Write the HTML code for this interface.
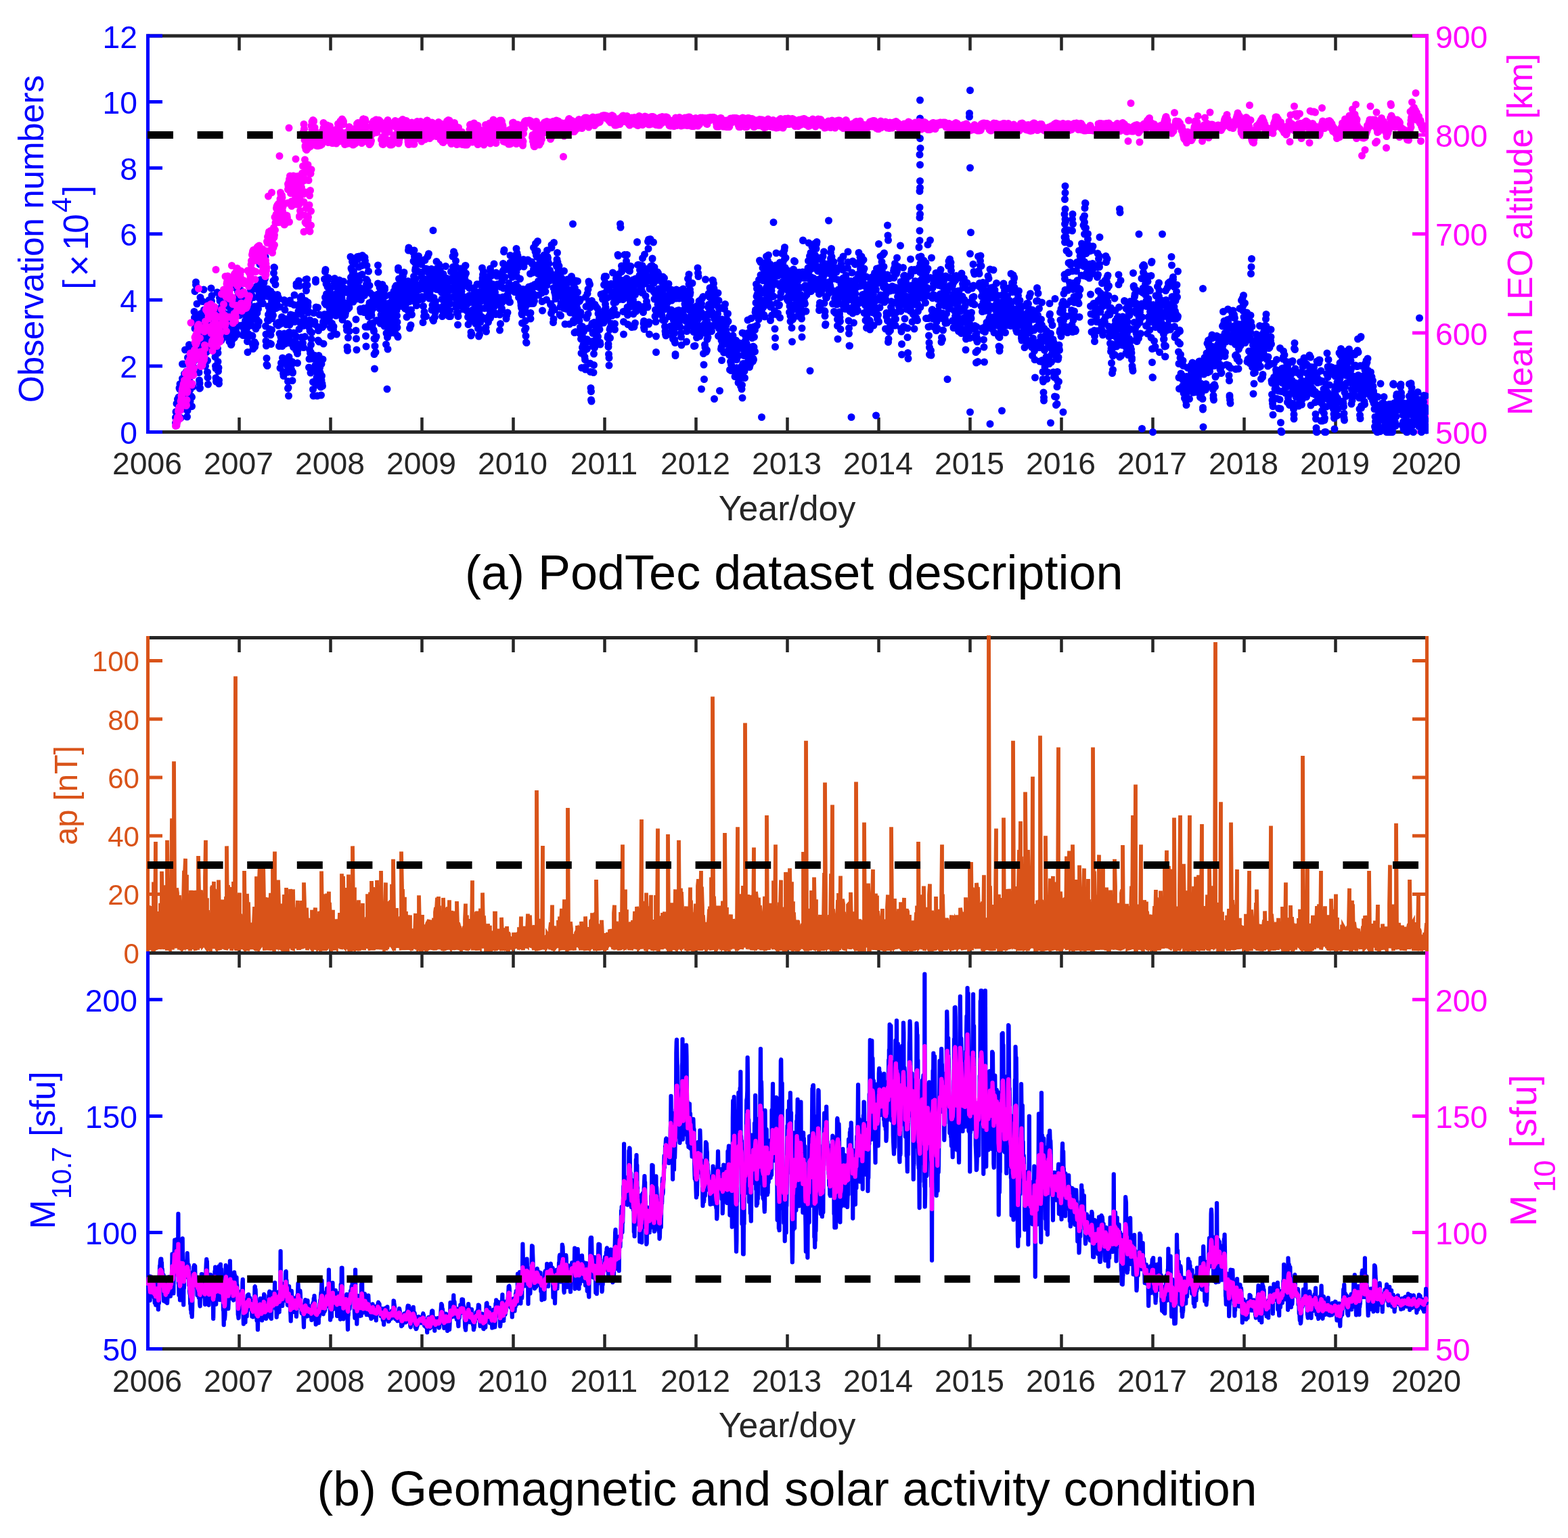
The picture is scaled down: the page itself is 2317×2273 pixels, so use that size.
<!DOCTYPE html><html><head><meta charset="utf-8"><title>PodTec dataset figure</title>
<style>html,body{margin:0;padding:0;background:#fff;overflow:hidden}svg{display:block}text{font-family:'Liberation Sans', Arial, Helvetica, sans-serif}</style></head><body>
<svg xmlns="http://www.w3.org/2000/svg" width="2317" height="2273" viewBox="0 0 2317 2273">
<rect width="2317" height="2273" fill="#fff"/>
<defs><clipPath id="ca"><rect x="216" y="30" width="1895" height="630"/></clipPath><clipPath id="cb"><rect x="216" y="939" width="1895" height="469"/></clipPath><clipPath id="cc"><rect x="216" y="1406" width="1895" height="590"/></clipPath></defs>
<path d="M216 53L2111 53" stroke="#262626" stroke-width="5"/><path d="M216 638.5L2111 638.5" stroke="#262626" stroke-width="5"/><path d="M218.5 638.5v-21.5M218.5 53v21.5M353.5 638.5v-21.5M353.5 53v21.5M488.5 638.5v-21.5M488.5 53v21.5M623.5 638.5v-21.5M623.5 53v21.5M758.5 638.5v-21.5M758.5 53v21.5M893.5 638.5v-21.5M893.5 53v21.5M1028.5 638.5v-21.5M1028.5 53v21.5M1163.5 638.5v-21.5M1163.5 53v21.5M1298.5 638.5v-21.5M1298.5 53v21.5M1433.5 638.5v-21.5M1433.5 53v21.5M1568.5 638.5v-21.5M1568.5 53v21.5M1703.5 638.5v-21.5M1703.5 53v21.5M1838.5 638.5v-21.5M1838.5 53v21.5M1973.5 638.5v-21.5M1973.5 53v21.5M2108.5 638.5v-21.5M2108.5 53v21.5" stroke="#262626" stroke-width="4.5"/><path d="M218.5 50.5L218.5 641" stroke="#0000ff" stroke-width="5"/><path d="M2108.5 50.5L2108.5 641" stroke="#ff00ff" stroke-width="5"/><path d="M218.5 638.5h21.5M218.5 540.9h21.5M218.5 443.3h21.5M218.5 345.8h21.5M218.5 248.2h21.5M218.5 150.6h21.5M218.5 53h21.5" stroke="#0000ff" stroke-width="5"/><path d="M2108.5 638.5h-21.5M2108.5 492.1h-21.5M2108.5 345.8h-21.5M2108.5 199.4h-21.5M2108.5 53h-21.5" stroke="#ff00ff" stroke-width="5"/>
<g clip-path="url(#ca)" fill="none" stroke-width="11" stroke-linecap="round">
<path d="M259.5 625h0m0 -8h0m.5 -8.5h0m.5 19.5h0m.5 -8.5h0m0 -23h0m.5 27.5h0m.5 -2h0m.5 -32h0m0 6h0m.5 1h0m.5 -4h0m.5 -6h0m0 6.5h0m.5 7h0m.5 -27h0m.5 1.5h0m0 15h0m.5 -22.5h0m.5 26.5h0m0 -19.5h0m.5 43h0m.5 -24h0m.5 1.5h0m0 8h0m.5 -19.5h0m.5 21h0m.5 -45h0m0 -21.5h0m.5 55h0m.5 -19.5h0m.5 10h0m0 14h0m.5 -59.5h0m.5 35.5h0m.5 5.5h0m0 -26.5h0m.5 27.5h0m.5 -63h0m.5 59.5h0m0 6.5h0m.5 1h0m.5 -13.5h0m0 -14h0m.5 -7.5h0m.5 8.5h0m.5 41.5h0m0 17h0m.5 -9h0m.5 -78.5h0m.5 48.5h0m0 -17h0m.5 28.5h0m.5 2h0m.5 -81h0m0 29h0m.5 24.5h0m.5 6.5h0m.5 24h0m0 -17.5h0m.5 24.5h0m.5 -87h0m.5 34h0m0 38h0m.5 -55.5h0m.5 57h0m0 13.5h0m.5 -71.5h0m.5 -10.5h0m.5 53h0m0 -60h0m.5 30.5h0m.5 -7.5h0m.5 13.5h0m0 -35.5h0m.5 -52h0m.5 9h0m.5 -39h0m0 55h0m.5 -11h0m.5 6h0m.5 -59.5h0m0 -4h0m.5 56.5h0m.5 -1h0m.5 13h0m0 -36.5h0m.5 65.5h0m.5 -15.5h0m0 -30h0m.5 24.5h0m.5 24.5h0m.5 12.5h0m0 19h0m.5 1h0m.5 11.5h0m.5 4.5h0m0 7.5h0m.5 -.5h0m.5 -134h0m.5 60.5h0m0 -13.5h0m.5 -23h0m.5 8.5h0m.5 8.5h0m0 46h0m.5 -22.5h0m.5 5h0m.5 -63.5h0m0 60h0m.5 -9.5h0m.5 -16.5h0m0 21.5h0m.5 -73h0m.5 30h0m.5 37h0m0 -21h0m.5 32.5h0m.5 -41h0m.5 39h0m0 36.5h0m.5 -10h0m.5 -32.5h0m.5 -5.5h0m0 27.5h0m.5 -29h0m.5 24h0m.5 17.5h0m0 17h0m.5 8h0m.5 10h0m.5 -53h0m0 -15.5h0m.5 -35h0m.5 -21h0m0 5.5h0m.5 12h0m.5 43.5h0m.5 -59.5h0m0 24.5h0m.5 29.5h0m.5 -20h0m.5 16h0m0 -69h0m.5 19h0m.5 -8h0m.5 28h0m0 19h0m.5 -19.5h0m.5 40h0m.5 3.5h0m0 2.5h0m.5 -34h0m.5 37.5h0m.5 -36h0m0 6h0m.5 14h0m.5 -25h0m0 40h0m.5 14.5h0m.5 13.5h0m.5 3.5h0m0 14h0m.5 5.5h0m.5 -100h0m.5 9.5h0m0 12.5h0m.5 -54h0m.5 83h0m.5 6.5h0m0 13h0m.5 14h0m.5 -5h0m.5 18.5h0m0 5h0m.5 -109.5h0m.5 -17.5h0m.5 4.5h0m0 46h0m.5 -30h0m.5 31h0m0 -33h0m.5 -3.5h0m.5 48h0m.5 -70h0m0 21h0m.5 -2h0m.5 14h0m.5 -29h0m0 31.5h0m.5 -7.5h0m.5 27.5h0m.5 -10.5h0m0 -9h0m.5 -4.5h0m.5 -13h0m.5 28h0m0 -35.5h0m.5 50.5h0m.5 -49.5h0m.5 37.5h0m0 11h0m.5 -41.5h0m.5 15.5h0m0 7h0m.5 -27.5h0m.5 51.5h0m.5 -34h0m0 21h0m.5 -18h0m.5 8.5h0m.5 23.5h0m0 -14h0m.5 -21.5h0m.5 30.5h0m.5 10.5h0m0 -18h0m.5 -9h0m.5 -30h0m.5 49h0m0 -41h0m.5 18h0m.5 35.5h0m.5 -9h0m0 8h0m.5 -41h0m.5 10.5h0m0 17.5h0m.5 6.5h0m.5 -44.5h0m.5 5h0m0 21.5h0m.5 -8.5h0m.5 -51h0m.5 -2h0m0 -1.5h0m.5 78h0m.5 -21h0m.5 -16h0m0 23.5h0m.5 8.5h0m.5 -6.5h0m.5 -8.5h0m0 -20h0m.5 -12.5h0m.5 48h0m.5 -1h0m0 -41h0m.5 -14h0m.5 -7.5h0m0 30h0m.5 -22.5h0m.5 -8.5h0m.5 3.5h0m0 -7.5h0m.5 36.5h0m.5 3.5h0m.5 -31h0m0 27h0m.5 -32h0m.5 -1h0m.5 -11.5h0m0 27h0m.5 36.5h0m.5 -43h0m.5 6.5h0m0 5.5h0m.5 6.5h0m.5 3h0m.5 24h0m0 12h0m.5 -13h0m.5 -18.5h0m0 31.5h0m.5 -39h0m.5 33h0m.5 -8.5h0m0 -44h0m.5 49.5h0m.5 -12.5h0m.5 20.5h0m0 -52h0m.5 30h0m.5 10h0m.5 3h0m0 -19.5h0m.5 9.5h0m.5 29h0m.5 16h0m0 -21.5h0m.5 -26.5h0m.5 21h0m.5 -38h0m0 7.5h0m.5 -17h0m.5 8.5h0m0 15.5h0m.5 -6.5h0m.5 3.5h0m.5 -9h0m0 15.5h0m.5 -45h0m.5 45.5h0m.5 7h0m0 -11h0m.5 -33.5h0m.5 59.5h0m.5 .5h0m0 11h0m.5 2h0m.5 6h0m.5 -76h0m0 19.5h0m.5 -32h0m.5 36h0m.5 -10h0m0 52.5h0m.5 7h0m.5 -44h0m0 14h0m.5 25.5h0m.5 -22h0m.5 -14.5h0m0 -.5h0m.5 -13h0m.5 -35h0m.5 39.5h0m0 10.5h0m.5 -20h0m.5 28.5h0m.5 -25h0m0 -4h0m.5 -1h0m.5 24h0m.5 -35h0m0 -7.5h0m.5 -12.5h0m.5 -30h0m.5 52h0m0 -27h0m.5 -2h0m.5 4.5h0m0 -32h0m.5 .5h0m.5 -1.5h0m.5 -.5h0m0 -.5h0m.5 56.5h0m.5 7.5h0m.5 .5h0m0 -20.5h0m.5 -12h0m.5 13h0m.5 -11h0m0 -5h0m.5 18.5h0m.5 -46.5h0m.5 42.5h0m0 -15.5h0m.5 -32.5h0m.5 102.5h0m.5 12h0m0 10h0m.5 7h0m.5 18.5h0m0 9.5h0m.5 .5h0m.5 1h0m.5 -113.5h0m0 46h0m.5 -35h0m.5 27h0m.5 8.5h0m0 -20h0m.5 16h0m.5 -17.5h0m.5 34.5h0m0 -26h0m.5 47h0m.5 -17h0m.5 -60h0m0 64.5h0m.5 13.5h0m.5 -44.5h0m.5 -18.5h0m0 42h0m.5 -17h0m.5 -30.5h0m.5 -4.5h0m0 -1h0m.5 31.5h0m.5 -8.5h0m0 -42.5h0m.5 -11.5h0m.5 -8.5h0m.5 .5h0m0 46.5h0m.5 7.5h0m.5 -37.5h0m.5 8.5h0m0 26h0m.5 -6h0m.5 15h0m.5 23.5h0m0 -34.5h0m.5 1h0m.5 -5h0m.5 1.5h0m0 -6.5h0m.5 44.5h0m.5 1h0m.5 -41h0m0 36.5h0m.5 -35h0m.5 70h0m0 -33h0m.5 14.5h0m.5 -39.5h0m.5 25.5h0m0 65h0m.5 -38.5h0m.5 -7.5h0m.5 38.5h0m0 -37h0m.5 7h0m.5 -38h0m.5 43h0m0 -9.5h0m.5 27h0m.5 5.5h0m.5 1.5h0m0 16h0m.5 3.5h0m.5 -5.5h0m.5 -57h0m0 -49.5h0m.5 34h0m.5 -19.5h0m0 39.5h0m.5 10.5h0m.5 -60.5h0m.5 53h0m0 -29h0m.5 8h0m.5 -31.5h0m.5 84h0m0 6.5h0m.5 2h0m.5 9.5h0m.5 13.5h0m0 10.5h0m.5 -1h0m.5 12h0m.5 -86.5h0m0 29h0m.5 -36.5h0m.5 -11h0m.5 -36h0m0 63h0m.5 -38h0m.5 -20.5h0m0 16.5h0m.5 7.5h0m.5 73.5h0m.5 1.5h0m0 -9h0m.5 -4h0m.5 28h0m.5 -11.5h0m0 -1h0m.5 -84h0m.5 47h0m.5 -39.5h0m0 18.5h0m.5 -41.5h0m.5 -14.5h0m.5 39.5h0m0 -6h0m.5 34.5h0m.5 10h0m.5 -17.5h0m0 16.5h0m.5 4.5h0m.5 -98h0m0 3h0m.5 93h0m.5 -41h0m.5 62h0m0 -14h0m.5 -5h0m.5 -66h0m.5 8.5h0m0 -9.5h0m.5 -35.5h0m.5 71.5h0m.5 -64h0m0 41.5h0m.5 -4h0m.5 -12h0m.5 -7h0m0 67.5h0m.5 -29.5h0m.5 32.5h0m.5 -13h0m0 -60.5h0m.5 18h0m.5 19.5h0m0 -14.5h0m.5 -12.5h0m.5 58.5h0m.5 -60.5h0m0 35h0m.5 32h0m.5 -43h0m.5 -16h0m0 -2h0m.5 -.5h0m.5 45.5h0m.5 -43h0m0 -32h0m.5 22h0m.5 -31.5h0m.5 16.5h0m0 -7.5h0m.5 51.5h0m.5 -61h0m.5 43.5h0m0 -34.5h0m.5 54h0m.5 -23h0m0 -5.5h0m.5 15h0m.5 21h0m.5 -22h0m0 82h0m.5 -12.5h0m.5 -14h0m.5 -43.5h0m0 16h0m.5 33h0m.5 29h0m.5 -30h0m0 -11.5h0m.5 -8.5h0m.5 -9.5h0m.5 37.5h0m0 -51h0m.5 52h0m.5 18h0m.5 16.5h0m0 11h0m.5 9.5h0m.5 0h0m0 -122.5h0m.5 67h0m.5 -50.5h0m.5 63.5h0m0 -67h0m.5 50h0m.5 14.5h0m.5 -123.5h0m0 -3h0m.5 40.5h0m.5 95.5h0m.5 8.5h0m0 11h0m.5 16h0m.5 0h0m.5 -130.5h0m0 28.5h0m.5 20h0m.5 -14.5h0m.5 46h0m0 -9h0m.5 -20.5h0m.5 -40h0m0 71.5h0m.5 7h0m.5 7h0m.5 2h0m0 13.5h0m.5 6h0m.5 12h0m.5 -22h0m0 -24h0m.5 17.5h0m.5 11.5h0m.5 3.5h0m0 -87h0m.5 47.5h0m.5 -55h0m.5 -8.5h0m0 40.5h0m.5 -27h0m.5 -10h0m.5 -6.5h0m0 -52h0m.5 35.5h0m.5 -8.5h0m0 -38h0m.5 -3h0m.5 51.5h0m.5 -8h0m0 -22.5h0m.5 15h0m.5 2.5h0m.5 9.5h0m0 -32h0m.5 9.5h0m.5 -2h0m.5 -11.5h0m0 24h0m.5 29h0m.5 3h0m.5 .5h0m0 3h0m.5 -14.5h0m.5 -27h0m.5 17h0m0 31h0m.5 8h0m.5 12h0m0 -40.5h0m.5 .5h0m.5 -19h0m.5 47h0m0 -6.5h0m.5 -22.5h0m.5 8.5h0m.5 1h0m0 -22.5h0m.5 44.5h0m.5 -4.5h0m.5 -29h0m0 -12h0m.5 -24.5h0m.5 -5.5h0m.5 36.5h0m0 -25h0m.5 12h0m.5 23.5h0m.5 -9.5h0m0 17.5h0m.5 -9.5h0m.5 7.5h0m0 29.5h0m.5 -59h0m.5 10h0m.5 -17.5h0m0 23h0m.5 -1.5h0m.5 8.5h0m.5 -20h0m0 -13h0m.5 -6h0m.5 -4.5h0m.5 34.5h0m0 -20h0m.5 27h0m.5 -15.5h0m.5 26h0m0 -29.5h0m.5 5h0m.5 6.5h0m.5 11.5h0m0 -19.5h0m.5 4h0m.5 6h0m0 22.5h0m.5 -8.5h0m.5 -36.5h0m.5 -11.5h0m0 35.5h0m.5 -24.5h0m.5 -1h0m.5 32.5h0m0 -5h0m.5 -25.5h0m.5 38h0m.5 -34h0m0 30.5h0m.5 -13.5h0m.5 -.5h0m.5 34h0m0 -30.5h0m.5 36h0m.5 25h0m.5 5h0m0 -39.5h0m.5 -22h0m.5 42.5h0m0 -44.5h0m.5 26h0m.5 -54h0m.5 63h0m0 -35h0m.5 -9h0m.5 -4h0m.5 -5.5h0m0 -18.5h0m.5 -38h0m.5 30.5h0m.5 -13.5h0m0 16h0m.5 -14.5h0m.5 15.5h0m.5 -13.5h0m0 -13.5h0m.5 19.5h0m.5 22h0m.5 18h0m0 -55.5h0m.5 10.5h0m.5 -10.5h0m0 37.5h0m.5 -6h0m.5 -32h0m.5 49h0m0 -52h0m.5 27.5h0m.5 22.5h0m.5 35h0m0 16.5h0m.5 12h0m.5 16.5h0m.5 -75.5h0m0 -30h0m.5 -32h0m.5 45h0m.5 -11.5h0m0 -30h0m.5 25h0m.5 24h0m.5 -53h0m0 15.5h0m.5 20.5h0m.5 10h0m0 6h0m.5 -3h0m.5 28.5h0m.5 2.5h0m0 1.5h0m.5 -17.5h0m.5 -12h0m.5 -38.5h0m0 13.5h0m.5 -.5h0m.5 -28h0m.5 57.5h0m0 -3.5h0m.5 26h0m.5 -28.5h0m.5 32h0m0 -5.5h0m.5 6h0m.5 -25h0m.5 -56h0m0 45.5h0m.5 -40.5h0m.5 44h0m0 53.5h0m.5 13.5h0m.5 15.5h0m.5 -92h0m0 -7h0m.5 -20.5h0m.5 65h0m.5 -42h0m0 5.5h0m.5 2h0m.5 60h0m.5 -82h0m0 67h0m.5 -16h0m.5 1h0m.5 -31h0m0 25.5h0m.5 -15h0m.5 46h0m.5 -31.5h0m0 15h0m.5 16.5h0m.5 -17h0m0 1h0m.5 3.5h0m.5 -16.5h0m.5 32h0m0 -46h0m.5 21h0m.5 21h0m.5 -30h0m0 -5h0m.5 45h0m.5 2h0m.5 11h0m0 23h0m.5 21.5h0m.5 -33.5h0m.5 -10.5h0m0 0h0m.5 19.5h0m.5 -70h0m.5 47h0m0 -50h0m.5 26h0m.5 -20h0m0 -5.5h0m.5 1h0m.5 -14h0m.5 -16h0m0 -27h0m.5 10h0m.5 35.5h0m.5 10.5h0m0 -14h0m.5 4h0m.5 -13h0m.5 23h0m0 8.5h0m.5 21.5h0m.5 -44h0m.5 31.5h0m0 -29.5h0m.5 -9h0m.5 -4.5h0m.5 40h0m0 -13.5h0m.5 -28.5h0m.5 57h0m0 -40h0m.5 7h0m.5 -6h0m.5 14.5h0m0 18h0m.5 -43h0m.5 54h0m.5 -56.5h0m0 2.5h0m.5 37.5h0m.5 -15h0m.5 8h0m0 -21.5h0m.5 72h0m.5 -16.5h0m.5 -14.5h0m0 -20h0m.5 2h0m0 115h0m.5 -76.5h0m.5 17.5h0m0 -53.5h0m.5 7h0m.5 14.5h0m0 -35.5h0m.5 20.5h0m.5 -5h0m.5 8h0m0 -7h0m.5 13.5h0m.5 -8h0m.5 -34.5h0m0 33h0m.5 23h0m.5 -13.5h0m.5 -21h0m0 -.5h0m.5 16h0m.5 -29.5h0m.5 9h0m0 -5.5h0m.5 15.5h0m.5 21.5h0m.5 -39.5h0m0 6.5h0m.5 -20.5h0m.5 57.5h0m.5 -43h0m0 25.5h0m.5 -34.5h0m.5 -11.5h0m0 68h0m.5 -14.5h0m.5 -53h0m.5 -3h0m0 14.5h0m.5 22.5h0m.5 7.5h0m.5 9.5h0m0 8h0m.5 12.5h0m.5 1.5h0m.5 -99h0m0 -3h0m.5 39.5h0m.5 -23.5h0m.5 25.5h0m0 4h0m.5 3h0m.5 8h0m.5 -22h0m0 19.5h0m.5 -23.5h0m.5 7h0m0 -22h0m.5 29h0m.5 5.5h0m.5 -6h0m0 -22.5h0m.5 -8h0m.5 -4h0m.5 10.5h0m0 -8h0m.5 12.5h0m.5 28.5h0m.5 -11.5h0m0 -35h0m.5 36.5h0m.5 -23h0m.5 40h0m0 -23h0m.5 18.5h0m.5 -18.5h0m.5 -9.5h0m0 17.5h0m.5 -17.5h0m.5 45h0m0 -22.5h0m.5 1h0m.5 -15h0m.5 26.5h0m0 -35.5h0m.5 -7.5h0m.5 -45.5h0m.5 -3h0m0 -1h0m.5 95h0m.5 -15.5h0m.5 39.5h0m0 -43h0m.5 16h0m.5 -39.5h0m.5 62h0m0 -17h0m.5 -5.5h0m.5 -18h0m.5 -5h0m0 30h0m.5 -20.5h0m.5 -28.5h0m0 10.5h0m.5 6.5h0m.5 -60h0m.5 13h0m0 45.5h0m.5 -23h0m.5 -38.5h0m.5 67.5h0m0 -58h0m.5 8.5h0m.5 11.5h0m.5 12.5h0m0 -15.5h0m.5 28.5h0m.5 -4.5h0m.5 31h0m0 -20.5h0m.5 -2h0m.5 10h0m.5 -15h0m0 4h0m.5 -27h0m.5 -12.5h0m0 54.5h0m.5 -64.5h0m.5 45h0m.5 19.5h0m0 -15h0m.5 -26h0m.5 -15h0m.5 15.5h0m0 24.5h0m.5 -40h0m.5 33h0m.5 -29.5h0m0 49h0m.5 -31h0m.5 30h0m.5 -22h0m0 1.5h0m.5 24h0m.5 34.5h0m.5 -50h0m0 26h0m.5 -30.5h0m.5 -21h0m0 66.5h0m.5 -6.5h0m.5 -48.5h0m.5 -28h0m0 -1h0m.5 30h0m.5 -16.5h0m.5 70.5h0m0 -30h0m.5 -20h0m.5 1.5h0m.5 -21.5h0m0 36.5h0m.5 -11h0m.5 -44h0m.5 53h0m0 -2.5h0m.5 -11.5h0m.5 -43h0m.5 64.5h0m0 -35.5h0m.5 37h0m.5 -7.5h0m0 4.5h0m.5 -8.5h0m.5 -17h0m.5 3.5h0m0 11.5h0m.5 -11h0m.5 -19h0m.5 17h0m0 43.5h0m.5 -55.5h0m.5 48.5h0m.5 21h0m0 -53.5h0m.5 -78h0m.5 133.5h0m.5 -34h0m0 2.5h0m.5 8.5h0m.5 -32h0m.5 31h0m0 18.5h0m.5 -6.5h0m.5 -53.5h0m0 37h0m.5 6.5h0m.5 -47.5h0m.5 -18h0m0 41h0m.5 -25h0m.5 22h0m.5 -14h0m0 -14.5h0m.5 19.5h0m.5 -.5h0m.5 13h0m0 -1.5h0m.5 -36h0m.5 1.5h0m.5 64.5h0m0 -35.5h0m.5 -5h0m.5 -15.5h0m.5 24.5h0m0 -6.5h0m.5 36h0m.5 -34.5h0m0 -7h0m.5 19h0m.5 10h0m.5 25.5h0m0 -52.5h0m.5 10.5h0m.5 34h0m.5 -36h0m0 -18.5h0m.5 47.5h0m.5 13h0m.5 -10h0m0 -6.5h0m.5 -11.5h0m.5 -17.5h0m.5 44.5h0m0 -7h0m.5 -64h0m.5 67h0m.5 -22.5h0m0 -14h0m.5 34.5h0m.5 -22h0m0 -25h0m.5 9h0m.5 -4.5h0m.5 14.5h0m0 -17h0m.5 48.5h0m.5 -21.5h0m.5 3.5h0m0 23.5h0m.5 -18.5h0m.5 10h0m.5 -45.5h0m0 35.5h0m.5 18.5h0m.5 -53.5h0m.5 1h0m0 -13.5h0m.5 13.5h0m.5 24.5h0m.5 -13.5h0m0 -25.5h0m.5 10.5h0m.5 -32h0m0 49.5h0m.5 -34h0m.5 44.5h0m.5 -11.5h0m0 -55.5h0m.5 52h0m.5 -7.5h0m.5 -40.5h0m0 21h0m.5 19.5h0m.5 -11.5h0m.5 -19.5h0m0 8.5h0m.5 60.5h0m.5 -7h0m.5 -12.5h0m0 27.5h0m.5 -29.5h0m.5 -14.5h0m.5 43.5h0m0 18h0m.5 -12.5h0m.5 -25h0m0 -12h0m.5 20.5h0m.5 -18h0m.5 -20.5h0m0 6.5h0m.5 32.5h0m.5 -46h0m.5 13h0m0 -21.5h0m.5 29h0m.5 16.5h0m.5 -25h0m0 13h0m.5 -10.5h0m.5 -16h0m.5 16.5h0m0 -7h0m.5 6h0m.5 25h0m.5 12.5h0m0 -18.5h0m.5 -42h0m.5 19.5h0m0 -11.5h0m.5 2.5h0m.5 .5h0m.5 -15h0m0 22h0m.5 -22h0m.5 11.5h0m.5 18.5h0m0 -1.5h0m.5 29.5h0m.5 8.5h0m.5 -41h0m0 42h0m.5 -19h0m.5 27.5h0m.5 -30.5h0m0 41.5h0m.5 -61h0m.5 48.5h0m.5 -22h0m0 -19.5h0m.5 11h0m.5 27h0m0 8.5h0m.5 2.5h0m.5 -3h0m.5 19.5h0m0 5h0m.5 -2h0m.5 -.5h0m.5 -25h0m0 -21.5h0m.5 -6h0m.5 17h0m.5 -21.5h0m0 25.5h0m.5 12h0m.5 -6h0m.5 -20h0m0 -22.5h0m.5 7.5h0m.5 41h0m.5 -27h0m0 21h0m.5 -29h0m.5 -4.5h0m0 44h0m.5 -28.5h0m.5 19h0m.5 -1h0m0 -36h0m.5 -12h0m.5 38.5h0m.5 -12.5h0m0 28h0m.5 11.5h0m.5 -22h0m.5 33.5h0m0 -36h0m.5 1h0m.5 32.5h0m.5 -22.5h0m0 14.5h0m.5 -31.5h0m.5 21h0m.5 -33h0m0 -7.5h0m.5 9.5h0m.5 23h0m0 -45.5h0m.5 6h0m.5 -32.5h0m.5 18.5h0m0 -3.5h0m.5 -5h0m.5 26h0m.5 -30.5h0m0 26.5h0m.5 -11.5h0m.5 6.5h0m.5 -9h0m0 41.5h0m.5 -12.5h0m.5 -34.5h0m.5 32h0m0 30h0m.5 13.5h0m.5 6h0m.5 -74h0m0 5h0m.5 6h0m.5 23h0m0 -28h0m.5 -1h0m.5 12h0m.5 3.5h0m0 39.5h0m.5 -37.5h0m.5 -22.5h0m.5 33.5h0m0 17h0m.5 -34.5h0m.5 27h0m.5 11h0m0 -73h0m.5 4.5h0m.5 26.5h0m.5 -20.5h0m0 -5h0m.5 24h0m.5 16h0m.5 -11h0m0 -9.5h0m.5 -2h0m.5 33.5h0m0 4h0m.5 -17h0m.5 7.5h0m.5 -58h0m0 42h0m.5 -5h0m.5 -2.5h0m.5 27.5h0m0 -20h0m.5 -10.5h0m.5 43h0m.5 -61.5h0m0 21h0m.5 39.5h0m.5 -59.5h0m.5 38.5h0m0 -34.5h0m.5 12h0m.5 19.5h0m.5 .5h0m0 -19.5h0m.5 22.5h0m.5 7h0m0 -8h0m.5 2.5h0m.5 -4.5h0m.5 25h0m0 23h0m.5 -67h0m.5 57.5h0m.5 -54.5h0m0 17.5h0m.5 -36h0m.5 53h0m.5 -42h0m0 39.5h0m.5 -9h0m.5 -34.5h0m.5 26.5h0m0 -38h0m.5 -11.5h0m.5 36.5h0m.5 -54h0m0 26.5h0m.5 -29h0m.5 70h0m0 1.5h0m.5 -31.5h0m.5 32h0m.5 -2h0m0 -41h0m.5 39.5h0m.5 33h0m.5 -4.5h0m0 -26.5h0m.5 -13.5h0m.5 -1.5h0m.5 10.5h0m0 26.5h0m.5 -17.5h0m.5 -4.5h0m.5 3.5h0m0 -49h0m.5 24h0m.5 28h0m.5 -53h0m0 26.5h0m.5 26.5h0m.5 -58.5h0m0 -10.5h0m.5 51.5h0m.5 -41.5h0m.5 16.5h0m0 -1h0m.5 4.5h0m.5 -7.5h0m.5 9.5h0m0 16h0m.5 -46.5h0m.5 20.5h0m.5 -2.5h0m0 -7.5h0m.5 -4.5h0m.5 -6.5h0m.5 45.5h0m0 -28h0m.5 35.5h0m.5 -3.5h0m.5 -2h0m0 -20h0m.5 -7h0m.5 21h0m.5 -52.5h0m0 34.5h0m.5 6.5h0m.5 -29.5h0m0 -5h0m.5 17h0m.5 -13h0m.5 16.5h0m0 30h0m.5 -29.5h0m.5 44.5h0m.5 -52.5h0m0 46h0m.5 1h0m.5 0h0m.5 3h0m0 -25h0m.5 15h0m.5 18.5h0m.5 3.5h0m0 2.5h0m.5 3.5h0m.5 8.5h0m.5 1.5h0m0 12.5h0m.5 -17h0m.5 -76.5h0m0 3h0m.5 40.5h0m.5 -44h0m.5 58.5h0m0 -48h0m.5 47h0m.5 -11h0m.5 31.5h0m0 26.5h0m.5 -32.5h0m.5 18.5h0m.5 11h0m0 11.5h0m.5 9.5h0m.5 .5h0m.5 -57h0m0 -16.5h0m.5 17h0m.5 -23.5h0m.5 -42.5h0m0 61h0m.5 -59h0m.5 53.5h0m0 4h0m.5 -19.5h0m.5 9.5h0m.5 10.5h0m0 20h0m.5 -27.5h0m.5 -32h0m.5 66.5h0m0 -8.5h0m.5 -36h0m.5 22h0m.5 -16.5h0m0 -45h0m.5 35.5h0m.5 -32.5h0m.5 13h0m0 33h0m.5 -2.5h0m.5 15h0m.5 -50.5h0m0 -32h0m.5 69h0m.5 4h0m0 6h0m.5 -24.5h0m.5 3h0m.5 -51.5h0m0 20h0m.5 -32h0m.5 37h0m.5 -19.5h0m0 -1h0m.5 16h0m.5 -13h0m.5 15h0m0 -23.5h0m.5 -14.5h0m.5 48h0m.5 11h0m0 -35.5h0m.5 14h0m.5 42h0m.5 -13h0m0 2h0m.5 -29h0m.5 27.5h0m0 -37.5h0m.5 35.5h0m.5 -39h0m.5 2h0m0 21.5h0m.5 3.5h0m.5 23.5h0m.5 12.5h0m0 -32.5h0m.5 46h0m.5 -40h0m.5 -22h0m0 -11h0m.5 -1.5h0m.5 41h0m.5 -48.5h0m0 17.5h0m.5 0h0m.5 12h0m.5 -20h0m0 27.5h0m.5 17h0m.5 -45.5h0m0 11.5h0m.5 -5.5h0m.5 51.5h0m.5 -21.5h0m0 -41h0m.5 -10.5h0m.5 9.5h0m.5 6h0m0 -4.5h0m.5 27h0m.5 -5h0m.5 10h0m0 -23.5h0m.5 25.5h0m.5 -5.5h0m.5 -4h0m0 -6h0m.5 2h0m.5 48.5h0m.5 -42.5h0m0 41.5h0m.5 14h0m.5 -97h0m0 -4h0m.5 44.5h0m.5 52h0m.5 -5h0m0 -40h0m.5 .5h0m.5 62.5h0m.5 -5h0m0 -46h0m.5 -67h0m.5 48h0m.5 51h0m0 -26h0m.5 -19h0m.5 22.5h0m.5 3.5h0m0 3h0m.5 -51h0m.5 30.5h0m.5 1h0m0 -28.5h0m.5 -10h0m.5 -10h0m0 45h0m.5 -31h0m.5 29h0m.5 -17h0m0 6.5h0m.5 10h0m.5 -23h0m.5 38.5h0m0 -11h0m.5 44.5h0m.5 -51h0m.5 39.5h0m0 -23.5h0m.5 36.5h0m.5 -18h0m.5 -38h0m0 22h0m.5 .5h0m.5 6.5h0m.5 -25.5h0m0 17.5h0m.5 -17h0m.5 7h0m0 26.5h0m.5 -34h0m.5 41.5h0m.5 -55h0m0 28h0m.5 15h0m.5 5.5h0m.5 30h0m0 -62.5h0m.5 -2.5h0m.5 13.5h0m.5 12h0m0 -17.5h0m.5 34.5h0m.5 -11.5h0m.5 5.5h0m0 -10h0m.5 -27.5h0m.5 16.5h0m.5 -1.5h0m0 7.5h0m.5 2h0m.5 3h0m0 6.5h0m.5 4.5h0m.5 27.5h0m.5 -20h0m0 -6h0m.5 9h0m.5 -2h0m.5 -44.5h0m0 27h0m.5 14.5h0m.5 -48.5h0m.5 51.5h0m0 -9.5h0m.5 -38.5h0m.5 32.5h0m.5 -26h0m0 -3.5h0m0 -84h0m.5 145.5h0m.5 -3h0m.5 -51.5h0m0 54.5h0m.5 -13h0m.5 -31h0m0 59h0m.5 -65.5h0m.5 13.5h0m.5 -.5h0m0 51.5h0m.5 -48h0m.5 -27.5h0m.5 26h0m0 26h0m.5 -18h0m.5 7h0m.5 -24h0m0 -16.5h0m.5 47h0m.5 -2h0m.5 4.5h0m0 -1.5h0m.5 -3h0m.5 13.5h0m.5 18.5h0m0 -47.5h0m.5 21.5h0m.5 17h0m0 -41h0m.5 19h0m.5 39.5h0m.5 -8.5h0m0 29.5h0m.5 21.5h0m.5 -53.5h0m.5 23.5h0m0 -31h0m.5 4h0m.5 12.5h0m.5 10.5h0m0 9h0m.5 -28.5h0m.5 11.5h0m.5 12h0m0 5h0m.5 9h0m.5 4h0m.5 11h0m0 3.5h0m.5 -107h0m.5 14h0m0 54h0m.5 -38.5h0m.5 1.5h0m.5 31.5h0m0 14h0m.5 -81.5h0m.5 69h0m.5 -75.5h0m0 36.5h0m.5 21h0m.5 -69h0m.5 2h0m0 28.5h0m.5 -27.5h0m.5 1.5h0m.5 34h0m0 82.5h0m.5 12.5h0m.5 24h0m.5 5h0m0 12.5h0m.5 2h0m.5 -113h0m0 -35.5h0m.5 33.5h0m.5 26.5h0m.5 7h0m0 -19h0m.5 17.5h0m.5 40.5h0m.5 -11h0m0 -16.5h0m.5 -46.5h0m.5 37.5h0m.5 -24h0m0 -40h0m.5 40.5h0m.5 1h0m.5 3h0m0 10h0m.5 -51h0m.5 46h0m.5 -17h0m0 12.5h0m.5 13.5h0m.5 -52.5h0m0 50.5h0m.5 -9h0m.5 -34h0m.5 14.5h0m0 5.5h0m.5 -.5h0m.5 -12.5h0m.5 16.5h0m0 -9.5h0m.5 28.5h0m.5 3h0m.5 -37.5h0m0 -10h0m.5 -26.5h0m.5 35h0m.5 -4h0m0 2.5h0m.5 1.5h0m.5 -7h0m.5 -21h0m0 34h0m.5 -8.5h0m.5 -33.5h0m0 39.5h0m.5 3.5h0m.5 -56h0m.5 47h0m0 -57h0m.5 -2.5h0m.5 49h0m.5 -39.5h0m0 31.5h0m.5 5h0m.5 -46h0m.5 12.5h0m0 20h0m.5 23h0m.5 -34.5h0m.5 42h0m0 -31.5h0m.5 59h0m.5 -3h0m.5 16.5h0m0 -4h0m.5 15h0m.5 5.5h0m0 11h0m.5 -77h0m.5 24h0m.5 12.5h0m0 -14h0m.5 -1.5h0m.5 -62.5h0m.5 56.5h0m0 -58.5h0m.5 60h0m.5 -48h0m.5 35h0m0 -28h0m.5 21h0m.5 -56.5h0m.5 60h0m0 -25.5h0m.5 -5.5h0m.5 15.5h0m.5 13.5h0m0 -4h0m.5 -38h0m.5 59.5h0m0 8.5h0m.5 -50h0m.5 -14.5h0m.5 24h0m0 -12.5h0m.5 -22.5h0m.5 31h0m.5 22.5h0m0 -22.5h0m.5 -34.5h0m.5 8.5h0m.5 -40h0m0 57h0m.5 -55.5h0m.5 52h0m.5 -25h0m0 21.5h0m.5 16h0m.5 -10.5h0m.5 -6.5h0m0 -11.5h0m.5 0h0m0 -83h0m.5 5h0m0 100h0m.5 -20h0m.5 1.5h0m.5 -16h0m0 -8.5h0m.5 5h0m.5 -1.5h0m.5 18h0m0 -19.5h0m.5 47.5h0m.5 18h0m.5 15h0m0 18.5h0m.5 -62h0m.5 2h0m.5 -8.5h0m0 -49h0m.5 38.5h0m.5 5.5h0m.5 -4h0m0 15.5h0m.5 -35h0m.5 33.5h0m0 -44.5h0m.5 25.5h0m.5 -35h0m.5 77.5h0m0 4h0m.5 7.5h0m.5 14h0m.5 -49h0m0 -38h0m.5 48.5h0m.5 -41h0m.5 21.5h0m0 -4h0m.5 -17h0m.5 31h0m.5 16.5h0m0 -15h0m.5 -39.5h0m.5 36h0m.5 17h0m0 36.5h0m.5 .5h0m.5 -30.5h0m0 -4h0m.5 -1h0m.5 -22.5h0m.5 -12h0m0 30h0m.5 20.5h0m.5 -31h0m.5 50h0m0 -62h0m.5 -5.5h0m.5 5h0m.5 57h0m0 -42h0m.5 -23.5h0m.5 38.5h0m.5 -34.5h0m0 44h0m.5 -45h0m.5 -.5h0m.5 -56.5h0m0 -.5h0m.5 73h0m.5 -39h0m.5 58.5h0m0 -34.5h0m.5 -1h0m.5 -23h0m0 28.5h0m.5 9.5h0m.5 -22.5h0m.5 7h0m0 -15h0m.5 29h0m.5 -19h0m.5 45.5h0m0 -29h0m.5 -.5h0m.5 4h0m.5 -17.5h0m0 21h0m.5 -40h0m.5 -11h0m.5 51.5h0m0 20.5h0m.5 8h0m.5 16.5h0m.5 -3.5h0m0 9.5h0m.5 2.5h0m.5 -110.5h0m0 39.5h0m.5 -18.5h0m.5 22h0m.5 18.5h0m0 -34h0m.5 13h0m.5 -9.5h0m.5 38.5h0m0 8h0m.5 -43h0m.5 41.5h0m.5 1.5h0m0 .5h0m.5 -97h0m.5 10.5h0m.5 -13.5h0m0 125h0m.5 -3h0m.5 18h0m.5 -96.5h0m0 29.5h0m.5 -31h0m.5 19h0m0 -61.5h0m.5 40h0m.5 14.5h0m.5 16.5h0m0 -10.5h0m.5 -.5h0m.5 -21h0m.5 -10h0m0 -.5h0m.5 18h0m.5 -1.5h0m.5 -40.5h0m0 59.5h0m.5 13.5h0m.5 -13h0m.5 -23h0m0 47h0m.5 -9h0m.5 34.5h0m.5 -9.5h0m0 -43h0m.5 60.5h0m.5 21.5h0m0 23.5h0m.5 -56h0m.5 -57.5h0m.5 30h0m0 -23.5h0m.5 -11.5h0m.5 48h0m.5 -46.5h0m0 57.5h0m.5 -34h0m.5 22h0m.5 6h0m0 -23.5h0m.5 16.5h0m.5 -33.5h0m.5 12h0m0 10.5h0m.5 20h0m.5 -44.5h0m.5 13.5h0m0 -10h0m.5 25.5h0m.5 -28.5h0m0 53h0m.5 -49.5h0m.5 17h0m.5 39.5h0m0 -64h0m.5 41h0m.5 -30.5h0m.5 38h0m0 -41h0m.5 -5.5h0m.5 46h0m.5 16h0m0 9.5h0m.5 7h0m.5 4.5h0m.5 2h0m0 -46h0m.5 2.5h0m.5 -15h0m.5 -12h0m0 15.5h0m.5 15h0m.5 -11h0m0 2h0m.5 -6h0m.5 -16h0m.5 17h0m0 -22.5h0m.5 24.5h0m.5 23.5h0m.5 -37.5h0m0 5.5h0m.5 8.5h0m.5 19.5h0m.5 -23.5h0m0 42h0m.5 -41h0m.5 17h0m.5 -14h0m0 46h0m.5 -61.5h0m.5 53h0m.5 2.5h0m0 14h0m.5 3h0m.5 -28.5h0m0 -.5h0m.5 9h0m.5 7.5h0m.5 4h0m0 9.5h0m.5 3h0m.5 1.5h0m.5 17h0m0 2h0m.5 -61h0m.5 -23.5h0m.5 -13h0m0 7.5h0m.5 36.5h0m.5 2.5h0m.5 .5h0m0 -16h0m.5 23.5h0m.5 -42.5h0m.5 34.5h0m0 3.5h0m.5 -19.5h0m.5 -17.5h0m0 38.5h0m.5 -20h0m.5 11.5h0m.5 12.5h0m0 -54h0m.5 43h0m.5 -37h0m.5 56.5h0m0 6h0m.5 12h0m.5 -46h0m.5 -36h0m0 12.5h0m.5 26.5h0m.5 1.5h0m.5 -41.5h0m0 38.5h0m.5 -33h0m.5 34h0m.5 -9h0m0 -26h0m.5 26h0m.5 -8.5h0m0 .5h0m.5 -7.5h0m.5 27h0m.5 -27h0m0 32.5h0m.5 -29.5h0m.5 60h0m.5 -19.5h0m0 4h0m.5 -5.5h0m.5 -47.5h0m.5 9.5h0m0 -34h0m.5 -.5h0m.5 35.5h0m.5 -27h0m0 -14.5h0m.5 47.5h0m.5 5.5h0m.5 -23h0m0 -7.5h0m.5 4.5h0m.5 13h0m0 -1h0m.5 22.5h0m.5 10h0m.5 -16.5h0m0 14.5h0m.5 -15.5h0m.5 -41h0m.5 53h0m0 11.5h0m.5 -28.5h0m.5 25h0m.5 -6.5h0m0 17.5h0m.5 21h0m.5 -43h0m.5 9h0m0 -15.5h0m.5 49h0m.5 -29h0m.5 -.5h0m0 6.5h0m.5 -23h0m.5 13.5h0m0 -11h0m.5 31.5h0m.5 -47h0m.5 22h0m0 13.5h0m.5 -91.5h0m.5 7.5h0m.5 5h0m0 81.5h0m.5 -36h0m.5 -9h0m.5 24.5h0m0 24.5h0m.5 3h0m.5 -53h0m.5 8h0m0 33h0m.5 7.5h0m.5 -39.5h0m.5 9h0m0 -13h0m0 126h0m.5 -86.5h0m.5 -47.5h0m0 41h0m.5 -15h0m.5 17.5h0m.5 -46h0m0 27.5h0m.5 56.5h0m.5 16.5h0m.5 21.5h0m0 -80h0m.5 -1.5h0m.5 30.5h0m.5 -41.5h0m0 45.5h0m.5 -100.5h0m.5 62h0m.5 18h0m0 27h0m.5 -1h0m.5 -1.5h0m.5 -43.5h0m0 27.5h0m.5 -37.5h0m.5 34.5h0m0 -11h0m.5 -33.5h0m.5 -20h0m.5 16h0m0 15h0m.5 16h0m.5 -48h0m.5 6.5h0m0 -14h0m.5 33.5h0m.5 -20.5h0m.5 10h0m0 4h0m.5 -22h0m.5 59h0m.5 -8h0m0 -20.5h0m.5 -9.5h0m.5 -37.5h0m.5 13.5h0m0 -13h0m.5 9.5h0m.5 23.5h0m0 -28.5h0m.5 7.5h0m.5 44h0m0 119h0m.5 -118h0m0 -3.5h0m.5 13h0m.5 -42h0m.5 29h0m0 -35h0m.5 14h0m.5 32.5h0m.5 -9h0m0 -26.5h0m.5 30.5h0m.5 6.5h0m.5 -7.5h0m0 -9.5h0m.5 -31h0m.5 63.5h0m.5 -52.5h0m0 11h0m.5 30.5h0m.5 -30.5h0m0 1.5h0m.5 -2h0m0 123h0m.5 -83.5h0m.5 3.5h0m0 -17h0m.5 -3h0m.5 38.5h0m.5 -3h0m0 -10h0m.5 29.5h0m.5 -60.5h0m.5 35h0m0 -8.5h0m.5 -14h0m.5 -5h0m.5 -5h0m0 17h0m.5 29.5h0m.5 -19.5h0m.5 -19h0m0 -26h0m.5 63.5h0m.5 -47.5h0m0 -23h0m.5 26h0m.5 18h0m.5 -5.5h0m0 -7.5h0m.5 -9h0m.5 37h0m.5 -45h0m0 31h0m.5 12h0m.5 -43h0m.5 35h0m0 -23.5h0m.5 43h0m.5 -21h0m.5 22.5h0m0 5h0m.5 -1.5h0m.5 23.5h0m.5 -34.5h0m0 13.5h0m.5 9h0m.5 -19h0m0 32h0m.5 -9h0m.5 -8.5h0m.5 -11h0m0 26h0m.5 -41.5h0m.5 2h0m.5 -9.5h0m0 27h0m.5 -37.5h0m.5 19.5h0m.5 6.5h0m0 36h0m.5 -36h0m.5 10.5h0m.5 2h0m0 32.5h0m.5 -41h0m.5 31.5h0m.5 -44h0m0 49h0m.5 -7.5h0m.5 -13h0m0 12h0m.5 4h0m.5 -1.5h0m.5 3.5h0m0 6h0m.5 3h0m.5 7h0m.5 -12h0m0 -28h0m.5 -10.5h0m.5 41.5h0m.5 -49.5h0m0 37h0m.5 -.5h0m.5 15.5h0m.5 -2h0m0 13.5h0m.5 -60.5h0m.5 32h0m.5 16.5h0m0 16.5h0m.5 -6h0m.5 19h0m0 -96h0m.5 46.5h0m.5 -1h0m.5 5.5h0m0 -29h0m.5 -21.5h0m.5 33h0m.5 -6.5h0m0 29.5h0m.5 10h0m.5 -21.5h0m.5 -33.5h0m0 -7.5h0m.5 23.5h0m.5 20.5h0m.5 -32.5h0m0 13h0m.5 0h0m.5 -27.5h0m.5 43h0m0 -38.5h0m.5 -24.5h0m.5 62h0m0 -43h0m.5 45.5h0m.5 -6.5h0m.5 -1h0m0 -38h0m.5 50.5h0m.5 -20.5h0m.5 -6h0m0 23h0m.5 -55h0m.5 46.5h0m.5 -60h0m0 42.5h0m.5 -17.5h0m.5 -2.5h0m.5 6.5h0m0 -2.5h0m.5 -4h0m.5 41h0m.5 -4h0m0 -18h0m.5 19.5h0m.5 -18.5h0m0 -30h0m.5 15h0m.5 21h0m.5 .5h0m0 -32h0m.5 -26h0m.5 -3.5h0m.5 -10.5h0m0 19h0m.5 -46.5h0m.5 18h0m.5 -11.5h0m0 54.5h0m.5 -46h0m.5 20h0m.5 7.5h0m0 -12.5h0m.5 -7h0m.5 29h0m.5 -58.5h0m0 11.5h0m.5 8.5h0m.5 -48.5h0m.5 1h0m0 56h0m.5 7.5h0m.5 -43h0m0 -19h0m.5 19.5h0m.5 36.5h0m.5 21h0m0 -6h0m0 158h0m.5 -202.5h0m.5 36.5h0m.5 -54.5h0m0 18.5h0m.5 17h0m.5 22.5h0m.5 -21.5h0m0 -43.5h0m.5 76.5h0m.5 -15h0m.5 17.5h0m0 -59h0m.5 -5.5h0m.5 25h0m.5 5h0m0 -31.5h0m.5 -2h0m.5 -21h0m0 46h0m.5 15.5h0m.5 -2.5h0m.5 -15.5h0m0 -4h0m.5 -33h0m.5 27.5h0m.5 12h0m0 -48h0m.5 24.5h0m.5 4.5h0m.5 -12.5h0m0 18.5h0m.5 36.5h0m.5 -58h0m.5 63h0m0 20h0m.5 -24h0m.5 -15.5h0m.5 17h0m0 -21.5h0m.5 36.5h0m.5 -27.5h0m0 -38.5h0m.5 7h0m.5 15h0m.5 -14.5h0m0 6.5h0m.5 24h0m0 -109.5h0m.5 72h0m.5 -4h0m0 3.5h0m.5 59.5h0m.5 26.5h0m.5 13.5h0m0 13h0m.5 -114.5h0m.5 -6h0m.5 -18h0m0 33.5h0m.5 11h0m.5 29.5h0m.5 -45.5h0m0 -3.5h0m.5 66.5h0m.5 -58h0m0 55.5h0m.5 -58.5h0m.5 -6h0m.5 2.5h0m0 50.5h0m.5 -1h0m.5 -28h0m.5 47h0m0 -81.5h0m.5 50h0m.5 1.5h0m.5 -7h0m0 -44h0m.5 35h0m.5 -18h0m.5 19h0m0 -50h0m.5 53.5h0m.5 -11.5h0m.5 -29h0m0 10.5h0m.5 28.5h0m.5 -51.5h0m0 32.5h0m.5 -2h0m.5 -36h0m.5 13h0m0 -17h0m.5 30h0m.5 14h0m.5 -12h0m0 -16.5h0m.5 33h0m.5 -13h0m.5 17h0m0 3h0m.5 19h0m.5 3h0m.5 -26.5h0m0 -12.5h0m.5 25.5h0m.5 15.5h0m.5 -44.5h0m0 26.5h0m.5 8h0m.5 26.5h0m0 -43h0m.5 34h0m.5 -45h0m.5 59.5h0m0 8h0m.5 -24.5h0m.5 -21.5h0m.5 -11.5h0m0 48.5h0m.5 18.5h0m.5 20.5h0m.5 -47.5h0m0 -17.5h0m.5 32h0m.5 -56h0m.5 -18h0m0 11.5h0m.5 -9h0m.5 -15h0m.5 40.5h0m0 -15.5h0m.5 -24h0m.5 64.5h0m0 -49.5h0m.5 55.5h0m.5 -24.5h0m.5 5h0m0 -18.5h0m.5 25.5h0m.5 4h0m.5 -18.5h0m0 7.5h0m.5 -24.5h0m.5 54h0m.5 -52.5h0m0 44h0m.5 -22.5h0m.5 31h0m.5 -64.5h0m0 22h0m.5 0h0m.5 26.5h0m.5 -42.5h0m0 26.5h0m.5 -10h0m.5 23h0m0 9h0m.5 8.5h0m.5 5.5h0m.5 14h0m0 13h0m.5 -58.5h0m.5 -37.5h0m.5 -47h0m0 .5h0m.5 89h0m.5 -41.5h0m.5 8h0m0 35.5h0m.5 -.5h0m.5 -43h0m.5 46h0m0 -10.5h0m.5 -16.5h0m.5 -15.5h0m.5 20.5h0m0 33h0m.5 -55h0m.5 4.5h0m0 26h0m.5 -35h0m.5 1h0m.5 9.5h0m0 -7.5h0m.5 -7.5h0m.5 -10.5h0m.5 -26.5h0m0 52.5h0m.5 17h0m.5 -28.5h0m.5 -21.5h0m0 43h0m.5 -9h0m0 135.5h0m.5 -139h0m.5 -35.5h0m0 20.5h0m.5 36.5h0m.5 -20.5h0m.5 17.5h0m0 -10.5h0m.5 -52h0m.5 52h0m0 -20.5h0m.5 -1.5h0m.5 25.5h0m.5 -9.5h0m0 -38h0m.5 1.5h0m.5 4h0m.5 13.5h0m0 -10h0m.5 -5.5h0m.5 12h0m.5 -20.5h0m0 -9h0m.5 58h0m.5 -49.5h0m.5 26h0m0 -33h0m.5 -3h0m.5 70.5h0m.5 -47.5h0m0 47h0m.5 -27h0m.5 -6h0m0 33.5h0m.5 -15h0m.5 14h0m.5 31.5h0m0 -24h0m.5 17.5h0m.5 -4.5h0m.5 -23.5h0m0 31.5h0m.5 -36h0m.5 -2h0m.5 15h0m0 -38h0m.5 29.5h0m.5 -39.5h0m.5 43.5h0m0 -21h0m.5 17h0m.5 -45h0m.5 10h0m0 20.5h0m.5 -8h0m.5 23.5h0m0 -53h0m.5 76h0m.5 11.5h0m.5 1h0m0 6.5h0m.5 13.5h0m.5 -1.5h0m.5 -61.5h0m0 22h0m.5 -41.5h0m.5 42h0m.5 -2h0m0 -36.5h0m.5 .5h0m.5 -12h0m.5 13.5h0m0 -5h0m.5 23.5h0m.5 -25h0m0 -71h0m.5 104h0m0 3h0m.5 -15h0m.5 -1.5h0m0 -24h0m.5 29h0m.5 2.5h0m.5 -42h0m0 -8.5h0m.5 18h0m.5 -24h0m.5 21h0m0 -9h0m.5 28.5h0m.5 -9h0m.5 -5.5h0m0 55.5h0m.5 -18.5h0m.5 -29.5h0m.5 29h0m0 -43h0m.5 73.5h0m.5 -13.5h0m.5 -6h0m0 -8h0m.5 -21h0m.5 50.5h0m0 -62h0m.5 -4.5h0m.5 66h0m.5 -60h0m0 34h0m.5 14h0m.5 14.5h0m.5 7.5h0m0 9.5h0m.5 19.5h0m.5 -87.5h0m.5 18.5h0m0 -4h0m.5 12h0m.5 8.5h0m.5 12.5h0m0 3h0m.5 5h0m.5 6h0m.5 11.5h0m0 -90.5h0m.5 -12h0m.5 36.5h0m0 -29.5h0m.5 32h0m.5 -3h0m.5 -1h0m0 17.5h0m.5 -38h0m.5 21.5h0m.5 -41h0m0 32h0m.5 41.5h0m.5 -13.5h0m.5 -4.5h0m0 -10.5h0m.5 -8h0m.5 14h0m.5 26.5h0m0 -12h0m.5 -17h0m.5 -20.5h0m.5 5.5h0m0 12h0m.5 21h0m.5 -24.5h0m0 14h0m.5 21.5h0m.5 -60.5h0m.5 -8.5h0m0 -15.5h0m.5 83h0m.5 19h0m.5 11h0m0 8h0m.5 18h0m.5 0h0m.5 -74h0m0 23h0m.5 -2h0m.5 -33.5h0m.5 -9h0m0 27h0m.5 -8h0m0 182h0m.5 -183h0m.5 -16.5h0m0 -14h0m.5 28.5h0m.5 31.5h0m0 -77h0m.5 1h0m.5 49.5h0m.5 40.5h0m0 -49h0m.5 22.5h0m.5 -14h0m.5 -16h0m0 15h0m.5 -45h0m.5 43.5h0m.5 16h0m0 -24.5h0m.5 -12.5h0m.5 42h0m.5 -12.5h0m0 18h0m.5 -17.5h0m.5 16.5h0m.5 -.5h0m0 -70.5h0m.5 21h0m.5 3h0m0 -7.5h0m.5 -31.5h0m.5 74.5h0m.5 -36.5h0m0 -23.5h0m.5 35h0m.5 -43h0m.5 31.5h0m0 -14h0m.5 -13.5h0m.5 19h0m.5 -24h0m0 43h0m.5 -35h0m.5 21h0m.5 -11h0m0 38.5h0m.5 -18h0m.5 -16.5h0m.5 7.5h0m0 -24.5h0m.5 57h0m.5 -44h0m0 65.5h0m.5 -15h0m.5 1h0m.5 2.5h0m0 -17h0m.5 39.5h0m.5 -49.5h0m.5 -15h0m0 12h0m.5 63.5h0m.5 -18h0m.5 -10.5h0m0 20h0m.5 -47h0m.5 17.5h0m.5 13h0m0 22h0m.5 3.5h0m.5 -59.5h0m.5 16h0m0 16h0m.5 16h0m.5 1.5h0m0 12h0m.5 -5.5h0m.5 -47.5h0m.5 -18h0m0 38h0m.5 -37.5h0m.5 1.5h0m.5 42.5h0m0 -51h0m.5 49.5h0m.5 -27.5h0m.5 16h0m0 14.5h0m.5 -27h0m.5 46h0m.5 -41h0m0 7.5h0m.5 -22.5h0m.5 -21.5h0m.5 9h0m0 -3h0m.5 -5h0m.5 37h0m0 18h0m.5 -31.5h0m0 186h0m.5 -148.5h0m.5 -68.5h0m0 46.5h0m.5 13h0m.5 15h0m.5 -66h0m0 13h0m.5 47h0m.5 -48h0m.5 58h0m0 -79h0m0 -36h0m.5 56h0m.5 -10h0m.5 48h0m0 -59h0m.5 6.5h0m.5 -23h0m.5 57h0m0 7.5h0m.5 -32.5h0m.5 -7h0m.5 -17h0m0 28.5h0m.5 -14.5h0m.5 -7h0m0 19h0m.5 -36.5h0m.5 38.5h0m.5 9.5h0m0 0h0m.5 -30.5h0m.5 -20h0m.5 72.5h0m0 -26h0m.5 19h0m.5 -26.5h0m.5 73h0m0 -44h0m.5 -7h0m.5 -6.5h0m.5 34h0m0 5.5h0m.5 -44h0m.5 -18h0m.5 68h0m0 -141h0m.5 15h0m.5 7h0m0 150.5h0m.5 -4.5h0m.5 -10.5h0m.5 -15h0m0 -12.5h0m.5 -51.5h0m.5 18.5h0m.5 50.5h0m0 8h0m.5 -78h0m.5 43.5h0m.5 .5h0m0 -9h0m.5 -21.5h0m.5 35.5h0m.5 -36.5h0m0 53h0m.5 5.5h0m.5 -1.5h0m.5 -51h0m0 19h0m.5 -47.5h0m.5 -3h0m0 13h0m.5 54.5h0m.5 5.5h0m.5 -77h0m0 -4h0m.5 91.5h0m.5 -9.5h0m.5 -9.5h0m0 -37h0m.5 -20.5h0m.5 25h0m.5 -28.5h0m0 -20h0m.5 64h0m.5 -6.5h0m.5 -44.5h0m0 37h0m.5 14h0m.5 1h0m.5 7h0m0 -14h0m.5 -7.5h0m.5 -4.5h0m0 21h0m.5 -18h0m.5 -67h0m.5 53.5h0m0 43.5h0m.5 25.5h0m.5 4.5h0m.5 18.5h0m0 15.5h0m.5 -82h0m.5 -16h0m.5 24h0m0 -2h0m.5 -52.5h0m.5 39h0m.5 48h0m0 -74.5h0m.5 41h0m.5 -42h0m.5 64h0m0 -62.5h0m.5 18h0m.5 -1.5h0m0 15.5h0m.5 -24.5h0m.5 -4.5h0m.5 29h0m0 10h0m.5 6.5h0m.5 -18.5h0m.5 46.5h0m0 13.5h0m.5 23h0m.5 8.5h0m.5 -121.5h0m0 43h0m.5 -7.5h0m.5 -2h0m.5 -14h0m0 16.5h0m.5 -6.5h0m.5 21.5h0m.5 -52.5h0m0 -24h0m.5 76h0m.5 -37h0m0 -19.5h0m.5 -4h0m.5 49.5h0m.5 27.5h0m0 -53.5h0m.5 4h0m.5 38h0m.5 -40.5h0m0 11h0m.5 15.5h0m.5 -6.5h0m.5 42.5h0m0 -87.5h0m.5 1.5h0m.5 68.5h0m.5 -53h0m0 10h0m.5 20.5h0m.5 -21h0m.5 45h0m0 -33h0m.5 13.5h0m.5 -6h0m0 -18.5h0m.5 47.5h0m.5 -24h0m.5 -16h0m0 26.5h0m.5 -44h0m.5 -17.5h0m.5 -3h0m0 -15.5h0m0 -14.5h0m.5 51h0m.5 .5h0m0 -232.5h0m0 44h0m0 54h0m0 24h0m0 15h0m0 19.5h0m0 14.5h0m.5 47h0m0 28h0m0 -282.5h0m0 27h0m0 29.5h0m0 39h0m0 24h0m0 10h0m0 39h0m0 63.5h0m.5 74h0m0 -235h0m0 170.5h0m.5 50h0m.5 -60.5h0m0 10h0m.5 29.5h0m.5 18.5h0m.5 -25h0m0 -25.5h0m.5 48.5h0m.5 -48.5h0m0 46h0m.5 -7h0m.5 -19h0m.5 35h0m0 -56.5h0m.5 48.5h0m.5 -23h0m.5 -14h0m0 -.5h0m.5 20h0m.5 31.5h0m.5 -44.5h0m0 -14.5h0m.5 82h0m.5 -69.5h0m.5 13h0m0 11h0m.5 3h0m.5 9h0m.5 -40h0m0 -35.5h0m.5 75.5h0m.5 33.5h0m0 12.5h0m.5 13h0m.5 10.5h0m.5 7h0m0 10.5h0m.5 .5h0m.5 -169.5h0m.5 55.5h0m0 71.5h0m.5 36h0m.5 7h0m.5 -144h0m0 86.5h0m.5 -9h0m.5 -1h0m.5 -17h0m0 -15h0m.5 45.5h0m.5 -35.5h0m.5 26h0m0 -42.5h0m.5 20.5h0m.5 44h0m0 -63h0m.5 16h0m.5 -19h0m.5 21.5h0m0 -26h0m.5 49h0m.5 -58.5h0m.5 85h0m0 -20.5h0m.5 7.5h0m.5 -64h0m.5 73.5h0m0 -25h0m.5 -18h0m.5 27.5h0m.5 -66.5h0m0 18.5h0m.5 17.5h0m.5 -2.5h0m.5 25h0m0 -9.5h0m.5 -14h0m.5 -18.5h0m0 -17h0m.5 32h0m.5 -36h0m.5 24h0m0 44.5h0m.5 38.5h0m.5 -6.5h0m.5 -89.5h0m0 61h0m.5 31h0m.5 -38.5h0m.5 25h0m0 -69.5h0m.5 27h0m.5 -29.5h0m.5 27h0m0 -13h0m.5 17h0m.5 5h0m.5 -29h0m0 48.5h0m.5 6h0m.5 -69.5h0m0 38.5h0m.5 -4.5h0m.5 21.5h0m.5 -22h0m0 -3.5h0m.5 39h0m.5 -47.5h0m0 131h0m.5 -107h0m0 -14.5h0m.5 3h0m.5 -49h0m.5 32h0m0 -39h0m.5 5.5h0m.5 19h0m.5 -22h0m0 -5.5h0m.5 73h0m.5 -34.5h0m.5 -33.5h0m0 6h0m.5 6h0m.5 21h0m0 23.5h0m.5 -22h0m.5 25.5h0m.5 -26h0m0 52h0m.5 -33h0m.5 -5.5h0m.5 49h0m0 -.5h0m.5 -67h0m.5 -7.5h0m.5 63.5h0m0 -13.5h0m.5 -29h0m.5 37h0m.5 4.5h0m0 -58h0m.5 56.5h0m.5 -63h0m.5 35.5h0m0 7h0m.5 -3h0m.5 16.5h0m0 18.5h0m.5 -31.5h0m.5 19.5h0m.5 -40h0m0 54h0m.5 5.5h0m.5 -59h0m.5 45h0m0 8h0m.5 -47h0m.5 48h0m.5 -44h0m0 19.5h0m.5 24h0m.5 -27h0m.5 -13.5h0m0 49h0m.5 -88.5h0m.5 67h0m.5 -33h0m0 -25.5h0m.5 7h0m.5 52h0m0 -46.5h0m.5 32.5h0m.5 -37h0m.5 -6h0m0 -3h0m.5 31.5h0m.5 32.5h0m.5 -23h0m0 16.5h0m.5 -.5h0m.5 48.5h0m.5 -22h0m0 6h0m.5 -13h0m.5 -25.5h0m.5 24.5h0m0 -69h0m.5 45h0m.5 18h0m.5 -52.5h0m0 58h0m.5 -16h0m.5 -1.5h0m0 -6h0m.5 26.5h0m.5 -17.5h0m0 -304.5h0m0 5h0m.5 327h0m0 -20.5h0m.5 -32.5h0m0 -313h0m0 114.5h0m0 127h0m0 234h0m.5 -126h0m.5 -14h0m0 16.5h0m0 -142h0m.5 127h0m.5 -8.5h0m.5 23.5h0m0 -37h0m.5 -22.5h0m.5 13.5h0m.5 8h0m0 -23.5h0m.5 -33.5h0m.5 31.5h0m.5 16.5h0m0 -37h0m.5 48.5h0m.5 -45h0m0 45h0m.5 31.5h0m.5 3h0m.5 11h0m0 4.5h0m.5 20.5h0m.5 15.5h0m.5 -53h0m0 9.5h0m.5 6.5h0m.5 6h0m.5 13h0m0 0h0m.5 16.5h0m.5 -155.5h0m.5 21.5h0m0 1h0m.5 21.5h0m.5 -18.5h0m.5 17h0m0 -3h0m.5 3.5h0m.5 -36.5h0m0 7h0m.5 -14.5h0m.5 47.5h0m.5 -32.5h0m0 59.5h0m.5 -14.5h0m.5 -10h0m.5 32.5h0m0 24.5h0m.5 -54.5h0m.5 -13h0m.5 29h0m0 42.5h0m.5 13h0m.5 11h0m.5 22h0m0 -75.5h0m.5 -31h0m.5 62h0m.5 -71.5h0m0 13.5h0m.5 49.5h0m.5 4h0m0 -52.5h0m.5 2.5h0m.5 40.5h0m.5 -30.5h0m0 31h0m.5 -24.5h0m.5 -11h0m.5 -33.5h0m0 42h0m.5 9.5h0m.5 -48h0m.5 26.5h0m0 34.5h0m.5 -2h0m.5 -18.5h0m.5 -54h0m0 70.5h0m0 158h0m.5 -153h0m.5 -48h0m.5 3.5h0m0 11h0m.5 45.5h0m.5 -46.5h0m0 31.5h0m.5 -40.5h0m.5 43.5h0m.5 1.5h0m0 2.5h0m.5 -53h0m.5 -25.5h0m.5 35.5h0m0 34h0m.5 23h0m.5 -58.5h0m.5 38h0m0 -42.5h0m.5 28.5h0m.5 1h0m.5 -7.5h0m0 30.5h0m.5 -9.5h0m.5 -53h0m.5 45.5h0m0 -19h0m.5 26h0m.5 7.5h0m0 -42h0m.5 24h0m.5 15.5h0m.5 21h0m0 -41.5h0m.5 56.5h0m.5 -14h0m.5 .5h0m0 20h0m.5 -5.5h0m.5 -47h0m.5 26h0m0 -17.5h0m.5 12.5h0m.5 -2h0m.5 -11h0m0 -37.5h0m.5 46h0m0 124.5h0m.5 -130.5h0m.5 -3.5h0m0 -25h0m.5 7.5h0m.5 -10.5h0m.5 -26h0m0 4.5h0m.5 50.5h0m.5 -16h0m0 -7.5h0m.5 -21h0m.5 33h0m.5 11h0m0 18h0m.5 -10h0m.5 -33h0m.5 32.5h0m0 -15.5h0m.5 13h0m.5 -51.5h0m.5 29.5h0m0 -19h0m.5 23h0m.5 -6.5h0m.5 -28h0m0 34.5h0m.5 -5.5h0m.5 21h0m.5 -3.5h0m0 -15.5h0m.5 -12.5h0m.5 3.5h0m0 -22h0m.5 47.5h0m.5 8h0m.5 -77h0m0 48h0m.5 14h0m.5 -38.5h0m.5 -9.5h0m0 7.5h0m.5 5.5h0m.5 -1.5h0m.5 -23.5h0m0 52h0m.5 -41h0m.5 9.5h0m.5 -17h0m0 1.5h0m.5 13.5h0m.5 5.5h0m.5 40.5h0m0 -13.5h0m.5 19h0m.5 -11h0m0 -21h0m.5 43h0m.5 -30.5h0m.5 33.5h0m0 -28h0m.5 20h0m.5 -40h0m.5 4.5h0m0 -12h0m.5 2h0m.5 33.5h0m.5 -40.5h0m0 24h0m.5 -4.5h0m.5 15.5h0m.5 -5.5h0m0 -15.5h0m.5 36h0m.5 -22.5h0m.5 -5.5h0m0 26.5h0m.5 13h0m.5 8.5h0m0 -2.5h0m.5 5.5h0m.5 -22h0m.5 -13.5h0m0 8.5h0m.5 -2.5h0m.5 5.5h0m.5 2.5h0m0 18h0m.5 -14.5h0m.5 -2.5h0m.5 31h0m0 -44h0m.5 29h0m.5 -34h0m.5 15.5h0m0 18.5h0m.5 -7h0m.5 -10h0m.5 25h0m0 -54h0m.5 -4h0m.5 54.5h0m0 -37.5h0m.5 12.5h0m.5 -16.5h0m.5 -12.5h0m0 20.5h0m.5 8.5h0m.5 13.5h0m.5 -35h0m0 -18h0m.5 47h0m.5 20.5h0m.5 -72h0m0 71h0m.5 -36h0m.5 16.5h0m.5 3.5h0m0 -25h0m.5 49h0m.5 -3.5h0m.5 -51.5h0m0 67.5h0m.5 -21.5h0m.5 -4h0m0 5.5h0m.5 -33.5h0m.5 -9h0m.5 25h0m0 22.5h0m.5 8h0m.5 13h0m.5 26.5h0m0 -89.5h0m.5 2.5h0m.5 -5.5h0m.5 -5h0m0 9.5h0m.5 -25h0m.5 38.5h0m.5 -57.5h0m0 -.5h0m.5 19h0m.5 21.5h0m.5 -32.5h0m0 49.5h0m.5 -1.5h0m.5 -7h0m0 38.5h0m.5 -57h0m.5 57.5h0m.5 -9h0m0 29.5h0m.5 -26.5h0m.5 -20.5h0m.5 -2.5h0m0 13.5h0m.5 -26h0m.5 41.5h0m.5 -33h0m0 -33.5h0m.5 85.5h0m.5 2.5h0m.5 14.5h0m0 11h0m.5 3.5h0m.5 16h0m.5 7.5h0m0 4.5h0m.5 -106.5h0m.5 18.5h0m0 13.5h0m.5 25h0m.5 -6h0m.5 3h0m0 -44h0m.5 37h0m.5 -5h0m.5 -24.5h0m0 -14h0m.5 71h0m.5 -29h0m.5 -.5h0m0 19.5h0m.5 -21h0m.5 -27.5h0m.5 27.5h0m0 -18h0m.5 -7h0m.5 33.5h0m.5 -72h0m0 -17h0m.5 15.5h0m.5 40h0m0 1.5h0m.5 -12.5h0m0 132h0m.5 -151h0m.5 41h0m0 20h0m.5 -11h0m.5 -12.5h0m.5 -2.5h0m0 -28.5h0m.5 38.5h0m.5 -17.5h0m.5 15h0m0 33.5h0m.5 -44h0m.5 50.5h0m.5 1h0m0 -6h0m.5 34.5h0m.5 -144.5h0m.5 116.5h0m0 .5h0m.5 -46.5h0m.5 74.5h0m0 12h0m.5 -68h0m.5 -5h0m.5 71.5h0m0 -25.5h0m.5 -22h0m.5 13.5h0m.5 -34.5h0m0 2.5h0m.5 -3h0m.5 36h0m.5 -54h0m0 5.5h0m.5 2h0m.5 -26.5h0m.5 -29.5h0m0 26.5h0m.5 -15h0m.5 19h0m.5 -35.5h0m0 40.5h0m.5 -21.5h0m.5 4h0m0 4.5h0m.5 -34.5h0m.5 0h0m.5 9h0m0 5h0m.5 -18h0m0 163.5h0m.5 -135.5h0m.5 7.5h0m0 -47h0m.5 52h0m.5 -80h0m0 -89.5h0m0 34h0m.5 61.5h0m0 -6.5h0m0 -111h0m0 36.5h0m0 10h0m0 17h0m.5 70.5h0m0 -153.5h0m0 10h0m0 24h0m0 15h0m.5 4h0m.5 22h0m0 -7.5h0m.5 12h0m.5 16h0m.5 79.5h0m0 17.5h0m.5 16h0m.5 8h0m0 0h0m.5 -62.5h0m.5 -26.5h0m.5 -14h0m0 -48.5h0m.5 34.5h0m.5 14.5h0m.5 -29h0m0 57.5h0m.5 5h0m.5 -34.5h0m.5 3.5h0m0 53h0m.5 -21.5h0m.5 22.5h0m.5 13h0m0 5.5h0m.5 16h0m.5 9.5h0m0 -165.5h0m0 17h0m.5 149.5h0m0 -90h0m0 -84h0m.5 111h0m0 -96.5h0m.5 142h0m0 -54.5h0m.5 25.5h0m.5 -5.5h0m.5 8.5h0m0 13h0m.5 6.5h0m.5 20h0m.5 3h0m0 -.5h0m.5 -.5h0m.5 -61h0m.5 -27h0m0 0h0m.5 17h0m.5 -30h0m.5 27h0m0 -23h0m.5 54h0m.5 -20h0m.5 -33h0m0 41.5h0m.5 14.5h0m.5 -78h0m0 66.5h0m.5 31.5h0m.5 -41.5h0m.5 1h0m0 -49.5h0m.5 -2h0m.5 -6h0m.5 9h0m0 6h0m.5 21.5h0m.5 -47h0m.5 24.5h0m0 -4.5h0m.5 -15.5h0m.5 8.5h0m.5 -50.5h0m0 45h0m.5 -34.5h0m.5 60.5h0m0 -72h0m.5 86h0m0 -15.5h0m.5 -5h0m0 -68h0m0 9.5h0m0 7.5h0m0 10h0m.5 16h0m0 -54.5h0m.5 -7.5h0m.5 .5h0m.5 63.5h0m0 -27h0m.5 37.5h0m.5 34h0m.5 -5.5h0m0 2.5h0m.5 -10h0m.5 10.5h0m.5 -60.5h0m0 8h0m.5 48h0m.5 -39h0m.5 7.5h0m0 -7h0m.5 48h0m.5 -20.5h0m.5 -19.5h0m0 19.5h0m.5 16h0m.5 28.5h0m0 17.5h0m.5 11.5h0m.5 12h0m.5 14.5h0m0 -86h0m.5 -34.5h0m.5 31h0m.5 -11.5h0m0 6.5h0m.5 -32h0m.5 30.5h0m.5 54h0m0 14.5h0m.5 2.5h0m.5 23h0m.5 8h0m0 8h0m.5 -110.5h0m.5 54.5h0m.5 -.5h0m0 7.5h0m.5 10.5h0m.5 3h0m0 5h0m.5 1.5h0m.5 13.5h0m.5 -94h0m0 14.5h0m.5 -35h0m.5 31.5h0m.5 24h0m0 14h0m.5 -61.5h0m.5 -4.5h0m.5 12.5h0m0 4h0m.5 -44h0m.5 94h0m.5 -11.5h0m0 28h0m.5 -20.5h0m.5 -2h0m.5 37.5h0m0 10h0m.5 -5h0m.5 -27.5h0m0 -35h0m.5 -.5h0m.5 77h0m.5 -56.5h0m0 52h0m.5 -54.5h0m.5 2.5h0m.5 13h0m0 21.5h0m.5 -24h0m.5 27h0m.5 -61.5h0m0 0h0m.5 54h0m.5 -90h0m.5 57h0m0 -48h0m.5 -6.5h0m.5 36h0m.5 -34.5h0m0 27h0m.5 16h0m.5 -18.5h0m0 39.5h0m.5 17h0m.5 -26.5h0m.5 45.5h0m0 -60h0m.5 75h0m.5 -7.5h0m.5 -25h0m0 -8h0m.5 50.5h0m.5 -22h0m.5 -30.5h0m0 64.5h0m.5 -4.5h0m.5 21.5h0m.5 -42.5h0m0 14.5h0m.5 43h0m.5 -37h0m.5 32h0m0 -20.5h0m.5 -15.5h0m.5 -15h0m0 17h0m.5 -16.5h0m.5 -2.5h0m.5 30.5h0m0 -83h0m.5 39.5h0m.5 -21.5h0m.5 15h0m0 17h0m.5 19h0m.5 -21.5h0m.5 20h0m0 3.5h0m.5 -12h0m.5 -30h0m.5 40.5h0m0 -37h0m.5 36h0m.5 -41.5h0m.5 -62h0m0 14.5h0m.5 33.5h0m.5 25h0m0 28h0m.5 20.5h0m0 -218.5h0m.5 175h0m0 -170h0m.5 183h0m0 8h0m.5 -90.5h0m.5 111.5h0m.5 -51.5h0m0 29.5h0m.5 -4h0m.5 10h0m.5 -9h0m0 -28.5h0m.5 -4.5h0m.5 24.5h0m.5 .5h0m0 11.5h0m.5 -24h0m.5 -9.5h0m.5 -26h0m0 -.5h0m.5 62h0m.5 4.5h0m.5 -15h0m0 -8h0m.5 24.5h0m.5 9h0m0 -65.5h0m.5 -.5h0m.5 43h0m.5 -17h0m0 11h0m.5 -17h0m.5 27h0m.5 -52h0m0 74h0m.5 -16h0m.5 -47h0m.5 39h0m0 -43h0m.5 8.5h0m.5 -5h0m.5 -15.5h0m0 16.5h0m.5 51h0m.5 -26.5h0m.5 30h0m0 -13h0m.5 18h0m.5 7.5h0m0 2.5h0m.5 9.5h0m.5 4h0m.5 3h0m0 -99h0m.5 -45.5h0m.5 19.5h0m.5 -.5h0m0 2.5h0m.5 51.5h0m.5 -38h0m.5 -2.5h0m0 -1h0m.5 51h0m.5 -27h0m.5 -11h0m0 -19.5h0m.5 64h0m.5 -29.5h0m.5 41.5h0m0 -7h0m.5 -17h0m.5 21h0m0 -25h0m.5 -22.5h0m.5 40.5h0m.5 5.5h0m0 -3h0m.5 -28h0m0 -123h0m.5 131h0m.5 -19h0m0 18.5h0m.5 -15h0m.5 -4.5h0m.5 13.5h0m0 22.5h0m.5 -24.5h0m.5 -37.5h0m.5 18h0m0 -37.5h0m.5 57h0m0 165h0m.5 -222.5h0m.5 -17.5h0m0 39h0m.5 -6.5h0m.5 2h0m0 -25.5h0m.5 -11h0m.5 .5h0m.5 57.5h0m0 -55.5h0m.5 19h0m.5 -2.5h0m.5 25h0m0 -15.5h0m.5 16h0m.5 45.5h0m.5 -37h0m0 8h0m.5 -2.5h0m.5 -42h0m.5 85h0m0 -43h0m.5 -34h0m.5 29h0m.5 -3.5h0m0 27h0m.5 0h0m.5 8h0m0 -49h0m.5 25.5h0m.5 34.5h0m.5 -58h0m0 31h0m.5 14.5h0m.5 -20.5h0m.5 44.5h0m0 -91.5h0m.5 -19.5h0m.5 -1.5h0m.5 129h0m0 20h0m.5 22h0m.5 .5h0m0 80.5h0m.5 -176.5h0m0 -11.5h0m.5 20h0m.5 6h0m.5 -5.5h0m0 33h0m.5 10.5h0m.5 -62.5h0m0 24.5h0m.5 36h0m.5 -29h0m.5 -46.5h0m0 15h0m.5 5.5h0m.5 1.5h0m.5 -4.5h0m0 28.5h0m.5 -18.5h0m.5 -41h0m.5 38h0m0 20.5h0m.5 -30.5h0m.5 -7h0m.5 -6.5h0m0 -20h0m.5 11.5h0m.5 91h0m.5 -36.5h0m0 -10h0m.5 -21.5h0m.5 35h0m0 -11h0m.5 -2h0m.5 -28.5h0m.5 15h0m0 20.5h0m.5 -3h0m.5 -27.5h0m0 -105h0m.5 122.5h0m0 21.5h0m.5 -45.5h0m.5 41.5h0m.5 8h0m0 7.5h0m.5 -.5h0m.5 9h0m.5 0h0m0 2h0m.5 15h0m.5 0h0m.5 -15.5h0m0 -82h0m.5 14h0m.5 22h0m0 23h0m.5 -37.5h0m.5 -.5h0m.5 7h0m0 -32h0m.5 54.5h0m.5 -56.5h0m.5 26.5h0m0 -31.5h0m.5 2.5h0m.5 51h0m.5 -12.5h0m0 -42.5h0m.5 3h0m.5 63.5h0m.5 -21h0m0 24.5h0m.5 -71h0m.5 53.5h0m.5 -20h0m0 -70h0m.5 12.5h0m.5 46.5h0m0 23h0m.5 -48.5h0m.5 43.5h0m.5 -43.5h0m0 -3.5h0m.5 34h0m.5 27.5h0m.5 -47h0m0 29.5h0m.5 29h0m.5 16h0m.5 -38.5h0m0 36h0m.5 -51.5h0m.5 23h0m.5 -3h0m0 6.5h0m.5 -40h0m.5 -10h0m.5 72h0m0 -54h0m.5 30.5h0m.5 -2h0m0 -66.5h0m.5 104.5h0m.5 14.5h0m.5 17.5h0m0 20.5h0m.5 16.5h0m.5 -86.5h0m.5 1.5h0m0 18.5h0m.5 21h0m.5 -5h0m.5 30h0m0 -2h0m.5 6.5h0m.5 -27h0m.5 44h0m0 -3h0m.5 -17.5h0m.5 15.5h0m.5 -9h0m0 -28.5h0m.5 7.5h0m.5 36h0m0 4.5h0m.5 -4.5h0m.5 -19.5h0m.5 31.5h0m0 -8.5h0m.5 2.5h0m.5 1h0m.5 1.5h0m0 .5h0m.5 7h0m.5 6h0m.5 -42h0m0 4h0m.5 19.5h0m.5 -6.5h0m.5 4h0m0 -34h0m.5 25.5h0m.5 -12h0m.5 18h0m0 -17h0m.5 2.5h0m.5 -.5h0m0 29.5h0m.5 -26h0m.5 7.5h0m.5 6.5h0m0 -22h0m.5 -15h0m.5 24h0m.5 -15h0m0 27h0m.5 -5h0m.5 -4.5h0m.5 -10h0m0 -21h0m.5 16h0m.5 28h0m.5 -30h0m0 3h0m.5 13h0m.5 3.5h0m.5 .5h0m0 8.5h0m.5 1h0m.5 -23h0m0 3h0m.5 2h0m.5 3.5h0m.5 -22h0m0 35.5h0m.5 -2h0m.5 -39h0m.5 23.5h0m0 5.5h0m.5 -2h0m.5 1.5h0m.5 2.5h0m0 -9h0m.5 -9.5h0m.5 30.5h0m.5 -46.5h0m0 37.5h0m.5 -22h0m.5 -15.5h0m.5 53h0m0 -40.5h0m.5 20h0m.5 2h0m0 -27h0m.5 40.5h0m.5 -2.5h0m.5 -27h0m0 -10.5h0m.5 35h0m.5 12.5h0m.5 13h0m0 2.5h0m0 -178.5h0m.5 204.5h0m.5 -92.5h0m.5 14.5h0m0 -18.5h0m.5 9h0m.5 -15h0m.5 14.5h0m0 -4.5h0m.5 -1h0m.5 38.5h0m.5 -8.5h0m0 -26.5h0m.5 6h0m.5 -25h0m0 50.5h0m.5 -32.5h0m.5 -32.5h0m.5 30.5h0m0 12.5h0m.5 -18.5h0m.5 -29h0m.5 8.5h0m0 -5h0m.5 37.5h0m.5 -26h0m.5 31h0m0 -1h0m.5 -31.5h0m.5 5.5h0m.5 2h0m0 -23.5h0m.5 36.5h0m.5 -6h0m.5 7.5h0m0 -26.5h0m.5 -17h0m.5 4.5h0m0 30h0m.5 41.5h0m.5 4.5h0m.5 9h0m0 4h0m.5 2.5h0m.5 -61.5h0m.5 39h0m0 -28h0m.5 -28h0m.5 59h0m.5 -15h0m0 .5h0m.5 -1h0m.5 -21.5h0m.5 -11h0m0 -5.5h0m.5 -21.5h0m.5 17h0m.5 5h0m0 -20.5h0m.5 -.5h0m.5 11h0m0 -8h0m.5 24.5h0m.5 -5.5h0m.5 9h0m0 -2h0m.5 11.5h0m.5 -26h0m.5 31.5h0m0 2.5h0m.5 1h0m.5 -37h0m.5 41.5h0m0 -53h0m.5 52.5h0m.5 -36.5h0m.5 26h0m0 -36.5h0m.5 -22h0m.5 28.5h0m.5 7.5h0m0 -57.5h0m.5 19h0m.5 41h0m0 2h0m.5 -48h0m.5 6h0m.5 46h0m0 -34h0m.5 28.5h0m.5 -38h0m.5 -2h0m0 24h0m.5 -11.5h0m.5 45.5h0m.5 -60.5h0m0 25h0m.5 -17.5h0m.5 -13.5h0m.5 -15.5h0m0 28.5h0m.5 -8h0m.5 62.5h0m.5 2h0m0 13h0m.5 7.5h0m.5 24h0m0 -2h0m.5 6.5h0m.5 5h0m.5 -52h0m0 -42.5h0m.5 -5.5h0m.5 9h0m.5 -36h0m0 26h0m.5 -33h0m.5 21.5h0m.5 2h0m0 14h0m.5 -40.5h0m.5 39.5h0m.5 -15.5h0m0 -17h0m.5 -1h0m.5 3.5h0m.5 1.5h0m0 11.5h0m.5 .5h0m.5 43.5h0m0 -16.5h0m.5 36.5h0m.5 -21h0m.5 -33.5h0m0 7.5h0m.5 -20h0m.5 52h0m.5 -37h0m0 34h0m.5 -36h0m.5 -12.5h0m.5 23h0m0 43h0m.5 -29h0m.5 18h0m.5 -41h0m0 -4h0m.5 -33h0m.5 44.5h0m.5 4h0m0 6.5h0m.5 -27h0m.5 10h0m0 5.5h0m.5 -55.5h0m.5 42.5h0m.5 8h0m0 -2.5h0m.5 -51h0m.5 18h0m.5 19h0m0 -26.5h0m.5 -15h0m.5 32h0m.5 1.5h0m0 12h0m.5 -11.5h0m.5 -22.5h0m.5 58.5h0m0 -29h0m.5 6.5h0m.5 .5h0m.5 7.5h0m0 -25h0m.5 -4.5h0m.5 -.5h0m.5 5.5h0m0 67h0m.5 -35h0m.5 -28.5h0m0 60h0m.5 -43.5h0m.5 44.5h0m.5 -50.5h0m0 37.5h0m.5 -17h0m.5 27h0m.5 8h0m0 -38h0m.5 -8.5h0m.5 -24.5h0m.5 57h0m0 -47h0m0 -71.5h0m.5 121.5h0m0 -131.5h0m.5 137.5h0m0 -149.5h0m.5 100h0m0 36.5h0m.5 23.5h0m.5 -6h0m.5 -26.5h0m0 -6.5h0m.5 78.5h0m.5 -44.5h0m0 14h0m.5 15.5h0m.5 -31h0m.5 5h0m0 -33h0m.5 42.5h0m.5 -34h0m.5 12.5h0m0 7h0m.5 -1.5h0m.5 -40.5h0m.5 11.5h0m0 30h0m.5 3.5h0m.5 -15h0m.5 -23h0m0 7.5h0m.5 -6h0m.5 33.5h0m.5 -30h0m0 -5.5h0m.5 -2.5h0m.5 44.5h0m0 -32h0m.5 -29h0m.5 21h0m.5 39h0m0 -23.5h0m.5 0h0m.5 42h0m.5 -31h0m0 -16h0m.5 -18h0m.5 32h0m.5 -1h0m0 31.5h0m.5 -4h0m.5 -46h0m.5 -10.5h0m0 22.5h0m.5 -29h0m.5 34h0m.5 -17h0m0 -21h0m.5 3.5h0m.5 2h0m0 -11h0m.5 31h0m.5 -40.5h0m.5 -7h0m0 17.5h0m.5 21h0m.5 -14.5h0m.5 43h0m0 -32h0m.5 4h0m.5 37.5h0m.5 -13.5h0m0 -17h0m.5 -2h0m.5 6h0m.5 -.5h0m0 -16h0m.5 15.5h0m.5 23.5h0m.5 -39h0m0 40.5h0m.5 -35h0m.5 -5.5h0m0 -11h0m.5 21.5h0m.5 54h0m.5 3.5h0m0 17h0m.5 8.5h0m.5 5h0m.5 4h0m0 12.5h0m.5 -52h0m.5 .5h0m.5 -4h0m0 -20.5h0m.5 22.5h0m.5 1.5h0m.5 14h0m0 -7.5h0m.5 6.5h0m.5 -5.5h0m.5 -22h0m0 26.5h0m.5 -22h0m.5 -19.5h0m0 57.5h0m.5 -36h0m.5 -3h0m.5 5h0m0 -3h0m.5 25.5h0m.5 -14h0m.5 14h0m0 26h0m.5 -48.5h0m.5 23h0m.5 -19.5h0m0 32h0m.5 -76h0m.5 89.5h0m.5 20.5h0m0 0h0m.5 12.5h0m.5 1.5h0m.5 0h0m0 -60h0m.5 -34h0m.5 1.5h0m0 20h0m.5 -17.5h0m.5 -18h0m.5 -3h0m0 -8.5h0m.5 34h0m.5 -7.5h0m.5 -2h0m0 -19h0m.5 36.5h0m.5 -12.5h0m.5 22.5h0m0 10h0m.5 -37.5h0m.5 17.5h0m.5 -26.5h0m0 22h0m.5 -9.5h0m.5 24.5h0m.5 23h0m0 -52.5h0m.5 52.5h0m.5 -48h0m0 41.5h0m.5 -23h0m.5 19h0m.5 -17.5h0m0 27.5h0m.5 4.5h0m.5 -31h0m.5 -19h0m0 18.5h0m.5 29h0m.5 -61.5h0m.5 46.5h0m0 -13h0m.5 -15.5h0m.5 9.5h0m.5 -27h0m0 29h0m.5 -30.5h0m.5 39.5h0m.5 25.5h0m0 -2h0m.5 8h0m.5 8h0m0 6.5h0m.5 -104h0m.5 -8h0m.5 9.5h0m0 50h0m.5 -21.5h0m.5 21h0m.5 .5h0m0 20h0m.5 -13h0m.5 -24h0m.5 1h0m0 25.5h0m.5 -6h0m.5 15.5h0m.5 -10h0m0 12h0m.5 -4.5h0m.5 17h0m.5 -11.5h0m0 -5.5h0m.5 -11h0m.5 -19.5h0m0 42h0m.5 -40.5h0m.5 -19h0m.5 47h0m0 .5h0m.5 -.5h0m.5 -32h0m.5 12.5h0m0 35.5h0m.5 -7.5h0m.5 -9.5h0m.5 8h0m0 -47h0m.5 33.5h0m.5 -34.5h0m.5 35h0m0 -9.5h0m.5 -37.5h0m.5 45.5h0m.5 11h0m0 -56h0m.5 7.5h0m.5 26.5h0m0 14.5h0m.5 -7.5h0m.5 -3.5h0m.5 -29h0m0 48.5h0m.5 -35h0m.5 0h0m.5 -11.5h0m0 12h0m.5 18.5h0m.5 -.5h0m.5 -11h0m0 -8h0m.5 12.5h0m.5 14.5h0m.5 -53h0m0 29h0m.5 -10.5h0m.5 22h0m.5 -11h0m0 -26.5h0m.5 71h0m.5 -37h0m0 10h0m.5 -29.5h0m.5 9h0m.5 .5h0m0 0h0m.5 29.5h0m.5 -6.5h0m.5 -23.5h0m0 26h0m.5 -31.5h0m.5 -3.5h0m.5 18h0m0 2h0m.5 -7h0m.5 27.5h0m.5 -4h0m0 15.5h0m.5 17.5h0m.5 7h0m.5 13.5h0m0 5.5h0m.5 .5h0m.5 0h0m0 -104.5h0m.5 18h0m.5 13.5h0m.5 -5.5h0m0 28.5h0m.5 -28h0m.5 22h0m.5 -46.5h0m0 -4h0m.5 31h0m.5 -31h0m.5 61.5h0m0 .5h0m.5 -29.5h0m.5 26h0m.5 31.5h0m0 -74h0m.5 47.5h0m.5 -32.5h0m.5 44h0m0 -18.5h0m.5 33.5h0m.5 -35.5h0m0 4h0m.5 -7.5h0m.5 17h0m.5 -25h0m0 25.5h0m.5 10.5h0m.5 10h0m.5 -3h0m0 20.5h0m.5 0h0m.5 0h0m.5 0h0m0 -66h0m.5 -5h0m.5 33.5h0m.5 -18.5h0m0 -30h0m.5 -30.5h0m.5 57.5h0m.5 -22h0m0 -15.5h0m.5 1.5h0m.5 -12h0m0 59h0m.5 -39.5h0m.5 31.5h0m.5 17h0m0 -30.5h0m.5 -27h0m.5 48h0m.5 -5.5h0m0 -42.5h0m.5 6h0m.5 42h0m.5 3.5h0m0 2h0m.5 -9h0m.5 -43.5h0m.5 9.5h0m0 31.5h0m.5 -.5h0m.5 6h0m.5 8.5h0m0 6.5h0m.5 7.5h0m.5 2h0m0 4h0m.5 16h0m.5 -57.5h0m.5 -24h0m0 3.5h0m.5 28h0m.5 -10h0m.5 -4h0m0 28h0m.5 -54h0m.5 47h0m.5 -26h0m0 49h0m.5 -25.5h0m.5 -13.5h0m.5 -4h0m0 33h0m.5 -11.5h0m.5 -19h0m.5 -29h0m0 -23h0m.5 33h0m.5 5.5h0m0 -23.5h0m.5 30.5h0m.5 -42.5h0m.5 47h0m0 -56h0m.5 8h0m.5 30h0m.5 -20h0m0 13.5h0m.5 -14.5h0m.5 -1h0m.5 19h0m0 42.5h0m.5 3.5h0m.5 4.5h0m.5 10h0m0 6.5h0m.5 3.5h0m.5 -41h0m.5 -12h0m0 4h0m.5 -3h0m.5 -29h0m0 14.5h0m.5 31h0m.5 -58.5h0m.5 -8h0m0 13h0m.5 33.5h0m.5 -33h0m.5 11.5h0m0 7h0m.5 1.5h0m.5 -17.5h0m.5 10h0m0 -18.5h0m.5 -10.5h0m.5 13h0m.5 -1h0m0 23.5h0m.5 11h0m.5 -39.5h0m.5 24h0m0 -14h0m.5 51.5h0m.5 12.5h0m0 -33.5h0m.5 12h0m.5 16.5h0m.5 -5h0m0 -31.5h0m.5 15.5h0m.5 12.5h0m.5 2h0m0 -4.5h0m.5 -14.5h0m.5 5.5h0m.5 -31h0m0 -19h0m.5 2h0m.5 34.5h0m.5 4h0m0 -22.5h0m.5 .5h0m.5 30.5h0m.5 -14h0m0 .5h0m.5 -37h0m.5 21h0m0 22h0m.5 -45.5h0m.5 -17h0m.5 19.5h0m0 34h0m.5 20.5h0m.5 10h0m.5 1h0m0 2h0m.5 16.5h0m.5 9h0m.5 5h0m0 -78h0m.5 -42h0m.5 -1h0m.5 105.5h0m0 -3h0m.5 -38h0m.5 -4h0m.5 -2h0m0 23.5h0m.5 -11.5h0m.5 6h0m0 -3.5h0m.5 6.5h0m.5 7h0m.5 -3h0m0 1h0m.5 11.5h0m.5 4h0m.5 -50.5h0m0 -9h0m.5 27h0m.5 -11h0m.5 -14h0m0 11h0m.5 -18h0m.5 32h0m.5 -16h0m0 -13.5h0m.5 22.5h0m.5 -28h0m.5 22.5h0m0 -5h0m.5 11h0m.5 6h0m.5 6.5h0m0 -22h0m.5 28.5h0m.5 -19.5h0m0 -8h0m.5 31h0m.5 -8.5h0m.5 -22.5h0m0 36.5h0m.5 -15.5h0m.5 -1h0m.5 -13h0m0 11h0m.5 0h0m.5 14h0m.5 -19.5h0m0 29.5h0m.5 -21h0m.5 7h0m.5 18h0m0 -14h0m.5 14h0m.5 8.5h0m.5 -9h0m0 35h0m.5 -14.5h0m.5 19h0m0 -12h0m.5 6.5h0m.5 -31.5h0m.5 5h0m0 13h0m.5 -12.5h0m.5 35h0m.5 0h0m0 0h0m.5 -52h0m.5 27h0m.5 -11.5h0m0 20h0m.5 8.5h0m.5 -24.5h0m.5 .5h0m0 30h0m.5 -16.5h0m.5 17.5h0m.5 -27.5h0m0 -43h0m.5 52.5h0m.5 -14.5h0m0 27h0m.5 -30.5h0m.5 15.5h0m.5 -21h0m0 1.5h0m.5 12h0m.5 3h0m.5 -17h0m0 8h0m.5 16h0m.5 -33h0m.5 26h0m0 7h0m.5 3.5h0m.5 6h0m.5 -6h0m0 7.5h0m.5 -1h0m.5 -15.5h0m.5 1h0m0 18.5h0m.5 5h0m.5 -6h0m0 3.5h0m.5 -1.5h0m.5 2.5h0m.5 -5.5h0m0 7h0m.5 -24.5h0m.5 5h0m.5 -18.5h0m0 -3h0m.5 8.5h0m.5 9h0m.5 23.5h0m0 -29h0m.5 -7.5h0m.5 -4.5h0m.5 0h0m0 8.5h0m.5 19h0m.5 7h0m.5 -3.5h0m0 -4.5h0m.5 14.5h0m.5 -5.5h0m0 -32h0m.5 -33h0m.5 -1h0m.5 1.5h0m0 48h0m.5 6h0m.5 -27h0m.5 16h0m0 12h0m.5 .5h0m.5 5.5h0m.5 -22h0m0 -2.5h0m.5 10.5h0m.5 -30h0m.5 -3h0m0 11h0m.5 13h0m.5 -13h0m.5 -8.5h0m0 1h0m.5 16h0m.5 -16h0m0 6.5h0m.5 4h0m.5 -11h0m.5 18.5h0m0 -8.5h0m.5 -3.5h0m.5 0h0m.5 -20h0m0 -3h0m.5 -1h0m.5 12.5h0m.5 18h0m0 -12.5h0m.5 42h0m.5 0h0m.5 1h0m0 -23h0m.5 7.5h0m.5 10h0m.5 8h0m0 3h0m.5 -33h0m.5 -5.5h0m0 36.5h0m.5 -20.5h0m.5 14h0m.5 -23h0m0 15.5h0m.5 1.5h0m.5 -15.5h0m.5 29.5h0m0 -29h0m.5 33.5h0m.5 -23.5h0m.5 23.5h0m0 -2h0m.5 -12.5h0m.5 9h0m.5 -32.5h0m0 37h0m.5 -14h0m.5 -18.5h0m.5 -19.5h0m0 -18h0m.5 26h0m.5 1h0m0 7h0m.5 -16.5h0m.5 17h0m.5 -35.5h0m0 1.5h0m.5 12h0m.5 -7h0m.5 34h0m0 -24h0m.5 41h0m.5 4.5h0m.5 -17.5h0m0 -7h0m.5 34.5h0m.5 -41h0m.5 20h0m0 -29.5h0m.5 -2h0m.5 -3h0m.5 23.5h0m0 5h0m.5 4.5h0m.5 -10h0m0 -9h0m.5 17h0m.5 -5h0m.5 5h0m0 -6.5h0m.5 16.5h0m.5 -25.5h0m.5 -19h0m0 35.5h0m.5 -11h0m.5 -13.5h0m.5 5h0m0 8h0m.5 27h0m.5 -31.5h0m0 -129h0m.5 137h0m0 -9h0m.5 4.5h0m.5 -.5h0m.5 -3h0m0 22h0m.5 3h0m.5 -20h0m0 34.5h0m.5 -10h0m.5 -28.5h0m.5 -2.5h0m0 5h0m.5 7.5h0m.5 19h0m.5 -5h0m0 -30h0m.5 -9.5h0m.5 38.5h0m.5 -12.5h0m0 6.5h0m.5 -11h0m.5 -4h0m.5 19h0m0 -36h0m.5 44.5h0m.5 -21h0m.5 27.5h0" stroke="#0000ff"/>
<path d="M259.5 629.5h0m0 0h0m.5 -2h0m.5 -5h0m.5 6.5h0m0 -3h0m.5 -.5h0m.5 -2h0m.5 -6.5h0m0 -.5h0m.5 2.5h0m.5 -11h0m.5 -3h0m0 3.5h0m.5 8.5h0m.5 -15.5h0m.5 17.5h0m0 -16.5h0m.5 4h0m.5 0h0m0 -2h0m.5 -11.5h0m.5 5.5h0m.5 -13.5h0m0 4.5h0m.5 -5h0m.5 -6h0m.5 -1.5h0m0 -2h0m.5 -2h0m.5 -1.5h0m.5 -2h0m0 -1.5h0m.5 -1.5h0m.5 -.5h0m.5 2h0m0 -6h0m.5 14h0m.5 15.5h0m.5 2.5h0m0 -42h0m.5 46h0m.5 1.5h0m0 -3h0m.5 2.5h0m.5 -8h0m.5 -11h0m0 -31.5h0m.5 29.5h0m.5 -19h0m.5 7.5h0m0 1.5h0m.5 -33h0m.5 -.5h0m.5 -1h0m0 2h0m.5 3h0m.5 -7.5h0m.5 -7.5h0m0 12h0m.5 -13.5h0m.5 -45h0m.5 60h0m0 8h0m.5 9.5h0m.5 -22h0m0 36.5h0m.5 -2h0m.5 -25h0m.5 13h0m0 -5h0m.5 -15h0m.5 19h0m.5 -31h0m0 21.5h0m.5 -23h0m.5 -4.5h0m.5 -11h0m0 -7.5h0m.5 .5h0m.5 9.5h0m.5 .5h0m0 -13.5h0m.5 34.5h0m.5 -24.5h0m.5 -14.5h0m0 14.5h0m.5 -9.5h0m.5 -8h0m0 -5.5h0m.5 -1h0m.5 -.5h0m.5 -1.5h0m0 -53h0m.5 55h0m.5 7h0m.5 -.5h0m0 -2.5h0m.5 14h0m.5 20.5h0m.5 4h0m0 16.5h0m.5 1h0m.5 -4.5h0m.5 2h0m0 0h0m.5 1.5h0m.5 -.5h0m.5 -13.5h0m0 8.5h0m.5 0h0m.5 -13h0m0 11h0m.5 -6.5h0m.5 5.5h0m.5 -4h0m0 -38h0m.5 20h0m.5 5h0m.5 -40h0m0 9.5h0m.5 -2.5h0m.5 -24h0m.5 -1h0m0 1.5h0m.5 -3h0m.5 2.5h0m.5 -6h0m0 .5h0m.5 9.5h0m.5 -10h0m.5 19h0m0 -2.5h0m.5 -7h0m.5 23h0m0 -23.5h0m.5 -4h0m.5 8.5h0m.5 -1.5h0m0 1.5h0m.5 24.5h0m.5 -40.5h0m.5 33h0m0 10h0m.5 16.5h0m.5 -2.5h0m.5 3h0m0 -5.5h0m.5 14.5h0m.5 -36h0m.5 19h0m0 -22h0m.5 -14.5h0m.5 -8.5h0m.5 -1.5h0m0 -.5h0m.5 -1h0m.5 15h0m0 -3h0m.5 9.5h0m.5 35h0m.5 -15.5h0m0 -96h0m.5 113h0m.5 -19.5h0m.5 19.5h0m0 -1.5h0m.5 -18h0m.5 -6.5h0m.5 15h0m0 -32.5h0m.5 12h0m.5 6h0m.5 6.5h0m0 11h0m.5 -10h0m.5 3.5h0m.5 8h0m0 -11h0m.5 7.5h0m.5 -20.5h0m0 10h0m.5 0h0m.5 -12h0m.5 -21.5h0m0 -23h0m.5 45.5h0m.5 -23h0m.5 18.5h0m0 -2h0m.5 -9.5h0m.5 5h0m.5 -41h0m0 21.5h0m.5 23h0m.5 3.5h0m.5 -10h0m0 5h0m.5 10.5h0m.5 -3.5h0m0 -69.5h0m.5 24h0m0 45.5h0m.5 -39h0m.5 50.5h0m0 -59.5h0m.5 -10.5h0m.5 -3h0m.5 10h0m0 -4h0m.5 -14.5h0m.5 24.5h0m.5 .5h0m0 -13.5h0m.5 -6h0m.5 55h0m.5 -27h0m0 -8.5h0m.5 -22.5h0m.5 17.5h0m.5 11h0m0 3h0m.5 -30.5h0m.5 2h0m.5 0h0m0 1.5h0m.5 27h0m0 -49.5h0m.5 26h0m0 25h0m.5 -4h0m.5 10h0m.5 19h0m0 9h0m.5 -2h0m.5 -2h0m.5 -10h0m0 10.5h0m.5 -69h0m.5 68h0m.5 1.5h0m0 -10.5h0m.5 -.5h0m0 -60.5h0m.5 65.5h0m.5 -61.5h0m0 54h0m.5 -9.5h0m.5 -53.5h0m.5 56.5h0m0 -58h0m.5 26h0m.5 0h0m0 30h0m.5 -39.5h0m.5 19.5h0m.5 19.5h0m0 -35.5h0m.5 -15h0m.5 .5h0m.5 6h0m0 3.5h0m.5 -5.5h0m.5 30h0m.5 -35.5h0m0 51h0m0 -40h0m.5 36.5h0m.5 3h0m.5 8.5h0m0 -11h0m.5 0h0m.5 5h0m.5 -3h0m0 -35.5h0m.5 40h0m.5 -23.5h0m0 -17h0m0 4.5h0m.5 -2.5h0m.5 17.5h0m.5 19h0m0 -4.5h0m.5 6h0m.5 1h0m.5 -3h0m0 3h0m.5 -2.5h0m.5 2h0m.5 -1h0m0 -1h0m.5 0h0m.5 -3.5h0m.5 -49.5h0m0 49.5h0m.5 -6h0m.5 -6h0m.5 3.5h0m0 -18h0m.5 -2.5h0m.5 -17h0m0 34h0m.5 -33.5h0m.5 16h0m.5 -8h0m0 -2.5h0m.5 -4.5h0m.5 -14h0m.5 -5.5h0m0 0h0m.5 -.5h0m.5 -8.5h0m.5 22.5h0m0 -24.5h0m.5 -3h0m.5 -1h0m.5 -1h0m0 0h0m.5 0h0m.5 .5h0m.5 -.5h0m0 5.5h0m.5 -3.5h0m.5 9h0m0 32.5h0m.5 -28h0m.5 16.5h0m.5 -25h0m0 -2h0m.5 -4h0m.5 8h0m.5 -12.5h0m0 -.5h0m.5 1.5h0m.5 -1.5h0m.5 -1.5h0m0 1h0m.5 -1h0m.5 2h0m.5 -3h0m0 2.5h0m.5 1h0m.5 5h0m.5 -5h0m0 3h0m.5 18h0m.5 -18h0m0 -1.5h0m.5 11h0m.5 -8.5h0m.5 5.5h0m0 26h0m.5 -18.5h0m.5 -15.5h0m.5 27h0m0 6h0m.5 1.5h0m.5 -23h0m.5 23h0m0 -1.5h0m.5 -3h0m.5 -8.5h0m.5 16h0m0 0h0m.5 3h0m.5 -23.5h0m.5 21h0m0 -16h0m.5 10h0m.5 -4.5h0m0 -24.5h0m.5 -14h0m.5 2h0m.5 -1h0m0 -8h0m.5 0h0m.5 -.5h0m0 -59.5h0m.5 57h0m0 -2h0m.5 -2.5h0m.5 6.5h0m.5 -4h0m0 -2h0m.5 2.5h0m.5 10h0m.5 -14.5h0m0 9h0m.5 -8h0m.5 4.5h0m.5 20.5h0m0 -82.5h0m.5 56h0m.5 33h0m.5 -6h0m0 -8h0m.5 -7h0m.5 -3h0m0 16.5h0m.5 -29.5h0m.5 14.5h0m.5 11h0m0 -14.5h0m.5 -26.5h0m.5 19h0m.5 -11h0m0 .5h0m.5 -7.5h0m.5 -5h0m.5 -9h0m0 -.5h0m.5 -2.5h0m.5 1h0m.5 -3h0m0 3h0m.5 -1.5h0m.5 -1.5h0m.5 -2h0m0 18.5h0m.5 -13.5h0m.5 22.5h0m0 -8h0m.5 -90h0m.5 86.5h0m.5 -16h0m0 -7h0m.5 5.5h0m0 -15h0m.5 3h0m.5 4h0m0 6.5h0m.5 10h0m.5 -19.5h0m.5 3.5h0m0 6.5h0m.5 13.5h0m.5 -6.5h0m.5 22h0m0 -12h0m.5 7.5h0m.5 8h0m.5 1h0m0 0h0m.5 0h0m.5 -1h0m0 -.5h0m.5 0h0m.5 -1h0m.5 -1h0m0 1h0m.5 -5.5h0m.5 0h0m.5 -5.5h0m0 7h0m.5 -4h0m.5 -21.5h0m.5 -20h0m0 -8h0m.5 3h0m.5 -5h0m.5 -81h0m0 80h0m.5 -4h0m0 63h0m.5 -60h0m.5 -3h0m0 -5h0m.5 12h0m.5 13.5h0m0 -1.5h0m.5 -5h0m.5 4.5h0m.5 21h0m0 -7h0m.5 -20.5h0m.5 7.5h0m.5 14.5h0m0 -33.5h0m.5 -5.5h0m.5 16.5h0m.5 6.5h0m0 -23h0m.5 1h0m.5 7h0m.5 -4h0m0 13h0m.5 11.5h0m.5 -1.5h0m.5 -52h0m0 54.5h0m.5 -4h0m.5 16.5h0m0 -13.5h0m.5 6.5h0m.5 -20h0m.5 -9h0m0 -5.5h0m.5 21.5h0m.5 -5.5h0m.5 -9.5h0m0 33h0m.5 -10.5h0m.5 12.5h0m.5 18.5h0m0 -1h0m.5 -24.5h0m.5 16.5h0m.5 -29.5h0m0 -9h0m.5 -8.5h0m.5 6.5h0m.5 6h0m0 -19h0m.5 5.5h0m.5 -7.5h0m0 3.5h0m.5 -2h0m.5 -12h0m.5 -50h0m0 1.5h0m0 90h0m.5 -87h0m0 58.5h0m.5 -75h0m0 115h0m0 44h0m.5 -152h0m0 9h0m0 66h0m.5 -58.5h0m0 59.5h0m.5 -61h0m0 30.5h0m0 82h0m.5 -101h0m0 -1.5h0m0 113h0m0 -78.5h0m.5 -32h0m0 66h0m.5 -63.5h0m0 109.5h0m.5 -111h0m0 2h0m0 86.5h0m.5 -86h0m0 22.5h0m.5 -23.5h0m0 85h0m0 25.5h0m.5 -113.5h0m0 1.5h0m0 65.5h0m.5 -68.5h0m0 34h0m.5 -31h0m0 -7.5h0m0 32h0m0 82.5h0m.5 -112.5h0m0 107.5h0m0 -55.5h0m.5 -47.5h0m0 120.5h0m0 -72h0m.5 -49h0m0 -3.5h0m0 125h0m.5 -124h0m0 88h0m.5 -87h0m0 39.5h0m0 33.5h0m.5 -77h0m0 -1h0m0 131h0m.5 -125.5h0m0 65h0m.5 -70h0m0 45h0m.5 -51h0m0 1h0m0 105.5h0m0 21h0m.5 -147h0m0 64.5h0m.5 -49.5h0m.5 -9.5h0m0 -11.5h0m.5 2.5h0m.5 -4h0m.5 -1h0m0 .5h0m.5 0h0m.5 .5h0m0 1h0m.5 10.5h0m.5 9.5h0m.5 -11h0m0 13.5h0m.5 -9h0m.5 15h0m.5 -2.5h0m0 -.5h0m.5 10h0m.5 -8h0m.5 5.5h0m0 -3.5h0m.5 6.5h0m.5 -9h0m.5 7h0m0 -5h0m.5 7h0m.5 -2.5h0m.5 1.5h0m0 -.5h0m.5 .5h0m.5 -3.5h0m0 2.5h0m.5 1.5h0m.5 -1h0m.5 .5h0m0 -.5h0m.5 .5h0m.5 -5h0m.5 3h0m0 -1h0m.5 2h0m.5 -8.5h0m.5 -2.5h0m0 -9h0m.5 0h0m.5 14h0m.5 -18.5h0m0 -7.5h0m.5 11.5h0m.5 11h0m.5 -1h0m0 4h0m.5 -11h0m.5 3h0m0 6h0m.5 -7h0m.5 .5h0m.5 8h0m0 -1h0m.5 -6h0m.5 5.5h0m.5 -20h0m0 24h0m.5 -2.5h0m.5 -6.5h0m.5 10.5h0m0 -2.5h0m.5 -7h0m.5 -1.5h0m.5 5.5h0m0 -4h0m.5 -10.5h0m.5 -4h0m.5 9.5h0m0 3.5h0m.5 -9h0m.5 14h0m0 -9.5h0m.5 -.5h0m.5 14.5h0m.5 -6h0m0 3h0m.5 5.5h0m.5 -5h0m.5 5h0m0 -14.5h0m.5 12.5h0m.5 -14h0m.5 6h0m0 9.5h0m.5 -12.5h0m.5 8.5h0m.5 -9.5h0m0 9.5h0m.5 2h0m.5 1.5h0m.5 -1.5h0m0 2.5h0m.5 .5h0m.5 -2h0m0 -19h0m.5 11h0m.5 -5.5h0m.5 4.5h0m0 -12h0m.5 -6h0m.5 16.5h0m.5 1h0m0 -12h0m.5 20.5h0m.5 -5.5h0m.5 -10.5h0m0 4h0m.5 4.5h0m.5 -22.5h0m.5 1.5h0m0 4h0m.5 -5h0m.5 2.5h0m.5 -2.5h0m0 -2h0m.5 -1.5h0m.5 2.5h0m0 .5h0m.5 -1.5h0m.5 6.5h0m.5 -4.5h0m0 3h0m.5 14.5h0m.5 -.5h0m.5 15h0m0 -9h0m.5 11h0m.5 -6h0m.5 4h0m0 1h0m.5 -16h0m.5 12.5h0m.5 -7.5h0m0 10h0m.5 1h0m.5 -7.5h0m.5 4h0m0 -8.5h0m.5 6h0m.5 .5h0m0 -13h0m.5 10.5h0m.5 .5h0m.5 -17.5h0m0 7h0m.5 -3.5h0m.5 13.5h0m.5 -8h0m0 15.5h0m.5 -14.5h0m.5 9.5h0m.5 5.5h0m0 -1h0m.5 .5h0m.5 .5h0m.5 0h0m0 .5h0m.5 .5h0m.5 .5h0m.5 0h0m0 -.5h0m.5 -1h0m.5 -1.5h0m0 2.5h0m.5 -1.5h0m.5 .5h0m.5 -22.5h0m0 22h0m.5 0h0m.5 -8.5h0m.5 3.5h0m0 -10.5h0m.5 -5h0m.5 2h0m.5 -10.5h0m0 0h0m.5 5.5h0m.5 7.5h0m.5 -14.5h0m0 16h0m.5 -.5h0m.5 -5.5h0m.5 4h0m0 9h0m.5 -18.5h0m.5 12.5h0m0 -6h0m.5 4.5h0m.5 -.5h0m.5 6.5h0m0 7.5h0m.5 -7h0m.5 2.5h0m.5 1h0m0 4.5h0m.5 -18h0m.5 -8h0m.5 0h0m0 -7.5h0m.5 -2h0m.5 2h0m.5 0h0m0 -2h0m.5 .5h0m.5 1.5h0m.5 2.5h0m0 -3h0m.5 -1h0m.5 9.5h0m0 -7.5h0m.5 18h0m.5 -9h0m.5 0h0m0 18h0m.5 3.5h0m.5 -5h0m.5 -7.5h0m0 10h0m.5 2h0m.5 2h0m.5 -2h0m0 2h0m.5 -8.5h0m.5 5h0m.5 4.5h0m0 2h0m.5 -4h0m.5 -1.5h0m.5 3.5h0m0 -2.5h0m.5 1h0m.5 -2h0m0 -8h0m.5 -3.5h0m.5 2h0m.5 -10.5h0m0 -6h0m.5 4h0m.5 4h0m.5 -5.5h0m0 -3h0m.5 -2.5h0m.5 16h0m.5 -7.5h0m0 -7.5h0m.5 7h0m.5 -1.5h0m.5 10.5h0m0 -4.5h0m.5 .5h0m.5 -15h0m.5 0h0m0 3h0m.5 6h0m.5 -5.5h0m0 15h0m.5 -16h0m.5 -1.5h0m.5 0h0m0 1.5h0m.5 -.5h0m.5 10.5h0m.5 -12h0m0 1h0m.5 .5h0m.5 11h0m.5 -11h0m0 4.5h0m.5 0h0m.5 0h0m.5 6h0m0 -1.5h0m.5 18.5h0m.5 -1h0m.5 -1.5h0m0 3.5h0m.5 5.5h0m.5 -10.5h0m0 9.5h0m.5 1.5h0m.5 -1h0m.5 -5.5h0m0 5.5h0m.5 -6.5h0m.5 5.5h0m.5 -21.5h0m0 4.5h0m.5 8.5h0m.5 -17.5h0m.5 -3.5h0m0 10.5h0m.5 -7.5h0m.5 6.5h0m.5 -8h0m0 -3.5h0m.5 1.5h0m.5 0h0m.5 -4h0m0 10h0m.5 -8.5h0m.5 8.5h0m0 -1h0m.5 8.5h0m.5 -2h0m.5 14.5h0m0 2.5h0m.5 3.5h0m.5 .5h0m.5 -.5h0m0 -.5h0m.5 1h0m.5 -.5h0m.5 .5h0m0 -2.5h0m.5 0h0m.5 2h0m.5 -6.5h0m0 0h0m.5 3h0m.5 1h0m.5 -8h0m0 -18.5h0m.5 .5h0m.5 20h0m.5 -2h0m0 -3.5h0m.5 6.5h0m.5 -27.5h0m0 8.5h0m.5 -4.5h0m.5 -2h0m.5 7.5h0m0 -2h0m.5 3h0m.5 -4.5h0m.5 -1.5h0m0 22.5h0m.5 -16.5h0m.5 4h0m.5 1h0m0 15.5h0m.5 2.5h0m.5 -2h0m.5 -4h0m0 -21.5h0m.5 12h0m.5 4.5h0m.5 -10.5h0m0 12h0m.5 -5h0m.5 -9h0m0 -10h0m.5 4.5h0m.5 12.5h0m.5 -18h0m0 1.5h0m.5 6h0m.5 -8.5h0m.5 3h0m0 1h0m.5 0h0m.5 -3h0m.5 4h0m0 -2h0m.5 5.5h0m.5 9.5h0m.5 4h0m0 -13h0m.5 -4.5h0m.5 -1h0m.5 4.5h0m0 -3.5h0m.5 -2.5h0m.5 2h0m0 .5h0m.5 16.5h0m.5 .5h0m.5 7h0m0 -10h0m.5 14.5h0m.5 3.5h0m.5 .5h0m0 -.5h0m.5 -2.5h0m.5 .5h0m.5 2h0m0 -1h0m.5 -11h0m.5 2.5h0m.5 -12h0m0 -9h0m.5 15.5h0m.5 -13h0m.5 -4h0m0 3h0m.5 7.5h0m.5 11.5h0m0 3.5h0m.5 -4.5h0m.5 5.5h0m.5 5.5h0m0 -10h0m.5 5.5h0m.5 4.5h0m.5 -11h0m0 1h0m.5 -19.5h0m.5 -1h0m.5 16.5h0m0 -14h0m.5 10h0m.5 1h0m.5 -6h0m0 -6.5h0m.5 3.5h0m.5 -7.5h0m.5 11.5h0m0 8.5h0m.5 -16.5h0m.5 11.5h0m0 -5h0m.5 15h0m.5 -21.5h0m.5 10.5h0m0 -3.5h0m.5 1h0m.5 -8.5h0m.5 6h0m0 -4h0m.5 -5h0m.5 22h0m.5 .5h0m0 1h0m.5 6h0m.5 -8.5h0m.5 -7.5h0m0 9.5h0m.5 -21h0m.5 9h0m.5 -7h0m0 1h0m.5 13.5h0m.5 -2h0m0 -3.5h0m.5 4h0m.5 -.5h0m.5 10h0m0 -17h0m.5 13h0m.5 -19h0m.5 4h0m0 2.5h0m.5 -7h0m.5 -1h0m.5 3h0m0 -6.5h0m.5 0h0m.5 1h0m.5 18h0m0 -13.5h0m.5 -1.5h0m.5 15h0m.5 3h0m0 4h0m.5 -19h0m.5 19.5h0m0 -23h0m.5 5h0m.5 -4.5h0m.5 0h0m0 6h0m.5 -3h0m.5 16h0m.5 -5.5h0m0 6.5h0m.5 -21h0m.5 13.5h0m.5 -7h0m0 9h0m.5 -13.5h0m.5 9.5h0m.5 3.5h0m0 -5.5h0m.5 1.5h0m.5 3h0m.5 -11h0m0 8.5h0m.5 -4h0m.5 7h0m0 .5h0m.5 -11h0m.5 13h0m.5 -11.5h0m0 15h0m.5 -18.5h0m.5 4.5h0m.5 -4h0m0 1h0m.5 6h0m.5 -6h0m.5 -4h0m0 7h0m.5 5.5h0m.5 1h0m.5 1h0m0 -4.5h0m.5 10.5h0m.5 4h0m.5 1.5h0m0 -6.5h0m.5 -.5h0m.5 -4h0m0 -12.5h0m.5 17.5h0m.5 -7.5h0m.5 12.5h0m0 2h0m.5 2.5h0m.5 -6h0m.5 6.5h0m0 -15.5h0m.5 12h0m.5 -7.5h0m.5 8h0m0 -13h0m.5 14h0m.5 -6h0m.5 -6h0m0 6h0m.5 -3.5h0m.5 -5.5h0m.5 -5h0m0 7.5h0m.5 -5h0m.5 -8.5h0m0 -3.5h0m.5 6h0m.5 10h0m.5 -6h0m0 -5.5h0m.5 -6h0m.5 5.5h0m.5 4.5h0m0 -2.5h0m.5 -7h0m.5 8h0m.5 10h0m0 9.5h0m.5 1h0m.5 -2h0m.5 7.5h0m0 -2h0m.5 2.5h0m.5 -3.5h0m.5 2h0m0 0h0m.5 -1.5h0m.5 -10.5h0m0 -.5h0m.5 -4.5h0m.5 -8h0m.5 6.5h0m0 .5h0m.5 -10.5h0m.5 -1h0m.5 2.5h0m0 5h0m.5 0h0m.5 19h0m.5 1.5h0m0 -1.5h0m.5 -2h0m.5 2.5h0m.5 5h0m0 -4h0m.5 3h0m.5 -10h0m.5 3.5h0m0 -5.5h0m.5 10.5h0m.5 -6h0m0 -16.5h0m.5 17h0m.5 7h0m.5 -6.5h0m0 5.5h0m.5 -16.5h0m.5 10.5h0m.5 3.5h0m0 -11h0m.5 4.5h0m.5 1h0m.5 8h0m0 -.5h0m.5 -16h0m.5 16.5h0m.5 -7h0m0 9h0m.5 -11h0m.5 -1.5h0m.5 .5h0m0 3h0m.5 6h0m.5 0h0m0 -3h0m.5 1h0m.5 5.5h0m.5 -3h0m0 2h0m.5 .5h0m.5 0h0m.5 .5h0m0 0h0m.5 0h0m.5 0h0m.5 -.5h0m0 0h0m.5 -5h0m.5 -4h0m.5 -4.5h0m0 10.5h0m.5 -11h0m.5 9h0m.5 -2h0m0 0h0m.5 -15h0m.5 13.5h0m0 -20.5h0m.5 -.5h0m.5 23h0m.5 0h0m0 -19h0m.5 12h0m.5 -10.5h0m.5 -5h0m0 8.5h0m.5 17h0m.5 -15h0m.5 -1.5h0m0 13h0m.5 -4h0m.5 -7.5h0m.5 -13h0m0 23.5h0m.5 -3h0m.5 -1h0m.5 6.5h0m0 -4.5h0m.5 1.5h0m.5 -3.5h0m0 -3h0m.5 0h0m.5 2h0m.5 -3h0m0 1h0m.5 -5h0m.5 8h0m.5 -16h0m0 28h0m.5 -3h0m.5 -3.5h0m.5 -6h0m0 9.5h0m.5 -4.5h0m.5 4h0m.5 -11h0m0 -6h0m.5 -1h0m.5 18h0m.5 -2.5h0m0 -12h0m.5 8h0m.5 1.5h0m0 -9.5h0m.5 14.5h0m.5 .5h0m.5 -9.5h0m0 11.5h0m.5 -4h0m.5 4h0m.5 -3h0m0 -1.5h0m.5 6h0m.5 -5h0m.5 -5.5h0m0 8h0m.5 -11.5h0m.5 -1.5h0m.5 -14h0m0 15.5h0m.5 -10.5h0m.5 -3h0m.5 1h0m0 2.5h0m.5 11.5h0m.5 -8h0m0 -1.5h0m.5 7.5h0m.5 -8.5h0m.5 -1h0m0 18.5h0m.5 -15h0m.5 0h0m.5 13h0m0 .5h0m.5 -25h0m.5 22h0m.5 6h0m0 2h0m.5 -9.5h0m.5 7h0m.5 -4.5h0m0 -9.5h0m.5 4.5h0m.5 -8h0m.5 -1h0m0 -6h0m.5 -1h0m.5 -5.5h0m0 5.5h0m.5 -7h0m.5 1.5h0m.5 3h0m0 -1.5h0m.5 3.5h0m.5 -.5h0m.5 8h0m0 6h0m.5 -1h0m.5 -8.5h0m.5 24h0m0 -16h0m.5 5h0m.5 -2.5h0m.5 6h0m0 -17h0m.5 12.5h0m.5 -14.5h0m.5 17h0m0 -20.5h0m.5 1.5h0m.5 2h0m0 8h0m.5 -9.5h0m.5 -4h0m.5 -1.5h0m0 4h0m.5 9.5h0m.5 -10.5h0m.5 3h0m0 8.5h0m.5 -14.5h0m.5 1h0m.5 .5h0m0 11.5h0m.5 2.5h0m.5 -9h0m.5 1.5h0m0 14h0m.5 -10.5h0m.5 19.5h0m.5 -16h0m0 1h0m.5 1h0m.5 -.5h0m0 .5h0m.5 0h0m.5 -1.5h0m.5 6.5h0m0 10h0m.5 -7.5h0m.5 -4h0m.5 11h0m0 -7.5h0m.5 -3h0m.5 6.5h0m.5 -10h0m0 11h0m.5 2.5h0m.5 2.5h0m.5 1.5h0m0 -3h0m.5 -1.5h0m.5 -.5h0m.5 5h0m0 -2h0m.5 -19.5h0m.5 18.5h0m0 -10.5h0m.5 13h0m.5 -5h0m.5 0h0m0 -7.5h0m.5 -5.5h0m.5 1h0m.5 -5.5h0m0 4.5h0m.5 -13h0m.5 3.5h0m.5 -4h0m0 7.5h0m.5 -6h0m.5 4.5h0m.5 3h0m0 -3h0m.5 -.5h0m.5 20h0m.5 -7.5h0m0 7h0m.5 -19h0m.5 3.5h0m.5 20.5h0m0 1.5h0m.5 -19.5h0m.5 12h0m0 4.5h0m.5 -23h0m.5 -2.5h0m.5 23h0m0 -16h0m.5 4.5h0m.5 -6.5h0m.5 -2h0m0 -1h0m.5 11.5h0m.5 -11h0m.5 3.5h0m0 14h0m.5 -10.5h0m.5 12.5h0m.5 6h0m0 -2h0m.5 1.5h0m.5 0h0m.5 -4h0m0 6h0m.5 -6.5h0m.5 8h0m0 -2h0m.5 -4h0m.5 -11.5h0m.5 -8.5h0m0 -6.5h0m.5 7.5h0m.5 -5.5h0m.5 -3h0m0 -2h0m.5 -.5h0m.5 0h0m.5 -.5h0m0 2h0m.5 0h0m.5 -.5h0m.5 0h0m0 0h0m.5 -1.5h0m.5 1.5h0m.5 -1h0m0 2.5h0m.5 -2h0m.5 0h0m0 -1h0m.5 -.5h0m.5 .5h0m.5 -.5h0m0 1.5h0m.5 -.5h0m.5 -.5h0m.5 .5h0m0 1.5h0m.5 0h0m.5 -1h0m.5 4h0m0 .5h0m.5 1.5h0m.5 17.5h0m.5 -16h0m0 12.5h0m.5 9.5h0m.5 0h0m.5 4h0m0 .5h0m.5 2.5h0m.5 .5h0m0 0h0m.5 0h0m.5 -1.5h0m.5 -.5h0m0 -8.5h0m.5 -10h0m.5 -7.5h0m.5 3h0m0 -12h0m.5 6.5h0m.5 .5h0m.5 -2.5h0m0 6.5h0m.5 .5h0m.5 3.5h0m.5 3.5h0m0 .5h0m.5 4.5h0m.5 -8h0m.5 19h0m0 -13h0m.5 0h0m.5 -8.5h0m0 -1h0m.5 5h0m.5 14h0m.5 -17h0m0 11.5h0m.5 -3h0m.5 4h0m.5 -8.5h0m0 -13h0m.5 5h0m.5 -3.5h0m.5 9h0m0 -1.5h0m.5 -3.5h0m.5 -4.5h0m.5 6.5h0m0 -3h0m.5 -8h0m.5 8.5h0m.5 -5.5h0m0 -3.5h0m.5 14.5h0m.5 -4.5h0m0 5h0m.5 -8h0m.5 0h0m.5 -3h0m0 -5h0m.5 6.5h0m.5 -1.5h0m.5 1.5h0m0 -4.5h0m.5 2h0m.5 7.5h0m.5 -10.5h0m0 2.5h0m.5 -2h0m.5 2h0m.5 6h0m0 .5h0m.5 2.5h0m.5 13.5h0m.5 -3.5h0m0 2h0m.5 -10h0m.5 8.5h0m0 -14.5h0m.5 2.5h0m.5 -7h0m.5 -1h0m0 -2.5h0m.5 -.5h0m.5 9.5h0m.5 -5.5h0m0 5.5h0m.5 -5.5h0m.5 -1h0m.5 1h0m0 -4.5h0m.5 2h0m.5 5.5h0m.5 2.5h0m0 -5.5h0m.5 -1.5h0m.5 -4h0m.5 4h0m0 -3.5h0m.5 4.5h0m.5 4.5h0m0 -8h0m.5 1h0m.5 6.5h0m.5 -8h0m0 1.5h0m.5 3.5h0m.5 -3.5h0m.5 0h0m0 0h0m.5 6.5h0m.5 6h0m.5 -10h0m0 3.5h0m.5 -3h0m.5 3h0m.5 2.5h0m0 2.5h0m.5 -7h0m.5 12h0m.5 -14.5h0m0 12h0m.5 3.5h0m.5 0h0m0 1h0m.5 0h0m0 33h0m.5 -39h0m.5 8.5h0m0 -7h0m.5 .5h0m.5 2h0m.5 -.5h0m0 -8.5h0m.5 2.5h0m.5 -3.5h0m.5 .5h0m0 -5.5h0m.5 7h0m.5 4h0m.5 -6h0m0 7.5h0m.5 -3h0m.5 1.5h0m.5 -3h0m0 -11h0m.5 5h0m.5 -7.5h0m0 4h0m.5 -4.5h0m.5 7.5h0m.5 -1.5h0m0 1.5h0m.5 -2h0m.5 5.5h0m.5 -7h0m0 3.5h0m.5 4h0m.5 -9h0m.5 12.5h0m0 3h0m.5 -10.5h0m.5 11h0m.5 -.5h0m0 -.5h0m.5 -1.5h0m.5 3h0m.5 -.5h0m0 -5h0m.5 5.5h0m.5 -2h0m0 -.5h0m.5 -.5h0m.5 1h0m.5 -9.5h0m0 7.5h0m.5 -2.5h0m.5 -8.5h0m.5 9.5h0m0 -6.5h0m.5 7.5h0m.5 -1.5h0m.5 .5h0m0 -9h0m.5 3h0m.5 4.5h0m.5 0h0m0 -3.5h0m.5 -7.5h0m.5 11h0m.5 -1h0m0 2.5h0m.5 -4.5h0m.5 3.5h0m0 0h0m.5 -3h0m.5 -4h0m.5 6h0m0 -.5h0m.5 2h0m.5 1h0m.5 -5h0m0 2h0m.5 -5.5h0m.5 5.5h0m.5 -4h0m0 -5.5h0m.5 1h0m.5 -2.5h0m.5 4.5h0m0 -5h0m.5 -.5h0m.5 -.5h0m.5 3h0m0 -2.5h0m.5 0h0m.5 0h0m0 0h0m.5 1h0m.5 -1.5h0m.5 1.5h0m0 3.5h0m.5 2.5h0m.5 -2h0m.5 7h0m0 .5h0m.5 -1.5h0m.5 2.5h0m.5 -4h0m0 -3h0m.5 -2.5h0m.5 .5h0m.5 -4h0m0 4.5h0m.5 -2.5h0m.5 -1h0m.5 2h0m0 1h0m.5 0h0m.5 0h0m0 .5h0m.5 -4h0m.5 -.5h0m.5 -2h0m0 5h0m.5 1.5h0m.5 -1.5h0m.5 -4h0m0 4h0m.5 0h0m.5 7.5h0m.5 -6h0m0 -5h0m.5 0h0m.5 6.5h0m.5 -6.5h0m0 4.5h0m.5 -4h0m.5 7h0m.5 -6.5h0m0 -2h0m.5 8.5h0m.5 -7.5h0m0 -1h0m.5 1.5h0m.5 -1.5h0m.5 .5h0m0 -1h0m.5 1h0m.5 0h0m.5 5.5h0m0 1h0m.5 -.5h0m.5 -3h0m.5 -1.5h0m0 -1.5h0m.5 -1.5h0m.5 2.5h0m.5 -2h0m0 -1h0m.5 -.5h0m.5 -.5h0m.5 .5h0m0 .5h0m.5 .5h0m.5 -1.5h0m0 2h0m.5 -2h0m.5 -.5h0m.5 .5h0m0 .5h0m.5 0h0m.5 2h0m.5 -2h0m0 -.5h0m.5 0h0m.5 0h0m.5 1h0m0 3h0m.5 -3h0m.5 -.5h0m.5 2h0m0 -1.5h0m.5 .5h0m.5 2h0m.5 2h0m0 -3h0m.5 4h0m.5 0h0m0 1h0m.5 -1.5h0m.5 1h0m.5 1.5h0m0 -.5h0m.5 2h0m.5 -1h0m.5 -3.5h0m0 -2.5h0m.5 -3h0m.5 2.5h0m.5 -1.5h0m0 -1.5h0m.5 2.5h0m.5 -1.5h0m.5 0h0m0 5.5h0m.5 -3.5h0m.5 8h0m.5 -3h0m0 4h0m.5 0h0m.5 2.5h0m0 -.5h0m.5 .5h0m.5 -.5h0m.5 0h0m0 .5h0m.5 -.5h0m.5 -.5h0m.5 .5h0m0 -.5h0m.5 -4h0m.5 2h0m.5 -1h0m0 -2h0m.5 -1h0m.5 -2.5h0m.5 8h0m0 -1h0m.5 1h0m.5 -.5h0m.5 .5h0m0 0h0m.5 -4.5h0m.5 1h0m0 1.5h0m.5 -2.5h0m.5 -1.5h0m.5 -4h0m0 -.5h0m.5 1.5h0m.5 1h0m.5 -1h0m0 -3h0m.5 -.5h0m.5 1.5h0m.5 -1.5h0m0 3h0m.5 -2h0m.5 4.5h0m.5 -3h0m0 6h0m.5 -5.5h0m.5 4h0m.5 -2.5h0m0 3h0m.5 -1h0m.5 1.5h0m0 -4.5h0m.5 3h0m.5 -6h0m.5 3h0m0 1h0m.5 -2h0m.5 5.5h0m.5 1.5h0m0 2h0m.5 -6.5h0m.5 4.5h0m.5 -2h0m0 6h0m.5 .5h0m.5 -1.5h0m.5 -4h0m0 2h0m.5 -1.5h0m.5 -2h0m.5 0h0m0 -3h0m.5 -1h0m.5 1.5h0m0 .5h0m.5 4.5h0m.5 -1.5h0m.5 -3h0m0 5h0m.5 -3h0m.5 4h0m.5 -2.5h0m0 3.5h0m.5 -9.5h0m.5 8.5h0m.5 -2h0m0 -1.5h0m.5 5h0m.5 -2h0m.5 -3h0m0 3.5h0m.5 1.5h0m.5 1h0m.5 .5h0m0 -2h0m.5 .5h0m.5 2h0m.5 -2.5h0m0 -1h0m.5 -1.5h0m.5 -7.5h0m0 9.5h0m.5 -11h0m.5 2h0m.5 -1.5h0m0 4.5h0m.5 -3h0m.5 1h0m.5 7h0m0 1h0m.5 .5h0m.5 1h0m.5 -2h0m0 0h0m.5 -3.5h0m.5 6h0m.5 -6.5h0m0 2h0m.5 -3h0m.5 -2h0m.5 2.5h0m0 -2h0m.5 -2h0m.5 0h0m0 -.5h0m.5 -1h0m.5 3h0m.5 .5h0m0 -2h0m.5 -1h0m.5 4h0m.5 4.5h0m0 -1h0m.5 -4.5h0m.5 -1h0m.5 7h0m0 .5h0m.5 -2h0m.5 3h0m.5 -1h0m0 2h0m.5 -2h0m.5 -2.5h0m.5 4.5h0m0 -5h0m.5 .5h0m.5 3h0m0 -6.5h0m.5 -1.5h0m.5 -.5h0m.5 -1.5h0m0 7.5h0m.5 3h0m.5 -6h0m.5 -2.5h0m0 -2h0m.5 0h0m.5 0h0m.5 10.5h0m0 -8.5h0m.5 -1.5h0m.5 4.5h0m.5 5h0m0 -1.5h0m.5 -3h0m.5 -3.5h0m.5 8h0m0 -5h0m.5 1.5h0m.5 5.5h0m0 -7h0m.5 6h0m.5 .5h0m.5 0h0m0 -5.5h0m.5 6h0m.5 -1h0m.5 .5h0m0 -.5h0m.5 1.5h0m.5 -8.5h0m.5 .5h0m0 1.5h0m.5 -3h0m.5 9.5h0m.5 -11.5h0m0 3h0m.5 0h0m.5 -2.5h0m.5 3h0m0 -1.5h0m.5 -2h0m.5 8.5h0m0 -9h0m.5 -.5h0m.5 3h0m.5 -2.5h0m0 3h0m.5 -2h0m.5 -.5h0m.5 6h0m0 -5.5h0m.5 3.5h0m.5 0h0m.5 -2.5h0m0 -2h0m.5 .5h0m.5 -.5h0m.5 1.5h0m0 -1h0m.5 -.5h0m.5 0h0m.5 1h0m0 1h0m.5 -1.5h0m.5 6h0m0 -3h0m.5 5.5h0m.5 -3.5h0m.5 4h0m0 -3.5h0m.5 3.5h0m.5 3h0m.5 -8h0m0 6h0m.5 2h0m.5 .5h0m.5 -2.5h0m0 1.5h0m.5 -1.5h0m.5 2h0m.5 .5h0m0 -1.5h0m.5 .5h0m.5 1h0m.5 0h0m0 0h0m.5 -4h0m.5 2.5h0m0 1.5h0m.5 0h0m.5 .5h0m.5 -1.5h0m0 -7.5h0m.5 3.5h0m.5 1h0m.5 0h0m0 -5h0m.5 -3h0m.5 .5h0m.5 3.5h0m0 2h0m.5 5.5h0m.5 -1.5h0m.5 -4h0m0 3h0m.5 1h0m.5 -8.5h0m.5 -.5h0m0 1h0m.5 3.5h0m.5 -4.5h0m0 0h0m.5 -1.5h0m.5 2.5h0m.5 2.5h0m0 -.5h0m.5 4h0m.5 .5h0m.5 2.5h0m0 1h0m.5 -4.5h0m.5 2h0m.5 .5h0m0 1.5h0m.5 -6.5h0m.5 .5h0m.5 1.5h0m0 3h0m.5 -5.5h0m.5 -1h0m.5 4.5h0m0 -.5h0m.5 3.5h0m.5 -7.5h0m0 -3.5h0m.5 1.5h0m.5 -1h0m.5 0h0m0 5h0m.5 -5.5h0m.5 2h0m.5 5.5h0m0 -5.5h0m.5 9.5h0m.5 -9h0m.5 -2h0m0 -1h0m.5 .5h0m.5 -1h0m.5 1.5h0m0 0h0m.5 -1h0m.5 -.5h0m.5 1h0m0 1h0m.5 5.5h0m.5 -1.5h0m0 6.5h0m.5 .5h0m.5 -1h0m.5 0h0m0 1h0m.5 .5h0m.5 -.5h0m.5 0h0m0 -1.5h0m.5 -4h0m.5 5h0m.5 1h0m0 -2.5h0m.5 -1.5h0m.5 -5.5h0m.5 -2h0m0 0h0m.5 1h0m.5 2h0m.5 -3.5h0m0 2.5h0m.5 3.5h0m.5 1.5h0m0 -3h0m.5 -.5h0m.5 4h0m.5 1.5h0m0 -.5h0m.5 2.5h0m.5 0h0m.5 -3.5h0m0 -1h0m.5 -5.5h0m.5 4.5h0m.5 3.5h0m0 -8h0m.5 -.5h0m.5 -1h0m.5 -.5h0m0 0h0m.5 2h0m.5 -1.5h0m.5 3h0m0 -3h0m.5 3h0m.5 -3h0m0 3.5h0m.5 -4h0m.5 2.5h0m.5 3h0m0 -5h0m.5 1h0m.5 3h0m.5 -.5h0m0 -.5h0m.5 -1.5h0m.5 .5h0m.5 2h0m0 -4h0m.5 1.5h0m.5 2h0m.5 3.5h0m0 -5.5h0m.5 7h0m.5 -5.5h0m.5 2h0m0 4h0m.5 -5h0m.5 -.5h0m0 0h0m.5 -4h0m.5 3.5h0m.5 -2.5h0m0 -.5h0m.5 2.5h0m.5 0h0m.5 -3h0m0 4h0m.5 -4.5h0m.5 .5h0m.5 0h0m0 0h0m.5 0h0m.5 1.5h0m.5 -1h0m0 0h0m.5 -1h0m.5 .5h0m.5 0h0m0 -.5h0m.5 0h0m.5 0h0m0 1.5h0m.5 -1.5h0m.5 1.5h0m.5 -.5h0m0 -.5h0m.5 3.5h0m.5 .5h0m.5 0h0m0 0h0m.5 0h0m.5 4.5h0m.5 1.5h0m0 3h0m.5 -5h0m.5 -1h0m.5 5.5h0m0 -2.5h0m.5 0h0m.5 3h0m.5 0h0m0 -1h0m.5 .5h0m.5 -3.5h0m0 3h0m.5 -7h0m.5 -.5h0m.5 -1h0m0 -3h0m.5 2.5h0m.5 -2.5h0m.5 3.5h0m0 .5h0m.5 3h0m.5 1h0m.5 1.5h0m0 -1h0m.5 -2.5h0m.5 6.5h0m.5 -4h0m0 2h0m.5 -.5h0m.5 1h0m.5 -.5h0m0 -3h0m.5 -2h0m.5 2h0m0 5h0m.5 -4h0m.5 -1.5h0m.5 -3.5h0m0 5.5h0m.5 4h0m.5 -2h0m.5 -.5h0m0 .5h0m.5 1h0m.5 -1h0m.5 1.5h0m0 0h0m.5 .5h0m.5 0h0m.5 0h0m0 -4h0m.5 3h0m.5 -5h0m.5 0h0m0 -2.5h0m.5 -4h0m.5 6h0m0 -1h0m.5 1.5h0m.5 -1.5h0m.5 1h0m0 -4h0m.5 1h0m.5 -1h0m.5 -2.5h0m0 3h0m.5 -2.5h0m.5 2h0m.5 -1.5h0m0 -.5h0m.5 0h0m.5 -.5h0m.5 1.5h0m0 -1.5h0m.5 .5h0m.5 2.5h0m.5 -2.5h0m0 0h0m.5 -.5h0m.5 .5h0m0 3.5h0m.5 1h0m.5 -4.5h0m.5 2.5h0m0 .5h0m.5 .5h0m.5 6.5h0m.5 -5h0m0 0h0m.5 7.5h0m.5 -2h0m.5 2h0m0 -2h0m.5 1.5h0m.5 .5h0m.5 -3.5h0m0 -2h0m.5 0h0m.5 -2h0m.5 -3.5h0m0 -1.5h0m.5 -.5h0m.5 0h0m0 0h0m.5 -.5h0m.5 .5h0m.5 .5h0m0 .5h0m.5 -1h0m.5 3h0m.5 5h0m0 -1.5h0m.5 4.5h0m.5 2h0m.5 -.5h0m0 -1.5h0m.5 1h0m.5 -.5h0m.5 -.5h0m0 .5h0m.5 1.5h0m.5 -2.5h0m.5 -8h0m0 5h0m.5 -7.5h0m.5 .5h0m0 1.5h0m.5 -1h0m.5 -1h0m.5 4.5h0m0 -3.5h0m.5 5.5h0m.5 -5.5h0m.5 8h0m0 -7.5h0m.5 6.5h0m.5 -4.5h0m.5 -2.5h0m0 2h0m.5 -.5h0m.5 1.5h0m.5 -3h0m0 0h0m.5 1h0m.5 4.5h0m.5 -.5h0m0 6h0m.5 -6h0m.5 2h0m0 5h0m.5 0h0m.5 -6h0m.5 -2.5h0m0 -1.5h0m.5 5.5h0m.5 -4h0m.5 5h0m0 -5.5h0m.5 4h0m.5 2.5h0m.5 -6h0m0 -1h0m.5 3h0m.5 2.5h0m.5 1.5h0m0 .5h0m.5 -1h0m.5 -5h0m.5 1h0m0 4.5h0m.5 -8h0m.5 -.5h0m.5 5h0m0 -4.5h0m.5 1.5h0m.5 7h0m0 -6.5h0m.5 5.5h0m.5 1.5h0m.5 -4h0m0 -5h0m.5 0h0m.5 5h0m.5 1.5h0m0 -2h0m.5 -4h0m.5 6.5h0m.5 -.5h0m0 4.5h0m.5 .5h0m.5 -1h0m.5 -4h0m0 5h0m.5 -1h0m.5 -3h0m.5 3.5h0m0 -1.5h0m.5 .5h0m.5 -.5h0m0 -3.5h0m.5 1h0m.5 -4h0m.5 4.5h0m0 -1.5h0m.5 1h0m.5 -8h0m.5 6h0m0 3.5h0m.5 -7.5h0m.5 7.5h0m.5 -6h0m0 0h0m.5 3.5h0m.5 2.5h0m.5 -4h0m0 5.5h0m.5 -9h0m.5 2.5h0m.5 3h0m0 -3h0m.5 -2h0m.5 2.5h0m0 -1.5h0m.5 -.5h0m.5 7h0m.5 -8.5h0m0 10.5h0m.5 -4h0m.5 0h0m.5 -3h0m0 4.5h0m.5 -2h0m.5 3.5h0m.5 .5h0m0 -1h0m.5 2h0m.5 -1h0m.5 .5h0m0 1h0m.5 -.5h0m.5 -.5h0m.5 .5h0m0 0h0m.5 0h0m.5 0h0m0 -.5h0m.5 -4h0m.5 1h0m.5 .5h0m0 -2h0m.5 -6.5h0m.5 .5h0m.5 0h0m0 -1h0m.5 0h0m.5 -1h0m.5 4h0m0 2h0m.5 2.5h0m.5 3h0m.5 1.5h0m0 -1.5h0m.5 1h0m.5 .5h0m.5 -2h0m0 2.5h0m.5 -1h0m.5 -5.5h0m0 1.5h0m.5 -3.5h0m.5 -1.5h0m.5 4.5h0m0 -5.5h0m.5 -2.5h0m.5 0h0m.5 3.5h0m0 -1.5h0m.5 0h0m.5 0h0m.5 2.5h0m0 2.5h0m.5 -3h0m.5 4h0m.5 -5.5h0m0 1h0m.5 -4h0m.5 7.5h0m.5 -6.5h0m0 -.5h0m.5 2h0m.5 6h0m0 -2h0m.5 -.5h0m.5 -5h0m.5 3.5h0m0 -3.5h0m.5 .5h0m.5 0h0m.5 1h0m0 -1.5h0m.5 .5h0m.5 -1h0m.5 .5h0m0 -.5h0m.5 1h0m.5 -.5h0m.5 4.5h0m0 3.5h0m.5 -.5h0m.5 -3h0m.5 0h0m0 3h0m.5 1h0m.5 2h0m0 -8h0m.5 3.5h0m.5 3h0m.5 -6h0m0 -1h0m.5 7h0m.5 1h0m.5 -8h0m0 6h0m.5 -2.5h0m.5 -.5h0m.5 0h0m0 5.5h0m.5 -2h0m.5 -3.5h0m.5 -4h0m0 4h0m.5 0h0m.5 -3h0m.5 6.5h0m0 -7h0m.5 7h0m.5 -3.5h0m0 2.5h0m.5 -5.5h0m.5 5h0m.5 -4h0m0 2h0m.5 -5h0m.5 0h0m.5 4.5h0m0 -4h0m.5 0h0m.5 -1h0m.5 1.5h0m0 -1h0m.5 -.5h0m.5 2h0m.5 -.5h0m0 1.5h0m.5 1h0m.5 4.5h0m.5 -3.5h0m0 -2h0m.5 0h0m.5 -1h0m0 2h0m.5 0h0m.5 -1.5h0m.5 0h0m0 0h0m.5 3.5h0m.5 5h0m.5 -2.5h0m0 0h0m.5 1h0m.5 1h0m.5 -2.5h0m0 -1h0m.5 -1h0m.5 1h0m.5 0h0m0 .5h0m.5 -.5h0m.5 1h0m.5 -3h0m0 -.5h0m.5 -2.5h0m.5 .5h0m0 .5h0m.5 -2.5h0m.5 1h0m.5 0h0m0 1.5h0m.5 -.5h0m.5 -1h0m.5 8.5h0m0 -4h0m.5 -3.5h0m.5 6.5h0m.5 2.5h0m0 -5h0m.5 3.5h0m.5 -4h0m.5 4h0m0 -8h0m.5 1.5h0m.5 -.5h0m.5 3.5h0m0 -.5h0m.5 -2h0m.5 -2.5h0m0 -1h0m.5 2.5h0m.5 1.5h0m.5 -3h0m0 -.5h0m.5 1h0m.5 2h0m.5 .5h0m0 0h0m.5 -3.5h0m.5 .5h0m.5 3h0m0 -1.5h0m.5 7h0m.5 -3.5h0m.5 0h0m0 -.5h0m.5 -1.5h0m.5 1.5h0m.5 4.5h0m0 -5h0m.5 1.5h0m.5 4h0m0 -.5h0m.5 -1h0m.5 4h0m.5 -1h0m0 0h0m.5 .5h0m.5 0h0m.5 -5.5h0m0 4.5h0m.5 -3h0m.5 -3h0m.5 6.5h0m0 -4.5h0m.5 -2h0m.5 1.5h0m.5 3.5h0m0 -4.5h0m.5 -3h0m.5 2h0m.5 5.5h0m0 -6h0m.5 -1h0m.5 1h0m0 6h0m.5 -3h0m.5 -2.5h0m.5 7.5h0m0 -5.5h0m.5 4.5h0m.5 -.5h0m.5 -1.5h0m0 -7h0m.5 -.5h0m.5 1.5h0m.5 0h0m0 1.5h0m.5 1h0m.5 .5h0m.5 4.5h0m0 -6.5h0m.5 4h0m.5 -1.5h0m.5 1.5h0m0 3.5h0m.5 1h0m.5 -3.5h0m0 2h0m.5 -4h0m.5 -4h0m.5 -.5h0m0 .5h0m.5 -1h0m.5 2h0m.5 0h0m0 .5h0m.5 -2.5h0m.5 -.5h0m.5 8h0m0 -2.5h0m.5 -5.5h0m.5 1h0m.5 -1h0m0 3.5h0m.5 2h0m.5 -1h0m.5 -.5h0m0 1.5h0m.5 1h0m.5 -2h0m0 0h0m.5 -2.5h0m.5 8h0m.5 -4.5h0m0 3.5h0m.5 0h0m.5 1h0m.5 -6.5h0m0 8h0m.5 -4.5h0m.5 0h0m.5 -4h0m0 0h0m.5 2h0m.5 -3.5h0m.5 4h0m0 -1h0m.5 -3.5h0m.5 -1.5h0m.5 .5h0m0 6h0m.5 -2h0m.5 0h0m0 3.5h0m.5 1h0m.5 3h0m.5 .5h0m0 -.5h0m.5 0h0m.5 .5h0m.5 -.5h0m0 .5h0m.5 0h0m.5 -.5h0m.5 0h0m0 0h0m.5 -.5h0m.5 -4h0m.5 1h0m0 .5h0m.5 -3h0m.5 5.5h0m.5 .5h0m0 -.5h0m.5 -6h0m.5 4h0m0 -3.5h0m.5 5.5h0m.5 .5h0m.5 .5h0m0 0h0m.5 -.5h0m.5 -1h0m.5 1h0m0 -5.5h0m.5 2h0m.5 2h0m.5 -3h0m0 -5h0m.5 4h0m.5 -4.5h0m.5 5.5h0m0 -1h0m.5 3.5h0m.5 -.5h0m.5 1.5h0m0 -5h0m.5 1.5h0m.5 -1.5h0m0 1h0m.5 -3h0m.5 5.5h0m.5 -4h0m0 -1h0m.5 -1.5h0m.5 -1.5h0m.5 2h0m0 1h0m.5 7h0m.5 -2h0m.5 0h0m0 0h0m.5 -1h0m.5 2.5h0m.5 -3h0m0 3.5h0m.5 -3h0m.5 4h0m.5 -.5h0m0 1h0m.5 -1h0m.5 -1.5h0m0 -3.5h0m.5 3.5h0m.5 .5h0m.5 .5h0m0 .5h0m.5 -2h0m.5 0h0m.5 2h0m0 -1.5h0m.5 .5h0m.5 1h0m.5 0h0m0 -3.5h0m.5 1.5h0m.5 -2h0m.5 -1h0m0 0h0m.5 -1.5h0m.5 1h0m.5 -.5h0m0 0h0m.5 -1.5h0m.5 2h0m0 -4h0m.5 1.5h0m.5 -1.5h0m.5 -.5h0m0 3h0m.5 -1h0m.5 1.5h0m.5 -2h0m0 -1.5h0m.5 7.5h0m.5 -5.5h0m.5 -3h0m0 4h0m.5 -3h0m.5 .5h0m.5 .5h0m0 0h0m.5 -2h0m.5 3.5h0m.5 -.5h0m0 1.5h0m.5 3.5h0m.5 -4.5h0m0 3h0m.5 -4h0m.5 8.5h0m.5 -2.5h0m0 2h0m.5 -1h0m.5 2h0m.5 .5h0m0 0h0m.5 -.5h0m.5 0h0m.5 .5h0m0 -6h0m.5 2.5h0m.5 -2h0m.5 -4h0m0 -.5h0m.5 0h0m.5 1.5h0m.5 1h0m0 -4h0m.5 2h0m.5 7.5h0m.5 -7.5h0m0 1.5h0m.5 1.5h0m.5 -1h0m0 1h0m.5 3h0m.5 -6h0m.5 2h0m0 .5h0m.5 2.5h0m.5 -5h0m.5 0h0m0 3h0m.5 -3h0m.5 0h0m.5 3h0m0 -4h0m.5 1.5h0m.5 3h0m.5 -.5h0m0 .5h0m.5 3.5h0m.5 1h0m.5 -1h0m0 0h0m.5 -3h0m.5 2h0m0 2h0m.5 -3.5h0m.5 -2h0m.5 6h0m0 -3.5h0m.5 -4h0m.5 -1h0m.5 2h0m0 .5h0m.5 -1.5h0m.5 1.5h0m.5 -2h0m0 1h0m.5 2.5h0m.5 3h0m.5 1h0m0 -4h0m.5 -2h0m.5 .5h0m.5 -1.5h0m0 -1h0m.5 2.5h0m.5 -1.5h0m0 4.5h0m.5 -5h0m.5 3h0m.5 0h0m0 -3.5h0m.5 .5h0m.5 -1.5h0m.5 -.5h0m0 .5h0m.5 1h0m.5 .5h0m.5 0h0m0 1h0m.5 -.5h0m.5 -.5h0m.5 .5h0m0 4.5h0m.5 -3h0m.5 5.5h0m.5 0h0m0 -4h0m.5 3h0m.5 -2.5h0m0 3.5h0m.5 -2h0m.5 3h0m.5 0h0m0 0h0m.5 0h0m.5 1h0m.5 -.5h0m0 -.5h0m.5 .5h0m.5 -.5h0m.5 -.5h0m0 -1h0m.5 .5h0m.5 -5.5h0m.5 1.5h0m0 4.5h0m.5 -6.5h0m.5 2h0m.5 2h0m0 1.5h0m.5 2h0m.5 1h0m0 -2h0m.5 1.5h0m.5 -2.5h0m.5 3h0m0 -2.5h0m.5 -1.5h0m.5 1h0m.5 -4h0m0 0h0m.5 -3h0m.5 3h0m.5 -1.5h0m0 -3h0m.5 1.5h0m.5 -1h0m.5 3h0m0 -2h0m.5 1h0m.5 4h0m.5 -3h0m0 7.5h0m.5 -4.5h0m.5 0h0m0 2h0m.5 1h0m.5 -.5h0m.5 2h0m0 -2h0m.5 2h0m.5 .5h0m.5 -1.5h0m0 0h0m.5 -4h0m.5 3.5h0m.5 -1.5h0m0 -2.5h0m.5 2h0m.5 -3h0m.5 4h0m0 -7.5h0m.5 5h0m.5 -2h0m.5 5.5h0m0 -.5h0m.5 .5h0m.5 1h0m0 .5h0m.5 -4.5h0m.5 .5h0m.5 -4h0m0 -1h0m.5 2.5h0m.5 -4.5h0m.5 0h0m0 .5h0m.5 0h0m.5 .5h0m.5 -.5h0m0 2h0m.5 5.5h0m.5 2.5h0m.5 0h0m0 0h0m.5 .5h0m.5 -3h0m.5 1.5h0m0 -4h0m.5 -3h0m.5 5h0m0 -4.5h0m.5 4.5h0m.5 -6.5h0m.5 -.5h0m0 1h0m.5 1h0m.5 -2h0m.5 .5h0m0 0h0m.5 0h0m.5 2.5h0m.5 1h0m0 -2.5h0m.5 .5h0m.5 7h0m.5 1h0m0 -.5h0m.5 -3.5h0m.5 1h0m.5 2h0m0 2h0m.5 -2.5h0m.5 1h0m0 1.5h0m.5 0h0m.5 -.5h0m.5 -3.5h0m0 2h0m.5 2h0m.5 -2.5h0m.5 2h0m0 -.5h0m.5 -2.5h0m.5 .5h0m.5 1h0m0 -5.5h0m.5 -1.5h0m.5 .5h0m.5 4h0m0 -3.5h0m.5 -2h0m.5 2h0m.5 -2h0m0 1h0m.5 -.5h0m.5 .5h0m0 .5h0m.5 -1h0m.5 4h0m.5 1h0m0 3.5h0m.5 -5h0m.5 1h0m.5 -.5h0m0 -1.5h0m.5 0h0m.5 2h0m.5 -2h0m0 -2.5h0m.5 3h0m.5 -1.5h0m.5 1.5h0m0 -2.5h0m.5 1.5h0m.5 -1h0m.5 -1h0m0 2.5h0m.5 -2.5h0m.5 1.5h0m0 -2.5h0m.5 2h0m.5 -2h0m.5 1.5h0m0 0h0m.5 -1h0m.5 2.5h0m.5 -2h0m0 0h0m.5 0h0m.5 0h0m.5 -.5h0m0 -.5h0m.5 .5h0m.5 0h0m.5 -.5h0m0 .5h0m.5 1h0m.5 -1h0m.5 0h0m0 -.5h0m.5 .5h0m.5 2h0m0 0h0m.5 4.5h0m.5 -1.5h0m.5 1.5h0m0 -4.5h0m.5 3.5h0m.5 1.5h0m.5 -.5h0m0 -2h0m.5 .5h0m.5 -1.5h0m.5 -2h0m0 5.5h0m.5 -6h0m.5 2h0m.5 1.5h0m0 3h0m.5 -2.5h0m.5 2.5h0m.5 2h0m0 0h0m.5 1h0m.5 .5h0m0 -3h0m.5 1.5h0m.5 1.5h0m.5 -2.5h0m0 1h0m.5 1.5h0m.5 -1h0m.5 .5h0m0 -.5h0m.5 .5h0m.5 -1h0m.5 .5h0m0 -6h0m.5 -3h0m.5 2h0m.5 -2h0m0 0h0m.5 -1h0m.5 .5h0m.5 .5h0m0 0h0m.5 0h0m.5 0h0m0 1h0m.5 3.5h0m.5 -3h0m.5 2h0m0 1.5h0m.5 3h0m.5 -1h0m.5 2h0m0 -.5h0m.5 .5h0m.5 0h0m.5 1h0m0 -2h0m.5 2h0m.5 -3.5h0m.5 2h0m0 -2.5h0m.5 3.5h0m.5 -3h0m.5 1.5h0m0 -2h0m.5 .5h0m.5 .5h0m0 -1h0m.5 -4h0m.5 5.5h0m.5 -3.5h0m0 3h0m.5 -4.5h0m.5 3h0m.5 -1h0m0 -2.5h0m.5 -1h0m.5 0h0m.5 1h0m0 -1h0m.5 -.5h0m.5 5.5h0m.5 -2.5h0m0 -1.5h0m.5 1.5h0m.5 5.5h0m.5 -1h0m0 .5h0m.5 0h0m.5 1.5h0m0 -.5h0m.5 1h0m.5 0h0m.5 0h0m0 -5h0m.5 4.5h0m.5 0h0m.5 0h0m0 -1.5h0m.5 -1.5h0m.5 2h0m.5 -2h0m0 -1h0m.5 2.5h0m.5 .5h0m.5 -.5h0m0 -1.5h0m.5 0h0m.5 -3.5h0m.5 4.5h0m0 -2h0m.5 2.5h0m.5 -.5h0m0 -6h0m.5 7h0m.5 -2h0m.5 -1.5h0m0 3.5h0m.5 0h0m.5 -1h0m.5 -1h0m0 .5h0m.5 2.5h0m.5 -.5h0m.5 1h0m0 0h0m.5 0h0m.5 -1h0m.5 1h0m0 0h0m.5 -2h0m.5 2h0m.5 -.5h0m0 -3.5h0m.5 1.5h0m.5 2h0m0 -2.5h0m.5 2.5h0m.5 -1h0m.5 -6.5h0m0 -1.5h0m.5 2h0m.5 -2.5h0m.5 -.5h0m0 0h0m.5 0h0m.5 0h0m.5 -.5h0m0 0h0m.5 .5h0m.5 1.5h0m.5 -2h0m0 0h0m.5 1h0m.5 -.5h0m.5 0h0m0 2h0m.5 1.5h0m.5 -.5h0m0 -2.5h0m.5 1h0m.5 0h0m.5 -1.5h0m0 2.5h0m.5 2h0m.5 -3.5h0m.5 .5h0m0 -.5h0m.5 4h0m.5 -1h0m.5 0h0m0 2.5h0m.5 2.5h0m.5 -.5h0m.5 .5h0m0 1h0m.5 0h0m.5 .5h0m.5 -.5h0m0 .5h0m.5 -.5h0m.5 -1.5h0m0 -.5h0m.5 1h0m.5 .5h0m.5 -6.5h0m0 3h0m.5 -4h0m.5 4h0m.5 -4.5h0m0 -2h0m.5 3h0m.5 -2h0m.5 2h0m0 -2h0m.5 .5h0m.5 0h0m.5 2h0m0 -3h0m.5 0h0m.5 1h0m.5 4.5h0m0 -2.5h0m.5 -1.5h0m.5 2.5h0m0 -3h0m.5 4.5h0m.5 -1.5h0m.5 1.5h0m0 2h0m.5 -2.5h0m.5 -2h0m.5 -.5h0m0 -1h0m.5 2h0m.5 -1h0m.5 4h0m0 -5h0m.5 0h0m.5 3.5h0m.5 -3h0m0 .5h0m.5 2.5h0m.5 -3h0m.5 1h0m0 1h0m.5 -3.5h0m.5 -.5h0m.5 0h0m0 0h0m.5 .5h0m.5 0h0m0 1h0m.5 -1.5h0m.5 .5h0m.5 2.5h0m0 1.5h0m.5 1h0m.5 4.5h0m.5 -5h0m0 4.5h0m.5 -1.5h0m.5 1.5h0m.5 -5.5h0m0 3h0m.5 -5.5h0m.5 -1h0m.5 0h0m0 -.5h0m.5 1h0m.5 .5h0m.5 4h0m0 -.5h0m.5 -.5h0m.5 4h0m0 .5h0m.5 -2h0m.5 -.5h0m.5 3.5h0m0 -3.5h0m.5 -.5h0m.5 2h0m.5 .5h0m0 1.5h0m.5 0h0m.5 -5h0m.5 2.5h0m0 .5h0m.5 -1.5h0m.5 -5h0m.5 3h0m0 1.5h0m.5 -.5h0m.5 2h0m.5 0h0m0 -4h0m.5 3h0m.5 2.5h0m0 1h0m.5 .5h0m.5 0h0m.5 0h0m0 .5h0m.5 0h0m.5 -.5h0m.5 .5h0m0 0h0m.5 -.5h0m.5 0h0m.5 0h0m0 -.5h0m.5 -6h0m.5 6.5h0m.5 -2.5h0m0 -4h0m.5 -1h0m.5 3.5h0m.5 -5.5h0m0 -1h0m.5 0h0m.5 0h0m0 1h0m.5 -.5h0m.5 -1h0m.5 .5h0m0 .5h0m.5 3h0m.5 -2.5h0m.5 2.5h0m0 -.5h0m.5 3h0m.5 -3h0m.5 -1h0m0 2.5h0m.5 -1h0m.5 4.5h0m.5 -.5h0m0 -.5h0m.5 2h0m.5 -3h0m.5 1h0m0 -4.5h0m.5 7h0m.5 -1h0m0 -.5h0m.5 -3.5h0m.5 4h0m.5 -1.5h0m0 -5h0m.5 8h0m.5 0h0m.5 -2h0m0 2.5h0m.5 0h0m.5 0h0m.5 0h0m0 0h0m.5 .5h0m.5 -.5h0m.5 0h0m0 0h0m.5 -.5h0m.5 .5h0m.5 -2h0m0 .5h0m.5 -8.5h0m.5 2.5h0m0 -1.5h0m.5 3.5h0m.5 -5.5h0m.5 .5h0m0 0h0m.5 -.5h0m.5 2h0m.5 -1h0m0 1h0m.5 2.5h0m.5 -.5h0m.5 -1h0m0 4h0m.5 1h0m.5 0h0m.5 -2h0m0 -.5h0m.5 5h0m.5 -3.5h0m.5 -2.5h0m0 1.5h0m.5 -3h0m.5 4h0m0 -3.5h0m.5 -.5h0m.5 .5h0m.5 -.5h0m0 -1h0m.5 -.5h0m.5 1.5h0m.5 4h0m0 -1h0m.5 -1.5h0m.5 -3h0m.5 7.5h0m0 -5.5h0m.5 5h0m.5 -1h0m.5 -1h0m0 -1.5h0m.5 1h0m.5 3h0m.5 1.5h0m0 -1h0m.5 .5h0m.5 0h0m0 1h0m.5 0h0m.5 -.5h0m.5 0h0m0 .5h0m.5 -.5h0m.5 .5h0m.5 0h0m0 -.5h0m.5 -.5h0m.5 .5h0m.5 -1h0m0 -1.5h0m.5 0h0m.5 2h0m.5 -4h0m0 2.5h0m.5 0h0m.5 -2h0m.5 1h0m0 .5h0m.5 -2h0m.5 0h0m0 -.5h0m.5 3.5h0m.5 1h0m.5 -5.5h0m0 2.5h0m.5 -3h0m.5 2h0m.5 1.5h0m0 -3h0m.5 -1h0m.5 4h0m.5 -3h0m0 -1h0m.5 3.5h0m.5 -2.5h0m.5 -3h0m0 .5h0m.5 0h0m.5 -.5h0m.5 1h0m0 -2h0m.5 1.5h0m.5 3h0m0 -5h0m.5 1h0m.5 0h0m.5 0h0m0 1h0m.5 1h0m.5 -1.5h0m.5 3h0m0 3h0m.5 -6.5h0m.5 4h0m.5 1.5h0m0 0h0m.5 2.5h0m.5 -1.5h0m.5 -5h0m0 5.5h0m.5 0h0m.5 1h0m.5 -3h0m0 3.5h0m.5 -2h0m.5 .5h0m0 -1.5h0m.5 -3h0m.5 -1.5h0m.5 -1.5h0m0 1.5h0m.5 -1.5h0m.5 1h0m.5 2h0m0 -.5h0m.5 3h0m.5 .5h0m.5 2h0m0 1h0m.5 0h0m.5 0h0m.5 1.5h0m0 -1h0m.5 -1h0m.5 -2h0m.5 -1.5h0m0 0h0m.5 -1.5h0m.5 -1h0m0 -2h0m.5 4.5h0m.5 0h0m.5 -4.5h0m0 4.5h0m.5 -.5h0m.5 -1h0m.5 3.5h0m0 3h0m.5 -.5h0m.5 -3.5h0m.5 0h0m0 2.5h0m.5 -2.5h0m.5 1.5h0m.5 1.5h0m0 -4.5h0m.5 1.5h0m.5 1.5h0m.5 -4.5h0m0 3.5h0m.5 -1.5h0m.5 -4h0m0 1h0m.5 -.5h0m.5 -1.5h0m.5 0h0m0 2.5h0m.5 -2.5h0m.5 1.5h0m.5 -1.5h0m0 .5h0m.5 -.5h0m.5 0h0m.5 0h0m0 -.5h0m.5 0h0m.5 .5h0m.5 .5h0m0 1h0m.5 4h0m.5 -2h0m.5 5.5h0m0 -6h0m.5 3.5h0m.5 1.5h0m0 -1h0m.5 -3h0m.5 3.5h0m.5 -4h0m0 -1.5h0m.5 -2h0m.5 .5h0m.5 -.5h0m0 1h0m.5 .5h0m.5 0h0m.5 3h0m0 5h0m.5 0h0m.5 -5.5h0m.5 2.5h0m0 2h0m.5 -1h0m.5 2.5h0m.5 .5h0m0 0h0m.5 0h0m.5 0h0m0 -.5h0m.5 .5h0m.5 0h0m.5 -1h0m0 0h0m.5 -2.5h0m.5 2h0m.5 .5h0m0 -3h0m.5 2h0m.5 -.5h0m.5 -1.5h0m0 3.5h0m.5 -1h0m.5 .5h0m.5 -.5h0m0 -1h0m.5 -.5h0m.5 2.5h0m.5 -2.5h0m0 -1.5h0m.5 -3h0m.5 3.5h0m0 3.5h0m.5 -4.5h0m.5 2.5h0m.5 -.5h0m0 2h0m.5 .5h0m.5 0h0m.5 -1.5h0m0 1h0m.5 0h0m.5 1h0m.5 -.5h0m0 .5h0m.5 -.5h0m.5 .5h0m.5 -.5h0m0 .5h0m.5 -.5h0m.5 .5h0m.5 0h0m0 0h0m.5 0h0m.5 0h0m0 0h0m.5 .5h0m.5 -.5h0m.5 0h0m0 -1h0m.5 -.5h0m.5 -.5h0m.5 -2.5h0m0 -5.5h0m.5 2h0m.5 -.5h0m.5 1h0m0 -3h0m.5 1h0m.5 -1h0m.5 2h0m0 -1.5h0m.5 3h0m.5 -3.5h0m.5 2h0m0 5h0m.5 .5h0m.5 1.5h0m0 0h0m.5 -1h0m.5 -2h0m.5 2.5h0m0 -1h0m.5 1.5h0m.5 -8.5h0m.5 8h0m0 -6h0m.5 .5h0m.5 0h0m.5 0h0m0 3.5h0m.5 -3.5h0m.5 -1h0m.5 -2h0m0 1h0m.5 .5h0m.5 0h0m.5 -1.5h0m0 0h0m.5 0h0m.5 0h0m0 0h0m.5 2h0m.5 -1.5h0m.5 -1h0m0 .5h0m.5 .5h0m.5 1h0m.5 0h0m0 5.5h0m.5 1h0m.5 1h0m.5 .5h0m0 -2.5h0m.5 3h0m.5 -4h0m.5 1h0m0 -.5h0m.5 -2.5h0m.5 -1h0m.5 5.5h0m0 0h0m.5 -4.5h0m.5 4h0m0 2h0m.5 -.5h0m.5 0h0m.5 -2.5h0m0 3.5h0m.5 -5h0m.5 3.5h0m.5 -1h0m0 -4.5h0m.5 3.5h0m.5 .5h0m.5 -4.5h0m0 -1h0m.5 0h0m.5 -2h0m.5 2.5h0m0 2.5h0m.5 -2h0m.5 1.5h0m.5 1h0m0 2.5h0m.5 2h0m.5 -1.5h0m0 -1h0m.5 3h0m.5 -3.5h0m.5 3h0m0 1h0m.5 -4.5h0m.5 -.5h0m.5 -5.5h0m0 1h0m.5 -1.5h0m.5 0h0m.5 1h0m0 -.5h0m.5 -1.5h0m.5 1h0m.5 1h0m0 5.5h0m.5 -.5h0m.5 -5h0m.5 0h0m0 3h0m.5 5.5h0m.5 0h0m.5 -1.5h0m0 -2h0m.5 .5h0m.5 4h0m0 1h0m.5 -5.5h0m.5 6h0m.5 -4h0m0 3h0m.5 -.5h0m.5 -1h0m.5 16.5h0m0 -21h0m.5 4.5h0m.5 -3h0m.5 2.5h0m0 -2.5h0m.5 -.5h0m.5 .5h0m.5 4.5h0m0 -3h0m.5 2h0m.5 0h0m0 -40h0m.5 41h0m0 -.5h0m.5 .5h0m.5 -2h0m0 2.5h0m.5 -2.5h0m.5 1h0m.5 -2h0m0 1.5h0m.5 2h0m.5 -6h0m.5 -1.5h0m0 2.5h0m.5 2.5h0m.5 -3h0m.5 -2.5h0m0 -.5h0m.5 .5h0m.5 -1h0m.5 4h0m0 -.5h0m.5 -1h0m.5 -1h0m.5 -2h0m0 1.5h0m.5 1.5h0m.5 -.5h0m0 3h0m.5 .5h0m.5 2h0m.5 -3.5h0m0 7h0m.5 -3.5h0m.5 -1h0m.5 2.5h0m0 16h0m.5 -17.5h0m.5 -3.5h0m.5 0h0m0 3h0m.5 -.5h0m.5 -1.5h0m.5 -2.5h0m0 0h0m.5 0h0m.5 -2.5h0m.5 3.5h0m0 -2h0m.5 0h0m.5 -1.5h0m0 0h0m.5 5h0m.5 -7h0m.5 2h0m0 -2h0m.5 1h0m.5 1.5h0m.5 2.5h0m0 -1.5h0m.5 .5h0m.5 3h0m.5 -5h0m0 -3h0m.5 4h0m.5 -7h0m.5 -1h0m0 3.5h0m.5 -1h0m.5 -3.5h0m.5 1h0m0 .5h0m.5 -1.5h0m.5 -2h0m0 .5h0m.5 -1h0m.5 4.5h0m.5 2.5h0m0 0h0m.5 -.5h0m.5 0h0m.5 2.5h0m0 2h0m.5 .5h0m.5 2h0m.5 1.5h0m0 -5h0m.5 2h0m.5 -1.5h0m.5 0h0m0 1h0m.5 .5h0m.5 0h0m.5 -1.5h0m0 -1.5h0m.5 2.5h0m.5 .5h0m0 6h0m.5 -1h0m.5 -3h0m.5 -.5h0m0 .5h0m.5 4h0m.5 -2.5h0m.5 -.5h0m0 2h0m.5 -1h0m.5 1.5h0m.5 1h0m0 0h0m.5 .5h0m.5 -3h0m.5 -1h0m0 4h0m.5 1h0m.5 -2.5h0m.5 .5h0m0 -4.5h0m.5 6h0m.5 -4.5h0m0 -4h0m.5 4.5h0m.5 -4h0m.5 3h0m0 .5h0m.5 3h0m.5 -2.5h0m.5 2.5h0m0 -5h0m.5 3.5h0m.5 0h0m.5 -1.5h0m0 -2.5h0m.5 2.5h0m.5 -9h0m.5 -1h0m0 1h0m.5 -3.5h0m.5 0h0m.5 -3h0m0 -.5h0m.5 -1h0m.5 2h0m0 4h0m.5 -1h0m.5 0h0m.5 .5h0m0 5h0m.5 1h0m.5 1.5h0m.5 1h0m0 1.5h0m.5 1.5h0m.5 -2.5h0m.5 6h0m0 -2h0m.5 2h0m.5 -2h0m.5 3h0m0 -3.5h0m.5 2h0m.5 -3.5h0m.5 4.5h0m0 0h0m.5 3.5h0m.5 -2h0m0 -1h0m.5 1h0m.5 -1.5h0m.5 .5h0m0 -5h0m.5 5h0m.5 -4h0m.5 -1h0m0 0h0m.5 -22.5h0m.5 19.5h0m.5 1.5h0m0 -1.5h0m.5 -4h0m.5 -3h0m.5 6h0m0 -.5h0m.5 1.5h0m.5 -5.5h0m.5 4.5h0m0 -1.5h0m.5 -3h0m.5 2h0m0 2h0m.5 -4.5h0m.5 -.5h0m.5 2h0m0 4.5h0m.5 -1h0m.5 -.5h0m.5 1.5h0m0 -4h0m.5 5h0m.5 1h0m.5 -.5h0m0 0h0m.5 1h0m.5 4.5h0m.5 -5.5h0m0 2.5h0m.5 1.5h0m.5 .5h0m.5 6.5h0m0 -.5h0m.5 -1.5h0m.5 1h0m0 4.5h0m.5 2.5h0m.5 -3.5h0m.5 1h0m0 4h0m.5 -3.5h0m.5 0h0m.5 1.5h0m0 1h0m.5 0h0m.5 -5.5h0m.5 3.5h0m0 2h0m0 6h0m.5 -10h0m.5 -.5h0m.5 -2.5h0m0 -3h0m.5 2.5h0m.5 -.5h0m.5 -19h0m0 19h0m.5 1h0m.5 -1.5h0m0 4.5h0m.5 -3.5h0m.5 .5h0m.5 3h0m0 2h0m.5 -4h0m.5 5h0m.5 1h0m0 2.5h0m.5 -2.5h0m.5 -2h0m.5 2h0m0 -.5h0m.5 -.5h0m.5 -3h0m.5 -7h0m0 2.5h0m.5 .5h0m.5 -6.5h0m.5 -2.5h0m0 -.5h0m.5 1.5h0m.5 -10h0m0 3h0m.5 5h0m.5 -4.5h0m.5 -4h0m0 9h0m.5 -4h0m.5 4h0m.5 -6.5h0m0 8.5h0m.5 0h0m.5 -18h0m.5 22h0m0 -1h0m.5 0h0m.5 5h0m.5 0h0m0 .5h0m.5 -1h0m.5 -3h0m.5 1.5h0m0 -5.5h0m.5 4h0m.5 0h0m0 -4h0m.5 2.5h0m.5 0h0m.5 -4.5h0m0 3.5h0m.5 17h0m.5 -17.5h0m.5 .5h0m0 -3h0m.5 0h0m.5 3h0m.5 -5h0m0 1h0m.5 -3h0m.5 .5h0m.5 3h0m0 -14h0m.5 14h0m.5 -1h0m.5 .5h0m0 -.5h0m.5 2.5h0m.5 -7.5h0m0 5h0m.5 -1h0m.5 -1h0m.5 2h0m0 -1.5h0m.5 -.5h0m.5 -.5h0m.5 19h0m0 -15.5h0m.5 -3h0m.5 5h0m.5 -2.5h0m0 -.5h0m.5 -21h0m.5 19.5h0m.5 -1.5h0m0 3.5h0m.5 1h0m.5 -1h0m.5 -3.5h0m0 2.5h0m.5 1h0m.5 3.5h0m0 -7h0m.5 9.5h0m.5 -6.5h0m.5 .5h0m0 1h0m.5 1.5h0m.5 0h0m.5 0h0m0 4h0m.5 -3h0m.5 -1h0m.5 0h0m0 -.5h0m.5 .5h0m.5 .5h0m.5 -2h0m0 4h0m.5 0h0m.5 -5h0m.5 1h0m0 -.5h0m.5 -3h0m.5 1.5h0m0 2.5h0m.5 -4h0m.5 2.5h0m.5 1h0m0 -.5h0m.5 2h0m.5 -1.5h0m.5 1h0m0 1h0m.5 -4.5h0m.5 6h0m.5 .5h0m0 -4h0m.5 -3.5h0m.5 4.5h0m.5 -.5h0m0 1h0m.5 -4h0m.5 1.5h0m.5 -2h0m0 2h0m.5 -4.5h0m.5 0h0m0 0h0m.5 -3.5h0m.5 -2.5h0m.5 -1h0m0 4.5h0m.5 -6h0m.5 6h0m.5 -7h0m0 4h0m.5 2h0m.5 -7.5h0m.5 4.5h0m0 -7h0m.5 8.5h0m.5 -2.5h0m.5 1.5h0m0 5.5h0m.5 -1.5h0m.5 2.5h0m.5 2.5h0m0 -1h0m.5 2h0m.5 .5h0m0 -5h0m.5 3.5h0m.5 2.5h0m.5 0h0m0 -3h0m.5 -2.5h0m.5 1h0m.5 2h0m0 -5h0m.5 7h0m.5 -1.5h0m.5 -.5h0m0 -3.5h0m.5 7h0m.5 -5h0m.5 2.5h0m0 -3.5h0m.5 1.5h0m.5 -3.5h0m.5 0h0m0 1h0m.5 0h0m.5 .5h0m0 -5h0m.5 .5h0m.5 1.5h0m.5 -2.5h0m0 -3h0m.5 -1.5h0m.5 -2h0m.5 3h0m0 -.5h0m.5 -6.5h0m.5 1.5h0m.5 3.5h0m0 -1h0m.5 1.5h0m.5 0h0m.5 -1h0m0 6h0m.5 4h0m.5 0h0m.5 -1h0m0 5h0m.5 1.5h0m.5 3.5h0m0 3.5h0m.5 2.5h0m.5 -4h0m.5 5h0m0 -.5h0m.5 .5h0m.5 2.5h0m.5 -4.5h0m0 -19.5h0m.5 22.5h0m.5 -3.5h0m.5 -5h0m0 -5h0m.5 -1h0m.5 -3.5h0m.5 -1.5h0m0 2h0m.5 -5h0m.5 0h0m.5 0h0m0 -2.5h0m.5 .5h0m.5 .5h0m.5 1h0m0 2h0m.5 1h0m.5 0h0m0 .5h0m.5 1.5h0m.5 4h0m.5 2h0m0 1h0m.5 1.5h0m.5 4.5h0m0 -38h0m.5 36h0m0 2.5h0m.5 2h0m.5 -18.5h0m.5 22.5h0m0 -2.5h0m.5 3h0m.5 4.5h0m.5 2.5h0m0 -1h0m.5 -1h0m.5 4.5h0m.5 -3.5h0m0 -1h0m.5 .5h0m.5 1h0m0 4h0m.5 -5h0m.5 -3.5h0m.5 -1h0m0 0h0m.5 -2h0m.5 -4.5h0m.5 4h0m0 -4.5h0m.5 -1h0m.5 -3.5h0m.5 -.5h0m0 -3.5h0m.5 1h0m.5 .5h0m.5 -.5h0m0 0h0m.5 1.5h0m.5 -2h0m.5 -1h0m0 -2h0m.5 4.5h0m.5 -.5h0m0 1h0m.5 -3h0m.5 -5h0m.5 1h0m0 3h0m.5 -5h0m.5 -2h0m.5 1h0m0 5h0m.5 -3h0m.5 -1.5h0m.5 -4.5h0m0 3h0m.5 .5h0m.5 -.5h0m.5 2h0m0 2h0m.5 -2h0m.5 2.5h0m.5 3.5h0m0 -2.5h0m.5 .5h0m.5 7h0m0 -3h0m.5 5h0m.5 -4.5h0m.5 0h0m0 7h0m.5 -3.5h0m.5 1.5h0m.5 -3h0m0 1.5h0m.5 5h0m.5 -1.5h0m.5 -3h0m0 1h0m.5 1h0m.5 -1.5h0m.5 2h0m0 0h0m.5 -1.5h0m.5 1h0m.5 -.5h0m0 -.5h0m.5 2.5h0m.5 -2h0m0 2h0m.5 -.5h0m.5 -5h0m.5 1h0m0 -2h0m.5 6.5h0m.5 -2.5h0m.5 4h0m0 -5.5h0m.5 -4.5h0m.5 3h0m.5 -2.5h0m0 -5h0m.5 1.5h0m.5 -4h0m.5 .5h0m0 -.5h0m.5 -2.5h0m.5 -4.5h0m.5 2h0m0 -2h0m.5 3.5h0m.5 2h0m0 -5.5h0m.5 5.5h0m.5 -1.5h0m.5 -1h0m0 6.5h0m.5 -6.5h0m.5 6.5h0m.5 -2h0m0 0h0m.5 6.5h0m.5 -3h0m.5 -3h0m0 3.5h0m.5 3.5h0m.5 -4.5h0m.5 .5h0m0 -3.5h0m.5 6h0m.5 -2h0m.5 1h0m0 2.5h0m.5 -1h0m.5 3.5h0m0 1h0m.5 -2.5h0m.5 1.5h0m.5 1h0m0 .5h0m.5 2.5h0m.5 1.5h0m.5 0h0m0 -3h0m.5 -5h0m.5 7.5h0m.5 -5.5h0m0 4.5h0m.5 0h0m.5 4.5h0m.5 -.5h0m0 -2.5h0m.5 -1h0m.5 .5h0m.5 -4.5h0m0 1h0m.5 -6h0m.5 1h0m0 -.5h0m.5 1.5h0m.5 -3.5h0m.5 -2.5h0m0 -2.5h0m.5 4h0m.5 26h0m.5 -23.5h0m0 .5h0m.5 -16.5h0m.5 15h0m.5 0h0m0 -.5h0m.5 3h0m.5 -4.5h0m.5 5h0m0 1h0m.5 -3h0m.5 2h0m.5 0h0m0 0h0m.5 -1h0m.5 5.5h0m0 -5h0m.5 -1h0m0 -29.5h0m.5 33h0m.5 -21.5h0m0 21.5h0m.5 -1h0m.5 -1.5h0m.5 2.5h0m0 2.5h0m.5 -1h0m.5 -2.5h0m.5 -21h0m0 4h0m.5 23.5h0m.5 -4h0m.5 -3h0m0 -1h0m.5 -.5h0m.5 -4h0m.5 3.5h0m0 -.5h0m.5 -2.5h0m.5 -.5h0m0 -15h0m.5 14.5h0m.5 .5h0m.5 .5h0m0 -1h0m.5 .5h0m.5 21.5h0m.5 -22h0m0 4.5h0m.5 3h0m.5 -3h0m.5 0h0m0 -2.5h0m.5 4.5h0m.5 -1h0m.5 -2.5h0m0 -3h0m.5 5h0m.5 -2h0m.5 -1.5h0m0 -3.5h0m.5 2h0m.5 1h0m0 1.5h0m.5 -1.5h0m.5 -4.5h0m.5 3.5h0m0 2h0m.5 3h0m.5 -2h0m.5 -2.5h0m0 -2.5h0m.5 7.5h0m.5 1h0m.5 -1.5h0m0 -.5h0m.5 -1.5h0m.5 .5h0m.5 25h0m0 -22.5h0m.5 -5h0m.5 -19.5h0m.5 23.5h0m0 1h0m.5 .5h0m.5 -1h0m0 -.5h0m.5 -4h0m.5 -18.5h0m.5 21h0m0 1.5h0m.5 -5h0m.5 .5h0m.5 3.5h0m0 1h0m.5 2h0m.5 -24.5h0m.5 21h0m0 4h0m.5 -1h0m.5 -1.5h0m.5 -21.5h0m0 26h0m.5 -2.5h0m.5 4.5h0m.5 -6h0m0 7.5h0m.5 -4h0m.5 -4h0m0 5h0m.5 2h0m.5 0h0m.5 -.5h0m0 0h0m.5 3h0m.5 0h0m.5 1h0m0 2h0m.5 -2h0m.5 .5h0m.5 -6h0m0 3.5h0m.5 -4.5h0m.5 -1h0m.5 -2h0m0 -.5h0m.5 -1h0m.5 -1h0m.5 -26.5h0m0 23h0m.5 4.5h0m.5 -8h0m0 1.5h0m.5 .5h0m.5 7h0m.5 -4.5h0m0 0h0m.5 1.5h0m.5 -1h0m.5 4h0m0 1.5h0m.5 -2.5h0m.5 -2h0m.5 0h0m0 2h0m.5 -.5h0m.5 -.5h0m.5 -1.5h0m0 3h0m.5 -3.5h0m.5 -4h0m.5 6h0m0 -.5h0m.5 -6.5h0m.5 1.5h0m0 .5h0m.5 3.5h0m.5 -4.5h0m.5 1.5h0m0 -3h0m.5 3.5h0m.5 2.5h0m.5 -4.5h0m0 1.5h0m.5 1h0m.5 5h0m.5 2.5h0m0 -4h0m.5 -3h0m.5 6.5h0m.5 0h0m0 -2.5h0m.5 7h0m.5 -6.5h0m.5 2h0m0 2h0m.5 -1h0m.5 4.5h0m0 -4h0m.5 3h0m.5 -3.5h0m.5 5h0m0 -3.5h0m.5 1h0m.5 5h0m.5 -2.5h0m0 -1.5h0m.5 2h0m.5 8.5h0m.5 -3h0m0 -.5h0m.5 -2h0m.5 0h0m.5 2.5h0m0 -2h0m.5 -2.5h0m.5 5.5h0m.5 -4h0m0 .5h0m.5 3.5h0m.5 -6.5h0m0 4h0m.5 -2h0m.5 -3h0m.5 -3h0m0 2h0m.5 -4.5h0m.5 -2h0m.5 2.5h0m0 -1h0m.5 -7h0m.5 7.5h0m.5 -6.5h0m0 -.5h0m.5 6.5h0m.5 -4.5h0m.5 -2.5h0m0 -.5h0m.5 -1h0m.5 -1.5h0m.5 5h0m0 -8h0m.5 4.5h0m.5 2.5h0m0 -1.5h0m.5 -1h0m.5 3.5h0m.5 -4.5h0m0 8h0m.5 -3h0m.5 -2h0m.5 5h0m0 2.5h0m.5 .5h0m.5 -4h0m.5 7h0m0 -4.5h0m.5 5.5h0m.5 -23.5h0m.5 23h0m0 3.5h0m.5 -8h0m.5 7h0m.5 -1.5h0m0 2h0m.5 2.5h0m.5 -2h0m0 -3h0m.5 -3h0m.5 0h0m.5 -8h0m0 -22h0m.5 24.5h0m.5 -1h0m.5 -7.5h0m0 2h0m.5 -2.5h0m.5 .5h0m.5 1.5h0m0 -9.5h0m.5 -.5h0m.5 7.5h0m.5 -3h0m0 1.5h0m.5 -20.5h0m.5 24h0m.5 1h0m0 25h0m.5 -28h0m.5 9h0m0 2.5h0m.5 2.5h0m.5 0h0m.5 1.5h0m0 .5h0m.5 -1.5h0m.5 5.5h0m.5 -3.5h0m0 5h0m.5 -8h0m.5 4.5h0m.5 -.5h0m0 1.5h0m.5 3h0m.5 1.5h0m.5 -2.5h0m0 .5h0m.5 4.5h0m.5 -5h0m0 32.5h0m.5 -26.5h0m0 -6h0m.5 0h0m.5 3.5h0m0 1h0m.5 -1.5h0m.5 3.5h0m.5 -2.5h0m0 1h0m.5 -3h0m.5 -3h0m.5 6.5h0m0 18.5h0m.5 -21h0m.5 -3.5h0m.5 1h0m0 -4h0m.5 -1.5h0m.5 2.5h0m.5 -6h0m0 5h0m.5 -8.5h0m.5 5h0m.5 -2h0m0 -1.5h0m.5 2h0m.5 -5h0m.5 -3.5h0m0 .5h0m.5 .5h0m.5 1h0m0 -5.5h0m.5 6h0m.5 -1h0m0 -25h0m.5 24h0m0 -4h0m.5 4.5h0m.5 -1.5h0m.5 -.5h0m0 -.5h0m.5 -1.5h0m.5 8h0m.5 -4.5h0m0 -4h0m.5 7.5h0m.5 -5h0m.5 -1.5h0m0 1.5h0m.5 -1.5h0m.5 7.5h0m.5 -3.5h0m0 -5h0m.5 9h0m.5 -4.5h0m0 29.5h0m.5 -28.5h0m.5 6h0m.5 -1.5h0m0 -21h0m.5 43h0m.5 -17h0m.5 -4h0m0 7.5h0m.5 -3h0m.5 -1.5h0m.5 3.5h0m0 0h0m.5 -6.5h0m.5 4.5h0m.5 -2h0m0 -.5h0m.5 -1h0m.5 -2.5h0m.5 .5h0m0 -2h0m.5 .5h0m.5 -4h0m0 8h0m.5 -15h0m.5 12h0m.5 0h0m0 -1h0m.5 -3.5h0m.5 4.5h0m.5 -3.5h0m0 5h0m.5 -8.5h0m.5 6.5h0m.5 2h0m0 2.5h0m.5 .5h0m.5 0h0m.5 1h0m0 2h0m.5 1h0m.5 -3.5h0m.5 5.5h0m0 21.5h0m.5 -17h0m.5 -7h0m0 5.5h0m.5 -3h0m.5 -6h0m.5 5.5h0m0 -10h0m.5 5.5h0m.5 -1.5h0m.5 1h0m0 -5.5h0m.5 .5h0m.5 -.5h0m.5 -3.5h0m0 0h0m.5 -8h0m.5 -21h0m.5 2h0m0 18.5h0m.5 -3h0m.5 6.5h0m.5 -1h0m0 -1h0m.5 -1.5h0m.5 5.5h0m0 3.5h0m.5 -3h0m.5 0h0m.5 5.5h0m0 -5h0m.5 6.5h0m.5 -6h0m.5 3h0m0 -4h0m.5 8h0m.5 -9.5h0m.5 6.5h0m0 -.5h0m.5 -4.5h0m.5 1.5h0m.5 -3h0m0 3h0m.5 -4.5h0m.5 4.5h0m.5 3.5h0m0 -5h0m.5 2.5h0m.5 -2h0m0 .5h0m.5 -2h0m.5 4h0m.5 19.5h0m0 -22h0m.5 1h0m.5 7.5h0m.5 -1h0m0 1h0m.5 1h0m.5 5h0m.5 -6h0m0 5h0m.5 .5h0m.5 -3h0m.5 3h0m0 -4h0m.5 1.5h0m.5 2h0m.5 5h0m0 -1.5h0m.5 -6h0m.5 .5h0m0 8h0m.5 1h0m.5 -2.5h0m.5 0h0m0 -3.5h0m.5 2.5h0m.5 1h0m.5 1.5h0m0 3h0m.5 -5h0m.5 4h0m.5 -.5h0m0 5h0m.5 -1.5h0m.5 -4.5h0m.5 6h0m0 -4h0m.5 4.5h0m.5 -9h0m.5 3.5h0m0 -2.5h0m.5 -2.5h0m.5 0h0m0 -4.5h0m.5 -27h0m.5 18.5h0m.5 4.5h0m0 -10h0m.5 -4h0m.5 -1.5h0m.5 -1h0m0 -20.5h0m.5 17h0m.5 -6.5h0m.5 5.5h0m0 -1.5h0m.5 1h0m.5 -5h0m.5 7.5h0m0 -10h0m.5 3.5h0m.5 1.5h0m.5 1h0m0 -1h0m.5 -1h0m.5 -25.5h0m0 30h0m.5 4.5h0m.5 5h0m.5 -10.5h0m0 9h0m.5 2h0m.5 -4h0m.5 2.5h0m0 0h0m.5 .5h0m.5 1h0m.5 -5.5h0m0 1.5h0m.5 2h0m.5 1h0m.5 1h0m0 4.5h0m.5 -4h0m.5 0h0m.5 2.5h0m0 28h0m.5 -24h0m.5 2.5h0m0 -1.5h0m.5 .5h0m.5 3.5h0m.5 -4h0m0 .5h0m.5 2.5h0m.5 3h0m.5 -1h0m0 1h0m.5 -3h0m.5 2h0m.5 -1.5h0m0 -.5h0m.5 -.5h0m.5 3h0m.5 -1h0m0 1h0m.5 -2h0m.5 -3h0m.5 3.5h0" stroke="#ff00ff"/>
</g>
<path d="M218 199.4H2108" stroke="#000" stroke-width="11" stroke-dasharray="38 35.6"/>
<path d="M216 942.5L2111 942.5" stroke="#262626" stroke-width="5"/><path d="M216 1408.5L2111 1408.5" stroke="#262626" stroke-width="5"/><path d="M218.5 1408.5v-21.5M218.5 942.5v21.5M353.5 1408.5v-21.5M353.5 942.5v21.5M488.5 1408.5v-21.5M488.5 942.5v21.5M623.5 1408.5v-21.5M623.5 942.5v21.5M758.5 1408.5v-21.5M758.5 942.5v21.5M893.5 1408.5v-21.5M893.5 942.5v21.5M1028.5 1408.5v-21.5M1028.5 942.5v21.5M1163.5 1408.5v-21.5M1163.5 942.5v21.5M1298.5 1408.5v-21.5M1298.5 942.5v21.5M1433.5 1408.5v-21.5M1433.5 942.5v21.5M1568.5 1408.5v-21.5M1568.5 942.5v21.5M1703.5 1408.5v-21.5M1703.5 942.5v21.5M1838.5 1408.5v-21.5M1838.5 942.5v21.5M1973.5 1408.5v-21.5M1973.5 942.5v21.5M2108.5 1408.5v-21.5M2108.5 942.5v21.5" stroke="#262626" stroke-width="4.5"/><path d="M218.5 940L218.5 1411" stroke="#d95319" stroke-width="5"/><path d="M2108.5 940L2108.5 1411" stroke="#d95319" stroke-width="5"/><path d="M218.5 1321.5h21.5M218.5 1235.3h21.5M218.5 1149h21.5M218.5 1062.8h21.5M218.5 976.5h21.5" stroke="#d95319" stroke-width="5"/><path d="M2108.5 1321.5h-21.5M2108.5 1235.3h-21.5M2108.5 1149h-21.5M2108.5 1062.8h-21.5M2108.5 976.5h-21.5" stroke="#d95319" stroke-width="5"/>
<g clip-path="url(#cb)">
<path d="M219 1397.2l0-45.3l1-13.7l0 63.8l1-3.4l0-28.2l1-12.7l0 46.3l1-3.5l0-52.9l1 36l0 15.6l1 3.3l0-63.5l1 18.4l0 45.9l1 .2l0-100.1l1 44.6l0 48.3l1 7.4l0-32.9l1-126.9l0 157.8l1-.4l0-39.5l1-12.9l0 53.8l1-7l0-23.2l1-25.6l0 51.8l1-4.6l0-40.8l1-2.5l0 51.9l1-5.5l0-62.5l1 4l0 63.6l1-6.5l0-108l1 44.2l0 62.1l1 3.3l0-76l1 28.6l0 44.4l1 8.4l0-50.4l1-44.2l0 88.4l1-2.2l0-38.6l1 10.7l0 34.3l1 3.3l0-162.4l1 122.8l0 38.8l1-8.8l0-27.3l1-4.9l0 39.3l1 1.2l0-79.2l1 26.5l0 47.8l1 5.4l0-70l1-123.9l0 186.4l1 7.6l0-107.2l1 53.5l0 45.4l1-.3l0-269.5l1 188.3l0 83l1-1.9l0-61.6l1 34.8l0 28.1l1 5.1l0-88.6l1 7.1l0 78.2l1-.3l0-20.5l1-16.8l0 36.3l1 6.8l0-80.3l1 35.8l0 38.6l1 5.5l0-54.9l1-15.5l0 71.9l1-5l0-59.8l1 15.2l0 46.3l1-1.4l0-67.4l1-45.4l0 108.7l1 2.1l0-106.4l1-22.3l0 130.9l1 2.8l0-72.7l1-37.2l0 103.3l1-1.6l0-33.2l1-4.1l0 42.8l1-3l0-42l1-34.5l0 77.1l1 7.6l0-46.5l1-42.9l0 82.4l1-3.4l0-68l1 31.2l0 44.7l1-5.7l0-46.4l1-34.7l0 82l1-3.7l0-76.8l1 56.9l0 27.5l1 2.8l0-51l1-17.6l0 66.1l1-5.9l0-80.4l1 10.6l0 76.9l1-4.6l0-133.7l1 49.4l0 82.6l1 4.2l0-67.6l1-18.4l0 79.2l1 .8l0-79.6l1 23.8l0 57.5l1 2.3l0-73.2l1 2.3l0 68.4l1-1.3l0-60.5l1 2.2l0 58.6l1 2.6l0-101.2l1-55.4l0 157.3l1 1.5l0-46.1l1-27.2l0 67.8l1 3.8l0-53.7l1 21.7l0 37.2l1-4.3l0-44.5l1 3l0 44.6l1 1l0-33l1-11.4l0 38.6l1-1.3l0-84.7l1-2.9l0 89.5l1 3.4l0-59.6l1-39.5l0 94.3l1-2.4l0-80.7l1 9l0 74.6l1 1.7l0-54.1l1-7.7l0 56.6l1 10.2l0-50.9l1 2.5l0 48.1l1-4.1l0-99.4l1 47.7l0 49l1 6.8l0-70.7l1 8.3l0 55.8l1 2.6l0-60.2l1 37.1l0 20.7l1 4.8l0-72.9l1 36.5l0 32l1-2.1l0-17.5l1 8.1l0 12.2l1 3.9l0-43.1l1-34.4l0 78.5l1-2.4l0-150.9l1 101l0 47.6l1-4.4l0-86.2l1 7.6l0 85.7l1-3.1l0-51.8l1 13l0 38.6l1-3.6l0-52.3l1-23.8l0 86.1l1-5.2l0-88.7l1 25.8l0 58.3l1 1.9l0-94l1 48.1l0 46.3l1-1.2l0-55.8l1-340.9l0 397.9l1 7.1l0-69.9l1-9.3l0 79.7l1-9.1l0-41.2l1 24.1l0 15.3l1 10.4l0-67.9l1-17l0 81.3l1 2.1l0-52.1l1 10.7l0 35.1l1-1l0-31.5l1-8.6l0 42l1 2.4l0-26.8l1-20.2l0 47.9l1 1.1l0-114.9l1 85.8l0 24.5l1 2.8l0-48.3l1-5.7l0 54.8l1 .4l0-80.4l1 36.4l0 47.7l1-4.4l0-67.2l1 37.1l0 27.1l1-1.2l0-24.8l1-6.6l0 32l1 6.1l0-25.9l1-9.9l0 33.2l1-3.2l0-33.7l1 8.5l0 27.6l1 .7l0-36.4l1-24l0 61.7l1-3.5l0-51.2l1 3.2l0 54.9l1-4.3l0-105.5l1 37.2l0 66.5l1 1.5l0-93.2l1 7.6l0 81.3l1 5.1l0-101.6l1-26.7l0 126.4l1-1.5l0-58.3l1-66l0 121.7l1-.4l0-72.3l1-2.7l0 78.3l1-2.2l0-121.9l1 55l0 65.6l1 10.1l0-74.7l1-4.1l0 74.6l1 3.6l0-72l1 23.3l0 40.8l1 3.3l0-47.8l1 2l0 46.2l1 2.5l0-76l1 42.5l0 35.6l1-10.3l0-48l1-26.5l0 81.3l1-.1l0-44.9l1-19.2l0 63.6l1-2.5l0-120l1 72.7l0 52.4l1 1l0-73.2l1-72.3l0 137.9l1 6.6l0-63.9l1 12.3l0 46.4l1-2.9l0-59.1l1 26.4l0 37.7l1-2.4l0-97.1l1 34l0 69l1-8.8l0-58l1 14.8l0 46l1-1.3l0-54.9l1 7.9l0 52.8l1 1.1l0-67.6l1 16.5l0 47.3l1-4.9l0-41.4l1-30.9l0 76.4l1-1l0-65.2l1-9.5l0 82.1l1-.5l0-92.3l1 64.1l0 27.3l1 1.2l0-55.6l1-9.2l0 57.4l1 4l0-56.8l1-22.9l0 79.4l1-2.4l0-84.6l1 13.4l0 67.9l1-1.3l0-71.4l1 15.5l0 63.6l1 .3l0-87.6l1 53l0 27.5l1 6l0-29.4l1-30.4l0 53.7l1 2.6l0-21.7l1-26.1l0 49.3l1-.1l0-45.2l1-22.6l0 67.5l1 5.3l0-38.4l1 0l0 38l1-5.6l0-44.3l1-.3l0 48.9l1-4l0-36.8l1-30.2l0 71l1-8.1l0-45.3l1-13.8l0 62.4l1-.8l0-92.2l1 31.3l0 63.2l1 2l0-54.5l1 16.4l0 35.6l1-3.9l0-52.9l1 26.7l0 36.1l1-9.2l0-29.8l1-4.2l0 36.8l1 3.5l0-39.3l1 .4l0 32.3l1 5.1l0-43.2l1 17l0 27.2l1 1.4l0-57.6l1 13.9l0 35.7l1 7l0-48l1-4.5l0 54.7l1-6l0-48.7l1-7.2l0 53.7l1 .1l0-42.6l1 1.6l0 41l1 8.1l0-35.6l1-5l0 37.6l1-1.4l0-27.1l1-25.1l0 52.5l1 1.3l0-48.6l1-4.9l0 55.4l1-1.4l0-113.7l1 65l0 52.1l1-4.7l0-78.5l1 44.4l0 35.5l1 3.4l0-81.9l1 6.3l0 75.7l1-4.2l0-47.8l1-15.9l0 66.6l1-6.2l0-76.8l1 27.3l0 53.8l1-4.7l0-65.3l1-13.8l0 78.2l1-1.5l0-60.6l1 20.8l0 45.4l1 1.8l0-28.9l1-21.3l0 51.2l1-5.3l0-42.5l1-10.3l0 54.8l1-2.6l0-38.4l1 21.6l0 20.2l1 3.8l0-25.8l1 2.6l0 19.2l1 1l0-42.8l1 7.6l0 31.9l1 3.6l0-43l1 5.6l0 30.6l1 3.2l0-24.2l1-24.7l0 51.7l1-3.3l0-24.5l1 3.2l0 26.3l1-2.4l0-108.7l1 55.9l0 53.6l1-4.6l0-101.2l1 50.9l0 53.1l1 1l0-53.6l1-9.4l0 63.8l1-5.5l0-70.9l1-12.3l0 87l1-2.7l0-43.9l1-2.9l0 46.3l1 7l0-110.4l1 71.6l0 39.5l1 .3l0-27.9l1-15.1l0 44.3l1-1.2l0-79.1l1 42.1l0 33.2l1-4.8l0-145l1 90.5l0 60.3l1 .9l0-32.8l1-57.9l0 83.8l1 6.9l0-37.7l1-8l0 48.2l1-4l0-32.1l1 .6l0 33.6l1-6.7l0-45.9l1-19.8l0 70.3l1 4.4l0-57.5l1 10.1l0 40.6l1 5.1l0-40.4l1-22.7l0 60l1-4.5l0-18.4l1-42.4l0 65l1 3.2l0-31.4l1-8.8l0 41.3l1-9.3l0-31.8l1 5.3l0 28.4l1-2.6l0-21.3l1-17.5l0 41.5l1-.2l0-75.4l1 32.8l0 47.6l1-2.2l0-40.4l1 6.2l0 36.1l1 2.8l0-85.8l1 23.4l0 55.3l1 1l0-96.1l1 48.8l0 51.1l1-3.9l0-86.7l1 9.5l0 83.5l1-9.5l0-57.6l1-5.8l0 62.8l1 2.6l0-42.2l1 16.4l0 23.9l1 8.1l0-102.1l1 45.2l0 56.3l1-2.8l0-66.4l1 7.1l0 62.7l1-5.2l0-66.2l1 42.5l0 22.5l1 4.1l0-113.7l1 74.5l0 41.7l1-3.8l0-42.7l1 26.9l0 13.1l1 1.8l0-41.2l1 1.6l0 42.2l1-1.7l0-45.9l1-49.1l0 99.7l1-3.2l0-44.5l1-7l0 52.9l1-3.9l0-61.8l1-1l0 62.6l1-3.6l0-33.8l1 2.7l0 35.6l1-3l0-46.6l1 17.9l0 28.8l1 1.5l0-91l1 54.2l0 35l1 5.6l0-131.7l1 73.3l0 61.7l1-8.4l0-51l1-3l0 55.4l1 2l0-49.8l1-7.9l0 53.3l1 5.3l0-43.6l1 16.7l0 26.7l1-4.1l0-36.9l1 .5l0 39.7l1-5.2l0-31.1l1-8.7l0 44.9l1 4.5l0-145.5l1 52.1l0 88.6l1 2.9l0-88.2l1 34.8l0 48.2l1-.3l0-60.8l1-10.2l0 78.2l1-8.1l0-35.2l1-13.7l0 48.2l1 8.8l0-49l1 3.8l0 45l1-9.3l0-42.1l1 23l0 21l1 1.5l0-30.6l1-14.6l0 44.2l1 7l0-25.5l1 12.9l0 13.3l1-7.6l0-20.2l1 .5l0 22.4l1-2.6l0-24.8l1 8.9l0 17.5l1 3.7l0-20.8l1-31.6l0 48l1 3.7l0-30.7l1-9.2l0 41.9l1-6.5l0-19.7l1 4.2l0 20.3l1-1l0-77.6l1 43.1l0 31.2l1 .4l0-29.6l1-1.1l0 36.9l1-.3l0-33.7l1-18.2l0 42.7l1 .4l0-14.8l1-9.8l0 28.5l1 5.6l0-31.4l1 2.3l0 25.2l1 2.9l0-37.4l1 9.9l0 27.9l1-.9l0-37.5l1-2.8l0 41l1-6l0-36.1l1-2.1l0 43.8l1-6.5l0-19.8l1-16l0 39.6l1-3.2l0-22.8l1 6.7l0 22.1l1-2.1l0-41.9l1 21.8l0 19.7l1-5.8l0-35.4l1 .1l0 37.7l1 6.8l0-56.5l1-6.7l0 62l1-6.6l0-52.7l1-17.2l0 70.8l1-2.9l0-23.1l1-46.5l0 78l1-5.8l0-58.7l1 39.2l0 18.9l1 3.9l0-21.2l1-6.3l0 23.7l1 5.5l0-24.5l1-23.2l0 50.2l1-1.9l0-75.9l1 45.8l0 22.6l1 9.8l0-34.1l1-29.8l0 59.3l1-4.9l0-22.7l1 3l0 22.1l1 5.8l0-58.4l1-4.7l0 62.1l1-6.1l0-17.7l1-48.8l0 67.9l1 1.6l0-10.1l1-18l0 28.8l1 2.5l0-57l1 36.5l0 19l1 0l0-30.5l1-5.5l0 33.7l1-3l0-16.1l1-33.6l0 49.7l1-1.9l0-21.2l1 6.8l0 21.2l1-.2l0-68.7l1 33.2l0 33.1l1 .9l0-35.5l1 3.4l0 27.1l1 9.7l0-34.8l1 3.3l0 28.7l1 .8l0-24.7l1 7.6l0 15.8l1-1.2l0-26.1l1 2.8l0 17.9l1 9.8l0-21.6l1-13.5l0 29.5l1-2.7l0-36.6l1-23.4l0 59.1l1 2.8l0-21.7l1-23.3l0 52.2l1-4l0-23.8l1-7.3l0 34l1-3.6l0-42l1 15.9l0 21.6l1 3.1l0-20.5l1 6.1l0 15l1-1.9l0-29l1-67l0 96.7l1 6.3l0-24.1l1 2.4l0 21.7l1-9.2l0-17l1-11.7l0 28.6l1 9l0-31.5l1-24.8l0 48l1 9l0-58.1l1 21.2l0 30.7l1 5.8l0-28l1-11.3l0 34.1l1 1.2l0-34.7l1-22.9l0 52l1 3.4l0-55.1l1 17.9l0 38.5l1-4.1l0-75.9l1 46.4l0 30.9l1 4.6l0-48l1 19.7l0 24.5l1-2.3l0-13.2l1-3.5l0 26.6l1-1.7l0-25.8l1 3l0 23.9l1-10.3l0-29l1 17.1l0 13.3l1 1.8l0-7.8l1-21.8l0 34.9l1-.6l0-15.4l1-11.2l0 28l1-1.4l0-9l1-10.2l0 19.3l1-.5l0-20.8l1 9.9l0 6.6l1 4.1l0-51.9l1 0l0 51l1 4.5l0-21.5l1-5.3l0 18.7l1-2.1l0-13.8l1-7.9l0 22.6l1 2.5l0-25.8l1 21.2l0 9.7l1-9l0-11.2l1-6.1l0 18.4l1 9.7l0-49.3l1 23.3l0 17.9l1-1.3l0-11.9l1-7.6l0 19.8l1 8.6l0-13l1-20.4l0 33.2l1-4.4l0-16.9l1 1.1l0 13.9l1-1.3l0-27.8l1 17.9l0 17.2l1 .1l0-26.1l1 2l0 18.3l1-4l0-9l1 8.5l0 8.8l1-5.9l0-8.1l1 1.7l0 13l1-3.2l0-12.1l1 .6l0 7l1 6.9l0-24.5l1 14.9l0 6.2l1-1.3l0-15.3l1-.7l0 15l1 4.5l0-14l1 3.6l0 3.7l1 1.4l0-14.8l1 8.8l0 6.5l1 6.6l0-33l1 6.3l0 17.6l1 3.3l0-3l1-40l0 40l1 2.5l0-11.4l1 2.1l0 6.4l1 10.1l0-16.3l1-19.1l0 27.5l1-.7l0-7.6l1-.7l0 11.5l1 .1l0-24.9l1 9l0 13.5l1 1.1l0-21.6l1-25.5l0 47.2l1-.4l0-18.9l1-13l0 28.8l1 5.8l0-47.4l1 26.7l0 17l1 .2l0-14.8l1 4.8l0 14.4l1-5.6l0-16.4l1-11.5l0 32.6l1 3.9l0-24.1l1-12.6l0 29.2l1-.6l0-18.4l1 3.8l0 18l1 6l0-237.2l1 195.5l0 31.9l1-1.2l0-25.3l1-11.1l0 37.2l1 .8l0-29.1l1 8.3l0 26.7l1 1.9l0-36.1l1 25.3l0 2.5l1-.7l0-4.6l1-140.1l0 146.1l1 4.3l0-11.5l1-2.9l0 17.3l1-2.4l0-17l1 12.2l0 3l1-1.9l0-8.6l1-6.2l0 16.6l1-1.7l0-16.3l1 1.5l0 14.4l1 .8l0-11.8l1-4.2l0 13.3l1 8.3l0-31.3l1-8.6l0 40.1l1-4.5l0-14.6l1-46.7l0 63.7l1 2.1l0-29.7l1 2.3l0 29l1-10l0-26.7l1 20.5l0 11.9l1-1.3l0-20.4l1-7.3l0 26.4l1-3.7l0-19.9l1 3.8l0 22.6l1-4.1l0-36.7l1 6.1l0 29.9l1 4.6l0-46.3l1 8.3l0 38.8l1-.7l0-37.6l1-20.4l0 56.3l1 4.8l0-50.9l1 1.3l0 46.6l1-.3l0-24.4l1-46.9l0 74.7l1-5.1l0-38.2l1 13.6l0 26.9l1 .5l0-30.1l1 10.6l0 21.4l1-.6l0-209.1l1 176.5l0 33.8l1-4.3l0-33.8l1 24.6l0 8.2l1-2.7l0-34l1 10.8l0 26.4l1 4.8l0-15.9l1-8l0 19.9l1-3.6l0-11.1l1 1l0 13l1 5l0-19.4l1-.8l0 11.1l1 4.5l0-21.2l1-1.8l0 22.5l1-4.7l0-26.7l1 9.7l0 20.9l1-3.6l0-13.8l1-8.9l0 24.7l1 4l0-32.4l1 4.5l0 28.5l1-.1l0-39.5l1 17.2l0 15.6l1-.6l0-7.1l1-12.7l0 25.6l1-.2l0-25.2l1 5.8l0 20.6l1 3.8l0-50.4l1 32.4l0 10l1-2.3l0-14.3l1-4.2l0 20.8l1 5.4l0-24.9l1 6.9l0 20.3l1-2.8l0-31.7l1 6.5l0 19l1 7.1l0-41.4l1-1.3l0 38.6l1-1.4l0-47.8l1 18l0 26.7l1 8.4l0-49.3l1-1.1l0 43.4l1 9.6l0-46.8l1-8.4l0 54.2l1-2.9l0-101.1l1 64.6l0 37.5l1 0l0-36.6l1 11.6l0 19.5l1-1.8l0-9.3l1-5.1l0 17.9l1 4l0-21.5l1 .6l0 19.1l1 3.6l0-44.3l1 20.9l0 22.2l1-6.9l0-3l1-13.9l0 21.7l1 1.5l0-8.1l1-11.5l0 17.8l1 2.3l0-9l1-10.9l0 20.7l1-7.3l0-8l1-10.2l0 19.9l1-1.3l0-7.1l1-5.1l0 9.9l1 2.1l0-23.1l1 12.5l0 8.7l1 .4l0-22l1 5.6l0 19.2l1 .9l0-20.3l1 8.3l0 16.4l1-3.3l0-50.2l1-11.8l0 60.1l1 5.5l0-27.6l1-4.3l0 23.4l1 2.6l0-35.8l1 19.8l0 18.3l1 2.8l0-27l1-1.3l0 20.1l1 10.2l0-26.3l1-14.4l0 34.1l1 4.4l0-54.3l1 4.8l0 48.8l1-5.4l0-40.7l1-107.4l0 151.9l1-.5l0-29.6l1-28.7l0 55.2l1 1.1l0-33.6l1-49.5l0 86.2l1-.6l0-33.9l1-21.9l0 55.2l1-5l0-26.3l1 1.7l0 24.9l1 7.2l0-20.4l1-15.5l0 38.1l1-9.5l0-25.7l1-6.4l0 38.6l1 .2l0-20.8l1 4.5l0 11.8l1-2l0-34.8l1 27.2l0 7.2l1 8l0-28.6l1-27.1l0 52.8l1-2.5l0-36.3l1 13.9l0 27.2l1-6.8l0-55.2l1 7.8l0 55.6l1-3.9l0-29.6l1 3.2l0 28.2l1-1.1l0-44.3l1 18.8l0 27.7l1-7.5l0-29.1l1-154.6l0 191l1-4.8l0-40.5l1 14.3l0 23.1l1 .7l0-43.5l1 10.6l0 35.3l1 2.2l0-67.8l1 30.7l0 40.3l1 .2l0-83.3l1 56.9l0 18.9l1 .7l0-22.3l1-34.6l0 59.6l1-2.5l0-41.9l1 4.4l0 44.1l1-7.2l0-30.1l1-42.8l0 72.6l1 1.5l0-17.1l1-20.7l0 45.7l1-4.7l0-32.4l1 10.8l0 25.5l1-5l0-26.4l1-10.2l0 32.7l1 7.8l0-79.9l1 27l0 54.7l1-7.5l0-38.6l1-134.1l0 178.8l1 .4l0-25l1-.1l0 20.1l1 3.9l0-43l1 21.2l0 13.3l1 8.9l0-49.5l1 8.4l0 41l1-8.9l0-45l1 14l0 38.6l1-3.7l0-23.2l1-27.3l0 50.8l1-2l0-22.1l1-11.2l0 31.6l1 7.4l0-35.8l1 7.7l0 26.2l1 2.7l0-169.6l1 135.5l0 33.1l1-1.7l0-21.4l1-25l0 49.7l1 1.1l0-28.3l1-2.1l0 20.9l1 8.7l0-69.3l1 33.5l0 29.4l1 5.9l0-41.9l1-7.5l0 50.1l1-4.2l0-26.1l1-59.1l0 87.1l1 .9l0-37l1 8.4l0 30l1-9.5l0-43.9l1 1.4l0 47.4l1-2.2l0-155.3l1 127.6l0 29.9l1 1l0-58l1-29.4l0 84l1 6.7l0-85.5l1 23.4l0 56.9l1-3.4l0-36.9l1-8.1l0 48.9l1-.6l0-38.6l1 18.9l0 21.3l1 .4l0-28.8l1-32l0 65.3l1-2.7l0-43l1-15.5l0 59.4l1 2.2l0-43.7l1-.6l0 37.6l1 6.4l0-39.3l1-53.9l0 85.4l1-.4l0-66l1 36.6l0 33.4l1-2.2l0-48.1l1 12.3l0 41.5l1-.9l0-55l1 19.8l0 32.8l1 4.3l0-39.2l1-30.4l0 61.2l1-2.3l0-53.6l1 4.2l0 51.5l1 4l0-91l1-10.2l0 105.3l1-10.1l0-56l1-37.3l0 99.9l1-4.3l0-67l1-42.8l0 117.7l1-7l0-87l1 31.4l0 61.3l1-6.5l0-44.5l1 16.8l0 30.8l1-2.8l0-21.2l1 3.7l0 23.7l1-6.8l0-20.6l1-5.7l0 32.2l1-1.7l0-38l1 16.8l0 18.6l1 4.9l0-40.6l1-18.9l0 52.2l1 3.1l0-59.5l1 25.7l0 34.7l1 4.5l0-107.9l1 39.9l0 60.9l1-.8l0-366.9l1 276l0 98.2l1-9.1l0-70.1l1 26.7l0 46l1 2.9l0-54.4l1-3.2l0 61.4l1-1.5l0-36.7l1-27.1l0 55.7l1 1.1l0-31.4l1-9.7l0 46.8l1-3.3l0-46.8l1 17.9l0 27.3l1 6l0-63.6l1 30.3l0 29.2l1-1.1l0-18.5l1-47l0 69.1l1-.9l0-50.6l1 18.3l0 34.1l1 .9l0-171.4l1 108.5l0 61.3l1-4.4l0-45.3l1-10.1l0 53.8l1 3.4l0-31.2l1-9.3l0 45l1 1.2l0-38.2l1 .9l0 28.6l1 8.2l0-43.3l1-8.5l0 49.8l1-4.6l0-27.3l1 2.2l0 24.6l1 6l0-43.9l1 4.8l0 32.8l1 4.8l0-25.3l1-11.4l0 32.5l1 1.4l0-31.5l1 3.8l0 30.7l1 4l0-39.6l1-143.1l0 181.4l1-8.1l0-74l1 25.7l0 52.3l1-1l0-36.2l1 15l0 21.3l1 3.9l0-81.3l1 18.9l0 62.2l1-2.6l0-39.4l1-51.3l0 90.8l1-4l0-50.3l1 5l0 44.4l1-.3l0-326.3l1 262.6l0 63.3l1 1.3l0-54.1l1 21.5l0 36.6l1 2.4l0-79.9l1 28.2l0 44.8l1 1.4l0-48.6l1-25.2l0 74.3l1 5l0-50.4l1-25.3l0 77.1l1-2.1l0-30.2l1-34.4l0 59.8l1 1.4l0-33.5l1-111.9l0 151.8l1-9.2l0-53.1l1-13l0 75.5l1-7.6l0-79l1 9.3l0 67.2l1 5.8l0-58.2l1 23.7l0 31.5l1 .5l0-71l1 31.1l0 42.6l1 .1l0-62.2l1 12.4l0 46.1l1 7.4l0-38l1-4.8l0 34l1 1.5l0-26.7l1-20.3l0 50.2l1 3.5l0-30.1l1-48.8l0 76.5l1 3.7l0-45.4l1 18.9l0 23.8l1-2.8l0-194.3l1 170.5l0 21.8l1-2.8l0-51.5l1 12.9l0 47.8l1-9.4l0-22.6l1-37.1l0 61.5l1 5.3l0-63.1l1 6.2l0 55.2l1-5.6l0-27.3l1-23.9l0 54.1l1 5.8l0-101.4l1 73.6l0 21.1l1 3.1l0-45.6l1-105.5l0 153.2l1-2.8l0-22.9l1 1.9l0 25.3l1 1l0-25.7l1-36.9l0 53l1 9.4l0-37.2l1-32.9l0 69.1l1-4.1l0-62.2l1-35.7l0 98.3l1 5.5l0-53.2l1 2.3l0 47l1 1.6l0-61.6l1 12.2l0 45.8l1 .3l0-37.3l1-17.3l0 58.7l1 1.5l0-115.4l1 7.5l0 106.7l1-3.1l0-60.5l1 16.9l0 45.8l1-3.9l0-48.9l1-4.5l0 50.7l1-.4l0-112.1l1 52.1l0 68.8l1-2.8l0-85.7l1-12.5l0 95.9l1-.3l0-49.4l1-17.1l0 70.8l1-.6l0-54.1l1 19.6l0 37.2l1-11.1l0-26.9l1 6.9l0 22.2l1 4.5l0-16.9l1-24.5l0 40.3l1-1.2l0-37.8l1 7.8l0 34.6l1-1l0-23.7l1-3.1l0 23l1-4.1l0-21.6l1-.3l0 25.9l1 4l0-28.4l1-8.7l0 32.8l1 1.3l0-140.2l1 77.4l0 62.8l1-.2l0-70.2l1 36l0 40.2l1-10.3l0-300l1 252.1l0 56l1 0l0-35.7l1 9.7l0 19l1 5.5l0-46.3l1-12.2l0 52.7l1 9.3l0-37.9l1-8.2l0 39.4l1-.9l0-81.3l1 13.7l0 65.6l1 2.5l0-64.9l1 .6l0 67.8l1 .4l0-105.1l1 55.8l0 50.7l1-8.4l0-55.2l1-10.2l0 65.6l1 9.2l0-37.8l1 7.3l0 21.2l1 2.2l0-30.7l1 3.5l0 35.1l1-1.8l0-34.8l1-16.2l0 42.9l1 5.2l0-35l1 3l0 30.8l1 .7l0-38.2l1 1.1l0 42.6l1-9.7l0-37.6l1-67.8l0 105.3l1 1.8l0-240.7l1 164.9l0 82.8l1-9.6l0-30.2l1 7l0 25.4l1-2.2l0-32.6l1-.6l0 34.4l1 7l0-37.2l1-13.4l0 51.1l1-9.2l0-36l1-66.7l0 110.6l1 3.1l0-44l1-171.4l0 207l1-.5l0-52.7l1 12.8l0 48.8l1-.6l0-42.7l1 3.2l0 36.6l1 2.4l0-35.5l1-5.4l0 39.4l1-.9l0-39l1-32.5l0 73.3l1-1.8l0-81.5l1 40.8l0 42.6l1-2.8l0-29.3l1-76.7l0 104.6l1 2.1l0-51.9l1 21.4l0 24.1l1 .4l0-66.7l1 6.8l0 60.1l1 7.9l0-55.7l1 17.3l0 37.1l1 .3l0-46.2l1 4.5l0 37l1-1.1l0-30.7l1-6.4l0 37.1l1 5.5l0-64.6l1-1.1l0 65.8l1-2.7l0-30.9l1 .1l0 33.7l1-2.9l0-80.7l1 44.6l0 38.2l1-7.6l0-18.6l1 .5l0 20.8l1 5.1l0-32.9l1-12.8l0 43.1l1 2.4l0-54.3l1 6.8l0 48.3l1 2.7l0-249.6l1 209.8l0 29.9l1 2.4l0-38.4l1 18.3l0 23.7l1 3.2l0-10.2l1-35.9l0 46.1l1 .8l0-41l1 6.5l0 34l1-.7l0-44l1 4l0 34.2l1 6.6l0-28.6l1 2.9l0 24.8l1 1l0-189.5l1 157.7l0 23.5l1-1.9l0-29.7l1-21.8l0 54.1l1 2.4l0-43.3l1-7.1l0 47l1 1.4l0-92.2l1 34.9l0 64.1l1-.6l0-42l1-23.7l0 60.6l1-4.3l0-43.8l1-18.9l0 67.4l1-3.9l0-65.6l1-44.8l0 118.5l1-7.5l0-56.5l1-17.4l0 81.9l1-6.3l0-50.7l1-26.3l0 76.2l1 3.8l0-26.4l1-50.7l0 74.1l1 6.4l0-57.8l1 9.1l0 45.6l1-3.5l0-31.5l1-6.6l0 35.3l1 9.7l0-40.4l1 .6l0 34.8l1-1.9l0-11.7l1-42.6l0 53.8l1 7.7l0-37.7l1 7.5l0 28.9l1 1.2l0-28.2l1-17.9l0 42.2l1 .2l0-36.5l1-2.6l0 33.1l1 .8l0-54.7l1-18.5l0 82.3l1-10.2l0-41.4l1 7.5l0 38.6l1 1.3l0-46.3l1 8.8l0 31.3l1 10l0-182l1 128.5l0 48.2l1 4.9l0-46.3l1 16l0 22.3l1 6.7l0-35l1-39.7l0 70.4l1-1.6l0-49l1 2.4l0 48.9l1 3.4l0-42.4l1 17.1l0 18.2l1 3.4l0-15.8l1-39.7l0 53.6l1 5l0-13.7l1-25.1l0 31.4l1 4.7l0-65.9l1 31.9l0 36.4l1 1l0-23.4l1-11l0 34.9l1-5.2l0-32.7l1-38.2l0 78.2l1-10.9l0-43.8l1 21.5l0 32.4l1 .7l0-57.1l1-4.8l0 56.1l1 5.6l0-59.3l1 22.2l0 35.1l1-4.7l0-32.7l1-13.4l0 45.3l1 1l0-27.5l1-6.4l0 40.7l1-1.5l0-40.9l1 20.5l0 11.3l1 7.2l0-35.3l1-5.7l0 40.4l1 3.9l0-44.2l1 25.7l0 15.5l1-6.6l0-27.9l1-19l0 52.8l1 2l0-64.7l1 25.4l0 32.7l1-.2l0-152.6l1 132.4l0 23.6l1-1.1l0-32l1-5.1l0 40.2l1-4l0-75.7l1 59.1l0 17.9l1 3.5l0-67l1 1.2l0 64l1-3.4l0-87.9l1 57.8l0 37.6l1-6.3l0-48l1 2.6l0 44.1l1 2.2l0-58.9l1 12.7l0 41.7l1 7.3l0-44.9l1 1.3l0 37.2l1 8.9l0-82.2l1-16.3l0 98.7l1-1.8l0-34.7l1 0l0 31l1 1.4l0-55.4l1 18.9l0 40.1l1-10.6l0-30.1l1-16.1l0 47.4l1 9.9l0-43.4l1-8l0 50.3l1-7.4l0-71.5l1 56.6l0 13.1l1 8.1l0-34.1l1-13.4l0 43.8l1-5.1l0-28.8l1-21.6l0 56.7l1 3.9l0-37.7l1-2.6l0 39.5l1-.1l0-68.2l1-87l0 155.7l1-5.6l0-76.7l1 44.2l0 33.9l1-2.9l0-20.7l1-9.6l0 27.7l1 9.2l0-27.9l1-19l0 48l1-10l0-37.3l1 7.1l0 30l1 2.4l0-26.5l1 .6l0 27l1 1.6l0-13.1l1-13.6l0 26.6l1-2l0-32.6l1-12.3l0 45.8l1 6.4l0-31.6l1-4.2l0 25.5l1 6.2l0-23.1l1-8.2l0 33.5l1-2.4l0-47.5l1 22.5l0 28.3l1-9.1l0-33.5l1 1.8l0 35.8l1 4.5l0-50.9l1 15.9l0 30.2l1-1.8l0-31.1l1 3.6l0 26.7l1 6.8l0-60.8l1 6.3l0 47.8l1 4.9l0-38.8l1-14.1l0 53.9l1 2l0-37.3l1-13.6l0 44.3l1 6.3l0-52.4l1-2.2l0 46.4l1 2.2l0-71.1l1 33.4l0 40.6l1 2.5l0-39.3l1-12.9l0 46.4l1-.8l0-42.9l1-21.7l0 72l1-1.3l0-119.3l1 53.9l0 60.5l1 6.9l0-130.2l1 76.3l0 53.6l1-4.7l0-87.8l1 45l0 43.8l1-4.1l0-50.3l1-12.8l0 67.6l1-5.7l0-61.3l1-20.8l0 82.1l1 7.2l0-97.3l1 10.1l0 80.7l1 3.5l0-88l1 37.5l0 50.6l1 2l0-44.5l1-22.8l0 67.9l1-6l0-47.2l1 2.5l0 48.9l1-2.9l0-43.1l1-21.8l0 70.8l1 .3l0-38.9l1-71.3l0 106.2l1 5l0-21.9l1-14.7l0 35.4l1-7.9l0-29.6l1 4l0 33.8l1-3.2l0-39.2l1 .8l0 35.5l1-.6l0-463.4l1 414.5l0 56.7l1-5l0-90.2l1 59.1l0 31l1 5.6l0-43.9l1 4.1l0 34.8l1 .3l0-52.7l1-10.7l0 65.2l1-.1l0-57.6l1-4.3l0 57.9l1 4l0-70.6l1-107l0 173.3l1-2.8l0-41.5l1 3.2l0 39.6l1 3.7l0-69.3l1-8.9l0 81.7l1-.9l0-53.8l1 21l0 32.5l1 .6l0-75.3l1 2.4l0 71.3l1 2l0-27.5l1-36.9l0 58.2l1-.1l0-188.5l1 165.8l0 30.3l1-5.7l0-65.8l1 14.2l0 57.4l1-10.1l0-80.7l1 37.9l0 49.7l1-.6l0-42.8l1-19.5l0 58.8l1 5.5l0-89.2l1 21.1l0 64.2l1-2.4l0-46.2l1-9.4l0 55.6l1 5.5l0-57.7l1-15.7l0 73.1l1-3.3l0-303.8l1 231.3l0 70.2l1-1.2l0-56.2l1-28.7l0 84l1 7.5l0-59l1-20.5l0 80.9l1-5.6l0-44.1l1 7.8l0 40.9l1-.4l0-91.6l1-54l0 141.8l1 7.1l0-62.7l1-128.5l0 184.4l1 5.1l0-137.5l1 64.4l0 67.6l1 3l0-88.7l1 33.2l0 59.3l1-9l0-62.9l1 .5l0 68.9l1-.4l0-231l1 123.6l0 108.7l1-5.9l0-57.3l1-30.8l0 92.7l1 3.5l0-149.1l1 46l0 100.7l1-7.8l0-73.3l1 17.1l0 56.7l1 6l0-92.9l1 44.8l0 47.3l1-3l0-46.5l1-203.4l0 247.7l1 1.3l0-43.8l1 7.4l0 37.8l1 2.9l0-65.2l1 13.1l0 55.4l1 0l0-30.7l1-14.1l0 37.2l1 4l0-70.3l1 18.7l0 49.1l1 5.7l0-50.4l1-23.7l0 75.1l1-7.7l0-309.9l1 270.5l0 37.9l1 5.8l0-71.5l1 10.8l0 62.7l1 .1l0-43.3l1-8l0 42.1l1 10.8l0-65.3l1 19.1l0 45.7l1-9.7l0-159.7l1 107.3l0 52.9l1 8.9l0-47.6l1 8.1l0 31.9l1-.8l0-32.8l1-6.9l0 45.8l1 .8l0-36.8l1-67.7l0 102.3l1-3.2l0-56.1l1-14l0 69.6l1 .9l0-72.9l1-30.1l0 106.9l1 2.3l0-43.7l1-36.4l0 73.8l1-1l0-48.2l1-45l0 90.7l1 3.7l0-36.4l1-17.7l0 53.3l1 8l0-60.5l1-240.1l0 289.8l1 3.3l0-37.9l1 10.8l0 24.7l1-1.2l0-76.5l1 19.5l0 66.5l1-1.5l0-52.5l1-18l0 63.3l1 3.3l0-49.4l1-13l0 64.9l1-6.3l0-65.3l1-.9l0 66.4l1 7.3l0-38.1l1-98.3l0 135.3l1 2.8l0-65.8l1-49.3l0 108.4l1 2.5l0-71.7l1-70.2l0 141.1l1-3.9l0-44.4l1-15.9l0 65.7l1-1.4l0-44l1 4.2l0 43.5l1 1.1l0-155.3l1 94.8l0 53.3l1 5l0-71.2l1 34.5l0 33.6l1-2.8l0-34.8l1-60.5l0 100.4l1-.9l0-48l1-7.5l0 57.3l1 2.8l0-74l1-8.5l0 79.8l1 .5l0-123.3l1 75.3l0 41l1-.1l0-76.1l1 9.3l0 66.7l1 6.6l0-58.5l1-8.8l0 71.1l1-5.1l0-80l1-36.7l0 120.3l1-3.4l0-59l1-26.5l0 87.8l1-1.8l0-88.7l1 26.6l0 59.9l1 3.3l0-33.8l1-69.1l0 105.7l1-5l0-70.5l1 23l0 43l1 6.7l0-51.7l1-3l0 57.3l1-3.3l0-55.4l1 23l0 36.3l1-.7l0-299.8l1 230.1l0 67.3l1-2l0-112.5l1 75.5l0 35.4l1 3.9l0-60l1-19.7l0 81.1l1-7l0-36.5l1 6.5l0 36.6l1-3.3l0-35.9l1-100.7l0 137.7l1-3.7l0-61.9l1 6.4l0 61.5l1-7l0-43.1l1-44.1l0 88.4l1 5.2l0-62.8l1-61.6l0 125.2l1-8.5l0-47.8l1 21.6l0 32.6l1-2.7l0-76.2l1 8.8l0 73.1l1-5.4l0-87.5l1 36.3l0 48.6l1 1.6l0-35.7l1-31.2l0 72.7l1-.2l0-67.8l1 5.2l0 56.8l1 3.9l0-86.3l1 37.4l0 45.6l1-2.6l0-61.8l1 19.5l0 49.7l1-5.8l0-43.6l1-14.1l0 60.9l1 2.3l0-133.2l1 40l0 93.4l1-5.9l0-27.3l1-24.8l0 51.8l1-1l0-20.4l1-12l0 40.3l1-6.7l0-62.7l1 14.9l0 55.1l1-2.7l0-65.9l1 19.6l0 48.3l1-4.9l0-78.8l1-5.4l0 79.9l1 8.7l0-154.2l1 120.6l0 27.7l1 4.3l0-26.7l1-16.8l0 39.8l1-2.2l0-20.5l1-11.3l0 33.8l1 .3l0-62.3l1 29.5l0 36.1l1-1l0-30.7l1-30.6l0 62.7l1 2l0-40.5l1-17.1l0 51.7l1 3.7l0-51.2l1-40.8l0 90.5l1 2l0-47.7l1-149.3l0 193.2l1 4.4l0-52.1l1-6.4l0 50.7l1 4.1l0-51.2l1-188.4l0 245.2l1 .5l0-47.4l1 19.9l0 19.3l1 2.5l0-25.5l1-37.5l0 61l1 2.5l0-33.8l1 7.9l0 25.5l1 3.9l0-46.6l1-108.6l0 152.3l1-3l0-53.7l1-5.5l0 64.8l1 1.1l0-37.9l1-21l0 52.8l1 5l0-72.8l1 10.9l0 61.1l1-7.2l0-38.7l1-23.9l0 67.8l1 .8l0-54.2l1 9.9l0 47.6l1-10.2l0-22.1l1-20.7l0 51.6l1-4.7l0-25l1-1.7l0 29.9l1-3.6l0-46l1 6.4l0 42.5l1-1.5l0-31.4l1-10.1l0 38l1 3.9l0-34l1-26.5l0 63.8l1 .1l0-44.2l1-43.9l0 88.7l1-4.7l0-72.6l1 11.1l0 58l1 5.1l0-51.1l1 5.9l0 40.7l1 8.3l0-36.2l1-28.3l0 57.8l1 4.5l0-85.6l1 47.1l0 35.2l1-4.8l0-35.9l1 27.8l0 15.6l1-5.2l0-45.9l1 4.9l0 44.7l1-1.9l0-117.7l1 68.9l0 51.7l1-4.2l0-74.4l1-65.7l0 143.8l1-6.6l0-83.2l1 39.1l0 44.4l1 1.5l0-116.1l1 40.1l0 80.2l1 .5l0-67.7l1 6l0 63l1-6.8l0-22.2l1-88.3l0 112l1 1.6l0-34.6l1-17.3l0 48.4l1-.1l0-186l1 170.8l0 25.2l1-.1l0-39.5l1 5.5l0 29.7l1-3.8l0-15.3l1-41.4l0 56.7l1 3.1l0-27.1l1-10.6l0 43l1-6.1l0-79.8l1-113.7l0 189l1 7.2l0-56.3l1-41.7l0 94.2l1-1.6l0-20.5l1-13.4l0 32.8l1 .8l0-118.8l1 62l0 64.5l1-1.5l0-36.8l1 3.2l0 35.5l1-7.4l0-80.1l1 14l0 65.8l1 9.1l0-42.1l1-29l0 69.8l1-.6l0-67.9l1-130.2l0 199.7l1-3.1l0-60.7l1 2.6l0 52.7l1 4.7l0-34.9l1-22.3l0 60l1 1l0-38.7l1-56.2l0 94.8l1 0l0-46.8l1-23.9l0 64.3l1 2.8l0-105.3l1 45.5l0 60.1l1-.5l0-66l1 3.2l0 63.2l1-3.8l0-104.3l1 38l0 73.7l1-8l0-77.1l1 7.2l0 73.9l1-.9l0-79.3l1-102.7l0 182.4l1-.6l0-42.4l1 20l0 27.5l1-7.1l0-24l1-34.9l0 63.4l1-3.8l0-33.2l1-8.5l0 46l1-8.1l0-24.9l1-47.4l0 74.3l1 7.3l0-49.7l1 3.9l0 46.8l1-4.1l0-118.6l1 60l0 51.8l1 6.4l0-55.8l1 19.2l0 31.9l1 1.3l0-87.9l1 45.3l0 45.7l1 .1l0-66.5l1 1l0 60.3l1 2.3l0-34.7l1-413.8l0 448.9l1 4l0-64.1l1-3.7l0 65.2l1-4.2l0-50.6l1 20.1l0 40.3l1-1.6l0-50.9l1-7.5l0 52.5l1 3.3l0-25.5l1-189.9l0 214.3l1-.3l0-43.7l1-8.1l0 57.2l1-.1l0-41.8l1-2.4l0 35.2l1 5.9l0-13.4l1-10.2l0 17l1 7.4l0-17.1l1-17.4l0 29.7l1 3.6l0-48.2l1 6.8l0 42.7l1 2.3l0-31.4l1-30.2l0 62l1-4.9l0-40.5l1-7.7l0 45.8l1 6.1l0-188.4l1 132.7l0 47.8l1 4.1l0-69.9l1 15.7l0 53.9l1 4.1l0-57.6l1 19.1l0 38.4l1-7l0-59.8l1 18.3l0 40.8l1-1.6l0-19.6l1-89.9l0 109.7l1 .6l0-22.7l1-13.1l0 40.7l1-.1l0-24.7l1-18.6l0 40.3l1 5l0-34.3l1 4.4l0 26.4l1-3l0-26.5l1 2.3l0 25.3l1 2.9l0-21.5l1-2.1l0 25.8l1-1.1l0-26.2l1 4.9l0 22.6l1-2.4l0-48.7l1 18.8l0 32.8l1 1.6l0-39.1l1-2l0 35l1-3.6l0-30.9l1-76.4l0 110.3l1 .3l0-17l1-6.1l0 22.3l1 8.4l0-60.9l1 16.7l0 37.1l1-2.6l0-15.4l1-14.9l0 29.7l1 7.1l0-45.3l1 17.1l0 20.3l1 5.4l0-29l1-36.5l0 69l1-7.1l0-81.4l1 60.3l0 29.9l1-3.6l0-23.3l1 10.3l0 9l1-2.4l0-26.4l1 .2l0 31.8l1 .7l0-26.7l1 3l0 25.5l1 0l0-33.6l1 3.9l0 28.7l1-4.7l0-28.7l1-8.9l0 45l1-6.2l0-51.9l1 29.1l0 19.4l1 4l0-30.9l1 13.9l0 12.7l1 8.5l0-20.2l1-21.9l0 34.6l1 3.2l0-12.6l1 .7l0 16.2l1-.5l0-21.7l1-160.3l0 177l1 4.6l0-51.4l1 12.1l0 31.3l1 .2l0-22.4l1 16.9l0 7.1l1 8.7l0-24.8l1-11.9l0 34.9l1-5.7l0-25.9l1-8.5l0 37.1l1-3.1l0-31.1l1 9.6l0 28.4l1-5.4l0-41.5l1 30.9l0 9.6l1 .8l0-25.1l1-3.6l0 31.5l1-2.6l0-13.4l1-13.4l0 24l1 7.1l0-62.6l1 15.7l0 48.9l1-.8l0-31.5l1 4.6l0 18l1 6.6l0-26.3l1-70.9l0 96.9l1-5l0-21.1l1-4.5l0 33.7l1 0l0-21.7l1-3.3l0 22.8l1-6.8l0-39l1 23.1l0 24.7l1-4.9l0-61.1l1 44.7l0 11.6l1 7.9l0-47.2l1 14.8l0 34.9l1-1.3l0-38.7l1 14.8l0 16l1 2.3l0-15.8l1-5.8l0 26.9l1-4.3l0-21.2l1 .3l0 18l1 3.2l0-34.4l1 14l0 15.7l1 3.1l0-40.6l1 5.3l0 33.1l1 5.3l0-57l1 9.2l0 47.7l1 1.2l0-53.7l1 8.3l0 45.3l1-2.3l0-282.3l1 261.8l0 25.9l1-6l0-57.7l1-.6l0 60.9l1 1.7l0-32.1l1-15l0 42.1l1 6.8l0-32.2l1-98.6l0 124.3l1 3.2l0-22.1l1-6.8l0 30.4l1-1.8l0-32.8l1 8.1l0 17.6l1 7.1l0-36.5l1 16.2l0 22l1-.4l0-26.9l1-22.9l0 44.7l1 3.7l0-27.4l1-6.8l0 35.3l1-2.7l0-37.1l1 8l0 24.7l1-.5l0-28.8l1-26.9l0 59.5l1-4.2l0-26.4l1-13.1l0 39.4l1 6.9l0-64.9l1 33.4l0 24.5l1 5l0-26.6l1-85.5l0 116.3l1-4.9l0-28.6l1-22.8l0 50l1-1.1l0-11.8l1-11l0 25.4l1-3.1l0-20.7l1-35.4l0 58.9l1-3.4l0-8.8l1 1.7l0 9l1 4.2l0-11.5l1-37.2l0 47.8l1 3.6l0-21.6l1-3.7l0 26.5l1-2.8l0-36.9l1 9.7l0 26.5l1-3.6l0-69.5l1 54l0 15.6l1 6.9l0-60.9l1 16.8l0 41.5l1-8.1l0-25.7l1-1.4l0 33.9l1 .9l0-29.7l1-50.5l0 81.9l1 1.7l0-28.9l1-20.2l0 40.5l1 6.5l0-15.2l1-6.6l0 19.9l1-5l0-16.3l1-6.2l0 30.9l1-3.4l0-10.3l1-4.7l0 17l1-1.2l0-35.4l1 17.4l0 16.5l1-3.2l0-27.7l1 1.8l0 32.3l1-2.6l0-20.8l1-5.1l0 20.8l1 7.1l0-21.7l1-3.4l0 26.6l1-10.5l0-14.7l1-10.7l0 31.9l1-3.4l0-34l1-50.2l0 84l1-.1l0-30.2l1 2.5l0 35.2l1-.5l0-32.7l1-40.4l0 72.6l1-3.9l0-63l1 49.3l0 10.5l1 3.7l0-37.1l1 8.2l0 25.3l1 6.3l0-24.7l1 4.6l0 22.7l1-4.3l0-26.6l1 .5l0 19.5l1 3.3l0-25.2l1 16.5l0 8.1l1-.3l0-9.5l1-8.7l0 16.4l1 7.9l0-21l1 .9l0 11.9l1 7.6l0-22.7l1-10.7l0 26.1l1 7.8l0-45.3l1 23.7l0 20.4l1-1.2l0-47l1 6.4l0 40.2l1-4.2l0-20.5l1-6.8l0 28.2l1-.9l0-30l1-8l0 43.1l1 1.8l0-115.6l1 90.5l0 18.1l1 8.9l0-17.1l1-4.1l0 19.9l1 .7l0-12.6l1-9.4l0 14.5l1 .2l0-31.6l1 22.7l0 9.4l1 .6l0-24.9l1-12.1l0 38.5l1-3l0-7l1-20.6l0 35.8l1-1.9l0-23.7l1-41.8l0 67.7l1-10.6l0-16.1l1-2.4l0 28.9l1-1.7l0-31l1 8.2l0 16.4l1 2.8l0-21.5l1 1.3l0 21.9l1 2.7l0-38.2l1 20l0 12.2l1-2.2l0-8l1 1.5l0 9.9l1 2.3l0-28.4l1 20.2l0 8.8l1 1.8l0-34.3l1 9.7l0 21.2l1-5.4l0-22.5l1 9.1l0 14.5l1 3.1l0-62.5l1-58l0 122.9l1-7.3l0-13.9l1-8.8l0 26l1-1.9l0-19.4l1-39.6l0 58.4l1 10.3l0-49.4l1 7.4l0 31.1l1 8.1l0-35.8l1-21.8l0 57.7l1-1.9l0-183.8l1 149.7l0 28.1l1 2.2l0-30.7l1 8l0 22.9l1 3.7l0-36.8l1 19.3l0 19.9l1-8.8l0-18.3l1 .3l0 23.1l1 5.2l0-22.2l1-14.9l0 27.1l1 3.9l0-21.2l1 3.9l0 20.7l1 .1l0-31.9l1 5l0 30.1l1-5.8l0-14.3l1-5.8l0 18.8l1 2.3l0-27.2l1 2.4l0 22.7l1-2.8l0-25.1l1-4.9l0 37.3l1-5l0-97.7l1 66l0 33l1-.1l0-22.6l1-2.5l0 27.1l1-5.6l0-30.4l1-1.8l0 35.7l1 6.1l0-31.3l1 2.6l0 21l1-2.8l0-27.3l1 18.1l0 12.1l1-2.8l0-31.6l1 19.3l0 22.8l1-3.4l0-24.4l1-55.7l0 76.6l1 1.9l0-27l1 3.1l0 21l1 7l0-13.2l1-9.7l0 24l1-3.2l0-12.9l1 .1l0 8.3l1-2.6l0-12.4l1 3.8l0 10.1l1 7.9l0-26l1 6.6l0 18.8l1-3.6l0-22.9l1-13l0 30.8" stroke="#d95319" stroke-width="5.8" fill="none"/>
</g>
<path d="M218 1278.4H2108" stroke="#000" stroke-width="11" stroke-dasharray="38 35.6"/>
<path d="M216 1408.5L2111 1408.5" stroke="#262626" stroke-width="5"/><path d="M216 1993.5L2111 1993.5" stroke="#262626" stroke-width="5"/><path d="M218.5 1993.5v-21.5M218.5 1408.5v21.5M353.5 1993.5v-21.5M353.5 1408.5v21.5M488.5 1993.5v-21.5M488.5 1408.5v21.5M623.5 1993.5v-21.5M623.5 1408.5v21.5M758.5 1993.5v-21.5M758.5 1408.5v21.5M893.5 1993.5v-21.5M893.5 1408.5v21.5M1028.5 1993.5v-21.5M1028.5 1408.5v21.5M1163.5 1993.5v-21.5M1163.5 1408.5v21.5M1298.5 1993.5v-21.5M1298.5 1408.5v21.5M1433.5 1993.5v-21.5M1433.5 1408.5v21.5M1568.5 1993.5v-21.5M1568.5 1408.5v21.5M1703.5 1993.5v-21.5M1703.5 1408.5v21.5M1838.5 1993.5v-21.5M1838.5 1408.5v21.5M1973.5 1993.5v-21.5M1973.5 1408.5v21.5M2108.5 1993.5v-21.5M2108.5 1408.5v21.5" stroke="#262626" stroke-width="4.5"/><path d="M218.5 1406L218.5 1996" stroke="#0000ff" stroke-width="5"/><path d="M2108.5 1406L2108.5 1996" stroke="#ff00ff" stroke-width="5"/><path d="M218.5 1993.5h21.5M218.5 1821.4h21.5M218.5 1649.4h21.5M218.5 1477.3h21.5" stroke="#0000ff" stroke-width="5"/><path d="M2108.5 1993.5h-21.5M2108.5 1821.4h-21.5M2108.5 1649.4h-21.5M2108.5 1477.3h-21.5" stroke="#ff00ff" stroke-width="5"/>
<g clip-path="url(#cc)" fill="none" stroke-width="6.2" stroke-linejoin="round">
<path d="M218.7 1896.6l.4-8l.3 9.7l.4-6.3l.4-5.8l.3 7.9l.4-6.2l.4 8.4l.3 25.7l.4-20.5l.4 5.7l.4-20.6l.3 5.2l.4-3l.4 9.1l.3-8.3l.4 20.8l.4-2.1l.3 4.5l.4-9.3l.4-11.8l.3 12.4l.4-5.5l.4-3.1l.4 11l.3 11.3l.4-10.6l.4 18.2l.3-23.3l.4 14.1l.4 5.9l.3 6.5l.4-10.1l.4-7.1l.4-13.1l.3 16l.4-5.7l.4-1.6l.3 7.4l.4-.1l.4 1.1l.3 19.9l.4-16.5l.4 7.8l.3-.8l.4-12.4l.4-28l.4-14.6l.3 3.8l.4-10.2l.4-2.6l.3-1.2l.4 .1l.4 0l.3 6.8l.4-1.7l.4 16l.4-6.1l.3 7.4l.4 9.3l.4 1.4l.3 4.9l.4-14.4l.4 38.4l.3-34.6l.4 12.1l.4-4.2l.3 11.9l.4 1.1l.4 .8l.4 14l.3-2.5l.4-1l.4-23.9l.3 23.9l.4-13.3l.4-1.3l.3 20.2l.4-7.8l.4-20.5l.4 14.4l.3-1l.4-10.7l.4-12.9l.3 10.8l.4 10.6l.4-5.5l.3-15.9l.4 6.9l.4 15.9l.3 5.4l.4-19.2l.4 10.6l.4-8.3l.3-12.6l.4 1.3l.4-1.4l.3-32.7l.4 15.7l.4 33.1l.3-1.9l.4-19.3l.4 30.5l.4-40l.3-14.3l.4-3.4l.4-11l.3-10.2l.4 28.7l.4 7.4l.3-19.8l.4-6l.4 17.2l.4-22.6l.3 22.9l.4-28.8l.4 35l.3-5.2l.4 22l.4 .7l.3 .6l.4-90.7l.4 103l.3-5.1l.4 22.3l.4-15.9l.4-12.9l.3 16l.4 20.2l.4-8.5l.3-11l.4-29.3l.4 23.5l.3-29.2l.4 2.4l.4 .5l.4 6.7l.3 6.5l.4-52.8l.4 47.3l.3-4.8l.4 23.3l.4 32.4l.3-45.2l.4 20.3l.4-25.2l.3 1.9l.4 4.6l.4-6.4l.4-10.1l.3 .9l.4 11.7l.4 3.3l.3-15.4l.4-.1l.4-5.9l.3 .8l.4-11.6l.4 9l.4 10.1l.3-.7l.4 17.9l.4-19.4l.3 2.2l.4 28.4l.4-20l.3 28.5l.4 3.8l.4-11.4l.3 26.2l.4-7.7l.4 16.5l.4-24.1l.3 29.4l.4-21.6l.4 19.5l.3 7.4l.4-11.4l.4-21.3l.3-8.9l.4-15.7l.4-3.1l.4-13.1l.3 .6l.4 2.8l.4-6.2l.3 3.6l.4 10.5l.4-12.6l.3 18.6l.4 2.2l.4-.7l.3 6l.4 .1l.4-1.6l.4 7.3l.3-15.7l.4 26.6l.4-13l.3 1.6l.4 10.1l.4-17l.3 6.8l.4 15l.4-10.7l.4 3.8l.3 4.6l.4 11l.4 4l.3-19.5l.4-.6l.4-.6l.3-14.9l.4 5.7l.4-17.4l.4 32.6l.3-32.4l.4 31.4l.4-21.7l.3 16.3l.4 0l.4-8.6l.3 1.9l.4-6.9l.4 19.6l.3 1.3l.4-2.7l.4 4.6l.4 9.4l.3-10.9l.4-25.3l.4 22.1l.3-37l.4-10.1l.4-5.5l.3 13.1l.4-9.9l.4 22.8l.4 5.7l.3 27l.4-11.3l.4 7.6l.3-16.4l.4 29.1l.4-22.9l.3 1.5l.4-13.2l.4 .5l.3-.8l.4 1.6l.4-11.7l.4 4.2l.3 12.8l.4 19.4l.4-7.1l.3-18.1l.4 23.7l.4-21.2l.3 16.2l.4 5.6l.4-1.6l.4 31.2l.3-22.9l.4-2.6l.4-19.7l.3-.8l.4-3.1l.4-20.6l.3 3.8l.4-10.4l.4 4.6l.3-4.1l.4 54.5l.4-13.5l.4-21.9l.3 14.6l.4 2.8l.4-14.2l.3-1.2l.4 3.8l.4 1.8l.3-2.3l.4-11.8l.4 21.4l.4-35.8l.3 29.4l.4 6.7l.4 13.7l.3-11.8l.4-11.6l.4-29.2l.3 21.5l.4 4.9l.4-19.1l.4 17.1l.3 4.8l.4 22.2l.4-5l.3-11.8l.4 9.6l.4 2.6l.3 20.9l.4-1.5l.4 23.4l.3-36.6l.4 23.2l.4 5.3l.4-2.8l.3-3.9l.4-27.9l.4-28.3l.3-16.9l.4 6.5l.4 17.1l.3 3l.4 16.8l.4-9.7l.4 7.2l.3-19.3l.4 10.7l.4 5.7l.3 25.9l.4-8.5l.4-12.6l.3-15.7l.4 .2l.4 5l.3-4.2l.4-34.7l.4 33.8l.4-6.7l.3 8.2l.4 12l.4-13.9l.3-10l.4 8.5l.4-11l.3 14.4l.4 20.8l.4-2.5l.4-1l.3-3.4l.4 8.9l.4-3.6l.3-20.4l.4-17.4l.4 8.8l.3-5l.4 17.7l.4-2l.3 16.6l.4-15.8l.4 11.8l.4-13.3l.3-11.2l.4 14.4l.4-3.6l.3 7.3l.4 11l.4 3.8l.3 22.2l.4 .9l.4 4.2l.4-8.3l.3-6.4l.4-9.2l.4 1.9l.3 4.3l.4-21.3l.4 20.1l.3-20.1l.4 8.3l.4 .3l.3-5.3l.4 8.3l.4-12.2l.4 6l.3-3.6l.4-15.6l.4-4.5l.3 34.2l.4 16.1l.4 15.5l.3-7.4l.4-10.5l.4-9.1l.4 7.5l.3 9.3l.4-8.9l.4 16.7l.3-13l.4 3.9l.4-.8l.3-23.4l.4 13.8l.4 10.8l.4-17.3l.3-5.6l.4-8.2l.4 19.6l.3-10.8l.4 5.8l.4-15.8l.3 3.6l.4 2.1l.4 2.6l.3 8.6l.4-3.4l.4-8.4l.4 12.1l.3-3.6l.4-5.1l.4 .9l.3 14l.4-8.1l.4-2l.3 19.2l.4-6.7l.4-11l.4 18.3l.3-9.2l.4-4l.4-3.9l.3 12.1l.4-4.3l.4-10.6l.3-1.5l.4-23.1l.4-.5l.3 11.3l.4-7.1l.4 11.5l.4 7.1l.3 21.7l.4-6.8l.4 12.6l.3-1.9l.4-5.5l.4 4.7l.3 16.2l.4-17.2l.4-1.4l.4 0l.3-10l.4-6.6l.4 6.8l.3 3.4l.4-8.9l.4-5.3l.3-6.9l.4 25.3l.4-22.3l.3 7.1l.4 20l.4-1.7l.4-10.4l.3 14.4l.4-13.9l.4-15.1l.3 10.6l.4 5.8l.4 .9l.3-21.9l.4 1.9l.4-6.8l.4 .9l.3 20.3l.4-3.6l.4 15.8l.3-3.9l.4-2.8l.4-13.9l.3 23.3l.4-22.4l.4 1l.3 .9l.4-5.1l.4 11.9l.4 9l.3-13.8l.4 2.6l.4-2.3l.3 1.4l.4-17.1l.4 6.8l.3-12.2l.4-1.1l.4 23.9l.4 1.6l.3 12.9l.4-1.8l.4-8.6l.3-6.5l.4 18.9l.4-16.8l.3-21.5l.4 2.2l.4 10.3l.4-10.9l.3-2.5l.4 18.6l.4-1.3l.3 1.3l.4-5.5l.4-3.3l.3-6.8l.4-1.2l.4-16.1l.3 21.7l.4 3.8l.4-12l.4 25.4l.3-9.2l.4-.7l.4 22.2l.3-31l.4 27l.4-15.5l.3 .2l.4-9.4l.4 14.8l.4 1.7l.3-5.8l.4-3.9l.4-15.8l.3 29.9l.4-23.7l.4 2.6l.3-6.2l.4 5.7l.4-68.3l.3 59l.4-5.4l.4 15.7l.4 10.9l.3-7.8l.4-4.5l.4 13l.3-4l.4-8.7l.4-8.8l.3-11.1l.4 8.1l.4 10.2l.4-5.7l.3 .1l.4-.9l.4 5.4l.3 7.3l.4-17.5l.4-22l.3-3l.4-.3l.4 41.8l.3-28.8l.4 9l.4-1l.4 24.6l.3 4.2l.4 .2l.4-4.6l.3-14.2l.4 1.8l.4-1.2l.3-9.8l.4 25.6l.4-5.8l.4-.5l.3 1.7l.4 13.6l.4 7.4l.3 9.3l.4-14.1l.4-21.3l.3-9l.4 6.3l.4 15l.3-3.7l.4-6.9l.4 14.6l.4-1.9l.3-7.8l.4 15.4l.4-6.9l.3 1.6l.4-7.2l.4-3l.3 .4l.4 2.8l.4-8.6l.4 12l.3 6.2l.4-8.5l.4 18l.3-4.4l.4-8.4l.4-4.6l.3-13.9l.4 9l.4-13.2l.4-13.4l.3 6.4l.4 2.8l.4 12.3l.3 5.9l.4-5.2l.4-2.4l.3 7.6l.4-16.7l.4 3.6l.3 7.9l.4 10.1l.4 4.6l.4-5l.3 11.8l.4-2.2l.4 3.1l.3-9.7l.4 9.1l.4-12.3l.3 13l.4 .2l.4 9l.4 10.6l.3-22.9l.4 10.3l.4-12.9l.3-5.4l.4 .4l.4-9.7l.3 8l.4-.8l.4 1.7l.3 5l.4 .7l.4 1.2l.4-.8l.3 9.2l.4-23.3l.4 22.9l.3-16.2l.4 13l.4-5.3l.3-2.1l.4 9.3l.4 .1l.4-7.1l.3 .8l.4-3l.4 7.4l.3-5.5l.4 4.1l.4 5.5l.3-1.8l.4 6.8l.4-21l.3-.7l.4 13.3l.4-14.3l.4-1.1l.3-1.9l.4 4.4l.4 10.8l.3-21.4l.4 9.6l.4-13.6l.3 7.7l.4-.9l.4 14.2l.4 7.5l.3 2l.4 11.9l.4-21.6l.3 8.8l.4 5.1l.4 5l.3-7.3l.4-8.1l.4 4.3l.3-3.4l.4 7.7l.4-12.6l.4 19.9l.3-15.8l.4 3.6l.4 2.5l.3-9.2l.4-9.8l.4 0l.3-5.2l.4 .9l.4-6.2l.4-5.8l.3 7.5l.4-17.7l.4-7.5l.3 13.8l.4 7.8l.4 13l.3 3.2l.4 10.3l.4 1.6l.4-13.3l.3 8l.4-1.2l.4 1.6l.3 1.1l.4-1.7l.4-.7l.3-13.6l.4 8.8l.4-13.2l.3-7.8l.4 6.2l.4-4.6l.4-7.6l.3 12.8l.4 13.3l.4-9.9l.3-.8l.4-8.9l.4 15.6l.3-13l.4-36.8l.4 28.2l.4 16.3l.3-.9l.4 4.6l.4 8.9l.3 17.1l.4-3.2l.4-9.3l.3 7l.4-.7l.4 1.7l.3-21.3l.4-5.9l.4 4.3l.4-27.5l.3 12.1l.4 2.2l.4 24.6l.3-13l.4-.6l.4 4.3l.3 3.9l.4-13l.4 4.7l.4 2.5l.3-3.3l.4-13l.4 20.7l.3-10.4l.4-6.2l.4 13.6l.3-5.4l.4 25.5l.4-9.8l.3-14.8l.4-5.7l.4 6.1l.4-9.5l.3 8.1l.4-5.7l.4 18.5l.3-15.6l.4 3.4l.4-.7l.3 1.4l.4 29.1l.4-23.7l.4-27.7l.3 3.3l.4 13.2l.4-41l.3 5.5l.4-5.5l.4 33.6l.3 8.4l.4 3.7l.4 4.6l.4 25.2l.3-5.1l.4-4.1l.4-20.8l.3 9.5l.4-.5l.4 4.8l.3-4.4l.4-3.4l.4 3.5l.3-3l.4-10.6l.4 6.4l.4 1.8l.3-10.7l.4 25.5l.4 9.1l.3 3.6l.4 13.8l.4-32l.3 11.1l.4-8.3l.4-13.7l.4 7.4l.3-.6l.4 5.4l.4-14.7l.3-5.1l.4 2.9l.4-9.4l.3 1.3l.4-2l.4 3.8l.3-9.9l.4 1.4l.4 5.2l.4-11.9l.3-1.9l.4-.5l.4 .9l.3 2.2l.4 10.9l.4 1.9l.3 2.1l.4 20.2l.4 8.8l.4 7.6l.3-8.3l.4-63.1l.4 61.5l.3-4.8l.4 2.9l.4 2l.3-8.6l.4 27.2l.4-12.9l.3-8.5l.4 .3l.4-1.7l.4-10.3l.3-8.4l.4 18.7l.4-7.5l.3-5.8l.4 14.7l.4-2.4l.3-4.9l.4 16.8l.4-6.2l.4-10.7l.3 6.5l.4 10.1l.4-46.2l.3-1l.4 7.5l.4-16.2l.3 32.8l.4 8.3l.4-3.9l.3 14.1l.4-9.3l.4 5.1l.4 1.5l.3-19.6l.4 .8l.4 2.3l.3-8.5l.4 2.2l.4 3.1l.3 5.6l.4-6.6l.4 14.9l.4-8.2l.3 19.9l.4-10.7l.4 2.8l.3 1.1l.4-2.3l.4-8.2l.3-.9l.4-10.4l.4 9.4l.4 14.8l.3-8.8l.4 14l.4-6.9l.3-8l.4 12.4l.4-7.2l.3 11.5l.4-9l.4 12.2l.3-12.9l.4 8.6l.4-6.7l.4-3.5l.3 5.7l.4-12.8l.4 5.1l.3 1l.4 .5l.4 6.1l.3 0l.4-2.3l.4 9.2l.4-9.4l.3 2.8l.4-4.6l.4 5.9l.3-10.7l.4 1.9l.4 18.7l.3-12.5l.4 3.3l.4-8.1l.3 2.7l.4 .9l.4-3.2l.4-1.2l.3-7.5l.4-1.2l.4 2.6l.3 12.1l.4-10.7l.4-1.6l.3 10.9l.4 3.4l.4-5.6l.4 6l.3-3.3l.4 6.6l.4-2.6l.3 1.8l.4-4.1l.4 3.3l.3-4.7l.4 4.6l.4-9.4l.3 16.7l.4 .8l.4-2.8l.4 4.3l.3 4.6l.4-13l.4 5.8l.3-11.1l.4 3.4l.4-5.7l.3-.7l.4-3.1l.4 5.3l.4-.2l.3-.1l.4 2.6l.4 2l.3 7l.4-18.5l.4 11.9l.3 1.7l.4 .6l.4 2.4l.3 5.1l.4-.1l.4-.5l.4-9.8l.3-2.4l.4 7.8l.4-6.3l.3 1.9l.4 1l.4 2.8l.3 1.6l.4-7.4l.4 .2l.4-4.8l.3 2.6l.4 2.9l.4 3.6l.3-5.9l.4 1l.4-5.5l.3-13.3l.4 .2l.4 3.6l.4 2.8l.3 2.3l.4 9l.4 1.6l.3 7.1l.4-8.4l.4 1.5l.3 6.4l.4 1.6l.4-.4l.3 1.3l.4-2.7l.4-1.6l.4 5.5l.3-8.1l.4 2.7l.4 .1l.3-5.2l.4-1l.4 .6l.3-7.5l.4 2.1l.4 2.6l.4 3.4l.3 .7l.4 7.8l.4-3.7l.3 4.4l.4 8.8l.4-9.4l.3 6.2l.4-1.1l.4 2.9l.3-10.7l.4 6.5l.4-.1l.4 .8l.3-1.4l.4-6.3l.4-.3l.3-5.7l.4 .5l.4 .9l.3 5.1l.4 4.7l.4 1.9l.4-4l.3 .9l.4-3.4l.4 5.1l.3-14.3l.4 4l.4-1.8l.3-8.9l.4-2.3l.4 .1l.3 .1l.4 .1l.4 .1l.4 2.9l.3 9.1l.4 9.1l.4 2.1l.3 3.1l.4 3.9l.4 1.1l.3-7.1l.4-1.4l.4-9.5l.4 9.5l.3 2.2l.4-3.4l.4-2.9l.3-12.6l.4 3.5l.4-1l.3-6.9l.4 6.4l.4 8.1l.3-1.5l.4 .9l.4-5.2l.4 5.9l.3 11.5l.4 4l.4-4.2l.3-1.4l.4 7.9l.4-3.5l.3 2.8l.4-3.9l.4 1.1l.4-3l.3 .7l.4-1.9l.4-4l.3 3.7l.4-10.3l.4 7.4l.3-2l.4-1.6l.4 .7l.4-2.1l.3 1l.4-1.3l.4-.5l.3 5.4l.4-5.4l.4 7.8l.3-1.7l.4-3.8l.4-1.6l.3 2.7l.4-3.1l.4-5.1l.4-1.5l.3 11l.4-8.6l.4 8.1l.3 2.4l.4 4.9l.4-4.2l.3-1.1l.4 .5l.4 6.4l.4-4.4l.3-5l.4 8.6l.4-5.1l.3 6.7l.4-.7l.4 8.4l.3-9.2l.4 2.8l.4-3.3l.3-10.4l.4-2l.4-.2l.4 .5l.3 13l.4 .7l.4-.1l.3 2.3l.4-2.7l.4 2l.3-.5l.4-4.6l.4-4.9l.4-3.1l.3-8.4l.4-3.4l.4-.3l.3 3.9l.4-3.7l.4 11.5l.3-2.8l.4 3.3l.4 4.1l.3 2.2l.4-1.1l.4-6.5l.4 18.4l.3-18.4l.4 2.7l.4 8.5l.3 1.1l.4-2.2l.4-.6l.3-3.4l.4 2.9l.4-5.4l.4 6.9l.3 .5l.4-11.2l.4 10.1l.3 .3l.4 2.4l.4-3.6l.3-1.1l.4 6.2l.4-1.6l.3-8.2l.4 3.4l.4-5.4l.4-5.9l.3 1.2l.4-7.9l.4-6.6l.3-4.2l.4 5.8l.4-4.6l.3 4.4l.4 8.4l.4-5.9l.4 15.1l.3 .5l.4-10.2l.4 16.2l.3-3.4l.4 9.4l.4-2.6l.3-2.7l.4 .7l.4 0l.4-4.1l.3-1.1l.4-11.3l.4 5.7l.3 3.6l.4 6.8l.4-7.1l.3 3l.4 13.3l.4-12.5l.3 3.3l.4-12.7l.4 3.2l.4 2.1l.3-7.4l.4 11.4l.4 10.4l.3-5l.4-9.3l.4-8.1l.3-17.4l.4 9.8l.4-.6l.4 .1l.3 2.3l.4-1.2l.4 4.7l.3 6.2l.4-4.5l.4-.2l.3-12.1l.4 2.2l.4-7.7l.3-9.6l.4 18.8l.4-6.7l.4-2.9l.3 5.4l.4 6.6l.4 1.1l.3 9.4l.4-3.5l.4 2.9l.3-8.4l.4 4.3l.4 8.5l.4-14.2l.3-1.4l.4 2.1l.4 5.2l.3-2.1l.4 16.5l.4 4l.3-11.6l.4-9.2l.4-4.7l.3 13l.4-8.4l.4-1.8l.4 4l.3-12.7l.4 2.5l.4-3.1l.3 5.3l.4 4.6l.4-10l.3-7.6l.4 16.8l.4 1.3l.4 1.8l.3-19.7l.4 7.5l.4 1.1l.3 4.4l.4-.5l.4 8l.3 2.2l.4 3.9l.4 7.6l.4 8l.3-16.6l.4 19.6l.4-8.5l.3 .5l.4-6l.4-2.1l.3-1.3l.4-4.3l.4 4.7l.3-2.5l.4-14.1l.4-1.5l.4-3.4l.3 4.2l.4 1.3l.4 9.4l.3 3.2l.4 1.1l.4 7.7l.3-15.6l.4 11l.4-6.3l.4-3.4l.3-1.7l.4 11.3l.4-14.2l.3 17l.4-5.6l.4 3.9l.3-4.8l.4 10.8l.4 2.5l.3-3.5l.4 9.6l.4-7.6l.4 5.1l.3-3.4l.4-6l.4 .3l.3 0l.4-10.1l.4-1l.3 6.7l.4-9.4l.4 6.2l.4-4.2l.3-1.2l.4 7.5l.4-10.9l.3 8.7l.4-2.8l.4-10.3l.3-4.1l.4 .2l.4 .3l.3 .3l.4 14.9l.4 .8l.4 6l.3 8.7l.4-5.3l.4-1.1l.3 1.9l.4-6.4l.4-.2l.3-6.2l.4 6.1l.4-7l.4 4.6l.3 2.9l.4 2.9l.4 0l.3 11.9l.4 .2l.4-5.4l.3-1.2l.4-4.8l.4 3.4l.3 .3l.4-.5l.4 5.7l.4-9.7l.3-4.2l.4-12.2l.4-9.2l.3-.3l.4-.2l.4 7.5l.3 7l.4 4.1l.4 3.8l.4-4.5l.3-.3l.4-7.9l.4-.6l.3 4.6l.4-7l.4 9.8l.3 12.9l.4-12.5l.4 4l.4-6.7l.3 4.9l.4-.4l.4 2l.3 10.6l.4-2.3l.4 7.7l.3-8.4l.4-5.4l.4 2.1l.3-11.8l.4-3.4l.4 13.5l.4-10.2l.3 5.3l.4 17.2l.4-3.7l.3 3.5l.4-6.3l.4-4.3l.3-23.8l.4 12.5l.4-18l.4 4.3l.3 8l.4-.9l.4-.1l.3 8l.4-15.7l.4 7.9l.3-6l.4-2.8l.4 15.5l.3-3l.4-.3l.4-2.6l.4 12.8l.3-1.7l.4 15.5l.4-3.4l.3-7.3l.4-7l.4-7.6l.3 4.8l.4-11l.4-1.7l.4-6.6l.3-7l.4 17.9l.4-3.3l.3 13.7l.4 .7l.4 9.6l.3-9.1l.4-5.9l.4-13.3l.3 11.5l.4-3.5l.4 11l.4-2.6l.3-1.1l.4-2.4l.4-.5l.3-10l.4 4.7l.4-7.4l.3 4.5l.4-3.2l.4-3.2l.4-2.7l.3-5l.4-3.9l.4-8.7l.3-.3l.4-.3l.4 3.3l.3 15.1l.4 4.3l.4 .9l.3 1.6l.4 6.5l.4-9.7l.4 10.4l.3-.6l.4 1.2l.4-.8l.3 13.6l.4-12.2l.4 1.4l.3-4.6l.4-.5l.4-11.2l.4 6.3l.3 3.1l.4-4.4l.4 .6l.3 12.6l.4-6l.4-7.6l.3 7.2l.4-18.9l.4 6.9l.4-11.1l.3 19.4l.4-1.7l.4 1.8l.3-6.8l.4-3.7l.4-34.4l.3 19.9l.4-2.2l.4-2.7l.3-12.3l.4-.6l.4 1.7l.4 3l.3-9.4l.4 13.9l.4 10.7l.3 11.4l.4 10.3l.4-13.1l.3 5.3l.4-5.7l.4-7.3l.4 12.7l.3-33l.4-8.1l.4-38.5l.3 15.1l.4 15.9l.4 1.4l.3 21l.4-13.1l.4-5.5l.3 12.1l.4-1.1l.4 16l.4-6.2l.3-6.3l.4 3.1l.4-7l.3 16l.4-24l.4 4.6l.3-19.9l.4 11.8l.4 13l.4-5.6l.3 12.3l.4 34.8l.4-35.2l.3 17.4l.4-15.7l.4-1.6l.3 17.2l.4-3.3l.4-.8l.3 6.6l.4-10.6l.4-5.1l.4 4l.3-26.2l.4 23.1l.4-36.8l.3-18.8l.4 .2l.4 .3l.3 9.6l.4 10.1l.4 31.8l.4-1.4l.3 2.1l.4-3.8l.4-1l.3 4.5l.4 10.7l.4-4.7l.3-5.2l.4-9.4l.4 14.1l.3-9.7l.4 12.3l.4-13.1l.4-8.9l.3-2.4l.4-2.5l.4 8.9l.3-6l.4 2.7l.4 7.1l.3 5.9l.4 1.1l.4 4.1l.4-12.5l.3-5.8l.4 12l.4 5.5l.3-11l.4-5.6l.4 13.7l.3 13.6l.4-6.8l.4-4.4l.4 24l.3-20.6l.4-.3l.4-6.6l.3 11.3l.4-4.1l.4-1.7l.3 7.7l.4 5.4l.4-5.7l.3 10.7l.4 2.6l.4-29.5l.4-10.9l.3 21.4l.4-22.7l.4 22.9l.3-8.5l.4 .8l.4 3.9l.3-15.4l.4-14.2l.4 9.6l.4 4l.3 8.3l.4-13.1l.4 24.6l.3-22l.4 7.5l.4-6.2l.3-5.9l.4-4.8l.4 11.9l.3-12.7l.4 22.1l.4 .4l.4-23.9l.3 2.9l.4 3.8l.4 14.3l.3-15.5l.4 9.4l.4 3.2l.3 6.9l.4-18.4l.4 26.1l.4 17l.3-31.7l.4 14.1l.4 6.8l.3-15.1l.4 26.1l.4-3.7l.3 12.4l.4-17.8l.4-4.7l.3-11.8l.4 5.9l.4-7.9l.4-13.1l.3 11.4l.4-8.7l.4 24.9l.3-14.7l.4 .5l.4 4.3l.3-8.7l.4-6.8l.4 3.6l.4-16.2l.3 6.2l.4-15.3l.4-2.6l.3 12.3l.4 24.6l.4 .8l.3 2l.4-16.7l.4 14.8l.3-22.6l.4-10.5l.4 14.3l.4-34.1l.3 22l.4-19.6l.4 11l.3 .9l.4 29.4l.4 1.7l.3 22.7l.4 2.6l.4-24.6l.4 10.7l.3-.4l.4-8.9l.4 .1l.3-13.5l.4-18.7l.4 4.4l.3 10.7l.4-1.8l.4 10l.4 23.9l.3-22l.4 15.7l.4 4.8l.3-10.8l.4-6.1l.4 8.7l.3-21.9l.4 25.4l.4-15.2l.3 4.7l.4-.4l.4 18.2l.4 5.9l.3-15.6l.4-12.6l.4 2.6l.3-4l.4-10.2l.4-3.4l.3 10.9l.4 3.2l.4-7l.4-4.6l.3 5.6l.4 3.8l.4-12l.3 4.7l.4-4.4l.4-4.3l.3-17.3l.4 60.1l.4-39.7l.3 27.2l.4 3.9l.4-14.6l.4-16.1l.3 6.9l.4 13.5l.4 9.3l.3-18.3l.4-15.6l.4-15.2l.3 15.4l.4-6.8l.4 16.7l.4 17.5l.3 15.8l.4-22.6l.4 6.9l.3-19.7l.4 28.2l.4-8.7l.3-8.4l.4-3.3l.4-9.5l.3 5.7l.4-11.9l.4 1.7l.4-7.3l.3 5.8l.4 3.1l.4 17.5l.3-2.3l.4 9l.4 4.4l.3-18.4l.4-8.6l.4 19.9l.4-3.6l.3-4.2l.4 11.5l.4 3.9l.3 5.8l.4-12.3l.4-6.9l.3-13.5l.4 25.9l.4-4.3l.4-13.7l.3 33.3l.4-16.3l.4 2.6l.3 13.2l.4-4.5l.4-2.9l.3 13.3l.4 3.2l.4-33.8l.3-14.1l.4-.2l.4 .2l.4-14.6l.3-23.4l.4-1.5l.4 0l.3 0l.4-.1l.4 17.2l.3 13.5l.4 4.6l.4 13.6l.4 .1l.3-12.2l.4 22l.4-10.5l.3-6.9l.4 1.7l.4-4.2l.3 4.1l.4-14.1l.4 28.5l.3-1l.4-3.3l.4 28.3l.4-8.7l.3-18.2l.4 8.6l.4 20l.3-10.7l.4-3.5l.4-7.7l.3 7.1l.4-20.9l.4-22.7l.4-15l.3 7l.4-6.9l.4 17.8l.3 8l.4-25.1l.4 29.3l.3-7.3l.4 9l.4 13.6l.3 2.1l.4 1.2l.4 5l.4-3l.3 19.4l.4-2.5l.4-26l.3 18.3l.4-11.5l.4-9.6l.3-1.7l.4 2.3l.4-1.8l.4-.1l.3 .8l.4-15l.4-4.4l.3 12.9l.4-5.3l.4-1.4l.3-1.5l.4-11.7l.4 7.3l.3-12l.4-1.7l.4 22.5l.4 2.9l.3-1l.4 3.4l.4 4.6l.3 9l.4-3.7l.4-6.9l.3-9l.4 14.8l.4-22.5l.4 4.3l.3 12.1l.4-12.5l.4-15.7l.3 22.6l.4-9.6l.4 14.2l.3 6.3l.4 4.6l.4 5.9l.4 1.2l.3 3.3l.4-13.7l.4-5.1l.3 6.5l.4 8.4l.4-24.7l.3 2.7l.4-.6l.4-24.9l.3-5.2l.4-16.9l.4-4.3l.4 12.4l.3 17l.4-1.1l.4 29.2l.3-3.3l.4-19.2l.4-2.7l.3 4.6l.4-2.8l.4 2.6l.4 14.9l.3-9.8l.4 4.7l.4 14.3l.3-31.5l.4-10.1l.4-9.7l.3-.2l.4 15.7l.4-13.7l.3-1.3l.4 2.7l.4-40.6l.4 14.9l.3-20.8l.4 24.7l.4 13.1l.3-19.9l.4 5.2l.4-20l.3-7l.4-26.4l.4 24.7l.4-87.2l.3 87l.4 .3l.4 1.6l.3-29.8l.4-.3l.4 2.8l.3 11.5l.4 2.6l.4-8.7l.3-17l.4 14.2l.4 8.5l.4 14.5l.3 2.8l.4-34l.4 7.5l.3 20.7l.4-26.5l.4-16.2l.3-31.3l.4 5.1l.4-9.3l.4 .4l.3 23.5l.4 20.1l.4-7.4l.3 12.1l.4 27l.4 11.5l.3-13.5l.4-10.4l.4-15.7l.3 26.3l.4 12.1l.4-21l.4 13.4l.3 13l.4-5.7l.4 1.3l.3 36.9l.4-9.9l.4 16.4l.3-23l.4-11.7l.4-29.6l.4-27.6l.3 25.4l.4-46.7l.4 10.1l.3-17l.4 60.7l.4-45.7l.3 44.3l.4-11.1l.4 28.6l.4-10.6l.3 8.7l.4-15.3l.4 22.8l.3 21.2l.4-.6l.4-2.9l.3 28.1l.4-7.3l.4-4.3l.3 7l.4-3.8l.4 .4l.4-33.2l.3 7.2l.4 35.1l.4-49.5l.3-21.6l.4 48.8l.4-34.8l.3-15.8l.4 33.4l.4-27.5l.4 4.9l.3-17.8l.4-7.3l.4-10.9l.3 10.3l.4-1.6l.4 36.9l.3-8.3l.4 36.7l.4-12.8l.3 3.2l.4 36.3l.4-1.7l.4-37.1l.3-11.5l.4 17.2l.4-21.1l.3 10l.4 17.9l.4-15.5l.3 10.6l.4-1.7l.4-3.2l.4 18.6l.3-22.2l.4 16.3l.4-4.3l.3-7.6l.4-6.7l.4-9.3l.3-20.3l.4-1.3l.4-17.1l.3-27.1l.4 .2l.4 .2l.4 .2l.3 24.8l.4 26.2l.4 21.7l.3 18.6l.4-9.7l.4 15.9l.3-45.3l.4 43.9l.4-31.2l.4-28.6l.3 29.7l.4-23l.4-27.1l.3 32l.4-15.6l.4 8.5l.3 6.2l.4 1.9l.4 4.5l.3 .9l.4 30.9l.4-10.9l.4-.7l.3 2.8l.4 21.8l.4-6.4l.3 16.6l.4-2.6l.4-15.7l.3-15.4l.4 11.7l.4-5.7l.4 10.7l.3-24.1l.4-11l.4-22.1l.3 21.3l.4-29.4l.4-6.9l.3 23.5l.4-2.6l.4-13.7l.4-6.8l.3 1.1l.4-22.4l.4-12.5l.3 17.1l.4-14.4l.4 5.8l.3-22.4l.4 1.4l.4-7.8l.3-4.6l.4-.7l.4 21.7l.4 3.7l.3-9.8l.4-2.8l.4 3l.3-7.9l.4 23.1l.4-18.8l.3 4.8l.4 19.4l.4-9.2l.4-1.4l.3 9.1l.4-3.6l.4-.1l.3-14.8l.4-31.8l.4-7.8l.3-39.6l.4 57.1l.4-2.8l.3-29.8l.4 37.2l.4-5.9l.4 .5l.3 66.7l.4-71l.4 22.6l.3 13.8l.4-6.8l.4 27.4l.3-28.9l.4-13.3l.4 24.4l.4-14.3l.3-18.9l.4-8.2l.4-29.7l.3 10.6l.4-94.6l.4-15.9l.3-3.4l.4 26.2l.4 14.5l.3 29.7l.4 6.2l.4 1.3l.4 6.4l.3 33.5l.4 22.2l.4 4.1l.3-11.6l.4 9.3l.4 10.6l.3-4.2l.4-22.8l.4 5.5l.4-12l.3-21.7l.4 18.1l.4-11.6l.3-5.6l.4-59.5l.4-4.7l.3-34.7l.4 148.1l.4-15.4l.3-4.7l.4 13.6l.4-61.3l.4-.1l.3-29.9l.4-14.7l.4 33.3l.3 4.4l.4 43.2l.4-43.2l.3-11l.4-45l.4-8.6l.4 16.9l.3 39.2l.4 41.7l.4-14.6l.3 61.2l.4-14l.4 1.5l.3 .6l.4 18.3l.4-62.7l.4 15l.3 34.2l.4-50.5l.4 29.5l.3 35.8l.4-50.8l.4 30.7l.3-18.9l.4 20.9l.4 20l.3-7.5l.4 3.5l.4 15l.4-15.9l.3-6.9l.4 4.3l.4-12.9l.3-24.3l.4 12.8l.4 1.6l.3 .6l.4 33.3l.4 26.8l.4 13.3l.3-17.6l.4 10.7l.4 10.2l.3-10.3l.4 21.7l.4 12.7l.3-10.2l.4-6.5l.4 13.1l.3-23l.4-20.5l.4-29.4l.4 4l.3-9.3l.4 27.8l.4 4.2l.3-14.5l.4 17.2l.4 3.3l.3-6.8l.4-48.5l.4 13l.4 21.6l.3 11.5l.4 16.6l.4-11.1l.3-7.2l.4 8.2l.4 17.1l.3-2.2l.4 21.1l.4 23l.3-10.3l.4 5.4l.4-17.9l.4-4l.3 20.1l.4-36.5l.4 19.1l.3-7.3l.4 16.6l.4-40.6l.3-7.2l.4-31.5l.4 22.7l.4-3.5l.3-17.2l.4 9.6l.4 3.3l.3 24.2l.4-6.6l.4 15.6l.3-5.9l.4 5.6l.4 23l.4-12.9l.3-7.8l.4 9.2l.4 7.9l.3 6.2l.4 8.2l.4 10.4l.3-14.2l.4 1.3l.4 3.6l.3-13.1l.4 10.7l.4 6.1l.4 4.7l.3-38.8l.4 13.3l.4-2.7l.3-27.3l.4 10l.4-6.3l.3 10.9l.4 3.3l.4-3.6l.4 19.3l.3-.9l.4 1.2l.4-21.8l.3 45.4l.4-13.5l.4 14.9l.3 2.9l.4-5.6l.4 21.5l.3-3.4l.4-16.9l.4-58.2l.4-2.5l.3-18.7l.4 16.9l.4 19.4l.3-1.5l.4 18.9l.4-21.4l.3 16.2l.4-8.3l.4-12.7l.4 2.3l.3 5l.4 8.7l.4-17.1l.3 33.4l.4-.6l.4 11.4l.3-3l.4-27.8l.4 51.8l.3-7.8l.4-19.9l.4-30.9l.4-13.1l.3 17.9l.4-8.4l.4 6.2l.3 0l.4 11.8l.4 12.6l.3-14.3l.4 15.7l.4-8l.4-20.4l.3 14.5l.4-27.2l.4 39.6l.3 16.3l.4-12.9l.4-8.8l.3-54.6l.4 31.1l.4 5.2l.3-36.3l.4-7.8l.4 29.4l.4 25.3l.3-17.7l.4 65.1l.4-40.7l.3 .1l.4 18.3l.4-44.2l.3-3.1l.4 56.7l.4-22l.4-4.6l.3 57l.4-37.5l.4-27.6l.3-96l.4-25.3l.4 52.8l.3-3.4l.4-17l.4-38.1l.4 26.6l.3 1.2l.4 44.5l.4 37.6l.3-2.1l.4 40.6l.4 35l.3 19.8l.4 25.2l.4-16.8l.3-54.9l.4-2.7l.4-67.6l.4 5.6l.3-12.7l.4-21.5l.4 18.7l.3-82.9l.4 66.3l.4 29l.3 7.8l.4-30.4l.4-61.9l.4-17.5l.3 59.8l.4-83.8l.4 137.3l.3-42.6l.4 8.6l.4-1.9l.3 22.3l.4 101l.4-19.5l.3 7.2l.4-10.9l.4 67.6l.4-70.4l.3 70.7l.4-83.8l.4 39.1l.3-55.8l.4-10l.4-16.1l.3 33.3l.4 1.2l.4 1.8l.4-41l.3 11.6l.4-75.3l.4-32.7l.3-1.1l.4-2.6l.4-10.3l.3-48.9l.4 31.8l.4 54.4l.3 14.5l.4-8.7l.4 14.9l.4 106.7l.3-95.2l.4 91l.4-50.7l.3 44l.4 27.3l.4-11.9l.3 11.6l.4 12l.4-39.8l.4-75.5l.3-11.6l.4 45.5l.4 9.5l.3 15.8l.4-10.1l.4-43l.3 40l.4-40.2l.4 34.7l.3-8l.4-16.9l.4-44.9l.4 88.1l.3-48.7l.4-80.6l.4 50.4l.3 17.7l.4 70.7l.4-37.9l.3 61.9l.4-16.2l.4-35.6l.4 48.8l.3-125l.4 118.1l.4-59.5l.3 4.2l.4 14.1l.4 4.1l.3 13.7l.4-34.2l.4 .8l.4-14.4l.3-47.4l.4-47.8l.4-55.4l.3 56l.4 23.9l.4-31.1l.3 12.7l.4 46.8l.4 76l.3 31.2l.4-45.1l.4 34.4l.4 16l.3-9.5l.4-9.4l.4 21.4l.3-33.8l.4 44.5l.4 6.7l.3-10.7l.4-138.8l.4 40.4l.4 50.5l.3-29l.4 39.1l.4-34.1l.3-38.9l.4 32.5l.4-1.1l.3 65l.4-38.6l.4 35.6l.3-32.7l.4 .1l.4 17.1l.4-38l.3 1.3l.4 28.6l.4-53.1l.3 1.6l.4 20.3l.4-2.9l.3 35.7l.4-21.7l.4 2.2l.4-13l.3 28.4l.4-95.8l.4 18l.3 3.8l.4-27.6l.4-33.1l.3 70.2l.4 7.8l.4 35.4l.3-52.2l.4 9.4l.4-16.8l.4 14.1l.3-28.1l.4 49.5l.4-17.5l.3 11.3l.4 26.6l.4-21l.3-68.6l.4 .5l.4 106l.4 5.6l.3 69l.4-19l.4-32.2l.3 4.3l.4 7.4l.4-17.4l.3 69.1l.4-4.1l.4 7.1l.3-52.3l.4 18.4l.4-106.3l.4 7.8l.3-55.6l.4-62.7l.4-1.5l.3 36.1l.4 4.5l.4-.8l.3-4.8l.4 80.1l.4 46.1l.4 19.5l.3 1.2l.4 38.7l.4-20.2l.3 40.9l.4-18.3l.4-22.2l.3 15.4l.4 51.9l.4-81l.4 54l.3-58.8l.4 41.1l.4 32.4l.3-58.8l.4 19l.4-31.3l.3-44.1l.4-42.7l.4 25.3l.3-47.8l.4 65.9l.4-12.6l.4-26.7l.3 21.1l.4-61.8l.4 4.7l.3 47.2l.4-5.6l.4-18.8l.3-39.7l.4 36.7l.4 7.2l.4-14.5l.3 90.6l.4 .1l.4 69.5l.3 35.6l.4 25.2l.4-21.9l.3-48.3l.4-18.7l.4 40.7l.3-90l.4-53l.4 71.4l.4 13.6l.3 55.7l.4-45.7l.4-51.9l.3 71.1l.4-80.6l.4-27l.3 107.9l.4-94.7l.4-37.1l.4 27.7l.3-36.4l.4 7.1l.4-30.6l.3 115.5l.4-.2l.4 26.2l.3-16.8l.4-48.4l.4 81.2l.3-86.8l.4-4.4l.4-12.8l.4-48.4l.3 38.1l.4-10l.4-29.5l.3 65.1l.4 16.8l.4 11.5l.3 23l.4 16.9l.4-49.8l.4 25.4l.3 54.7l.4-34.8l.4-83.2l.3 35.2l.4-27l.4 23.3l.3 27.2l.4-34.7l.4-4l.3 96.2l.4-.5l.4 21.7l.4 38.1l.3-47.2l.4-45.2l.4 22.8l.3 8.3l.4 30.3l.4-27.4l.3 67.4l.4-58.4l.4-25.7l.4 16.7l.3 3.7l.4-10.9l.4 22.5l.3-127.2l.4 37.6l.4-37.9l.3 5.4l.4 17.7l.4-14l.4 86.1l.3 7.6l.4-52.5l.4-43.5l.3 10.9l.4-44.8l.4-42.8l.3 64.5l.4-68.7l.4 26.3l.3-27.3l.4 13.9l.4 47.4l.4 51.8l.3 111.3l.4-9.8l.4 24.8l.3-22.1l.4 11.9l.4-49.4l.3 35.5l.4-25.5l.4-38.8l.4-36.4l.3-58.3l.4 7.2l.4 6.4l.3-2.9l.4-22.4l.4-1.4l.3-35.9l.4 .8l.4 31.9l.3 50.3l.4-2.1l.4 38.2l.4 3.5l.3 27.2l.4 24.1l.4 8.8l.3-6.3l.4-27.5l.4 33.1l.3-41.9l.4 27.5l.4 19.2l.4-7.7l.3-18.7l.4-9.2l.4 29.3l.3-57.9l.4-28.4l.4-4.2l.3-33.2l.4-22.8l.4 59.5l.3-20.9l.4-6.1l.4-23.1l.4 10.7l.3-18.9l.4 14.9l.4-25.6l.3 18.7l.4 18.8l.4 13.1l.3 .6l.4 8.2l.4 9.1l.4 17.8l.3-7l.4 20l.4-2.9l.3 19.7l.4-16l.4 6.3l.3 23.3l.4-16.4l.4 18.5l.4-11.3l.3-9.3l.4-22.2l.4 8.6l.3-22.9l.4-18.9l.4 10.7l.3-13.9l.4-9.8l.4 1.1l.3 2.8l.4 43.8l.4 29l.4-15.6l.3 54.4l.4-24.2l.4 44.3l.3-48l.4 10.2l.4-4.5l.3-5.1l.4 47.4l.4-51.7l.4-26.9l.3 11.5l.4-43.6l.4-49.1l.3-1.6l.4 4.8l.4 17.6l.3-14.4l.4 24.4l.4-16.6l.3-7.2l.4 14.1l.4 48l.4-.1l.3 64.4l.4 18.6l.4-47.8l.3 23l.4-11.6l.4 13.2l.3-24.9l.4-51.7l.4 16.2l.4 18.7l.3-36.8l.4 16l.4-22.4l.3 42.1l.4 23.3l.4-40.6l.3 9.1l.4-17.8l.4 29.6l.3-36.9l.4 74.7l.4-13.2l.4-31.3l.3-5.9l.4-15.7l.4 15.9l.3 12.7l.4 8.6l.4 11.2l.3-38.1l.4 58.1l.4-13.3l.4-10.8l.3-33.5l.4 38.8l.4-81.4l.3 3.1l.4 26.9l.4-12.5l.3 31.1l.4-58.8l.4 15.1l.3-20l.4 22.7l.4 13.8l.4-45.8l.3 8l.4 40.1l.4 11.4l.3-17l.4 23l.4-5.7l.3 81.4l.4-100.3l.4 50.1l.4-25.9l.3-5.9l.4 20.2l.4-38.3l.3 44.1l.4 0l.4 22.6l.3 12.9l.4-53.4l.4 5.1l.4 16l.3 8l.4-57.8l.4-18.6l.3 56.1l.4-70l.4 7.2l.3-20.3l.4-49.3l.4 62.1l.3-.5l.4 12.3l.4-22.8l.4 13.8l.3 14.8l.4-.7l.4 64.3l.3-35.3l.4-15.8l.4-24.6l.3 17.2l.4 24l.4-42.3l.4 34l.3 39.9l.4-58.4l.4 72.2l.3-72.7l.4-20.7l.4-15.6l.3 17.5l.4-37.3l.4 .4l.3 27.7l.4 53l.4 4.3l.4-24.7l.3 16.6l.4 18.6l.4-36.5l.3 24.5l.4 23.7l.4-19.3l.3-56.8l.4 37.1l.4-2.6l.4-12l.3 77.7l.4-40.8l.4 21.4l.3-22.8l.4-59.2l.4 31.8l.3-73.4l.4 48.5l.4-71.9l.3-56.6l.4 2.6l.4 68.8l.4-8.1l.3 19.3l.4 64.1l.4-52.8l.3-93l.4 86.1l.4-44.7l.3-15.3l.4 36.8l.4-4.8l.4 25.2l.3-24.1l.4 56.1l.4 2.5l.3 4.7l.4-11.3l.4-8.8l.3 52.4l.4 25.4l.4-69.3l.3-16.9l.4 30.2l.4-59.6l.4 55.8l.3 4.1l.4-23.3l.4 46.8l.3-9.8l.4-45.4l.4 62.6l.3-15.2l.4-32.9l.4-58.7l.4-7.5l.3 30.1l.4 4.9l.4-29.1l.3 63.1l.4-26.3l.4 18.3l.3-47.2l.4 37.3l.4-33.8l.4 45.6l.3-33.7l.4 33l.4-13.2l.3 5.8l.4-23.8l.4 20.6l.3 2.5l.4-29.5l.4 50.9l.3-67.8l.4 71.7l.4 5l.4-.8l.3 1.7l.4-42.3l.4 47.3l.3-45.7l.4 62.3l.4-4.8l.3-16l.4-65.9l.4 56.7l.4-17.9l.3-1.2l.4-13.9l.4-10l.3 23.1l.4-69.6l.4 22.1l.3-37.1l.4 11.4l.4-48.9l.3 50.4l.4-29.7l.4 2.4l.4-20l.3-1.1l.4 108.9l.4 30.9l.3-53.9l.4 32.1l.4-64.6l.3 33l.4 5.5l.4 32.8l.4 37.7l.3 9.9l.4 8.8l.4 8.1l.3-9.4l.4-47.9l.4 47.5l.3-70.2l.4-50l.4-2.9l.3-34.7l.4 5.7l.4 15.4l.4 3.7l.3-54.2l.4 62.5l.4 46.1l.3-67.3l.4 50.8l.4-57.7l.3 23.2l.4 61.2l.4 37.7l.4-5.1l.3 32.1l.4 21l.4 4.4l.3-43.8l.4 27.4l.4 5.4l.3-62.9l.4-16.9l.4-45.4l.3 28.4l.4-4l.4 3.3l.4-63.2l.3 103.9l.4-24.5l.4-53l.3 36.5l.4-96.7l.4 14.3l.3 102.6l.4-35.2l.4-15.4l.4 6l.3 79.2l.4-1.4l.4 18.1l.3-26.8l.4-30.8l.4 6.3l.3 2.7l.4 77.2l.4-41l.4 55.2l.3 8.7l.4-81.2l.4 56.4l.3-39.6l.4-10.7l.4-21.4l.3-14.9l.4-25.6l.4-53.3l.3-4.8l.4-26.9l.4 8.7l.4 49.4l.3 46.9l.4 .2l.4 33.5l.3-33.7l.4-19.3l.4-8.7l.3 17.9l.4-7.8l.4 2.8l.4 68.4l.3 17.8l.4 57.4l.4-52.7l.3 31.2l.4-41.8l.4 4.8l.3-16.3l.4-24.8l.4 7.9l.3 43.3l.4-53.6l.4-43.3l.4-1.8l.3-3.7l.4-79.7l.4 8.6l.3 23.2l.4-14.3l.4 87.9l.3-50.6l.4 72.3l.4 62.8l.4 23.9l.3-45.7l.4 45.2l.4 59.4l.3-68.4l.4 29.8l.4-46.4l.3-52.2l.4 43.4l.4 27.6l.3-93.8l.4 67l.4 12.1l.4-91.5l.3 18.5l.4-34.7l.4 8.9l.3 33.5l.4-43.3l.4-6.5l.3 46.1l.4-21.2l.4 50.9l.4 88.5l.3-313.9l.4 343.9l.4-18.3l.3-84.7l.4 40.1l.4-10.7l.3 7.8l.4 20.7l.4-63.9l.3 12.4l.4-36.8l.4-46.9l.4 73l.3-48.9l.4-3.5l.4 20.6l.3 49.8l.4-86l.4-8.8l.3 67.7l.4 21.7l.4 25.6l.4-39l.3 4.9l.4 22.6l.4 34.9l.3-4.9l.4 20.9l.4-11.9l.3 120.9l.4-191l.4-46.5l.4 13.9l.3-56.7l.4 25.4l.4-51.3l.3 58.5l.4-12.1l.4 28.3l.3-48.8l.4-21.1l.4 54.5l.3 16.6l.4 12.3l.4 1.4l.4 66.7l.3 15.9l.4 38.2l.4-34.5l.3-3.9l.4 22l.4-1.6l.3 11.1l.4-57.5l.4-10.6l.4 40.6l.3-11.2l.4-48.1l.4-25.2l.3-19.9l.4-60.3l.4 34.9l.3 24.9l.4-6.1l.4 9.4l.3 12.1l.4-78.2l.4-14.6l.4 23.7l.3-1.7l.4 26.1l.4-12.8l.3 25.6l.4 11.1l.4-33.7l.3 29.1l.4-27.4l.4 48l.4 46.6l.3-10.7l.4-17.2l.4 3.1l.3-35.3l.4-7.6l.4 7.4l.3 8.6l.4-32.3l.4 8.8l.3-58.6l.4-55.9l.4 17l.4 47.3l.3-23.2l.4-2l.4-.2l.3 24.8l.4 6.8l.4 39.5l.3 31.3l.4-5.3l.4 43.4l.4-50.6l.3 9.3l.4 5.3l.4-.4l.3 42.3l.4 .1l.4 13l.3-9.6l.4-5.1l.4 9.5l.4 6.5l.3 15.4l.4-26.9l.4-14.9l.3-33.5l.4-37.3l.4 3.7l.3-65.4l.4 58.7l.4-105.5l.3 16.5l.4-16.9l.4 14.2l.4 61.2l.3 28.3l.4 38.4l.4-4.2l.3 72.7l.4-75.3l.4-10.4l.3 34.5l.4-25.6l.4 34.3l.4-87.7l.3 116.6l.4 11.9l.4 20.3l.3-76.8l.4-39l.4 9.8l.3-86l.4-53.3l.4 58.4l.3 17.2l.4-12.6l.4-1.2l.4 16.8l.3 24.5l.4 30.9l.4 30.9l.3 13.5l.4 21l.4-63.2l.3 16.1l.4 8.6l.4 10.6l.4 4.7l.3-35.6l.4 49.5l.4-10.6l.3 13l.4-39.8l.4 16.6l.3-27.7l.4-60.4l.4 33.2l.3-60l.4-25.2l.4 36.8l.4-28l.3-50.5l.4 88.8l.4 9.1l.3-89.9l.4 94.3l.4 109.2l.3-16.8l.4 7.1l.4 11.7l.4-68.3l.3 126.2l.4-119.8l.4 62l.3-74.5l.4-31.3l.4 57.7l.3-3.9l.4 41.8l.4 5.2l.3-25.5l.4-64.8l.4-39.1l.4-28.8l.3-41.2l.4 87.9l.4-8.3l.3-32.5l.4 95.2l.4 22l.3 .1l.4 11.2l.4 12l.4-19.3l.3 54.8l.4 8.6l.4 11.4l.3 16.8l.4-.9l.4-12.8l.3-43.8l.4 6.5l.4-2.5l.4-18.3l.3 14.9l.4 5.2l.4 30l.3-78.9l.4 7.8l.4 11l.3-57.3l.4 7.4l.4-30.9l.3-87.1l.4 17.2l.4-32.5l.4 22.1l.3-22.2l.4 18.6l.4 40l.3 49.5l.4-23.2l.4 86.1l.3 21.7l.4 3l.4 75l.4-93.4l.3 63.3l.4-.7l.4-48l.3-30.9l.4-59.8l.4-101.3l.3 80.1l.4 85.9l.4 46l.3 48.1l.4-57.2l.4-10.2l.4-70.6l.3 9.3l.4 41.9l.4 5.4l.3 12.1l.4 17l.4 27.5l.3-67l.4 8.9l.4 5.9l.4 30.5l.3-94.4l.4 15.5l.4 32.2l.3 5.1l.4 12.3l.4 17.9l.3-6.2l.4 28.4l.4 9.4l.3-81l.4-62.3l.4 48.2l.4-46.3l.3 32.2l.4 18.7l.4 26.2l.3 86.5l.4 5.6l.4-53l.3-54.6l.4-18.6l.4-9.7l.4 33.8l.3 48.5l.4-52.2l.4 31.3l.3 47.7l.4-1.4l.4-86.5l.3 27.2l.4-8.6l.4 9.4l.3-25.3l.4 .9l.4 61.9l.4 22.8l.3 96.1l.4-73.2l.4-14.1l.3 54.1l.4-28.3l.4-2l.3-109.9l.4 64.3l.4-42.6l.4-2.6l.3-7.8l.4 3.1l.4 37.1l.3-145.2l.4 108.2l.4-53.6l.3-55.9l.4 46.4l.4-28.6l.4 75.4l.3 27.1l.4-7.8l.4 62.4l.3 .6l.4-31.7l.4-21.7l.3 31l.4-88.9l.4 32.1l.3 42.6l.4-31.3l.4 99.5l.4-119.8l.3 86.8l.4 6.8l.4-30.6l.3 .3l.4-60.6l.4-38.3l.3-63.5l.4 .8l.4 65.6l.4 36.8l.3-9.8l.4 16.7l.4 27.7l.3 58.4l.4 12.9l.4-75.5l.3 92l.4-14.8l.4 70.2l.3-70.5l.4 35.4l.4 20.4l.4-86.9l.3 22.5l.4 76.1l.4 2.2l.3 7.3l.4-38.5l.4-21.5l.3-47.1l.4-42.8l.4 2.2l.4-59l.3 73.9l.4-122.8l.4 19.2l.3 21.6l.4-24.5l.4 41.5l.3 86.4l.4 14l.4 50.9l.3-43.9l.4 108.2l.4 21.2l.4-30.5l.3-8.3l.4-33.5l.4 58l.3-78l.4-17.3l.4 33.2l.3-52.4l.4-1l.4 11l.4-26.6l.3-15.3l.4-78.9l.4 34l.3 24.3l.4 15.1l.4 67.8l.3-109.3l.4 95.7l.4-42.3l.3 40.8l.4-14l.4-6.2l.4 11.2l.3 45.9l.4-3.7l.4 56l.3-16.6l.4 14.2l.4-8.2l.3-74.3l.4 36.2l.4 31.8l.4-37.8l.3-30.2l.4 64l.4-12.4l.3 20l.4-17.4l.4-44.5l.3 97.1l.4-65.9l.4-29.9l.4-27.4l.3-66.5l.4 100l.4 1.3l.3 22.6l.4 8.8l.4-34.3l.3 27l.4-.6l.4-10.9l.3-16.2l.4 19.7l.4 41.3l.4 1l.3-35.9l.4-19.5l.4 5.7l.3 7.6l.4 37.3l.4-47.3l.3 21.1l.4-54.5l.4 29.9l.4-16.6l.3 34l.4 115.8l.4-107.5l.3-13.9l.4-8l.4 18.6l.3 30.8l.4-2.1l.4 5l.3-23.5l.4-37.4l.4 6.2l.4-15.7l.3 12.1l.4-33.5l.4-71.9l.3 56.5l.4-23.8l.4 84.1l.3-27.6l.4 73.1l.4-24.9l.4 9.9l.3 13.5l.4 29.2l.4-92.8l.3-128.2l.4 140.7l.4-40.6l.3-37l.4 26l.4-5.4l.3-10.1l.4-2.8l.4 11.3l.4-14.4l.3 17.9l.4-6.2l.4 5.8l.3 25.1l.4 27l.4 16.7l.3 32.6l.4-40.2l.4 54.7l.4-57.3l.3-4.9l.4-16.9l.4 16.6l.3-11.2l.4 82.2l.4-47.5l.3-9.7l.4-67.8l.4-20.9l.3 11.5l.4 22.2l.4-15.8l.4-20.8l.3-4.6l.4 12.7l.4 13.2l.3-11.1l.4 12.1l.4 35.4l.3 26l.4-.2l.4 0l.4-11.3l.3 17.9l.4 0l.4 3.2l.3 34.2l.4-43.6l.4 15.5l.3-17.9l.4-6.7l.4-17.8l.4 0l.3 19.2l.4 8.8l.4-26.9l.3 1.3l.4 11.3l.4 9.6l.3-8.2l.4 21.7l.4-.5l.3 4.6l.4-27.1l.4 1.7l.4 12.6l.3-9.5l.4-23.8l.4-7.1l.3 37.6l.4 35.8l.4-2.9l.3-35.2l.4-7.3l.4 33.1l.4-3l.3 1.5l.4 15.4l.4-13.2l.3 10.5l.4 9.3l.4-46.2l.3-8.4l.4-45.6l.4-11.9l.3 24.1l.4-8.3l.4-4l.4 25.8l.3-.9l.4 12.5l.4 47.4l.3-23.9l.4 3.7l.4-6.8l.3 37.6l.4-62.9l.4 47.8l.4-2.5l.3-40.9l.4 47.9l.4-10.9l.3-20.8l.4 7.7l.4 6.5l.3-14.2l.4 3.3l.4-5.9l.3-11.8l.4-3.3l.4 29.5l.4-13.9l.3 16.1l.4 35.5l.4-30l.3 14.7l.4 23.4l.4-54.4l.3 41.5l.4-15.4l.4 2.7l.4-4l.3-27.1l.4 27.8l.4-10.4l.3 1.9l.4-3l.4 11.8l.3-21.2l.4 8.2l.4-12.7l.4 20.1l.3 24.6l.4 6.9l.4-15l.3 .3l.4-19.5l.4 27.4l.3-31.3l.4-12.9l.4 14.3l.3 31.9l.4-8.5l.4 10.3l.4 27.9l.3-37.8l.4 2.6l.4 14.9l.3-4.2l.4-14.6l.4 55.8l.3-4.6l.4-16.7l.4-5.3l.4-3.2l.3 5.5l.4-40.7l.4-2.1l.3-8.6l.4 4.1l.4-27.9l.3 19.6l.4 7.3l.4-19.7l.3 13.9l.4 7.6l.4 24.3l.4-23.2l.3 16.6l.4-18.8l.4-12.3l.3 31l.4 6.3l.4 11.8l.3-13.5l.4 27.9l.4 7.4l.4-3.5l.3-5.5l.4-.7l.4-9.1l.3-24.6l.4 7.9l.4 8.1l.3 10.9l.4 6.9l.4-14.6l.3 0l.4-5.2l.4 12.9l.4-12.8l.3 17.3l.4-28.3l.4 17.1l.3-1.8l.4 20.4l.4-29l.3 27l.4-1.8l.4-11.1l.4-5.5l.3-22.2l.4 1.6l.4 22.1l.3 18.4l.4 8.2l.4 16.5l.3-16.3l.4-.4l.4 17l.3-23.7l.4-.1l.4 9.8l.4-41l.3 .6l.4 37.7l.4-8.5l.3 3.2l.4-12.7l.4 4.2l.3-10.1l.4 14.5l.4-8.1l.4 .9l.3 6.6l.4-11.3l.4 33.5l.3-24.4l.4-9.2l.4-6.2l.3-15.2l.4 33.9l.4 26.1l.4 6l.3-8.8l.4 9.3l.4-19.1l.3-13.2l.4-32.8l.4 23.2l.3-26.8l.4 1.3l.4 .8l.3 .3l.4 3.6l.4 34.9l.4-22.2l.3 19.5l.4-25.7l.4 33.1l.3-19.7l.4 1.2l.4 9.9l.3 23.4l.4 6.2l.4-46.4l.4 15l.3-10.9l.4-6.6l.4 17.1l.3 11.5l.4 1.2l.4-2.5l.3 19.6l.4-33.2l.4 3.2l.3 18.3l.4 22.5l.4-30.3l.4-8.2l.3 18.7l.4 7l.4-21.5l.3-1l.4-.7l.4-36.3l.3 34.4l.4-28.7l.4 1l.4 19.5l.3 21.8l.4-20l.4-12.6l.3 15.2l.4 20.1l.4-31.9l.3 18.7l.4 2.4l.4-32.8l.3-71.1l.4 92.5l.4-37l.4 13.6l.3 17.7l.4-12.5l.4-17.8l.3 27l.4 14.5l.4-18.8l.3 49.1l.4-37l.4-14l.4-13.1l.3 14.6l.4-1.7l.4-4l.3 9.1l.4 .6l.4-.7l.3 9.9l.4-17.6l.4 19.6l.3 1.6l.4 7.7l.4-17.4l.4 22l.3-10.8l.4 7l.4 23.8l.3 13.6l.4 3l.4 17.8l.3-8l.4-3.2l.4 11.8l.4-11.9l.3-1.8l.4-44.9l.4 1.2l.3-16.3l.4 10.1l.4 13.4l.3 25l.4-33.6l.4-5.5l.4-40.4l.3-24.4l.4 4.2l.4 4.1l.3 42.5l.4-6.8l.4 12.8l.3 9.8l.4 44.8l.4-40l.3 36.7l.4-42.3l.4 13.3l.4 8.3l.3-1.1l.4 5.6l.4-26.1l.3 .4l.4-6l.4 21.5l.3-50.9l.4 32.7l.4 20.1l.4 15.3l.3-6.5l.4 3.6l.4-37l.3 3.2l.4 9l.4 .5l.3 5l.4 6l.4 31.5l.3-40.6l.4-.5l.4-8.3l.4-8.9l.3 28.3l.4 9.6l.4-.2l.3-13.9l.4 33.9l.4-16.2l.3 19.3l.4 2.3l.4 19l.4-4.7l.3-20.3l.4 .5l.4-6l.3-13.3l.4 21.5l.4-8.5l.3-14.5l.4 .3l.4 13.4l.3-16.5l.4-7.4l.4-28.5l.4 33.1l.3 6.3l.4-37.2l.4 37.4l.3 8.5l.4-13.1l.4 14.1l.3 3.3l.4-23l.4-14.3l.4 10l.3-11.3l.4 29l.4-2.5l.3 4.4l.4-7.6l.4 3.5l.3 13.1l.4 2.5l.4 16.7l.3-25.5l.4 6.7l.4 14.1l.4-7.7l.3-7.8l.4-6.9l.4 23.2l.3-4.7l.4 9.9l.4-8.2l.3-17.1l.4 25.7l.4-10.9l.4 25.8l.3 17.3l.4-21l.4-14.1l.3-11.2l.4 10.9l.4-.5l.3-13.5l.4-8l.4 24.5l.4-7l.3-19.4l.4 40.1l.4-34.6l.3 11.2l.4-19.9l.4-6l.3 11.8l.4-10.8l.4 20.6l.3-24.1l.4 33.9l.4 14.5l.4 .6l.3-4l.4-15.4l.4 24.7l.3-5.9l.4 4.2l.4 13.8l.3-7.4l.4-1.3l.4-12.2l.4-14.8l.3-20.8l.4 10.6l.4 17.2l.3 9.7l.4-21l.4-5.2l.3-8.3l.4 23.8l.4-12l.3-11l.4-5.9l.4 31.2l.4-37.8l.3 16.8l.4 19.2l.4-10l.3 12.6l.4-14.2l.4 17.2l.3 21.8l.4 1.6l.4 12l.4-31.2l.3 18.9l.4-11.8l.4 1.3l.3 22.7l.4 1.9l.4-16.2l.3-7.6l.4 7.2l.4-20.8l.3 39.5l.4-21.3l.4-11.2l.4 6.6l.3-1.2l.4-18.4l.4 26.9l.3-37.5l.4 7.4l.4-.5l.3 12.6l.4-7.8l.4-20l.4 .6l.3-31.6l.4 26.1l.4 20.9l.3-7.1l.4 21.4l.4 14.7l.3-16.7l.4-31.7l.4-10.5l.3-6.2l.4 34.1l.4 18.9l.4 21.2l.3 14.9l.4-52.2l.4 13.7l.3-16.3l.4 26.1l.4 6.2l.3 6.2l.4-29.6l.4 37.3l.4 6l.3-3.1l.4 16.1l.4-5.4l.3 5.3l.4-5.3l.4 5.1l.3-6.5l.4-32.6l.4-12.5l.4 2l.3-12.6l.4-68.7l.4 23.3l.3 0l.4 0l.4 31.9l.3 24.2l.4-9.9l.4-6.2l.3-23.5l.4 12.4l.4 5.9l.4 11.2l.3 4.7l.4 29l.4-50.4l.3-6.3l.4 4l.4 11.5l.3 19.9l.4-4l.4 36.1l.4 .5l.3 6.6l.4-5.3l.4-11l.3 8.7l.4-27.9l.4-14.2l.3 18l.4-25.6l.4 15.5l.3-15.1l.4 13l.4 19.5l.4-1.5l.3-8.8l.4 15.4l.4-30.3l.3-.2l.4 .3l.4 11.6l.3 8.4l.4-24.4l.4 2.9l.4 9.3l.3-18.1l.4-25.3l.4 8.2l.3 2.8l.4 10.9l.4 20.1l.3-37.9l.4 12.2l.4-6.5l.3 27.4l.4-16.6l.4 9.9l.4 6.2l.3-1.5l.4-7.1l.4 23l.3-34.6l.4 27.2l.4-14.8l.3 10.5l.4 11.7l.4-12.2l.4 26.9l.3-21.9l.4 14.9l.4 2.9l.3 8.4l.4-23.7l.4 3.1l.3-1.5l.4 2.8l.4-4.4l.4 14.6l.3-37l.4 12.7l.4 10l.3-33.9l.4 28.8l.4-14.6l.3 14.4l.4-7.4l.4 6.3l.3-6.4l.4-7.9l.4-.8l.4 0l.3 14.3l.4-16.4l.4 12.1l.3-15.9l.4-21l.4 5.7l.3 8.7l.4 24.1l.4 7.8l.4-16.2l.3 8l.4 9.1l.4-25.3l.3 2.7l.4-9.6l.4-31.9l.3 8.4l.4 13.9l.4 14.1l.3 24l.4 1.1l.4 19.4l.4-28.2l.3 22.6l.4 2.2l.4-19.1l.3-7.2l.4 35l.4-6.9l.3 .6l.4-24.3l.4 2l.4-35.3l.3 12l.4-8.4l.4 6.4l.3-14.4l.4-5.3l.4-13.9l.3-11l.4 35.2l.4 6.4l.3-21.3l.4 19.2l.4-18.1l.4-24.1l.3-33.1l.4-6.3l.4 7.1l.3 45.2l.4 1.9l.4 12l.3-23.6l.4 0l.4-2.3l.4 47.6l.3 17.2l.4-25.9l.4 23.1l.3-18.2l.4 17.1l.4-29l.3-25.9l.4 36.8l.4 2.5l.3 22l.4-54.9l.4 28.6l.4 4.6l.3-95.5l.4 65.7l.4 17l.3-13.7l.4 15.9l.4-8.5l.3-22.1l.4 62l.4-17.2l.4-38.4l.3-3.4l.4 13l.4-7.1l.3 22.7l.4-20.1l.4 24.1l.3-26.7l.4 14.5l.4 20.6l.4-4.4l.3 19.7l.4-10.7l.4-23.8l.3 9.7l.4-23.2l.4 37.3l.3 7.1l.4-41.3l.4 9.3l.3-24.8l.4 7.5l.4-14.1l.4 23.5l.3 42.5l.4-2.5l.4 27.5l.3 .6l.4 11.4l.4-8.2l.3-27.3l.4 1.4l.4 12.7l.4-17.2l.3-6.5l.4 13.3l.4-4l.3 11.2l.4 10.7l.4 8.8l.3 22.5l.4-11.5l.4-20.8l.3-23.6l.4 9.9l.4-8.1l.4-14.5l.3 18.7l.4 25.1l.4-17.4l.3-13.6l.4 25.7l.4-3.9l.3-13.1l.4-21l.4 14.2l.4 12.8l.3 7.1l.4 10.9l.4-3.9l.3 9.7l.4-12.8l.4 29.6l.3-15.5l.4 7.4l.4-19.3l.3 3.8l.4-3.3l.4-16.9l.4 1.2l.3 2.8l.4 9l.4-23.6l.3 19.2l.4-7.2l.4 10.2l.3 .5l.4 10.8l.4 5l.4-7.3l.3 9.3l.4-13.6l.4 5.7l.3-20.6l.4-3.5l.4 10l.3-3.1l.4-2l.4 .4l.3 3.2l.4 11l.4 6.5l.4 1.7l.3 28.2l.4-20.9l.4 16.8l.3-19.7l.4 6l.4-16.1l.3 4.1l.4 3.5l.4 11.3l.4-2.9l.3 11.6l.4-16.6l.4 9.4l.3-4.5l.4 3.3l.4 10l.3-7.5l.4-18l.4 13.4l.4 2.5l.3-9.3l.4 16.7l.4-24.7l.3 3l.4 4.3l.4-3.7l.3-1.7l.4 9l.4-6.4l.3-13.7l.4 15.4l.4 .1l.4-14.5l.3 5.3l.4 9.9l.4 6.6l.3-10.9l.4-4.1l.4 4.4l.3-.2l.4-3.3l.4 8.9l.4 5.3l.3-11.5l.4-2l.4 5.7l.3-7.5l.4 11.1l.4-6.6l.3 2.1l.4 4l.4-1.3l.3 12.2l.4 .9l.4 3.8l.4-.1l.3-2.2l.4-9.9l.4-8l.3 2l.4-3.6l.4-8.6l.3 3.6l.4-9.1l.4-11.9l.4 1.7l.3 20.4l.4 10l.4 14.3l.3 4.8l.4-2l.4-10.1l.3 3l.4 .1l.4 .8l.3 5.5l.4-9.2l.4 15.2l.4-32.5l.3-16.4l.4-8.1l.4 6.7l.3 .3l.4-3.4l.4 3.5l.3 8.6l.4-6.7l.4 11.5l.4 4.5l.3 1l.4 3.1l.4 10.4l.3-2.5l.4 7.2l.4-13.6l.3 2.3l.4 6.1l.4 9l.3-10.1l.4 5.1l.4-12.1l.4 7.5l.3-11.7l.4 10.3l.4 13.1l.3-25.6l.4 2l.4-.9l.3 1.4l.4-7.1l.4 4.5l.4-18.3l.3 10.8l.4-.8l.4-4.8l.3 15.2l.4-14.2l.4 14.6l.3-1.6l.4 3.1l.4-1.5l.4-4.7l.3 21.9l.4-29.2l.4 4.8l.3-5.2l.4-14.1l.4 16.1l.3 7.3l.4-10.3l.4-9.1l.3 13.6l.4-2.8l.4 1l.4-4.1l.3 7.4l.4-5.7l.4-6.6l.3 16.8l.4-12.9l.4-6.9l.3-5.9l.4 39.6l.4-31.6l.4 20.1l.3-1.8l.4 15.5l.4 6.7l.3-23.2l.4 6.2l.4-.4l.3-8.9l.4 14.1l.4-10.2l.3-11.8l.4 15.9l.4 .5l.4-3.5l.3-10l.4-5.2l.4 17.8l.3-6l.4-10.9l.4 11.9l.3-27.3l.4 11.9l.4-36.1l.4 36.1l.3-27.8l.4 17.6l.4 5.1l.3 5.7l.4 5.3l.4-7.9l.3 17.4l.4-19.7l.4 2.3l.3-3.6l.4 6.9l.4-5.5l.4 19.2l.3-18.8l.4 34.6l.4-76.5l.3 6.1l.4 13.4l.4-4l.3-5.8l.4 17.4l.4-9.6l.4 6l.3-9.9l.4 22.8l.4 10.2l.3 8.1l.4 17.9l.4-13.7l.3-2.7l.4-10.8l.4 22.6l.3-4l.4-33.7l.4 4.7l.4 10.8l.3-.8l.4-1.5l.4-.5l.3 .5l.4-9.5l.4-7.8l.3-1.6l.4 9.5l.4 15.6l.4-1l.3 0l.4 6.9l.4-4.3l.3-3.9l.4 7.5l.4-6.5l.3-1.2l.4 11.1l.4-12.5l.4 3.5l.3 19.5l.4 .8l.4-5.4l.3 17.8l.4-14.5l.4 19.1l.3 5.5l.4-20.9l.4 11l.3 14.5l.4-2l.4-8.7l.4-3.8l.3-10.9l.4-.8l.4-3.2l.3 4.6l.4-11.1l.4-1.3l.3 .4l.4-13.6l.4 11.9l.4 7.5l.3-6.9l.4 9l.4 0l.3-.9l.4-6.6l.4-10.5l.3-11.6l.4 17.2l.4 3.9l.3-2.6l.4 6.1l.4-4.4l.4 15l.3 9.6l.4 2.1l.4 3.2l.3-8.9l.4 5.1l.4-1.4l.3-10.6l.4-9.5l.4-12.4l.4-1.2l.3 2.2l.4 7.1l.4 21.1l.3-4.6l.4 1.4l.4 11.9l.3-7.6l.4-6.5l.4-9.7l.3-1.5l.4-5.5l.4 .8l.4 6l.3-1.4l.4-2.7l.4 9l.3 8.1l.4-18.3l.4-3.5l.3-1.8l.4-1l.4 .2l.4-.1l.3-8.6l.4 19.2l.4-4.7l.3 20.6l.4 3.8l.4-10.9l.3 4l.4-9.9l.4 17l.4 1.9l.3 1.4l.4 2.9l.4-11.3l.3 4.4l.4-21.8l.4 15.1l.3-9.5l.4-6.6l.4-3.1l.3 12.7l.4-9.7l.4 6.3l.4-14.8l.3-10.3l.4 15.1l.4 2.2l.3 14.9l.4 13.6l.4 2.6l.3-3.3l.4-4.7l.4-13.9l.4-10.7l.3 2.6l.4 13l.4 5.5l.3-1.3l.4 4.7l.4 2.2l.3-12.7l.4 .3l.4 3.7l.3-5.2l.4 2.1l.4 6.9l.4-.2l.3-9.7l.4 7.9l.4-1.2l.3-4.6l.4-12.1l.4 25.1l.3-17.1l.4 1l.4 12l.4-3.3l.3 8.2l.4-7.1l.4-4.5l.3 2.5l.4-3l.4-4.2l.3 7.2l.4 0l.4 5.8l.3 2.7l.4-4.6l.4-13l.4 16.1l.3-4.7l.4-7.4l.4-3.5l.3 5.2l.4-1.1l.4 6.2l.3-.1l.4-9.2l.4-2.2l.4-1.4l.3 7l.4-6.5l.4 5.9l.3 8.2l.4-6.2l.4 14.4l.3 4.8l.4-2.8l.4-4.4l.3 7.2l.4-9.5l.4-3.7l.4 3l.3-11.3l.4 4l.4-7.5l.3 2.2l.4 17.9l.4 9.9l.3 3.4l.4-18.2l.4 4.8l.4-.1l.3-8.8l.4-10.2l.4 11.7l.3-11.3l.4 15.3l.4-15.2l.3 6.9l.4-2.2l.4-14.9l.4-11.9l.3 7.5l.4 5.9l.4-20.5l.3 10l.4 10.4l.4-3.3l.3 6.1l.4-9.5l.4 16.3l.3-6.8l.4-4l.4-2.7l.4-.1l.3 15.7l.4 4.5l.4 6.8l.3-.8l.4-2l.4 4.9l.3-10.8l.4-4.4l.4-4.8l.4-6.1l.3 3.5l.4 7.6l.4-5l.3-6.2l.4 .1l.4 6.4l.3-9.1l.4-2.5l.4 22.7l.3-16.5l.4-5l.4 14.1l.4 3.4l.3-17.5l.4 8l.4-3.4l.3 3.3l.4-25.8l.4 15.8l.3-1.5l.4-4.8l.4-21.5l.4 13.1l.3 9.7l.4-2.5l.4 15.7l.3 12.8l.4 10.7l.4-13.3l.3 3.8l.4-8.4l.4-6.4l.3 12.2l.4-14.6l.4-15.8l.4 9.9l.3-10l.4 6.6l.4 9.7l.3 25.8l.4-28.6l.4 16.9l.3-3.8l.4-.8l.4-18.5l.4 8.4l.3-16.4l.4 12.7l.4-12.2l.3-1.2l.4-18.8l.4 26l.3-29.1l.4 39.3l.4-10.5l.3 7l.4-22l.4-8.6l.4 0l.3 20.1l.4 6.7l.4 7.4l.3-57.7l.4 51.3l.4-1.6l.3-2.9l.4-15.7l.4 4.1l.4-8.2l.3 20.4l.4-5.7l.4 8.1l.3-.5l.4 13.8l.4 12l.3 9.8l.4-14.7l.4-1.7l.4-11.6l.3-9.8l.4 7.7l.4 4.5l.3-9.9l.4 10.5l.4-14.4l.3 30l.4-30.2l.4 26l.3-21.3l.4-.2l.4-2.2l.4-1.9l.3 14.3l.4 11.7l.4-5.3l.3 8l.4 4.6l.4-16.4l.3-6.9l.4-18.5l.4-26.4l.4 .4l.3 .4l.4 2.5l.4 12.5l.3 3.1l.4 41.6l.4-5l.3-12.4l.4 11.3l.4-6.2l.3 7.1l.4 12.6l.4-14l.4-4.9l.3-17.8l.4 17.8l.4-12.1l.3-8.5l.4 4.9l.4-4l.3-3l.4 8.3l.4 15.8l.4-9.7l.3 16.6l.4 .8l.4-8.7l.3 9.2l.4-13.7l.4 7.9l.3 2.2l.4 13.6l.4-19.7l.3 5.7l.4-.1l.4-5.8l.4 1.8l.3-3.8l.4-2.1l.4 2.1l.3-1.4l.4-9.3l.4 5.9l.3 2.2l.4-8.3l.4 8.1l.4 3.7l.3-13.3l.4-6.1l.4 11.3l.3 8.2l.4-11.5l.4 16.6l.3-9.9l.4 6l.4 10.2l.3-17.1l.4 9.5l.4-12.5l.4-7.2l.3 13.9l.4 3.9l.4 2.3l.3-4.9l.4-4.3l.4 7.9l.3-3l.4-10.6l.4 22.8l.4-11.1l.3 12.3l.4-7l.4 2.7l.3-.4l.4-12.9l.4 13.5l.3-8.2l.4 11l.4 .8l.4 7.7l.3-6.2l.4 1l.4-6.5l.3-8.8l.4-.6l.4 2.7l.3-1.6l.4-.6l.4 .5l.3 .7l.4-2.7l.4 2.2l.4 6.9l.3-10.6l.4 6.5l.4-3.2l.3 9.4l.4-1.4l.4-2.3l.3-.2l.4-1.7l.4 2l.4 3.8l.3 3.4l.4-.5l.4 4.5l.3-7.1l.4-4.3l.4 3.7l.3-8.3l.4 4.3l.4-1.1l.3 7.1l.4-5.2l.4 9.7l.4-11.1l.3 2.6l.4-4.2l.4 1.7l.3-4.9l.4 2.7l.4 7.1l.3-7.4l.4-3.6l.4 10.3l.4-4.8l.3 4.5l.4-2.5l.4 4.9l.3 1.8l.4-2.7l.4-.5l.3-.9l.4-5.9l.4-8.7l.3 2.9l.4 .7l.4 10.5l.4 2l.3-8l.4 15.6l.4-11.9l.3 2.1l.4-11.9l.4 9l.3-1.7l.4 1.6l.4 2.6l.4 4l.3 2.6l.4 .8l.4-2.9l.3-1.2l.4-10.7l.4 .2l.3-2.8l.4-1.2l.4 3l.3 3.2l.4 1.8l.4 2.1l.4-1.5l.3-2.4l.4 6.9l.4 2.2l.3-4.5l.4 7.6l.4-.3l.3 7.2l.4-5l.4 1.3l.4-1.9l.3-5.4l.4 6.4l.4-6.8l.3-8l.4-3.1l.4-3.7l.3 5.8l.4-5l.4 3.4l.4 8.7l.3-11.2l.4 6.1l.4 4.8l.3-7l.4 4.6l.4 3.3l.3-4.3l.4 7.1l.4 3.5l.3-8.6l.4 2.5l.4-.8l.4 9l.3-14.2l.4 7l.4 10.1l.3-13.8l.4-2.8l.4 5l.3 0l.4-3.9l.4-2.9l.4-3.6l.3-11.6l.4 13l.4 8.2l.3-8.1" stroke="#0000ff"/>
<path d="M218.7 1900.6l.4-.8l.3-6.5l.4-3.9l.4 4l.3-.9l.4-.3l.4 9.4l.3 4.5l.4 3.5l.4-9.4l.4-2.3l.3-6.4l.4 1.8l.4-5.8l.3 11.5l.4 3.2l.4 8l.3-5.7l.4-1.2l.4-.7l.3-5.2l.4-1.1l.4 4.2l.4 4.6l.3 4.9l.4 2.9l.4-1.9l.3-1.3l.4 1.6l.4 2.1l.3 2.8l.4-2l.4-7l.4-2.9l.3 2.2l.4-.2l.4-.2l.3 1.8l.4 2l.4 8.1l.3-3.8l.4 7.6l.4-1.2l.3-5.9l.4-8.1l.4-10.8l.4-14.3l.3-3.9l.4 1.5l.4-2.8l.3 .7l.4 3.2l.4 1.5l.3-3.5l.4 1.6l.4 4.5l.4-.7l.3 2.4l.4 8.5l.4 5.6l.3-4.3l.4 5.9l.4-2.5l.3 9l.4-10.9l.4 6l.3-.8l.4 2.5l.4 3.8l.4 4.5l.3 .4l.4-2.8l.4-2.9l.3 .2l.4-2.9l.4 5.1l.3-2.1l.4 2l.4-4.4l.4-5l.3 5.9l.4-10l.4-2.2l.3-2.1l.4 11.1l.4-7.5l.3-4.6l.4 4.1l.4 7.6l.3-.2l.4-4.3l.4-1.2l.4 .6l.3-11.5l.4-4.5l.4-5.7l.3-5l.4 7.3l.4 12.5l.3-1.5l.4-2.5l.4-5.1l.4-1.7l.3-11l.4-6.6l.4-8.9l.3 .7l.4 6.6l.4-1.2l.3-5l.4-1.1l.4-.8l.4 2.2l.3-6.2l.4 10.5l.4-8.2l.3 17.3l.4 7.6l.4 3.2l.3 5.8l.4-46.7l.4 53.7l.3-3.6l.4 2.3l.4 .8l.4-3.1l.3 8.1l.4 4l.4-1.6l.3-13l.4 5.7l.4-25.4l.3 7.5l.4-2.1l.4 3l.4 4.2l.3-9.2l.4-2l.4-.8l.3 9.9l.4 14.6l.4 1.1l.3-.5l.4 2l.4-7.6l.3-1.9l.4-.8l.4-4.4l.4-3.6l.3 7.5l.4-8.1l.4 3.1l.3 2.6l.4-6.6l.4 .3l.3-2.2l.4-.4l.4 .5l.4 2.2l.3 11.2l.4-2.4l.4-5.2l.3 5.3l.4 5.1l.4 9.3l.3 .7l.4 6.2l.4-2l.3 7.1l.4 2.5l.4-4.9l.4 8.7l.3-2.4l.4 4.2l.4 .2l.3 3.8l.4-4.7l.4-8.2l.3-8.8l.4-.5l.4-10.8l.4-5.2l.3 1.4l.4-1.8l.4 1.2l.3-2.3l.4 1.8l.4 5.6l.3 2l.4 5.9l.4-2.8l.3 4.4l.4-.9l.4-.1l.4-2l.3 3.1l.4 2.8l.4-.4l.3 1.7l.4-.6l.4-.9l.3-.1l.4 4.2l.4 2l.4-1l.3 5.8l.4 .6l.4 .2l.3-4.1l.4-5.7l.4-1.4l.3-5.1l.4-3.9l.4 6.1l.4-.9l.3 3.5l.4-3.1l.4 1.8l.3 .6l.4 .5l.4 .4l.3 .4l.4 1.5l.4-2l.3 8.9l.4 .9l.4-.7l.4 1.4l.3-1.4l.4-4.6l.4-7.6l.3-5.5l.4-11.2l.4-5.1l.3 4.6l.4 8l.4 2.3l.4 9.1l.3 2.4l.4 3.9l.4-2.7l.3 3.2l.4-1.9l.4 7l.3-10.4l.4-.9l.4-7.6l.3 1.7l.4 .2l.4-2.5l.4 3.4l.3 4.8l.4 6.7l.4 1.4l.3-2.6l.4-3.4l.4-.5l.3 4.8l.4 1.3l.4 10l.4 .8l.3-2.9l.4-1.2l.4-7.1l.3-3.9l.4-8l.4-.4l.3-9.9l.4 2.1l.4-.1l.3 7.6l.4 11.1l.4 1.2l.4-5.3l.3 1.1l.4-3.2l.4 3.2l.3-3.4l.4 2.9l.4-4.7l.3 1.3l.4 1l.4-4.5l.4-5.8l.3 10.3l.4 6.3l.4 1.1l.3-3.9l.4-6.8l.4-7.9l.3 3l.4-2.8l.4 2.1l.4 .6l.3 12.4l.4 4.9l.4 .3l.3-8.1l.4 3.4l.4 6.8l.3 5l.4 6.7l.4-7.4l.3 5.8l.4-.1l.4 7.2l.4-1.5l.3-7.4l.4-14.2l.4-11.1l.3-6.8l.4-2.7l.4 10l.3 5.5l.4 1.8l.4 5.3l.4-4.7l.3-2.5l.4-1.8l.4 9.8l.3 5.2l.4-.8l.4-5l.3-5.5l.4-1.1l.4 .5l.3-10.2l.4 2.4l.4-5.3l.4 10.4l.3 1l.4 5.4l.4-2l.3-5l.4-5.7l.4 4.1l.3 5.2l.4 6.5l.4 1.6l.4-1.8l.3 5l.4-2.5l.4-2l.3-8.5l.4-3.1l.4-3.5l.3 3.9l.4 2.2l.4 9.9l.3-3.3l.4 4.8l.4-4.4l.4-4.4l.3 1.9l.4-3.3l.4 1.5l.3 2l.4 10.1l.4 7.8l.3 3.9l.4 5.9l.4-3.5l.4-1.4l.3-1.9l.4-2.8l.4 .7l.3-5.4l.4 2.9l.4-6.2l.3 .8l.4-1.3l.4 .2l.3 4l.4-8l.4 4.7l.4-2.2l.3-3.4l.4-3.4l.4 2.5l.3 6.9l.4 14.3l.4 5l.3 3.8l.4-5.4l.4-2.4l.4 2.8l.3-.3l.4 4.3l.4-1.2l.3 .2l.4-.4l.4-6.3l.3 3l.4-2.9l.4 .3l.4-1.7l.3-6.4l.4 1.4l.4-1.7l.3 5.9l.4-5.4l.4-.5l.3-2.7l.4 .2l.4 4.2l.3 .5l.4 3.7l.4-.4l.4-2.6l.3 3.6l.4-3.4l.4 3.1l.3 1l.4-1.1l.4 2.8l.3 3.2l.4-1.5l.4 2l.4-.5l.3 2.8l.4-6.4l.4 2.9l.3-1.6l.4-.3l.4-2.8l.3-7.3l.4-4l.4-3l.3 2.2l.4 3.8l.4 1.6l.4 6l.3 5l.4 8l.4-1.2l.3-.3l.4 3l.4 1l.3-1.6l.4 1.8l.4-6.1l.4 1.8l.3-3l.4-4l.4 1.3l.3 .9l.4-1.2l.4-7.6l.3 5.1l.4-2.4l.4 3.1l.3 1.2l.4 2.1l.4 5.1l.4-1.2l.3-2.3l.4-3.3l.4-3.7l.3 .9l.4 5.5l.4-2.9l.3-4l.4-6.9l.4 .7l.4 4.2l.3 4l.4 3.4l.4 3.2l.3-3.1l.4-.7l.4 2.4l.3-6.2l.4 1l.4-2.6l.3 1.9l.4-1l.4 3.7l.4-.7l.3 2.2l.4-5l.4 .6l.3-4.1l.4-1.6l.4-3l.3-2.7l.4 1.8l.4 3.3l.4 11.9l.3-2.3l.4 2l.4-6.3l.3 1.6l.4-.7l.4-5.3l.3-4.5l.4-1.5l.4-1.8l.4 2.1l.3-.8l.4 2l.4 7.6l.3-6.2l.4 2l.4-7.3l.3-.5l.4-5.6l.4 1.8l.3 .4l.4 2.8l.4 2.6l.4 6.2l.3-1.6l.4 2.3l.4-3.7l.3 4.8l.4-2l.4-1.4l.3-1.7l.4 2.6l.4-5.1l.4 4.5l.3-1.6l.4-6.5l.4 4.3l.3 2.3l.4 1l.4-10.6l.3 3.9l.4-1.1l.4-36.2l.3 36.2l.4-5.5l.4 2.5l.4 3l.3 .4l.4 1.4l.4 2.3l.3-.6l.4-5.9l.4-3.2l.3-8.6l.4 10.3l.4-1.1l.4 3.3l.3-2l.4-.8l.4 3.6l.3-1.8l.4-5.2l.4-8l.3-5.8l.4 6.7l.4 3.7l.3 6.4l.4-8.2l.4 10.3l.4 7l.3 2.8l.4 .1l.4-1.9l.3-3.4l.4-2.7l.4-3.2l.3 4l.4 3.6l.4 3.7l.4-1.8l.3 3.6l.4 .9l.4 10.1l.3-.7l.4-7l.4-6.4l.3-4.7l.4 3.6l.4 1.5l.3 1.4l.4-1.3l.4 1l.4 5.5l.3-.1l.4-2.6l.4 6.7l.3-3.5l.4-5.1l.4-2.6l.3 4l.4-2.1l.4 .7l.4 5.2l.3-1.8l.4 4.2l.4 .8l.3 1.2l.4-1.6l.4-5.2l.3-3.7l.4-2.9l.4-2l.4-4.6l.3 .3l.4 4.8l.4 1.3l.3 5.5l.4-2.7l.4 1.6l.3-2.8l.4-1l.4 .3l.3 .5l.4 4.7l.4 5.5l.4 1.4l.3-.3l.4 1.9l.4 1.1l.3-.2l.4-4.7l.4 1.8l.3-1.8l.4 6.9l.4 3.2l.4 .7l.3-.2l.4-4.1l.4-1.8l.3-3.1l.4-1.5l.4-2l.3 .4l.4 3.2l.4-1l.3 .8l.4 1.8l.4 2l.4 1.5l.3-3.3l.4 2.4l.4-2.9l.3 3.6l.4-3.5l.4 1.5l.3 2.1l.4-.5l.4-.6l.4 2.3l.3-3.1l.4 3.3l.4-2l.3 1.5l.4 1l.4 .8l.3 1l.4-2.4l.4-2.7l.3-1.6l.4-.7l.4 .7l.4-5l.3 1.7l.4 4.4l.4-1.7l.3-.4l.4-6.6l.4 .5l.3-1.3l.4 5.9l.4 1.5l.4 6.1l.3 1.7l.4 0l.4-.8l.3-.4l.4 2.4l.4 .3l.3-3.9l.4 2.2l.4-2.9l.3 1.2l.4-2.2l.4 2l.4-1.1l.3 0l.4-.2l.4-2.8l.3-1.4l.4-4l.4-1.5l.3-2l.4 .3l.4-3.5l.4-2.9l.3-2.6l.4-2.6l.4-.3l.3 .2l.4 6.2l.4 4.4l.3 7.2l.4-.8l.4-.8l.4 1.5l.3-4.1l.4 2.6l.4-.5l.3 1.3l.4 1.3l.4-4.4l.3 2.1l.4-4.5l.4-2.3l.3-3.6l.4-.7l.4-3.1l.4-1.4l.3 4.5l.4 4.9l.4 2.3l.3-6.5l.4 0l.4-1.7l.3-4.3l.4-17.7l.4 17.4l.4 4.7l.3 4.5l.4-1.8l.4 5.4l.3 5.4l.4 .4l.4 1l.3-6.4l.4 7.4l.4-4.1l.3-3l.4-3.9l.4-8.2l.4-1l.3-4.3l.4 10.6l.4 .2l.3 1.1l.4-1.6l.4 1.1l.3-.1l.4 1.8l.4 1.6l.4-4.3l.3-1.1l.4-2l.4 6.6l.3-3.1l.4 .6l.4-.3l.3 3.4l.4 3.3l.4-2.7l.3-4.9l.4-2.1l.4-1.9l.4 2.9l.3-3.7l.4 6.7l.4-4.7l.3 3.5l.4-.8l.4 0l.3 5.3l.4 1l.4-5.9l.4-6l.3-1.6l.4-3.5l.4-4.2l.3-5l.4 1.5l.4 7.4l.3 6.9l.4 6.2l.4 .6l.4 10.3l.3-.6l.4-2.7l.4-4.1l.3-2.2l.4 1.2l.4 2.8l.3-1.4l.4-.8l.4-.6l.3-3.8l.4-1.5l.4 5.1l.4-4.2l.3 1.9l.4 5.9l.4 3.8l.3 3.8l.4 1.4l.4 .7l.3-11.4l.4 1.5l.4-2.9l.4-1.4l.3 1.2l.4 .9l.4-3.2l.3-4.5l.4-.7l.4-2.4l.3-2.8l.4-.9l.4 3.8l.3-1l.4-3.6l.4-.6l.4-1.8l.3-3.7l.4 1.7l.4-1.2l.3 3.2l.4 2.7l.4 6.2l.3 .8l.4 7l.4 6.8l.4-.2l.3 .4l.4-31.7l.4 25.1l.3 1.3l.4 1l.4 3l.3 1.8l.4 1.7l.4 3.5l.3-7.5l.4-1.2l.4 .6l.4-5.1l.3-3.6l.4 3.4l.4 3.2l.3-2.3l.4 4.1l.4-1.7l.3 2.1l.4 2.7l.4 .5l.4-3.5l.3 1.7l.4-5.2l.4-6.9l.3-6.3l.4-1.3l.4 3.6l.3 7.5l.4 3.8l.4 4.6l.3-4.5l.4 7.8l.4-.6l.4-2.2l.3-5.3l.4-1l.4-.7l.3-1.1l.4-1l.4 1.5l.3 .5l.4 3.2l.4-1.9l.4 6.7l.3-1.8l.4 3.9l.4-1l.3-1.9l.4 2.1l.4-4.2l.3-.8l.4-1.4l.4 1.9l.4 .4l.3 5.7l.4-1.4l.4 2.5l.3-2.4l.4-1.6l.4 4.1l.3-1.7l.4 4.1l.4-.3l.3 .4l.4-1.2l.4 .1l.4-1.4l.3-.2l.4-1l.4-3.6l.3 1l.4 6.7l.4-.5l.3 .2l.4 .3l.4 .5l.4-1.3l.3-2.8l.4 3.5l.4 0l.3-2.8l.4 4.3l.4 .5l.3 0l.4-4.3l.4 1.5l.3-3l.4 1.9l.4-.9l.4-5.7l.3 1.8l.4 .7l.4 1.8l.3-.8l.4-.2l.4-.7l.3 3.9l.4 1.1l.4 .8l.4-.5l.3 3.1l.4-2.1l.4 1.2l.3 .8l.4 .7l.4-1.6l.3-.8l.4-.4l.4 .2l.3 2.2l.4 4.1l.4 .8l.4 .7l.3-1.6l.4 .5l.4-2l.3-2.2l.4-2.2l.4-2.2l.3-1.9l.4 .5l.4 1.1l.4 3.3l.3-1.2l.4 1.2l.4 1.1l.3 .2l.4-.5l.4-.8l.3 2.6l.4 1l.4 1.6l.3 .1l.4 1.5l.4-2l.4-3l.3 .1l.4 0l.4 1l.3-2.3l.4 1.5l.4 .1l.3 .9l.4-.7l.4-1.2l.4-2.1l.3-.1l.4 2.3l.4 .5l.3 1.3l.4-4.5l.4-3.8l.3-3.2l.4 1.4l.4 .4l.4 .5l.3 2.1l.4 1.5l.4 4.2l.3 .8l.4 .6l.4 1.2l.3-.9l.4 1.7l.4 .3l.3-.2l.4 1l.4 .5l.4-2.6l.3 2l.4-1.9l.4-.4l.3-3.2l.4 1.4l.4-3.3l.3 .4l.4 .1l.4 1.9l.4-.8l.3 2.9l.4 1.5l.4 .4l.3 2.7l.4 1l.4 2.2l.3-1.2l.4 1.6l.4-3.1l.3 1.1l.4-.8l.4 .5l.4-.5l.3 .6l.4-2.8l.4-2.2l.3 0l.4-1.6l.4 1.1l.3 2.2l.4 2.4l.4-.2l.4 .5l.3-1.3l.4 1.4l.4-3.2l.3-1.6l.4-2.1l.4-.4l.3-2.3l.4-.2l.4-1.2l.3 .6l.4 .3l.4 1.4l.4-1.1l.3 3.3l.4 3.3l.4 5.4l.3 1.5l.4 2.6l.4-2l.3-1l.4-3.7l.4-1.3l.4 1.8l.3 .6l.4 .6l.4-3.9l.3-2.5l.4-3l.4-.2l.3 .3l.4 .9l.4 2.8l.3 1l.4-.8l.4 1.5l.4 3.2l.3 2.6l.4 1.5l.4 .3l.3 1.3l.4-1.1l.4 2.5l.3 .4l.4-1.4l.4-1.1l.4-.2l.3 1.1l.4-2.5l.4-.4l.3-1.5l.4-.7l.4 .5l.3 .4l.4-.9l.4-1.2l.4 1.2l.3-1.9l.4 .7l.4 1.1l.3-.3l.4 .7l.4 .5l.3-.1l.4 .2l.4-2.2l.3 .8l.4-2.4l.4-.9l.4 .6l.3-.1l.4 3l.4-.6l.3 5.4l.4-1.9l.4 1.1l.3-2.5l.4 2.9l.4 1l.4-1.3l.3-.2l.4 .5l.4 1.3l.3 1l.4 2.1l.4 .3l.3 .4l.4-2.8l.4-1.8l.3-3.9l.4-1.2l.4-2l.4 4.5l.3 2l.4 3.9l.4-.5l.3-.2l.4 2.3l.4-2.1l.3-.6l.4-.9l.4-4l.4-2.9l.3-3.3l.4 1.2l.4-.9l.3-.8l.4 .9l.4 1.2l.3 3.3l.4 .2l.4 .6l.3 3l.4-3.1l.4 2.9l.4-1.9l.3 2l.4-2.9l.4 2.3l.3 3.1l.4-2.5l.4-1.5l.3-.3l.4-.1l.4 .7l.4-1l.3 .7l.4-.6l.4-.4l.3 2.6l.4-.1l.4 .5l.3-1l.4-.1l.4 .4l.3-1.4l.4-1.9l.4-2l.4-1.5l.3-3l.4-2l.4-2.3l.3-1.5l.4-.7l.4 .2l.3 .6l.4 2.3l.4 2.7l.4 1.8l.3 .6l.4-.7l.4 1.3l.3 6.3l.4 1.1l.4-1.1l.3-.7l.4-1.1l.4 1.6l.4-2.3l.3-2.1l.4-4.1l.4 1.6l.3-.2l.4 4.2l.4-1.9l.3 3.4l.4-1.5l.4 1.5l.3-1.1l.4-2.9l.4-1.4l.4-1.2l.3 1.4l.4 3.1l.4 1.9l.3-2l.4-3.7l.4-4.7l.3-3.9l.4-1l.4 1.3l.4 .4l.3-.2l.4 1.5l.4 .6l.3 2.5l.4-.5l.4-1.5l.3-2.9l.4-2.1l.4-3.2l.3-1.4l.4 .6l.4 2.4l.4-2.5l.3 2.9l.4 2.2l.4 2.2l.3 2l.4-.3l.4-1.3l.3-1.2l.4 1.1l.4 1.7l.4 .1l.3-4.4l.4 .3l.4 .1l.3 5.9l.4 1.6l.4 2.3l.3-2.9l.4-4.5l.4-.2l.3-1.3l.4 1.9l.4-.1l.4-1.9l.3 .4l.4-4.5l.4 .6l.3 2.6l.4-1.5l.4-2.4l.3 1l.4 2.4l.4 1.9l.4-2.8l.3 .7l.4-2.7l.4 2.5l.3 2.4l.4 .1l.4 1.4l.3 1.8l.4 3.8l.4 2.2l.4 .9l.3 .9l.4 1.2l.4-.1l.3-1l.4-3.3l.4-1l.3-.5l.4-1l.4-.2l.3-3.4l.4-2.2l.4-2l.4-.7l.3 .9l.4 1l.4 4.2l.3 .8l.4 3.1l.4-.7l.3 1.8l.4-4l.4 3.5l.4-4l.3 1.9l.4-2.4l.4 5l.3-2l.4 4l.4-3l.3 3.4l.4 .1l.4 2.7l.3 .1l.4 1l.4 .8l.4 .1l.3-1l.4-2.6l.4 .5l.3-1l.4-3.1l.4-.7l.3-.9l.4-.4l.4-.1l.4-.4l.3 .7l.4 .1l.4 .1l.3-1.9l.4-.4l.4-3.8l.3 .3l.4 1l.4-1.3l.3-.6l.4 4.1l.4 4.1l.4 3.3l.3 1.8l.4 1.1l.4-.8l.3-1.5l.4 .1l.4-4.1l.3 1.5l.4-1.6l.4 .1l.4-.4l.3 2l.4 1.3l.4 5l.3 1l.4-.4l.4-.8l.3 0l.4-3.1l.4-.3l.3 3.1l.4-.6l.4-.4l.4-2.6l.3-5.4l.4-4.9l.4-3l.3-1.3l.4 2.7l.4 .8l.3 2.4l.4 4.3l.4-.2l.4 .2l.3-2.4l.4-3.3l.4 .1l.3-.9l.4 .6l.4 2.2l.3 3.5l.4 .7l.4-3.6l.4 1.8l.3-.5l.4 .2l.4 1.6l.3 4.2l.4 1.3l.4-.1l.3-2.1l.4-.4l.4-4.7l.3-2.1l.4 1.7l.4-1.7l.4 1.4l.3 1.1l.4 5.1l.4 2.4l.3-2.4l.4 .7l.4-8.1l.3-4.6l.4-2.7l.4-2.7l.4 .2l.3 .9l.4 2.1l.4 1.4l.3-1.9l.4 .2l.4-2.3l.3-.3l.4 1l.4 1.3l.3 3.7l.4-1.7l.4 1.9l.4 1.5l.3 5.3l.4 2.6l.4-.6l.3-3.7l.4-3.9l.4-1.4l.3-3.3l.4-3.6l.4-2.9l.4-3.3l.3 .6l.4 3.7l.4 2.3l.3 4.7l.4 7.6l.4-3.2l.3 .6l.4-9.2l.4 .5l.3-.3l.4 .9l.4 5.2l.4 .8l.3-3.4l.4 .5l.4-4.9l.3-1.8l.4-3.5l.4 2.9l.3-.7l.4-2.8l.4-2.5l.4-2.6l.3-2.7l.4-4.4l.4-1.9l.3-1.3l.4 1.6l.4-1l.3 7.1l.4 4.4l.4 1.2l.3 2.8l.4-.2l.4 2.2l.4-.2l.3 1.6l.4 .1l.4 3.9l.3 .2l.4 1.9l.4-4.9l.3-.9l.4-6.1l.4 .4l.4-1.6l.3 .4l.4-1.4l.4 4l.3 2.3l.4-1.1l.4-3.8l.3-4l.4-1l.4-4l.4 2.3l.3 1.5l.4 4.7l.4 .4l.3-4.1l.4-9.1l.4-8l.3-1.4l.4 2.4l.4-4.8l.3-3.9l.4-3.9l.4 1.6l.4 .9l.3 .3l.4 3.7l.4 6.4l.3 9.2l.4-.8l.4-1l.3-3.3l.4-1.1l.4 .1l.4-4.6l.3-4.2l.4-15.7l.4-9l.3 4.9l.4-1.8l.4 9.6l.3-.2l.4 1.6l.4-1.4l.3-3.7l.4 7.4l.4 2.1l.4-1.3l.3 2l.4-2.3l.4-1.7l.3-4.6l.4 2l.4-6.8l.3-.9l.4 1l.4-.2l.4 7.3l.3 5.9l.4 5.4l.4 .9l.3-9l.4 1.5l.4 1.3l.3 1.7l.4 3.8l.4 2.9l.3-4.2l.4-2.5l.4-2.9l.4 .1l.3-4.4l.4-2.6l.4-11.7l.3-1.1l.4-1.9l.4 1l.3-2.8l.4 11.4l.4 4.4l.4 6.3l.3-1.6l.4-1l.4 2.2l.3 1.2l.4 5.6l.4-.2l.3-6l.4 4.3l.4-6.3l.3 3.4l.4 3l.4-1.8l.4-6.1l.3-5.8l.4 2.6l.4 1.4l.3-1.6l.4 1.6l.4 4.2l.3 3.5l.4 1.8l.4-2.1l.4-3.1l.3 1.9l.4 .3l.4 2.9l.3-3.9l.4-1.8l.4 6.7l.3 2l.4 .2l.4 1.5l.4 1.5l.3-.3l.4-5.9l.4 1.4l.3 2l.4 .6l.4-.8l.3 2.6l.4 1.4l.4 4.2l.3 .3l.4-4l.4-5.4l.4-5.9l.3 2.2l.4 4l.4-5.7l.3 .2l.4 2l.4-1.7l.3-5.1l.4-2.7l.4-3.6l.4 7.2l.3 .6l.4 4.4l.4-4.4l.3 1.7l.4-2.8l.4-.3l.3-3.3l.4-4.2l.4 3.5l.3 2.9l.4 1.1l.4 .7l.4-6l.3-4.1l.4 4.1l.4 1.8l.3 3.6l.4-.9l.4-1.4l.3 1.6l.4 2.9l.4 5.5l.4 1.1l.3 1.8l.4-8.5l.4 4.6l.3 3.5l.4 .6l.4 7.5l.3-.1l.4-3.4l.4-8.7l.3 1.3l.4-5.6l.4-.4l.4-3.8l.3 .1l.4 6.5l.4-4.7l.3 5.3l.4-5.1l.4 4.1l.3-4l.4-5l.4-5.2l.4 1.9l.3-1.8l.4-3.4l.4 1.2l.3 2.2l.4 7.1l.4 3.1l.3-1.2l.4-2.1l.4-1.9l.3-2.6l.4-4.2l.4-6.1l.4-.4l.3-3.4l.4 1.5l.4-5l.3 10.1l.4 9.1l.4 4.5l.3 8.3l.4-3l.4-3.5l.4 .7l.3-2l.4-.4l.4-4.6l.3-3.9l.4-6.6l.4-.4l.3 3.9l.4 1.5l.4 7.3l.4-.3l.3 5.7l.4 .6l.4 2.6l.3-3.2l.4-5.1l.4-1.8l.3 1.8l.4-.7l.4 1.1l.3-1.8l.4 5.5l.4 5.4l.4 1.6l.3-4.1l.4-7.4l.4-2.3l.3 0l.4-5.1l.4-.2l.3 3.1l.4-1.4l.4-.9l.4 .3l.3 .1l.4 0l.4-.5l.3-.9l.4 .2l.4-5.5l.3 6.5l.4 .1l.4 5.1l.3 3l.4 1.9l.4-5.2l.4-2.9l.3-1.2l.4 8.7l.4-.4l.3-7.3l.4-8.6l.4-1.9l.3-.1l.4 4.6l.4 4.8l.4 7.8l.3-1.1l.4 2.4l.4-3.9l.3-2.7l.4 1.9l.4 2.4l.3-4.6l.4-.9l.4-4.3l.3-.2l.4 .4l.4-4.7l.4 1l.3 3.2l.4-2.1l.4 6l.3 2.6l.4 3.9l.4 .2l.3-5.9l.4 .3l.4 2.1l.4 1.3l.3-.4l.4 4l.4 4.3l.3-2.2l.4-5l.4-2.7l.3-2.8l.4 4.3l.4 2.4l.4 2.3l.3-.9l.4 4.9l.4-1.3l.3 4.6l.4-.2l.4 2.1l.3 2.8l.4-4.2l.4-10.5l.3-7.8l.4-2.1l.4-2.3l.4-7.8l.3-6.2l.4 4.5l.4-2.2l.3-1.7l.4 1.5l.4 2.4l.3 1.6l.4 6.8l.4 5.8l.4-3.1l.3 5.2l.4 .5l.4 1.4l.3-5.6l.4 .7l.4 2.1l.3-5.4l.4 4.7l.4 .4l.3 6.5l.4 3.3l.4 3.4l.4 1.5l.3-7.9l.4 2.9l.4 2.6l.3 .1l.4-.7l.4 1.1l.3-6.9l.4-8.8l.4-8.8l.4-8.2l.3 .6l.4 2.8l.4 3.8l.3-2.2l.4 2.8l.4 .3l.3 6l.4 1.1l.4 5.5l.3 2.3l.4 5.5l.4-.9l.4 2.5l.3 1.9l.4 .2l.4-1.7l.3-7.3l.4 3.6l.4-3.6l.3-3.8l.4-4.3l.4 7.4l.4-3.7l.3-2.8l.4-1.3l.4-3.2l.3-.6l.4-.4l.4 3.9l.3-4.7l.4-1.9l.4-4.5l.3 3l.4-1.1l.4 7.8l.4 4.6l.3-6.5l.4 4l.4 3.7l.3 .4l.4 2.1l.4-4.4l.3 .8l.4-1.2l.4-6.1l.4 .5l.3 .4l.4-2.4l.4-.6l.3-3.4l.4 3.9l.4 6.6l.3 1.5l.4 6.2l.4 4.4l.4 .4l.3-2.7l.4-4.9l.4 .2l.3 1.7l.4-1.9l.4-1.6l.3-8.1l.4-3.1l.4-10.5l.3-8.7l.4-.6l.4-.3l.4-.5l.3 5.8l.4 9.7l.4 3.1l.3-1.3l.4-6.6l.4-1.4l.3-2l.4-1.5l.4 9.4l.4-1.9l.3 2.8l.4 .4l.4-5.7l.3-6.1l.4-9.5l.4-5.9l.3 2.1l.4-1l.4 0l.3-5.1l.4-11.9l.4-4.3l.4-14.1l.3 1l.4 4.4l.4 2.3l.3-1.8l.4-10.3l.4-9.8l.3-12.4l.4-.2l.4-5.9l.4-19.4l.3 17.8l.4 7.8l.4-8.3l.3-.3l.4-15.4l.4 4.7l.3 6.6l.4-3.5l.4 .1l.3-.7l.4-3l.4 8.7l.4-.5l.3-.8l.4 .5l.4-2.1l.3-1.8l.4-2.3l.4-15.3l.3-14.4l.4-1.6l.4 3.5l.4 2.4l.3 6.6l.4 9.2l.4 .4l.3 7.3l.4 13.3l.4 5l.3 4.9l.4-15.1l.4 .4l.3 13.2l.4-7.2l.4 4.3l.4 3.8l.3 5.9l.4 4.1l.4-3.1l.3 9.7l.4 15l.4-4.7l.3-4.3l.4-15.1l.4-13.6l.4-8.5l.3-8.8l.4-4.1l.4-11.7l.3 13.9l.4-2.4l.4 19.4l.3-7.1l.4 11.7l.4 4.7l.4 8l.3-2.6l.4 0l.4 3.9l.3 7.9l.4 8.5l.4 5.5l.3 12.1l.4-1.6l.4-2.1l.3-2.1l.4 2.6l.4-12.1l.4 5.3l.3-6.6l.4 .9l.4-9.4l.3-1.1l.4-6.3l.4-3.6l.3-2.3l.4 7.5l.4-3.3l.4-4.7l.3-10.3l.4-5l.4-6.4l.3 .4l.4 6.6l.4 7.3l.3 16.1l.4 6.8l.4 2.8l.3 10.8l.4 13.5l.4-14.6l.4-6.5l.3-.5l.4-4.1l.4-6.8l.3 6.6l.4-1.2l.4 9.2l.3-5.8l.4-.8l.4 2.7l.4 4.6l.3-1.1l.4-1.8l.4 .7l.3-1.3l.4-10.5l.4-4.6l.3-5.2l.4-7.3l.4-16l.3-4.4l.4 .6l.4 1.1l.4-.5l.3 5.1l.4 15.8l.4 18.3l.3 9.2l.4 4.5l.4-9.9l.3 1.7l.4-6.2l.4-4.6l.4-6.5l.3-3.7l.4-5.3l.4-4l.3-1l.4 2.8l.4 1.5l.3 4.8l.4 5.5l.4-4.4l.3 8.7l.4 3.9l.4 10.6l.4-10.8l.3 9.9l.4 2.2l.4 5l.3-1.1l.4 1.8l.4-9.9l.3 .6l.4-11.3l.4 7.3l.4-3.1l.3-6.4l.4-19.7l.4 .2l.3-9.7l.4 2l.4-8l.3 1.5l.4 3.5l.4-6.7l.4-4.8l.3-5.6l.4-14.1l.4-2.3l.3 0l.4-.2l.4-8l.3-2.4l.4-14.6l.4 3.3l.3-7.4l.4 4.4l.4 6.2l.4 4.8l.3-6.4l.4 1.5l.4-.6l.3-1.9l.4-2.7l.4 3.1l.3 2l.4-.5l.4-.8l.4 3.7l.3-2.7l.4 7.6l.4-8.3l.3-11l.4-11.6l.4-19.6l.3 2.1l.4 2.3l.4 3.5l.3 .1l.4 4.9l.4 6.1l.4 11.9l.3-1.1l.4-3.7l.4-4.9l.3 6.4l.4-1.3l.4 7.1l.3-10.4l.4-2.1l.4-1.2l.4 5.8l.3-12.9l.4-14.6l.4-7.4l.3-24.3l.4-8.2l.4-7.1l.3-6l.4 0l.4 3.6l.3 7.5l.4 20.6l.4-9.8l.4 15.7l.3 .9l.4 10.5l.4 7.8l.3 .6l.4-.6l.4-.2l.3-.7l.4-5.9l.4-1.1l.4-7.6l.3-6.9l.4 4.3l.4 5.2l.3-25.2l.4-2.6l.4-10.1l.3-12.8l.4 51.2l.4 2.2l.3 5.4l.4-11.5l.4-3.7l.4-19.2l.3-12.7l.4-1.1l.4 2.4l.3 12.9l.4 9.7l.4-7.7l.3-18.1l.4-12.3l.4-2.9l.4 8l.3 8.7l.4 22l.4 12.3l.3 10.2l.4 13.8l.4-2.5l.3-6l.4-4.5l.4 .7l.4-3l.3 4.9l.4-4.7l.4 6.8l.3 4.7l.4 4.4l.4-5.8l.3 8.7l.4-.8l.4 8.2l.3 11.5l.4-8.1l.4 5.3l.4 0l.3-6l.4 3.3l.4-9.8l.3 .9l.4 1.3l.4-2.5l.3 13.4l.4 14.5l.4 4.8l.4 9.8l.3 2.2l.4 3.6l.4 4.5l.3 9.8l.4-3.4l.4 8.2l.3 1.4l.4-3.9l.4 1.8l.3-7l.4-16.2l.4-6.3l.4-7.5l.3 5.9l.4 7.1l.4-.7l.3 2.7l.4 6l.4-4.8l.3-2.7l.4-9.3l.4-2.6l.4 8.7l.3 8.2l.4 .5l.4 1.1l.3-1.3l.4 6l.4-.4l.3 15.1l.4 10.4l.4 .2l.3 4.9l.4-3.1l.4-4.9l.4 3.7l.3-6.1l.4-2.2l.4-1l.3 5.5l.4-9l.4-8.2l.3-9.5l.4-5.5l.4-3.7l.4 2.2l.3 2.8l.4-2.8l.4 4.8l.3 5.5l.4 7.1l.4 2.1l.3 4.6l.4 4.3l.4 2.6l.4-1.2l.3-1.4l.4 1.4l.4 7.9l.3 2.1l.4 5.4l.4 1.8l.3-3.8l.4 2.3l.4-3.6l.3 .1l.4 2.3l.4 .4l.4-1.7l.3-2.3l.4-10.2l.4-.6l.3-4.4l.4-4.4l.4 6.5l.3 .3l.4-.3l.4 4.6l.4 1.8l.3 6.3l.4-4.2l.4 1.7l.3 3.5l.4 1.9l.4 6.7l.3 3.4l.4 3.6l.4-2.2l.3 6.2l.4-18.9l.4-8.7l.4-15.2l.3-4.7l.4 5.4l.4 3.7l.3 8.6l.4-1.9l.4 1.4l.3-2.4l.4 1l.4-2.8l.4 .9l.3 .9l.4 1.5l.4-.6l.3 4.6l.4 6.8l.4 .3l.3-5.2l.4 2.6l.4 4.6l.3 1.2l.4-3.9l.4-8.7l.4-8.9l.3-4.7l.4 .7l.4 5l.3 .2l.4 8l.4-4.1l.3 4.8l.4 7.5l.4-10.2l.4-.4l.3-14.4l.4 10.7l.4 7.2l.3 5.7l.4 2.7l.4-21.7l.3-1l.4-.4l.4 1.6l.3-10.3l.4-5.8l.4 7.7l.4 4l.3 14.6l.4 5.2l.4 5l.3-2.3l.4-17.9l.4-7.2l.3 13.8l.4-4.9l.4 11l.4 10.1l.3-6.6l.4-.3l.4-16.3l.3-34.9l.4-12.3l.4 2.3l.3 7.2l.4-10l.4-1.8l.4-8.6l.3 18l.4 8.8l.4 16.2l.3 16l.4 9.7l.4 24.1l.3 7.7l.4 .6l.4-11.5l.3-11.9l.4-7.2l.4-18.9l.4-7.1l.3-16.6l.4-1.7l.4-9.9l.3 2.2l.4-3.6l.4 15.4l.3 7.2l.4-17.8l.4-22.3l.4 1.1l.3-4.1l.4 15.3l.4 .8l.3 25.5l.4-14.2l.4 3l.3 17l.4 29.3l.4 5l.3 8.5l.4 0l.4-.9l.4 23.1l.3-27.2l.4 9.8l.4-21.6l.3 .5l.4-7.9l.4-14.9l.3-.5l.4 14.7l.4-.5l.4-12.5l.3-12.3l.4-29.5l.4-11.3l.3-9.1l.4 4.7l.4-21.3l.3 9.3l.4-13.5l.4 37.3l.3-3.7l.4 16l.4 23.5l.4 1.3l.3 17.2l.4-22l.4 13.4l.3 27.6l.4-9.7l.4 7.9l.3 11.2l.4-8.4l.4-24l.4-11.9l.3-6.7l.4 2.1l.4 6.3l.3 9.2l.4-21.7l.4 10.8l.3-18.5l.4 4l.4 12.4l.3-12.4l.4 .5l.4-4.4l.4 2.8l.3-4.5l.4-7.3l.4-4.5l.3 9.8l.4 25l.4 4.6l.3 9.3l.4 7.7l.4-10.6l.4-9.5l.3-2.2l.4-18.8l.4 18.9l.3-4.4l.4 8.9l.4-3.6l.3 .7l.4-4.3l.4-9.1l.4-10.3l.3-17l.4-47.1l.4 4.2l.3 19.7l.4 0l.4-13.9l.3 17.7l.4 27l.4 18.9l.3 17.9l.4 5.3l.4-.1l.4 3.4l.3 1l.4-5.7l.4 3.8l.3-2l.4 14l.4 6.6l.3-38.2l.4-9.2l.4-8.5l.4 12.7l.3 12.1l.4-13.1l.4 .2l.3-9.3l.4-2.6l.4 23.2l.3 .8l.4 11.8l.4-5.8l.3 8l.4-4.8l.4 1.6l.4-15.2l.3 1.5l.4 4.9l.4-9.8l.3-8.1l.4 1.4l.4 7.5l.3 4.9l.4 7.8l.4-18.3l.4 4.5l.3-9.1l.4-13.7l.4-2.1l.3-4.1l.4-12.8l.4 3.6l.3 10.1l.4 11.5l.4 8.8l.3-14.2l.4-9.5l.4-.7l.4-.4l.3 7.9l.4 10.9l.4 2.9l.3-5l.4-2.7l.4-6.9l.3-18.2l.4 15.7l.4 10.7l.4 25.2l.3 29.2l.4 1.1l.4-1.8l.3-7.8l.4 3.9l.4 5.3l.3 7l.4 10.4l.4 8.9l.3-13.1l.4-32.8l.4-20.2l.4-26.2l.3-32.1l.4-2l.4 1.1l.3-1l.4 1.8l.4 .8l.3 11.1l.4 26.7l.4 33.1l.4 3l.3 18l.4-8.5l.4 24l.3 3.3l.4-9.4l.4-7.1l.3 13.7l.4-2l.4 14.5l.4-24.9l.3 7.7l.4 1.8l.4-1.8l.3 7.5l.4-9.5l.4-21.2l.3-22.8l.4-3.5l.4-25l.3 15.6l.4-12.1l.4 22l.4-25.5l.3-10.9l.4 4.4l.4-12.7l.3 14.2l.4 2.9l.4-5.3l.3-13.4l.4 9.4l.4 2.7l.4 26.7l.3 18.8l.4 29.9l.4 9.5l.3 31l.4 6.5l.4 6.9l.3-43l.4 5.5l.4-6.7l.3-21.9l.4-17.4l.4-3.8l.4 34.8l.3 4.1l.4-8.8l.4 2.6l.3-12.6l.4-16.3l.4 4.9l.3 8.5l.4-10.7l.4-26.8l.4-14.9l.3 9.2l.4-3.7l.4 27.2l.3 7.2l.4 23.1l.4 .8l.3 .8l.4-2.6l.4-23.3l.3 7.1l.4-24.6l.4 .8l.4-11.1l.3 1.2l.4-2.4l.4 6.8l.3 7.5l.4 4.8l.4 20.8l.3 9.2l.4-6.9l.4 14.2l.4-2.7l.3 7.2l.4-12.5l.4-2.9l.3-20.6l.4 9.6l.4-3.6l.3 13.1l.4-13.2l.4 11.7l.3 14.2l.4 22.4l.4 7.5l.4-3.1l.3-8.8l.4-6.6l.4-2.4l.3 5.7l.4 4.2l.4 7l.3-.8l.4 8.8l.4-18.9l.4-5.8l.3 1.8l.4 6l.4-15.2l.3-11.6l.4-18.8l.4-.9l.3-1.1l.4-1l.4 12.7l.4 11.5l.3 1.7l.4-16.5l.4-12.4l.3-4.9l.4-14.8l.4-.5l.3-8.4l.4-2.4l.4-5.2l.3 4.1l.4 .2l.4 18.3l.4 36.3l.3 21.7l.4 23.4l.4-6.8l.3 .9l.4-1.7l.4 5.4l.3-13.6l.4-1.8l.4-22.2l.4-22.7l.3-16.6l.4-12.8l.4 3.1l.3 3.1l.4-10.5l.4-14.9l.3 3.4l.4 1.3l.4 10.9l.3 12l.4 19.8l.4 5.7l.4 18.3l.3 9.2l.4 11.9l.4 4.7l.3-12.9l.4 7.3l.4-6.2l.3 1.1l.4 2.2l.4 4.2l.4 2.3l.3-13.9l.4 6.5l.4-6.1l.3-15.6l.4-23.4l.4-19.2l.3-8l.4-7.3l.4 11.7l.3 10l.4-12.5l.4-.2l.4-16.5l.3 10.2l.4-11.6l.4-8.6l.3 10.8l.4 21.3l.4 .3l.3 5.4l.4 3l.4 10.1l.4 19.6l.3-3l.4-6l.4 20.9l.3-8.3l.4 9.1l.4 .1l.3-.6l.4 12.2l.4-3.5l.4-3.9l.3-10.6l.4 .2l.4-19.1l.3-2.9l.4-2.3l.4-13.9l.3 2.1l.4-12.4l.4 6.7l.3 16.9l.4 11.2l.4 16l.4 11.7l.3 3.4l.4 17.6l.4-2.3l.3-7.5l.4-6.1l.4-8.6l.3 15.9l.4 .5l.4-7l.4-6.2l.3-20.8l.4-12.5l.4-23.4l.3-4.9l.4-2.2l.4-1.6l.3 18.9l.4-15.2l.4 8.5l.3-1.9l.4 12.4l.4 10.2l.4 19.8l.3 17.2l.4 14.9l.4-10.5l.3 4.2l.4-2.5l.4-5.5l.3-16.5l.4-4.5l.4-5.2l.4 .7l.3-1.7l.4-1.5l.4-3.1l.3 20.7l.4-9.4l.4-11.5l.3 3.2l.4 4.8l.4 2.3l.3 4l.4 11.2l.4 .4l.4-5.1l.3-11.4l.4-9l.4 5.4l.3 8.5l.4 4.1l.4-9.3l.3 11.6l.4 1.8l.4-1.2l.4-4.1l.3 4l.4-24l.4-2.3l.3-18.8l.4 7.6l.4 15.4l.3-17.5l.4-1.3l.4-10.3l.3 7.7l.4-1.7l.4 .4l.4 .1l.3 6.5l.4-4.9l.4 12l.3 4.1l.4 2.6l.4 15.3l.3-8.8l.4 3.6l.4-16l.4 12.5l.3 2.1l.4-11.3l.4-1.1l.3 7.6l.4 9.7l.4 6.4l.3-6.8l.4-5.2l.4-10.3l.4 3l.3 4l.4-17.6l.4-.4l.3-4.8l.4-13.8l.4-2l.3-19.6l.4 4.4l.4 7.3l.3 8.1l.4-2.5l.4-5.1l.4 15.2l.3-1.7l.4 9.6l.4 6.8l.3-3.7l.4-10.7l.4-4.4l.3 6.4l.4-2.6l.4 2.5l.4-.1l.3 6.2l.4 14.8l.4-15.4l.3-12.5l.4-11.2l.4-1.3l.3-11.5l.4-3l.4 1.7l.3 4l.4 24.4l.4 .7l.4-1.5l.3-3.5l.4 6.7l.4-.5l.3 4.7l.4-3.3l.4-12.4l.3 3.6l.4-7.8l.4-8.4l.4 19.9l.3 2.2l.4 7.2l.4-2l.3-10.7l.4-11.8l.4-19.9l.3-7.1l.4-4.3l.4-16.3l.3-27.1l.4-2.9l.4 23.4l.4 8.7l.3 5.6l.4 8.1l.4-16.8l.3-6.4l.4-2.6l.4 4.8l.3-10.1l.4 2.5l.4 5.8l.4 6.4l.3 10.2l.4-4.5l.4 12.2l.3 1l.4 1.6l.4 9.3l.3 11.3l.4-11.2l.4-4.2l.3-10.7l.4-8.6l.4 5.1l.4 2l.3 6.2l.4-3.6l.4 18.4l.3-16.5l.4 13.1l.4-11.6l.3-2.8l.4-11.4l.4-11.6l.4-4.6l.3-4.9l.4 8.8l.4 7.5l.3-5l.4 14l.4-13.2l.3-1l.4-9.6l.4 10.5l.4-1.6l.3 9.3l.4-4.4l.4-1.9l.3 10.3l.4-3.6l.4-4.8l.3-.4l.4-2l.4-14l.3 27.7l.4-12.6l.4 19l.4 4.9l.3-13.1l.4 5.6l.4-3.5l.3 12.4l.4-7.4l.4 3.5l.3-11.4l.4-7.2l.4-5.2l.4 3.3l.3 .4l.4-18.7l.4 18.9l.3-8.1l.4-9.2l.4-22.1l.3 6.7l.4-11.7l.4-5.8l.3 4.7l.4-4.5l.4-7.6l.4-6.5l.3 22.7l.4 21.5l.4 11l.3 2.7l.4-14.6l.4-1.5l.3-5.3l.4 15.9l.4 7.5l.4 17.9l.3 10.6l.4 .6l.4 8.9l.3-5.1l.4-7.3l.4-9.4l.3-16.3l.4-14.7l.4-8.7l.3-19.3l.4-7.3l.4 11.2l.4 .5l.3-1l.4 11.7l.4 10.4l.3-10.8l.4-6.2l.4 4.7l.3 11.2l.4 14.5l.4 7.7l.4 21.7l.3 12l.4 5.5l.4 11.5l.3-12.5l.4 6.7l.4-6.2l.3-22.5l.4-29.3l.4-6.3l.3 5.2l.4 4.5l.4-12.2l.4 17.7l.3 1.5l.4-.2l.4-11.3l.3-20.1l.4-6.9l.4 6.7l.3 11.1l.4 16.4l.4-10.4l.4-.5l.3 23.7l.4 23.7l.4-.2l.3-4.6l.4-7l.4-8.9l.3 7.3l.4 6.4l.4 21.1l.4-1.7l.3-2.1l.4 3.1l.4-26.2l.3 15.7l.4-16.6l.4 .1l.3-30.4l.4-8.1l.4-8.3l.3-24.7l.4 3.5l.4 2.5l.4 7.5l.3 38.9l.4 8.5l.4-1.9l.3-3.6l.4 8.9l.4-17.2l.3 6.1l.4-10.8l.4 18.8l.4 20.5l.3 18.1l.4 16.3l.4-1.3l.3-4.5l.4-4.6l.4-21.8l.3-1.9l.4 3.3l.4-4.4l.3 2.6l.4-14.3l.4-19.7l.4 .4l.3-26.6l.4-8.9l.4 2.1l.3-4.5l.4 18.8l.4-4.9l.3 30.4l.4 8.7l.4 32.7l.4 16.5l.3 3.6l.4-.6l.4 9.3l.3 6.2l.4 2.6l.4-21.4l.3-12.1l.4 .1l.4-1.4l.3-6l.4 9.6l.4-16l.4-6.2l.3-26.9l.4 5.5l.4 .5l.3 7.6l.4-11.6l.4-.4l.3 4.8l.4 16.9l.4 20.1l.4 23.1l.3-145.3l.4 184.3l.4-29.7l.3-.6l.4-16.2l.4 5.7l.3 8.6l.4-8.8l.4 1.9l.3-21l.4-24.1l.4 1.6l.4-10.5l.3 11.6l.4-4.9l.4 18.7l.3 1.8l.4-10.9l.4-6.2l.3 12.9l.4 16.3l.4 4.3l.4 4.6l.3-14.6l.4 15.8l.4 9.2l.3 11.1l.4 8.2l.4-16.7l.3 88.5l.4-122.3l.4-9.9l.4-13.5l.3 .4l.4-14.7l.4 .8l.3 2.6l.4 11.1l.4-10.7l.3 1.3l.4-6.4l.4 7.7l.3 9.9l.4 12.1l.4 10.4l.4 14.9l.3 21l.4 6.5l.4 .7l.3-8.1l.4 4.5l.4 17.5l.3-24.7l.4-4.8l.4-6.2l.4-.7l.3 8.6l.4-31.8l.4-10.5l.3-13.3l.4-14.3l.4-3.5l.3 3.6l.4-2l.4 9.5l.3 1.4l.4-23.4l.4-16.2l.4 7.4l.3-4.4l.4 16.3l.4-2.3l.3 .5l.4-5.9l.4 6.2l.3-2.8l.4 9l.4 22.7l.4 20.6l.3-5l.4-14.3l.4-1.8l.3-7.5l.4-4.6l.4-4l.3-7.9l.4-6.1l.4 .8l.3-35.3l.4-12.3l.4-10.6l.4 14.5l.3 4.7l.4-4.7l.4-6.5l.3 18.5l.4 9.5l.4 17.1l.3 16.9l.4 12.4l.4-8.5l.4 .1l.3-.6l.4-4.1l.4 8.1l.3 7.1l.4 14.3l.4 2l.3-10l.4 9.9l.4-.7l.4-8.4l.3 5.7l.4-4.9l.4-9.1l.3-17.6l.4-10.4l.4-26.2l.3 7.9l.4-22.7l.4-4.2l.3-13.4l.4-2.4l.4 13.1l.4 12.1l.3 29.7l.4 5.1l.4 15.7l.3 10.7l.4-1.1l.4-20.4l.3 8.7l.4 7.4l.4-9.8l.4 5l.3 7.8l.4 27.8l.4-5.4l.3-15.6l.4-30.5l.4-18.7l.3-22.6l.4-18l.4 4.9l.3 9l.4 9.3l.4-1.1l.4 10.4l.3 6.7l.4 10.5l.4 20.8l.3 13.9l.4-15.6l.4 17.2l.3-17.7l.4-1.7l.4 13.3l.4 5.5l.3-21.2l.4 13.5l.4 1.2l.3 8.6l.4-5.2l.4-15.1l.3-13.1l.4-4.5l.4-13.2l.3-16.8l.4 4l.4-16.7l.4 12.8l.3-39.3l.4 50.3l.4-17.5l.3 8.5l.4 25.5l.4 24l.3 18.4l.4 9.2l.4-11.9l.4 12.5l.3-21.5l.4 23.4l.4-29.5l.3-12l.4-.3l.4-5.5l.3 30l.4 5l.4 7.3l.3-22.4l.4-23.3l.4-25.8l.4-17.8l.3 6.2l.4 4.5l.4 8.8l.3 4l.4 26l.4 17l.3 7.2l.4 0l.4 5.5l.4 12.1l.3-4l.4 16.3l.4 21.6l.3-1.1l.4-6.2l.4-11.4l.3-10.8l.4-15.2l.4 11l.4-.2l.3-6.8l.4 15l.4-2.4l.3-18l.4-11.2l.4 .7l.3-6l.4-16l.4-11.1l.3-18.2l.4-8l.4 3.1l.4-9.7l.3-2.8l.4 5.9l.4 12.7l.3 17.1l.4 9.4l.4 14.7l.3 22.4l.4 24.2l.4-8.4l.4 11.5l.3-14.9l.4 6.5l.4-12.1l.3-24.4l.4-36.4l.4-8.2l.3 13.4l.4 35.8l.4 30.6l.3 2l.4 12.8l.4-34l.4-7.7l.3-2.4l.4-.6l.4 11.9l.3 6.4l.4 1l.4 9.1l.3-2.9l.4-11.3l.4 9.1l.4-21.3l.3-1.3l.4-14.1l.4 9.2l.3 11.3l.4 5.9l.4 10.6l.3-5.2l.4 3.8l.4-11.8l.3-11.6l.4-5.2l.4-18.8l.4 8.8l.3 7.8l.4-3.2l.4 31.5l.3 18.7l.4-3.8l.4-7.6l.3-18.7l.4-14.7l.4 2.9l.4 4.8l.3 16l.4 1.5l.4 4.4l.3 9.1l.4-7.7l.4 4.9l.3-26.8l.4 14.5l.4 5.1l.3-14.8l.4-1.7l.4 20.3l.4 37.9l.3 3.4l.4 6.8l.4-9.2l.3 10.4l.4-10.4l.4-18.5l.3 1l.4-7.8l.4-17.5l.4-4l.3-11l.4 18.5l.4-25l.3 10.6l.4-19.6l.4 4.8l.3-23.6l.4-1.3l.4 13.8l.4 21.8l.3 17.8l.4 11.3l.4-7.1l.3 29.1l.4-23l.4-2.9l.3-4.5l.4-4.8l.4-8.6l.3 5.1l.4 38.4l.4-21.1l.4 8.7l.3-12l.4 15.1l.4-3.2l.3-16.1l.4-19.7l.4-34.6l.3-5.2l.4 17.1l.4 .4l.4 22.2l.3 9.4l.4-7.7l.4 35.7l.3 8.3l.4 7.2l.4 3.7l.3 1.4l.4 30.1l.4-9.9l.3 11.8l.4-3.9l.4 2.5l.4-2l.3-9.7l.4 22.2l.4 2.2l.3 3.3l.4-3.2l.4-14.8l.3-33.4l.4-4.9l.4-24.2l.4 7.5l.3-24.2l.4-7.2l.4 3.5l.3-4.5l.4 4.4l.4 17.6l.3 36l.4 25.1l.4 3.1l.3 11.4l.4 14.9l.4 34.3l.4-15.2l.3-9.2l.4 6.7l.4-15.4l.3-7.9l.4 1l.4-15.6l.3-2.2l.4-9l.4 3.5l.4-1.8l.3-33.9l.4-2.5l.4-11.9l.3 17.6l.4 26.3l.4 .6l.3 4.3l.4-1.8l.4 6.9l.3-9.2l.4 13.6l.4-4.2l.4 13.9l.3 9.1l.4 18.8l.4 10.6l.3 8l.4-6.8l.4-12.1l.3-15.2l.4 7.8l.4 16.9l.4-8l.3-12.1l.4 12.6l.4 14.2l.3-5.2l.4-7.6l.4 10.4l.3 2.5l.4-11.7l.4-20l.4-14.9l.3 2.3l.4 12.3l.4 25.2l.3 1.3l.4-1.1l.4 4.3l.3 5.9l.4-7.2l.4-2.4l.3-4.1l.4 11.7l.4 12.5l.4-2.8l.3-7.3l.4-12.8l.4 .9l.3 5.1l.4-1l.4 5.5l.3-12.2l.4 1.9l.4-18.6l.4 11.5l.3 5.2l.4 66.3l.4-58.4l.3-11.3l.4-7.1l.4 19.3l.3 3.4l.4 6.7l.4-9.1l.3-3.7l.4-13l.4-17.1l.4 8.8l.3-9.2l.4-13.4l.4-12.9l.3-10.9l.4 22.3l.4 5.5l.3 20.2l.4 .4l.4 4.6l.4-1.2l.3 20.1l.4-9l.4-5.4l.3-74.1l.4 46.5l.4-19.7l.3 2.2l.4-6.5l.4 1.6l.3 2.8l.4-5.1l.4-5.2l.4 3.5l.3 12.5l.4-7l.4 14.2l.3-2.1l.4 17.2l.4 10.6l.3-3l.4 11.9l.4-12.4l.4 6.2l.3-11.4l.4-7l.4 4.1l.3 10.2l.4-1.6l.4 10.2l.3-22.1l.4-15.5l.4-12.5l.3 2.7l.4 5.8l.4-10.6l.4-9l.3-2l.4 5.5l.4 1.3l.3 4.7l.4 14.7l.4 8.1l.3 3.8l.4 12.6l.4-10.4l.4 7.9l.3 6.1l.4 .5l.4 11.2l.3-14.7l.4 7.4l.4-6.9l.3-2.3l.4-7.4l.4 .7l.4-4.3l.3 11.6l.4-3.5l.4-8.4l.3 2.6l.4-.5l.4 8.5l.3 2l.4 5l.4 3.2l.3-2.3l.4-8.9l.4 .8l.4 3.6l.3-7.6l.4-6.8l.4-3.9l.3 20.1l.4 13.8l.4-3.6l.3-7.1l.4-2.6l.4 5.3l.4 7.5l.3 .7l.4 4.8l.4 5.1l.3-6.1l.4-5l.4-6l.3-16.1l.4-8.1l.4-10.7l.3 4.4l.4 1.7l.4 5.1l.4-.9l.3 7.6l.4 6.4l.4 9.4l.3 4.1l.4-4.5l.4 6.3l.3-5.9l.4 5.6l.4-5.6l.4 2.3l.3 7.9l.4-7.5l.4 7.9l.3-4.5l.4-5.7l.4 6.5l.3-3l.4-1.9l.4-1.5l.3-6.5l.4 2.6l.4 6.9l.4 4.6l.3-1.3l.4 14.5l.4 .5l.3 2.1l.4-4.6l.4 2.1l.3-8.7l.4 12l.4-1.2l.4-9.5l.3 4.9l.4-4l.4-.3l.3 .4l.4 4.2l.4-.8l.3-2.8l.4-1.5l.4 1.8l.4 6.7l.3 6.5l.4 2.5l.4-.3l.3-1.9l.4-.5l.4-9.4l.3 5.6l.4-4.8l.4 4.9l.3 4.4l.4 9.9l.4 3.3l.4-1.5l.3-.1l.4-3.9l.4 4.9l.3-.6l.4 3.7l.4 9.3l.3 5l.4-3.6l.4-3.1l.4 2.5l.3-13.4l.4-2.9l.4-10l.3-2.5l.4-3.3l.4-.1l.3 5.4l.4-4.1l.4 4.5l.3-5.6l.4 11.8l.4 3.4l.4 2.7l.3-6l.4-2.7l.4 1.5l.3 8.2l.4 7.4l.4 1.4l.3-1.4l.4 6.6l.4 5.1l.4 .8l.3 .2l.4 .4l.4-7.8l.3-6.2l.4-2.5l.4 6.8l.3 6.5l.4-4.1l.4 3.8l.3-4.7l.4 3.4l.4-4.6l.4 4.6l.3 2.9l.4-5.1l.4 1.1l.3 6.3l.4 .7l.4-1l.3 1.6l.4 1.4l.4-3.7l.4-6.9l.3-4.9l.4 4.2l.4 3.6l.3 11.7l.4 7.5l.4-.2l.3 .3l.4-1.1l.4 1.6l.3-4.9l.4-.2l.4-3.8l.4-3.5l.3-1.3l.4 .4l.4 9.6l.3-6.8l.4-3.8l.4 4.4l.3 1.7l.4-4l.4 5.7l.4-7.1l.3 1.4l.4 5.6l.4 2.2l.3-1.5l.4-4.8l.4-10.5l.3 4.4l.4 10.8l.4 12.8l.4 1.9l.3-3.6l.4-.1l.4-5.4l.3-7.8l.4-10.3l.4-2.6l.3-3.8l.4-2.9l.4-.1l.3 2.5l.4 6.7l.4 6.4l.4 3.7l.3-7.7l.4 11.4l.4-8.8l.3 5.2l.4-1.1l.4 1l.3 13.2l.4-5.1l.4-2.6l.4-13.3l.3 5.5l.4-4l.4 4l.3 11.5l.4 .1l.4 2.6l.3-5.1l.4-5.1l.4 .5l.3 14.4l.4-1.2l.4-9.7l.4-2.8l.3 8l.4 2.5l.4-4.9l.3-3.1l.4-2.8l.4-4.4l.3-12.7l.4 9.6l.4-8.8l.4 13.7l.3 3.4l.4-.1l.4-7.2l.3 6.1l.4 1.7l.4 5.7l.3-.9l.4-3.1l.4-7.8l.3-36.5l.4 31.6l.4-9.2l.4-1.2l.3 10.5l.4-1.8l.4-6.7l.3 .2l.4 10.5l.4 14.9l.3-2.6l.4-2.6l.4-15.8l.4 4.2l.3-5.4l.4 2.5l.4-.1l.3 0l.4 5.8l.4 .6l.3-5.6l.4 7.9l.4-2.9l.3 11.9l.4-1.7l.4 1.5l.4-5.1l.3 5.6l.4-2.5l.4 13.8l.3 7.6l.4 8.6l.4-1.6l.3-3.4l.4 4.1l.4 1.7l.4 1.9l.3-14.1l.4-6.5l.4-8.7l.3-1.6l.4-4.5l.4 13.7l.3 1.4l.4-7.1l.4-11.8l.4-10.1l.3-9.4l.4 3l.4 1.8l.3 11.2l.4 4.5l.4-1.5l.3 13.2l.4 7.1l.4 5.3l.3-10.7l.4 6.6l.4-8.3l.4 5.7l.3 3.7l.4-6.7l.4-.8l.3-7.9l.4 5l.4-5.1l.3 2.4l.4 2.9l.4 7.2l.4 9.8l.3-1.8l.4-3.1l.4-8.7l.3-2.3l.4 8.6l.4-6.1l.3 3.9l.4 9.1l.4-3.1l.3 2.1l.4-6.5l.4-5.2l.4 2.5l.3 3.9l.4 7.2l.4 1l.3 1.6l.4 2.7l.4 3l.3 4.2l.4 7.7l.4 5.6l.4-1.2l.3-4.2l.4-6.4l.4-3.5l.3 1l.4-1.1l.4 .5l.3-3.2l.4-.9l.4 .6l.3-2.3l.4-11.9l.4 6.4l.4-.6l.3 4.5l.4-2.6l.4 3.3l.3 2.4l.4 6.5l.4-.1l.3 .2l.4-9.2l.4-4.2l.4-2.8l.3 8.5l.4 .3l.4 8.7l.3-3.6l.4 3.6l.4-1.4l.3 4.4l.4 4.4l.4 .2l.3 1.3l.4-5l.4 6.8l.4 0l.3-6.4l.4 .1l.4 6.7l.3 4.6l.4 .2l.4-3.7l.3 .2l.4 .3l.4 4.9l.4 8.2l.3 3.6l.4-5l.4-5.4l.3-.8l.4-1l.4-3.1l.3-2.3l.4 .7l.4 2.6l.4 .1l.3-2.1l.4 2.4l.4 1.7l.3-6.5l.4-4.3l.4-2l.3 3.8l.4 2.7l.4-6.4l.3 9.7l.4 .1l.4 9.5l.4 1.9l.3-1.9l.4 2.8l.4 5.4l.3-3.8l.4 3.5l.4-1.1l.3 4.7l.4-3.9l.4-8.6l.4-8.6l.3 1.1l.4 3l.4 7l.3-2.2l.4-2.8l.4-3l.3 2l.4 0l.4 1.1l.3-7.7l.4 3.2l.4-2.1l.4 5.7l.3-5.2l.4 4.3l.4 3.8l.3 1.7l.4-1.9l.4 11.5l.3 1.5l.4 8.3l.4-4.9l.4 1.6l.3-1.1l.4-1.9l.4 .3l.3 6.6l.4 4.9l.4-4.2l.3-4l.4-2.2l.4 3.2l.3-2.8l.4-1.3l.4-1.2l.4 .3l.3-4.9l.4-.5l.4-3l.3 .7l.4-2.3l.4 1.5l.3-4.7l.4 .6l.4-4l.4-10.8l.3 2.9l.4-.5l.4 6.1l.3 11.4l.4 2l.4 3.4l.3-5.5l.4-11.4l.4-6.6l.3 3.1l.4 4.5l.4 19.1l.4 11.4l.3-6.3l.4-3.5l.4-9.7l.3 1.5l.4 2.1l.4 7.1l.3-.8l.4 2.2l.4 3l.4 10l.3 2.3l.4-.1l.4-3.8l.3 2.4l.4-2.4l.4 .2l.3-4.2l.4-6.3l.4-10.5l.4-1l.3-8.9l.4-39.1l.4 24.4l.3 .7l.4-2.5l.4 11.1l.3 5.8l.4 2.5l.4-5.4l.3-3.3l.4-5.1l.4 10.7l.4 2.4l.3 9.7l.4-8l.4-3.8l.3-7.1l.4 3.3l.4 3.5l.3 6.6l.4 5.3l.4 7.4l.4 13.2l.3 .6l.4-6l.4 .6l.3-9l.4-3.4l.4-6.7l.3-1.3l.4-.1l.4-7.8l.3 3.4l.4 6.5l.4 3.5l.4 1.5l.3 1.2l.4-4.5l.4-2.5l.3-8.4l.4 2.9l.4 2l.3-.5l.4 .5l.4-1.5l.4-3.5l.3-5.5l.4-8l.4-1.7l.3 3.9l.4 6.8l.4-3.4l.3 1.7l.4-5.6l.4 9.3l.3 .7l.4 3.3l.4-5.3l.4 6.7l.3-.1l.4 1.2l.4-6.6l.3 5.7l.4-4.1l.4 3.2l.3 5.4l.4 1.7l.4 1.4l.4 3.5l.3 1l.4 1.9l.4 1.7l.3-2.2l.4-4.6l.4 1.2l.3-5.7l.4 3.4l.4-1.9l.4-3.4l.3-2.5l.4 3.4l.4-7.5l.3 7.2l.4-7.8l.4 5.4l.3-1.9l.4 .8l.4-2l.3 .5l.4-7.8l.4 .5l.4 4.9l.3 .2l.4-1.8l.4 1.6l.3-9.3l.4-7l.4-4.8l.3 12.2l.4 3.8l.4 7.7l.4 3.6l.3-7.3l.4-4.6l.4-1l.3-5.1l.4-5.4l.4-9l.3-.5l.4 6.5l.4 12.1l.3 4.7l.4 8l.4-1l.4-.8l.3 .3l.4-2.7l.4-3.6l.3 2.8l.4 7l.4 7.5l.3-11.5l.4-1.1l.4-14.4l.4-2.1l.3-4.8l.4 .7l.4-7.1l.3-2.3l.4-6.9l.4-2.3l.3-2.5l.4 3.2l.4 9l.3-2.4l.4-3.1l.4-3.3l.4-15l.3-7.7l.4-1.6l.4 1.5l.3 7.4l.4 6.9l.4-1.8l.3 1.3l.4-4.6l.4 8.2l.4 8.6l.3 12.9l.4-6.2l.4 2.2l.3 2.3l.4-3.6l.4-7l.3 .7l.4-6.2l.4 12.8l.3-9.2l.4-2.4l.4-.4l.4 3.1l.3-30.7l.4 24.1l.4 .8l.3 3.2l.4 .8l.4-3.4l.3 4.3l.4 7l.4-8.1l.4-5.7l.3-1.4l.4 .7l.4 12l.3-6.6l.4 1.5l.4 .1l.3 2.7l.4 3.8l.4 3.1l.4 4.6l.3 .2l.4-.7l.4-1.6l.3-3.3l.4-2.2l.4 2.5l.3 1l.4 4.2l.4-12.4l.3-.1l.4-6.7l.4 2.2l.4 7.3l.3 11l.4 20.5l.4-.8l.3 11.5l.4-2.3l.4-3.6l.3-1l.4-5.4l.4 1.8l.4-1l.3-1.9l.4-.1l.4 3.8l.3 1.5l.4 15.3l.4 5.2l.3 2.3l.4-3.3l.4-6.6l.3-4.1l.4-10.2l.4 1.1l.4-1.4l.3 8.5l.4 .4l.4-2.9l.3 4.7l.4 2.6l.4-3.9l.3-4.9l.4-2.3l.4-1l.4 9l.3 1.9l.4 4.2l.4 7.5l.3-2.7l.4 9.4l.4-2.5l.3 6.5l.4-6.6l.4 1.7l.3-7.7l.4-.6l.4-8.1l.4-1.8l.3-3l.4 3.3l.4 3.6l.3-1.8l.4 4l.4-.5l.3 3.9l.4 .9l.4 7.9l.4-2.5l.3 2.1l.4-1.6l.4-5.3l.3-4l.4-5.2l.4 .5l.3-.4l.4 6.1l.4-3.6l.3 3.5l.4 4l.4 4.5l.4 10.5l.3 4.6l.4 2.9l.4-3.2l.3 2.4l.4-8.5l.4-2.1l.3-2.1l.4 2.6l.4 1.6l.4 10.3l.3-3.7l.4 2.1l.4-5l.3 4.4l.4 1.8l.4 2l.3-6.1l.4-5.9l.4 2.2l.4 1.8l.3 5.1l.4-10.1l.4 2.3l.3-4.3l.4-2.5l.4 1.3l.3 3.7l.4-2.2l.4-.8l.3-.2l.4-.5l.4 .5l.4-3.5l.3-.4l.4 2.1l.4 3.7l.3-.7l.4 .9l.4-5.1l.3 .9l.4 5l.4-.2l.4 .9l.3-1.9l.4 .7l.4-5.4l.3 4l.4 .4l.4-.4l.3-.8l.4 3.4l.4 2.9l.3 3l.4 2.5l.4 1.6l.4 3.1l.3-4.4l.4-6.1l.4-4.3l.3-1.6l.4-2.5l.4-5.2l.3 3l.4-4.9l.4-2.3l.4-2.7l.3 10.6l.4 7.8l.4 4.2l.3 5.1l.4-2.1l.4-4l.3 1.6l.4-1.2l.4 2.6l.3 .2l.4 3.6l.4-5.6l.4-7.1l.3-11.4l.4-6.8l.4 .8l.3-.5l.4 .3l.4 2.8l.3 2.3l.4 3.7l.4-2l.4 6.3l.3-.6l.4 3.4l.4 .7l.3 2.6l.4 .6l.4-3.6l.3 1.6l.4 4l.4 2.4l.3-1l.4-3.6l.4-.7l.4-3l.3 0l.4 3.7l.4 2.1l.3-4.8l.4-5.1l.4 2.1l.3-2.1l.4 0l.4-6.3l.4 1.9l.3-3.7l.4 1.5l.4 .9l.3-1.8l.4 3.5l.4 1.7l.3 2.1l.4-.5l.4 .1l.4 2.3l.3-2.6l.4-.5l.4-4.6l.3-2.8l.4-.7l.4 3.8l.3-4l.4 1.4l.4-.9l.3-1l.4 4l.4-.4l.4-3.3l.3 3.2l.4-1.8l.4-.5l.3 .5l.4-1.5l.4-5.8l.3 6.1l.4-.3l.4 3.6l.4-1.8l.3 6.5l.4 3.4l.4-.4l.3-3.9l.4 2.4l.4-6.5l.3 2.2l.4-.5l.4-.1l.3-2.7l.4-1.9l.4 5.4l.4-4.1l.3-3.9l.4-.1l.4 1.9l.3 2.3l.4-4.7l.4-2.4l.3-2.9l.4-7.7l.4 3.7l.4-7.4l.3 3.7l.4-2.4l.4 7.1l.3 3.3l.4 2.6l.4-1.8l.3-2.3l.4-.2l.4-.8l.3-2l.4 2.2l.4 2.6l.4-5.9l.3 11.1l.4-6.2l.4-13.9l.3-4.3l.4-2.6l.4-1.5l.3 5.7l.4 2.1l.4 2.5l.4-3l.3 3.5l.4 5.5l.4 5.6l.3 6l.4 2.6l.4 2.5l.3-2.8l.4-.6l.4 5.2l.3-5.3l.4-10.1l.4-2.3l.4 5l.3 2.5l.4-1.9l.4 1.2l.3 0l.4-3.7l.4-2.6l.3-.3l.4 1.7l.4 7.6l.4 5.1l.3-3.3l.4-.4l.4 4.7l.3-3.7l.4 .9l.4 .8l.3 0l.4 .5l.4 1.5l.4-.2l.3 5.9l.4 4.1l.4 .8l.3 2.2l.4 1.5l.4 5.6l.3 1.5l.4-2l.4 0l.3 6.9l.4 0l.4-1.9l.4-4.7l.3-3.8l.4 .1l.4-4l.3 .4l.4-2.7l.4-3.9l.3 .4l.4-1.5l.4 .7l.4 1.2l.3 1.3l.4 2.3l.4 1.5l.3-.6l.4-6.2l.4-3.9l.3 2l.4-1.8l.4 7l.3-1.3l.4-1.2l.4 3.7l.4 4.7l.3 4.7l.4 3.3l.4-.9l.3-1.5l.4-1.2l.4-1.4l.3-4.7l.4-2l.4-5.3l.4-2.5l.3 2.7l.4 4.1l.4 4l.3 1.9l.4 4l.4 1.4l.3-2.4l.4-4l.4-4.2l.3-2l.4 1.2l.4-2.3l.4 2.3l.3-.7l.4 1.1l.4 2.5l.3 .2l.4-.6l.4-4.6l.3-1l.4-.1l.4-1.1l.4-1.3l.3 2l.4 .7l.4 7.7l.3 2.5l.4 1.2l.4-1.5l.3-1.8l.4 .9l.4 1.8l.4 3.7l.3 .5l.4 1.4l.4-4.5l.3-3.1l.4-.5l.4-2.2l.3 .9l.4-2.3l.4-.2l.3-.5l.4 2.8l.4-4.7l.4-3l.3 .2l.4 .4l.4 7l.3 4l.4 3.2l.4 3l.3-.5l.4-3.3l.4-4.8l.4-4l.3-.3l.4 5.6l.4 3.4l.3 1.3l.4 0l.4-1.1l.3-1.6l.4-2.5l.4-.1l.3 2l.4 0l.4 2.6l.4-1l.3 1.7l.4-2.6l.4 .6l.3-4.5l.4 5.1l.4-3.7l.3 3.2l.4-.1l.4 1l.4 2.8l.3-.8l.4-.6l.4-1.7l.3 .5l.4-3.3l.4 1.8l.3 2.1l.4 1.7l.4-.2l.3 2.1l.4-2.4l.4-.8l.4 2.5l.3-1.6l.4-4l.4 1.9l.3-1.8l.4 1l.4 1.2l.3-1l.4 0l.4-4.2l.4 2l.3-1.3l.4 4.2l.4-1.2l.3 1.8l.4 2.4l.4 2l.3 3.9l.4 .4l.4-.7l.3-2.5l.4-1l.4-2.1l.4-2.1l.3-.3l.4-4.1l.4 2.1l.3-.1l.4 5.6l.4 6.7l.3-2.1l.4-1.1l.4-3.6l.4-2.1l.3-.2l.4-3.8l.4-1.6l.3 2.4l.4-4.5l.4 5.3l.3-1.4l.4-4.9l.4-6.5l.4-.1l.3 0l.4-.9l.4 .7l.3-3.5l.4 4.5l.4 .5l.3-1.7l.4 2.1l.4 2.3l.3-2.3l.4-2.1l.4 .7l.4 .6l.3 1.6l.4 6l.4 .3l.3 1.8l.4 .3l.4-1.1l.3-3.8l.4-1.5l.4-2.4l.4-3l.3 1.9l.4 1l.4 .6l.3-1.4l.4-2.6l.4 1.5l.3-.8l.4-.4l.4 2.4l.3-3.1l.4 4.4l.4-1.5l.4-2.3l.3 1.1l.4-3.8l.4 1l.3-2l.4-1.4l.4-1.4l.3 1.3l.4-4.7l.4-2.3l.4 .5l.3 3.1l.4 .7l.4 4.6l.3 8.8l.4-.4l.4-.7l.3-1.8l.4-.9l.4-3.7l.3 1.1l.4-2.7l.4-4.3l.4-2.4l.3 1.4l.4 .8l.4 7.1l.3-2.8l.4 6.9l.4-3.5l.3 1.3l.4-5l.4-.6l.4-2.8l.3-1.7l.4-.6l.4-4.3l.3-7.2l.4 4.6l.4-1.5l.3 5.9l.4-.5l.4 1.9l.3-.1l.4-7.3l.4-2l.4 3.5l.3 2.6l.4 2.5l.4 4.7l.3-26l.4 26.2l.4-6.6l.3-1.2l.4-3.2l.4-3.3l.4 .6l.3 4.7l.4 3.8l.4-.9l.3 5.5l.4 3.7l.4 1.8l.3 4.6l.4 .1l.4-5.6l.4-4.3l.3-2.9l.4 1.4l.4 1.5l.3-1.5l.4-1.7l.4 6.1l.3-2.3l.4 5l.4-5.5l.3-1.1l.4-.9l.4-1l.4 3.3l.3 2.5l.4 4.6l.4 1l.3 2.5l.4-4.6l.4 .8l.3-8.8l.4-9.9l.4-8.6l.4 3.7l.3-3.5l.4 1l.4 .4l.3 11.8l.4 8.6l.4 3l.3-2.1l.4 2.3l.4 1.6l.3-.6l.4 1.4l.4-.6l.4-7.6l.3 2.7l.4-6.9l.4 3.1l.3-3l.4-2.1l.4 .8l.3 .5l.4-2l.4 6.4l.4 3.2l.3 5l.4 2.3l.4 .4l.3-2.4l.4-1l.4 .3l.3 6.1l.4-2.6l.4 1.5l.3-5.6l.4-1l.4 2.8l.4-5.4l.3 1.5l.4-1.9l.4 1.6l.3-3l.4 .2l.4-2.7l.3 1.3l.4 .6l.4 1.1l.4 2.3l.3-6.7l.4-1.3l.4 4.6l.3 2l.4 .2l.4 .1l.3 5l.4 1.8l.4-.7l.3 1.2l.4-6.8l.4-1.9l.4-1.1l.3 3.3l.4 1.8l.4 2.5l.3-3.1l.4 .6l.4-.4l.3 .5l.4 .2l.4 .4l.4 4.2l.3 .3l.4 2.8l.4-1.6l.3-3.4l.4 .9l.4-2l.3 3.5l.4 1.4l.4 4.5l.4-1.1l.3 1.9l.4-2.4l.4-2.4l.3-4.1l.4 .2l.4-.5l.3 1.5l.4-3.8l.4 2l.3-.9l.4 .5l.4 .9l.4-1l.3 1.8l.4-1.8l.4 2.8l.3 1l.4 2.4l.4-1.8l.3-.5l.4 .1l.4 1.6l.4 1.3l.3 .4l.4 1.3l.4 1l.3-2l.4-1.9l.4 .3l.3-1.2l.4-2.4l.4 1.7l.3 .8l.4 3l.4-1.4l.4-.4l.3-2.7l.4 1.5l.4-2.3l.3-.3l.4 1.9l.4-.7l.3-.8l.4 0l.4 2l.4 1.6l.3-1.5l.4 1.3l.4 .4l.3 .6l.4 .2l.4-.7l.3-1.4l.4-3.4l.4-2.2l.3 .1l.4 2.7l.4 1.8l.4 1.6l.3 2.5l.4-1.5l.4 .1l.3-2.8l.4-1.1l.4 .2l.3 .5l.4 1.4l.4 .4l.4 .3l.3 3l.4-1l.4 .1l.3-2.1l.4-2.2l.4-2.2l.3-1.1l.4-.3l.4 1.5l.3-.1l.4 3.4l.4-1l.4-.3l.3 2.3l.4-.6l.4 2.4l.3-1.1l.4 1.8l.4 1.5l.3 1.1l.4-.5l.4-.5l.4-1.7l.3 1.5l.4-2l.4-1.7l.3-2.7l.4-.9l.4-.5l.3-.4l.4 .2l.4 .9l.4 1.8l.3-.7l.4-.1l.4 .8l.3 .7l.4-2.3l.4 1.5l.3 1.9l.4-.1l.4 .7l.3 .4l.4-1.4l.4 .1l.4 1.2l.3-.6l.4 1.3l.4 .9l.3-2.4l.4-2.9l.4 2l.3-1l.4-1l.4-.3l.4-2.8l.3-1l.4 1.1l.4 2.1l.3 1.9" stroke="#ff00ff"/>
</g>
<path d="M218 1890.3H2108" stroke="#000" stroke-width="11" stroke-dasharray="38 35.6"/>
<text x="203" y="656" font-size="46.3" fill="#0000ff" text-anchor="end">0</text>
<text x="203" y="558.4" font-size="46.3" fill="#0000ff" text-anchor="end">2</text>
<text x="203" y="460.8" font-size="46.3" fill="#0000ff" text-anchor="end">4</text>
<text x="203" y="363.2" font-size="46.3" fill="#0000ff" text-anchor="end">6</text>
<text x="203" y="265.7" font-size="46.3" fill="#0000ff" text-anchor="end">8</text>
<text x="203" y="168.1" font-size="46.3" fill="#0000ff" text-anchor="end">10</text>
<text x="203" y="70.5" font-size="46.3" fill="#0000ff" text-anchor="end">12</text>
<text x="2121" y="656" font-size="46.3" fill="#ff00ff" text-anchor="start">500</text>
<text x="2121" y="509.6" font-size="46.3" fill="#ff00ff" text-anchor="start">600</text>
<text x="2121" y="363.2" font-size="46.3" fill="#ff00ff" text-anchor="start">700</text>
<text x="2121" y="216.9" font-size="46.3" fill="#ff00ff" text-anchor="start">800</text>
<text x="2121" y="70.5" font-size="46.3" fill="#ff00ff" text-anchor="start">900</text>
<text x="217.5" y="701.3" font-size="46.3" fill="#262626" text-anchor="middle">2006</text>
<text x="217.5" y="2056.5" font-size="46.3" fill="#262626" text-anchor="middle">2006</text>
<text x="352.5" y="701.3" font-size="46.3" fill="#262626" text-anchor="middle">2007</text>
<text x="352.5" y="2056.5" font-size="46.3" fill="#262626" text-anchor="middle">2007</text>
<text x="487.5" y="701.3" font-size="46.3" fill="#262626" text-anchor="middle">2008</text>
<text x="487.5" y="2056.5" font-size="46.3" fill="#262626" text-anchor="middle">2008</text>
<text x="622.5" y="701.3" font-size="46.3" fill="#262626" text-anchor="middle">2009</text>
<text x="622.5" y="2056.5" font-size="46.3" fill="#262626" text-anchor="middle">2009</text>
<text x="757.5" y="701.3" font-size="46.3" fill="#262626" text-anchor="middle">2010</text>
<text x="757.5" y="2056.5" font-size="46.3" fill="#262626" text-anchor="middle">2010</text>
<text x="892.5" y="701.3" font-size="46.3" fill="#262626" text-anchor="middle">2011</text>
<text x="892.5" y="2056.5" font-size="46.3" fill="#262626" text-anchor="middle">2011</text>
<text x="1027.5" y="701.3" font-size="46.3" fill="#262626" text-anchor="middle">2012</text>
<text x="1027.5" y="2056.5" font-size="46.3" fill="#262626" text-anchor="middle">2012</text>
<text x="1162.5" y="701.3" font-size="46.3" fill="#262626" text-anchor="middle">2013</text>
<text x="1162.5" y="2056.5" font-size="46.3" fill="#262626" text-anchor="middle">2013</text>
<text x="1297.5" y="701.3" font-size="46.3" fill="#262626" text-anchor="middle">2014</text>
<text x="1297.5" y="2056.5" font-size="46.3" fill="#262626" text-anchor="middle">2014</text>
<text x="1432.5" y="701.3" font-size="46.3" fill="#262626" text-anchor="middle">2015</text>
<text x="1432.5" y="2056.5" font-size="46.3" fill="#262626" text-anchor="middle">2015</text>
<text x="1567.5" y="701.3" font-size="46.3" fill="#262626" text-anchor="middle">2016</text>
<text x="1567.5" y="2056.5" font-size="46.3" fill="#262626" text-anchor="middle">2016</text>
<text x="1702.5" y="701.3" font-size="46.3" fill="#262626" text-anchor="middle">2017</text>
<text x="1702.5" y="2056.5" font-size="46.3" fill="#262626" text-anchor="middle">2017</text>
<text x="1837.5" y="701.3" font-size="46.3" fill="#262626" text-anchor="middle">2018</text>
<text x="1837.5" y="2056.5" font-size="46.3" fill="#262626" text-anchor="middle">2018</text>
<text x="1972.5" y="701.3" font-size="46.3" fill="#262626" text-anchor="middle">2019</text>
<text x="1972.5" y="2056.5" font-size="46.3" fill="#262626" text-anchor="middle">2019</text>
<text x="2107.5" y="701.3" font-size="46.3" fill="#262626" text-anchor="middle">2020</text>
<text x="2107.5" y="2056.5" font-size="46.3" fill="#262626" text-anchor="middle">2020</text>
<text x="206" y="1423.6" font-size="42.1" fill="#d95319" text-anchor="end">0</text>
<text x="206" y="1337.3" font-size="42.1" fill="#d95319" text-anchor="end">20</text>
<text x="206" y="1251.1" font-size="42.1" fill="#d95319" text-anchor="end">40</text>
<text x="206" y="1164.8" font-size="42.1" fill="#d95319" text-anchor="end">60</text>
<text x="206" y="1078.6" font-size="42.1" fill="#d95319" text-anchor="end">80</text>
<text x="206" y="992.3" font-size="42.1" fill="#d95319" text-anchor="end">100</text>
<text x="203" y="2011" font-size="46.3" fill="#0000ff" text-anchor="end">50</text>
<text x="2121" y="2011" font-size="46.3" fill="#ff00ff" text-anchor="start">50</text>
<text x="203" y="1838.9" font-size="46.3" fill="#0000ff" text-anchor="end">100</text>
<text x="2121" y="1838.9" font-size="46.3" fill="#ff00ff" text-anchor="start">100</text>
<text x="203" y="1666.9" font-size="46.3" fill="#0000ff" text-anchor="end">150</text>
<text x="2121" y="1666.9" font-size="46.3" fill="#ff00ff" text-anchor="start">150</text>
<text x="203" y="1494.8" font-size="46.3" fill="#0000ff" text-anchor="end">200</text>
<text x="2121" y="1494.8" font-size="46.3" fill="#ff00ff" text-anchor="start">200</text>
<text x="1163" y="768.8" font-size="51.8" fill="#262626" text-anchor="middle">Year/doy</text>
<text x="1163" y="2123.9" font-size="51.8" fill="#262626" text-anchor="middle">Year/doy</text>
<text x="687" y="871.2" font-size="72" fill="#000" text-anchor="start">(a) PodTec dataset description</text>
<text x="468.5" y="2225.1" font-size="71.4" fill="#000" text-anchor="start">(b) Geomagnetic and solar activity condition</text>
<text transform="translate(63.6 0) rotate(-90)" x="-595.2" y="0" font-size="51.5" fill="#0000ff" textLength="484.1" lengthAdjust="spacing">Observation numbers</text>
<text transform="translate(129.9 0) rotate(-90)" x="-427.7" y="0" font-size="51.5" fill="#0000ff">[</text>
<text transform="translate(135.7 0) rotate(-90)" x="-408.5" y="0" font-size="55.0" fill="#0000ff">×</text>
<text transform="translate(129.9 0) rotate(-90)" x="-369.9" y="0" font-size="51.5" fill="#0000ff" textLength="53.8" lengthAdjust="spacing">10</text>
<text transform="translate(105.1 0) rotate(-90)" x="-313.9" y="0" font-size="40.5" fill="#0000ff">4</text>
<text transform="translate(129.9 0) rotate(-90)" x="-288.4" y="0" font-size="51.5" fill="#0000ff">]</text>
<text transform="translate(2264.4 0) rotate(-90)" x="-613.9" y="0" font-size="51.8" fill="#ff00ff" textLength="534.8" lengthAdjust="spacing">Mean LEO altitude [km]</text>
<text transform="translate(113.8 0) rotate(-90)" x="-1249" y="0" font-size="47.4" fill="#d95319" textLength="147" lengthAdjust="spacing">ap [nT]</text>
<text transform="translate(81 0) rotate(-90)" x="-1816.5" y="0" font-size="52.0" fill="#0000ff">M</text>
<text transform="translate(105 0) rotate(-90)" x="-1772.1" y="0" font-size="40.8" fill="#0000ff" textLength="77.2" lengthAdjust="spacing">10.7</text>
<text transform="translate(81 0) rotate(-90)" x="-1679.7" y="0" font-size="51.5" fill="#0000ff" textLength="96.3" lengthAdjust="spacing">[sfu]</text>
<text transform="translate(2270 0) rotate(-90)" x="-1812.6" y="0" font-size="55.5" fill="#ff00ff">M</text>
<text transform="translate(2298 0) rotate(-90)" x="-1762.3" y="0" font-size="44.7" fill="#ff00ff" textLength="48" lengthAdjust="spacing">10</text>
<text transform="translate(2270 0) rotate(-90)" x="-1696.6" y="0" font-size="55.0" fill="#ff00ff" textLength="108.5" lengthAdjust="spacing">[sfu]</text>
</svg></body></html>
